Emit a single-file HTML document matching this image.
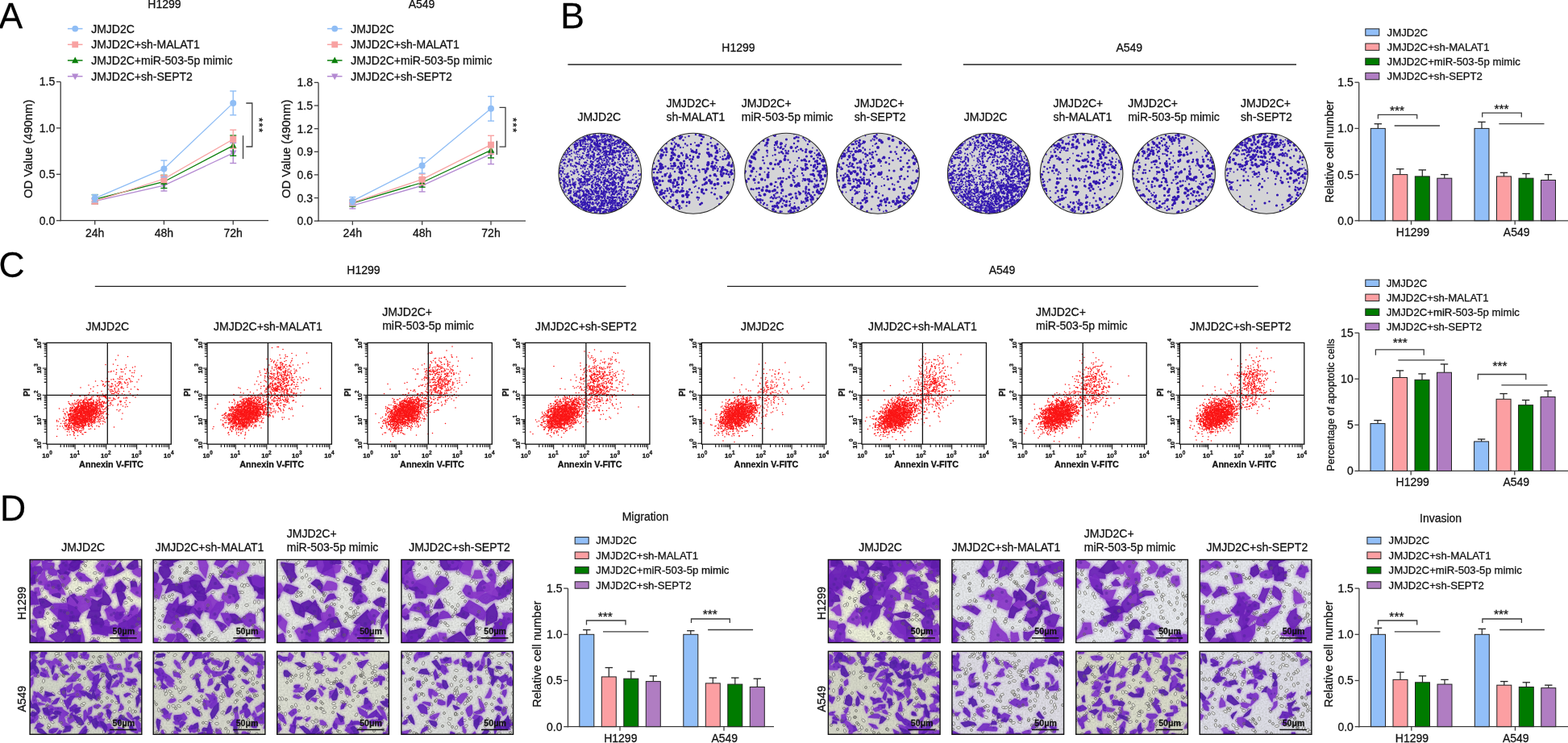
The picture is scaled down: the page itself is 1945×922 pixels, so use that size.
<!DOCTYPE html>
<html><head><meta charset="utf-8"><title>Figure</title>
<style>html,body{margin:0;padding:0;background:#fff;overflow:hidden}svg{display:block}text{stroke:#111;stroke-width:0.28px}</style></head>
<body><svg width="1945" height="922" viewBox="0 0 1945 922" font-family="'Liberation Sans', Arial, sans-serif" font-size="13.6" fill="#111">
<rect width="1945" height="922" fill="#fff"/>
<text x="-1.5" y="34.9" font-size="44.5" fill="#000">A</text>
<text x="695.3" y="34.9" font-size="44.5" fill="#000">B</text>
<text x="-1.5" y="344" font-size="44.5" fill="#000">C</text>
<text x="0" y="646" font-size="44.5" fill="#000">D</text>
<text x="204" y="10.3" text-anchor="middle" font-size="14">H1299</text>
<line x1="83.9" y1="35.6" x2="102.5" y2="35.6" stroke="#8fbdf5" stroke-width="1.5"/>
<circle cx="93.2" cy="35.6" r="3.9" fill="#8fbdf5"/>
<text x="113.2" y="40.5" font-size="14">JMJD2C</text>
<line x1="83.9" y1="55.3" x2="102.5" y2="55.3" stroke="#f8a2a2" stroke-width="1.5"/>
<rect x="89.3" y="51.4" width="7.8" height="7.8" fill="#f8a2a2"/>
<text x="113.2" y="60.2" font-size="14">JMJD2C+sh-MALAT1</text>
<line x1="83.9" y1="75" x2="102.5" y2="75" stroke="#0b7f0b" stroke-width="1.5"/>
<polygon points="93.2,70.5 97.4,78.3 89,78.3" fill="#0b7f0b"/>
<text x="113.2" y="79.9" font-size="14">JMJD2C+miR-503-5p mimic</text>
<line x1="83.9" y1="94.7" x2="102.5" y2="94.7" stroke="#b48ad2" stroke-width="1.5"/>
<polygon points="93.2,99.2 97.4,91.4 89,91.4" fill="#b48ad2"/>
<text x="113.2" y="99.6" font-size="14">JMJD2C+sh-SEPT2</text>
<line x1="75.2" y1="101.5" x2="75.2" y2="274.3" stroke="#3c3c3c" stroke-width="1.3"/>
<line x1="74.5" y1="273.7" x2="333" y2="273.7" stroke="#3c3c3c" stroke-width="1.3"/>
<line x1="69.9" y1="273.7" x2="75.2" y2="273.7" stroke="#3c3c3c" stroke-width="1.3"/>
<text x="68.2" y="278.6" text-anchor="end" font-size="14">0.0</text>
<line x1="69.9" y1="216.3" x2="75.2" y2="216.3" stroke="#3c3c3c" stroke-width="1.3"/>
<text x="68.2" y="221.2" text-anchor="end" font-size="14">0.5</text>
<line x1="69.9" y1="158.9" x2="75.2" y2="158.9" stroke="#3c3c3c" stroke-width="1.3"/>
<text x="68.2" y="163.8" text-anchor="end" font-size="14">1.0</text>
<line x1="69.9" y1="101.5" x2="75.2" y2="101.5" stroke="#3c3c3c" stroke-width="1.3"/>
<text x="68.2" y="106.4" text-anchor="end" font-size="14">1.5</text>
<line x1="117.7" y1="273.7" x2="117.7" y2="278.7" stroke="#3c3c3c" stroke-width="1.3"/>
<text x="117.7" y="293.8" text-anchor="middle" font-size="14">24h</text>
<line x1="203.4" y1="273.7" x2="203.4" y2="278.7" stroke="#3c3c3c" stroke-width="1.3"/>
<text x="203.4" y="293.8" text-anchor="middle" font-size="14">48h</text>
<line x1="289.2" y1="273.7" x2="289.2" y2="278.7" stroke="#3c3c3c" stroke-width="1.3"/>
<text x="289.2" y="293.8" text-anchor="middle" font-size="14">72h</text>
<text x="40" y="184.8" text-anchor="middle" font-size="14.8" transform="rotate(-90 40 184.8)">OD Value (490nm)</text>
<polyline points="117.7,249.6 203.4,230.1 289.2,189.9" stroke="#b48ad2" stroke-width="1.3" fill="none"/>
<polyline points="117.7,247.3 203.4,225.5 289.2,180.7" stroke="#0b7f0b" stroke-width="1.3" fill="none"/>
<polyline points="117.7,249.6 203.4,222 289.2,172.7" stroke="#f8a2a2" stroke-width="1.3" fill="none"/>
<polyline points="117.7,246.1 203.4,209.4 289.2,127.9" stroke="#8fbdf5" stroke-width="1.3" fill="none"/>
<line x1="117.7" y1="246.1" x2="117.7" y2="253" stroke="#b48ad2" stroke-width="1.4"/>
<line x1="113.7" y1="246.1" x2="121.7" y2="246.1" stroke="#b48ad2" stroke-width="1.4"/>
<line x1="113.7" y1="253" x2="121.7" y2="253" stroke="#b48ad2" stroke-width="1.4"/>
<polygon points="117.7,254.2 122,246.2 113.4,246.2" fill="#b48ad2"/>
<line x1="203.4" y1="223.2" x2="203.4" y2="237" stroke="#b48ad2" stroke-width="1.4"/>
<line x1="199.4" y1="223.2" x2="207.4" y2="223.2" stroke="#b48ad2" stroke-width="1.4"/>
<line x1="199.4" y1="237" x2="207.4" y2="237" stroke="#b48ad2" stroke-width="1.4"/>
<polygon points="203.4,234.7 207.7,226.7 199.1,226.7" fill="#b48ad2"/>
<line x1="289.2" y1="177.3" x2="289.2" y2="202.5" stroke="#b48ad2" stroke-width="1.4"/>
<line x1="285.2" y1="177.3" x2="293.2" y2="177.3" stroke="#b48ad2" stroke-width="1.4"/>
<line x1="285.2" y1="202.5" x2="293.2" y2="202.5" stroke="#b48ad2" stroke-width="1.4"/>
<polygon points="289.2,194.5 293.5,186.5 284.9,186.5" fill="#b48ad2"/>
<line x1="117.7" y1="241.6" x2="117.7" y2="253" stroke="#0b7f0b" stroke-width="1.4"/>
<line x1="113.7" y1="241.6" x2="121.7" y2="241.6" stroke="#0b7f0b" stroke-width="1.4"/>
<line x1="113.7" y1="253" x2="121.7" y2="253" stroke="#0b7f0b" stroke-width="1.4"/>
<polygon points="117.7,242.7 122,250.7 113.4,250.7" fill="#0b7f0b"/>
<line x1="203.4" y1="217.4" x2="203.4" y2="233.5" stroke="#0b7f0b" stroke-width="1.4"/>
<line x1="199.4" y1="217.4" x2="207.4" y2="217.4" stroke="#0b7f0b" stroke-width="1.4"/>
<line x1="199.4" y1="233.5" x2="207.4" y2="233.5" stroke="#0b7f0b" stroke-width="1.4"/>
<polygon points="203.4,220.9 207.7,228.9 199.1,228.9" fill="#0b7f0b"/>
<line x1="289.2" y1="168.1" x2="289.2" y2="193.3" stroke="#0b7f0b" stroke-width="1.4"/>
<line x1="285.2" y1="168.1" x2="293.2" y2="168.1" stroke="#0b7f0b" stroke-width="1.4"/>
<line x1="285.2" y1="193.3" x2="293.2" y2="193.3" stroke="#0b7f0b" stroke-width="1.4"/>
<polygon points="289.2,176.1 293.5,184.1 284.9,184.1" fill="#0b7f0b"/>
<line x1="117.7" y1="246.1" x2="117.7" y2="253" stroke="#f8a2a2" stroke-width="1.4"/>
<line x1="113.7" y1="246.1" x2="121.7" y2="246.1" stroke="#f8a2a2" stroke-width="1.4"/>
<line x1="113.7" y1="253" x2="121.7" y2="253" stroke="#f8a2a2" stroke-width="1.4"/>
<rect x="113.7" y="245.6" width="8" height="8" fill="#f8a2a2"/>
<line x1="203.4" y1="217.4" x2="203.4" y2="226.6" stroke="#f8a2a2" stroke-width="1.4"/>
<line x1="199.4" y1="217.4" x2="207.4" y2="217.4" stroke="#f8a2a2" stroke-width="1.4"/>
<line x1="199.4" y1="226.6" x2="207.4" y2="226.6" stroke="#f8a2a2" stroke-width="1.4"/>
<rect x="199.4" y="218" width="8" height="8" fill="#f8a2a2"/>
<line x1="289.2" y1="161.2" x2="289.2" y2="184.2" stroke="#f8a2a2" stroke-width="1.4"/>
<line x1="285.2" y1="161.2" x2="293.2" y2="161.2" stroke="#f8a2a2" stroke-width="1.4"/>
<line x1="285.2" y1="184.2" x2="293.2" y2="184.2" stroke="#f8a2a2" stroke-width="1.4"/>
<rect x="285.2" y="168.7" width="8" height="8" fill="#f8a2a2"/>
<line x1="117.7" y1="241.6" x2="117.7" y2="250.7" stroke="#8fbdf5" stroke-width="1.4"/>
<line x1="113.7" y1="241.6" x2="121.7" y2="241.6" stroke="#8fbdf5" stroke-width="1.4"/>
<line x1="113.7" y1="250.7" x2="121.7" y2="250.7" stroke="#8fbdf5" stroke-width="1.4"/>
<circle cx="117.7" cy="246.1" r="4.0" fill="#8fbdf5"/>
<line x1="203.4" y1="199.1" x2="203.4" y2="219.7" stroke="#8fbdf5" stroke-width="1.4"/>
<line x1="199.4" y1="199.1" x2="207.4" y2="199.1" stroke="#8fbdf5" stroke-width="1.4"/>
<line x1="199.4" y1="219.7" x2="207.4" y2="219.7" stroke="#8fbdf5" stroke-width="1.4"/>
<circle cx="203.4" cy="209.4" r="4.0" fill="#8fbdf5"/>
<line x1="289.2" y1="113" x2="289.2" y2="142.8" stroke="#8fbdf5" stroke-width="1.4"/>
<line x1="285.2" y1="113" x2="293.2" y2="113" stroke="#8fbdf5" stroke-width="1.4"/>
<line x1="285.2" y1="142.8" x2="293.2" y2="142.8" stroke="#8fbdf5" stroke-width="1.4"/>
<circle cx="289.2" cy="127.9" r="4.0" fill="#8fbdf5"/>
<polyline points="305.3,128 312.8,128 312.8,182 305.3,182" stroke="#3c3c3c" stroke-width="1.3" fill="none"/>
<line x1="301.5" y1="168.2" x2="301.5" y2="197.2" stroke="#3c3c3c" stroke-width="1.3"/>
<text x="317" y="155.8" text-anchor="middle" font-size="13.5" transform="rotate(90 317 155.8)" letter-spacing="1.3">***</text>
<text x="523" y="10.3" text-anchor="middle" font-size="14">A549</text>
<line x1="405.9" y1="35.6" x2="424.5" y2="35.6" stroke="#8fbdf5" stroke-width="1.5"/>
<circle cx="415.2" cy="35.6" r="3.9" fill="#8fbdf5"/>
<text x="435.2" y="40.5" font-size="14">JMJD2C</text>
<line x1="405.9" y1="55.3" x2="424.5" y2="55.3" stroke="#f8a2a2" stroke-width="1.5"/>
<rect x="411.3" y="51.4" width="7.8" height="7.8" fill="#f8a2a2"/>
<text x="435.2" y="60.2" font-size="14">JMJD2C+sh-MALAT1</text>
<line x1="405.9" y1="75" x2="424.5" y2="75" stroke="#0b7f0b" stroke-width="1.5"/>
<polygon points="415.2,70.5 419.4,78.3 411,78.3" fill="#0b7f0b"/>
<text x="435.2" y="79.9" font-size="14">JMJD2C+miR-503-5p mimic</text>
<line x1="405.9" y1="94.7" x2="424.5" y2="94.7" stroke="#b48ad2" stroke-width="1.5"/>
<polygon points="415.2,99.2 419.4,91.4 411,91.4" fill="#b48ad2"/>
<text x="435.2" y="99.6" font-size="14">JMJD2C+sh-SEPT2</text>
<line x1="395" y1="102.4" x2="395" y2="274.8" stroke="#3c3c3c" stroke-width="1.3"/>
<line x1="394.4" y1="274.2" x2="652" y2="274.2" stroke="#3c3c3c" stroke-width="1.3"/>
<line x1="389.7" y1="274.2" x2="395" y2="274.2" stroke="#3c3c3c" stroke-width="1.3"/>
<text x="388" y="279.1" text-anchor="end" font-size="14">0.0</text>
<line x1="389.7" y1="245.6" x2="395" y2="245.6" stroke="#3c3c3c" stroke-width="1.3"/>
<text x="388" y="250.5" text-anchor="end" font-size="14">0.3</text>
<line x1="389.7" y1="216.9" x2="395" y2="216.9" stroke="#3c3c3c" stroke-width="1.3"/>
<text x="388" y="221.8" text-anchor="end" font-size="14">0.6</text>
<line x1="389.7" y1="188.3" x2="395" y2="188.3" stroke="#3c3c3c" stroke-width="1.3"/>
<text x="388" y="193.2" text-anchor="end" font-size="14">0.9</text>
<line x1="389.7" y1="159.7" x2="395" y2="159.7" stroke="#3c3c3c" stroke-width="1.3"/>
<text x="388" y="164.6" text-anchor="end" font-size="14">1.2</text>
<line x1="389.7" y1="131" x2="395" y2="131" stroke="#3c3c3c" stroke-width="1.3"/>
<text x="388" y="135.9" text-anchor="end" font-size="14">1.5</text>
<line x1="389.7" y1="102.4" x2="395" y2="102.4" stroke="#3c3c3c" stroke-width="1.3"/>
<text x="388" y="107.3" text-anchor="end" font-size="14">1.8</text>
<line x1="437.3" y1="274.2" x2="437.3" y2="279.2" stroke="#3c3c3c" stroke-width="1.3"/>
<text x="437.3" y="294.3" text-anchor="middle" font-size="14">24h</text>
<line x1="523.6" y1="274.2" x2="523.6" y2="279.2" stroke="#3c3c3c" stroke-width="1.3"/>
<text x="523.6" y="294.3" text-anchor="middle" font-size="14">48h</text>
<line x1="609" y1="274.2" x2="609" y2="279.2" stroke="#3c3c3c" stroke-width="1.3"/>
<text x="609" y="294.3" text-anchor="middle" font-size="14">72h</text>
<text x="359.8" y="184.8" text-anchor="middle" font-size="14.8" transform="rotate(-90 359.8 184.8)">OD Value (490nm)</text>
<polyline points="437.3,255.1 523.6,230.3 609,191.2" stroke="#b48ad2" stroke-width="1.3" fill="none"/>
<polyline points="437.3,252.2 523.6,226.5 609,186.4" stroke="#0b7f0b" stroke-width="1.3" fill="none"/>
<polyline points="437.3,251.3 523.6,222.7 609,179.7" stroke="#f8a2a2" stroke-width="1.3" fill="none"/>
<polyline points="437.3,249.4 523.6,205.5 609,134.8" stroke="#8fbdf5" stroke-width="1.3" fill="none"/>
<line x1="437.3" y1="251.3" x2="437.3" y2="258.9" stroke="#b48ad2" stroke-width="1.4"/>
<line x1="433.3" y1="251.3" x2="441.3" y2="251.3" stroke="#b48ad2" stroke-width="1.4"/>
<line x1="433.3" y1="258.9" x2="441.3" y2="258.9" stroke="#b48ad2" stroke-width="1.4"/>
<polygon points="437.3,259.7 441.6,251.7 433,251.7" fill="#b48ad2"/>
<line x1="523.6" y1="222.7" x2="523.6" y2="237.9" stroke="#b48ad2" stroke-width="1.4"/>
<line x1="519.6" y1="222.7" x2="527.6" y2="222.7" stroke="#b48ad2" stroke-width="1.4"/>
<line x1="519.6" y1="237.9" x2="527.6" y2="237.9" stroke="#b48ad2" stroke-width="1.4"/>
<polygon points="523.6,234.9 527.9,226.9 519.3,226.9" fill="#b48ad2"/>
<line x1="609" y1="178.8" x2="609" y2="203.6" stroke="#b48ad2" stroke-width="1.4"/>
<line x1="605" y1="178.8" x2="613" y2="178.8" stroke="#b48ad2" stroke-width="1.4"/>
<line x1="605" y1="203.6" x2="613" y2="203.6" stroke="#b48ad2" stroke-width="1.4"/>
<polygon points="609,195.8 613.3,187.8 604.7,187.8" fill="#b48ad2"/>
<line x1="437.3" y1="248.4" x2="437.3" y2="256.1" stroke="#0b7f0b" stroke-width="1.4"/>
<line x1="433.3" y1="248.4" x2="441.3" y2="248.4" stroke="#0b7f0b" stroke-width="1.4"/>
<line x1="433.3" y1="256.1" x2="441.3" y2="256.1" stroke="#0b7f0b" stroke-width="1.4"/>
<polygon points="437.3,247.6 441.6,255.6 433,255.6" fill="#0b7f0b"/>
<line x1="523.6" y1="220.7" x2="523.6" y2="232.2" stroke="#0b7f0b" stroke-width="1.4"/>
<line x1="519.6" y1="220.7" x2="527.6" y2="220.7" stroke="#0b7f0b" stroke-width="1.4"/>
<line x1="519.6" y1="232.2" x2="527.6" y2="232.2" stroke="#0b7f0b" stroke-width="1.4"/>
<polygon points="523.6,221.9 527.9,229.9 519.3,229.9" fill="#0b7f0b"/>
<line x1="609" y1="176.8" x2="609" y2="195.9" stroke="#0b7f0b" stroke-width="1.4"/>
<line x1="605" y1="176.8" x2="613" y2="176.8" stroke="#0b7f0b" stroke-width="1.4"/>
<line x1="605" y1="195.9" x2="613" y2="195.9" stroke="#0b7f0b" stroke-width="1.4"/>
<polygon points="609,181.8 613.3,189.8 604.7,189.8" fill="#0b7f0b"/>
<line x1="437.3" y1="247.5" x2="437.3" y2="255.1" stroke="#f8a2a2" stroke-width="1.4"/>
<line x1="433.3" y1="247.5" x2="441.3" y2="247.5" stroke="#f8a2a2" stroke-width="1.4"/>
<line x1="433.3" y1="255.1" x2="441.3" y2="255.1" stroke="#f8a2a2" stroke-width="1.4"/>
<rect x="433.3" y="247.3" width="8" height="8" fill="#f8a2a2"/>
<line x1="523.6" y1="216" x2="523.6" y2="229.3" stroke="#f8a2a2" stroke-width="1.4"/>
<line x1="519.6" y1="216" x2="527.6" y2="216" stroke="#f8a2a2" stroke-width="1.4"/>
<line x1="519.6" y1="229.3" x2="527.6" y2="229.3" stroke="#f8a2a2" stroke-width="1.4"/>
<rect x="519.6" y="218.7" width="8" height="8" fill="#f8a2a2"/>
<line x1="609" y1="168.3" x2="609" y2="191.2" stroke="#f8a2a2" stroke-width="1.4"/>
<line x1="605" y1="168.3" x2="613" y2="168.3" stroke="#f8a2a2" stroke-width="1.4"/>
<line x1="605" y1="191.2" x2="613" y2="191.2" stroke="#f8a2a2" stroke-width="1.4"/>
<rect x="605" y="175.7" width="8" height="8" fill="#f8a2a2"/>
<line x1="437.3" y1="244.6" x2="437.3" y2="254.2" stroke="#8fbdf5" stroke-width="1.4"/>
<line x1="433.3" y1="244.6" x2="441.3" y2="244.6" stroke="#8fbdf5" stroke-width="1.4"/>
<line x1="433.3" y1="254.2" x2="441.3" y2="254.2" stroke="#8fbdf5" stroke-width="1.4"/>
<circle cx="437.3" cy="249.4" r="4.0" fill="#8fbdf5"/>
<line x1="523.6" y1="195.9" x2="523.6" y2="215" stroke="#8fbdf5" stroke-width="1.4"/>
<line x1="519.6" y1="195.9" x2="527.6" y2="195.9" stroke="#8fbdf5" stroke-width="1.4"/>
<line x1="519.6" y1="215" x2="527.6" y2="215" stroke="#8fbdf5" stroke-width="1.4"/>
<circle cx="523.6" cy="205.5" r="4.0" fill="#8fbdf5"/>
<line x1="609" y1="119.6" x2="609" y2="150.1" stroke="#8fbdf5" stroke-width="1.4"/>
<line x1="605" y1="119.6" x2="613" y2="119.6" stroke="#8fbdf5" stroke-width="1.4"/>
<line x1="605" y1="150.1" x2="613" y2="150.1" stroke="#8fbdf5" stroke-width="1.4"/>
<circle cx="609" cy="134.8" r="4.0" fill="#8fbdf5"/>
<polyline points="619.5,133.4 627,133.4 627,182.2 619.5,182.2" stroke="#3c3c3c" stroke-width="1.3" fill="none"/>
<line x1="616.3" y1="174.7" x2="616.3" y2="192" stroke="#3c3c3c" stroke-width="1.3"/>
<text x="631.8" y="155.8" text-anchor="middle" font-size="13.5" transform="rotate(90 631.8 155.8)" letter-spacing="1.3">***</text>
<text x="916" y="63.5" text-anchor="middle" font-size="14">H1299</text>
<line x1="704.4" y1="80.1" x2="1118.6" y2="80.1" stroke="#444" stroke-width="1.7"/>
<text x="716.4" y="150" font-size="14">JMJD2C</text>
<text x="826.4" y="133" font-size="14">JMJD2C+</text>
<text x="826.4" y="150" font-size="14">sh-MALAT1</text>
<text x="919.8" y="133" font-size="14">JMJD2C+</text>
<text x="919.8" y="150" font-size="14">miR-503-5p mimic</text>
<text x="1059.8" y="133" font-size="14">JMJD2C+</text>
<text x="1059.8" y="150" font-size="14">sh-SEPT2</text>
<clipPath id="pc100"><ellipse cx="744.3" cy="215.2" rx="51.3" ry="50.0"/></clipPath>
<ellipse cx="744.3" cy="215.2" rx="51.3" ry="50.0" fill="#d4d4d6"/>
<g clip-path="url(#pc100)">
<path d="M746.5 166h0m-8.5 0h0m0.5 1h0m15.5 0.5h0m-0.5 0.5h0m-3 0.5h0m-19 0h0m28 0.5h0m-10.5 0h0m-6 0.5h0m15 0h0m-0.5 0h0m-22.5 0h0m28.5 0.5h0m-11 0h0m-15.5 0.5h0m28 0h0m-11.5 0.5h0m-11 0h0m7.5 0.5h0m9.5 0h0m-2 0.5h0m1.5 0h0m-36 0h0m24 0h0m10.5 0.5h0m-3.5 0h0m0.5 0h0m-24.5 0.5h0m27 0h0m-36 0h0m13 0.5h0m17 0h0m15 0h0m-22.5 0h0m-7.5 0h0m-10 0h0m34.5 0.5h0m0 0.5h0m-32 0.5h0m-7.5 0h0m16.5 0h0m3 0h0m33 0h0m-19 0h0m-9.5 1h0m1.5 0h0m5.5 0h0m22.5 0.5h0m-52 0h0m-2.5 0h0m-2.5 0.5h0m32.5 0h0m0.5 0h0m-32.5 0h0m39 0h0m-6 0.5h0m10 0h0m11 0h0m-14 0h0m20 0h0m-48.5 0.5h0m-10 0h0m45 0.5h0m6.5 0.5h0m-29.5 0h0m24 0.5h0m-54.5 0h0m26.5 0h0m24.5 0.5h0m-18 0.5h0m-24 0h0m0.5 1h0m24 0h0m-24.5 0h0m3.5 0h0m17 0h0m4.5 0h0m-6 0.5h0m-8 0h0m-18.5 0.5h0m24.5 0h0m45 0h0m-1 0.5h0m-68 0h0m14.5 0.5h0m-22.5 0h0m32.5 0h0m40 0h0m-3 0h0m-69.5 0h0m18.5 0.5h0m-18 0h0m51 0h0m0 0h0m-25 0h0m25.5 0h0m4.5 0h0m11.5 0.5h0m-47.5 0h0m-3.5 0.5h0m25.5 0h0m-21.5 0h0m22.5 0.5h0m8.5 0h0m15 0h0m-63 0.5h0m48.5 0h0m-31.5 0h0m-22.5 0.5h0m-0.5 0h0m45 0h0m20.5 0.5h0m-37 0h0m30.5 0h0m22 0.5h0m-79.5 0h0m64 0h0m6 0h0m-33.5 0.5h0m-29 0h0m69.5 0h0m-22 0h0m7 0.5h0m-16 0h0m6 0h0m-26 0h0m21 0.5h0m-7.5 0h0m18 0h0m2 0.5h0m23.5 0h0m-59.5 0h0m24.5 0h0m16.5 0.5h0m-23 0h0m17 0h0m24.5 0h0m-35 0.5h0m-3 0h0m19.5 0h0m-38.5 0h0m11.5 0.5h0m14.5 0h0m-7.5 0h0m34.5 0h0m-69 0h0m-10.5 0.5h0m37 0h0m3 0h0m13.5 0h0m-9 0.5h0m18.5 0h0m-48 0h0m49.5 0h0m-25.5 0h0m-10 0.5h0m-5 0.5h0m46.5 0h0m-24 0h0m32.5 0h0m-15.5 0.5h0m16 0h0m-75 0.5h0m28.5 0h0m-9 0.5h0m2.5 0h0m22.5 0h0m-54 0.5h0m38.5 0h0m0.5 0h0m16.5 0.5h0m-32 0h0m-5 0h0m33.5 0.5h0m-24.5 0h0m13.5 0.5h0m-3 0.5h0m5.5 0h0m4 0h0m-40 0h0m79 0.5h0m-28 0h0m-52.5 0h0m68.5 0.5h0m-75.5 0h0m3.5 0.5h0m-2 0.5h0m79 0h0m-18 0h0m-13.5 0.5h0m-5.5 0h0m-4 0h0m-27.5 0.5h0m79.5 0h0m-16.5 0h0m0 0h0m-75.5 0.5h0m36.5 0h0m35 0h0m-2.5 0.5h0m-20 0h0m33.5 0h0m-17.5 0h0m18 0h0m-85 0.5h0m37 0h0m22 0h0m12 0.5h0m-41 0.5h0m-23.5 0.5h0m31.5 0h0m36.5 0.5h0m-41 0h0m45.5 0h0m-56 0.5h0m40.5 0h0m-19.5 0h0m8.5 0h0m-17 0h0m13 0h0m12.5 0.5h0m-16.5 0h0m33 0h0m-22.5 0.5h0m-15 0h0m0.5 0h0m40 0h0m-25.5 0h0m10 1h0m22 0h0m-68 0h0m-14 0h0m41.5 0h0m-19.5 0.5h0m12 0h0m-23 0.5h0m-13.5 0h0m5 0h0m28 0h0m36 1h0m-72 0h0m73 0.5h0m-27 0h0m-18 0h0m32 0.5h0m-60.5 0.5h0m55.5 0.5h0m-50 0h0m54 0h0m27.5 0h0m-33 0.5h0m-8.5 0h0m9.5 0h0m-1 0.5h0m-13.5 0h0m-23 0h0m30 0h0m-8.5 0h0m23.5 0.5h0m-24 0h0m-2.5 0h0m50 0h0m-32.5 0.5h0m22 0h0m-42.5 0.5h0m30 0h0m-8 0.5h0m-22.5 0h0m21 0h0m-2 0.5h0m-51.5 0h0m27.5 0h0m34.5 0h0m-25.5 0h0m26.5 1h0m-12 0h0m-47 0.5h0m33 0.5h0m17 0h0m-5.5 0.5h0m49.5 0h0m-54 0h0m26 0h0m-26.5 0.5h0m21 0h0m-32 0h0m50 0.5h0m-4.5 0h0m-35 0h0m55.5 0.5h0m2 0h0m-62 0h0m22 0h0m38.5 0h0m-20.5 0h0m-22.5 0.5h0m-25.5 0h0m39 0h0m12 0h0m-18 0h0m27 0h0m-21 0h0m6.5 0h0m-41 0.5h0m29 0h0m11 0h0m-29.5 0.5h0m2 0.5h0m13 0.5h0m9 0.5h0m-13 0h0m-1 0h0m-33 0h0m25.5 0.5h0m14.5 0.5h0m16.5 0h0m-22 0h0m-30.5 0h0m6 0h0m28 0h0m-45 0h0m5.5 0.5h0m28.5 0h0m-2.5 0h0m-1.5 0h0m-21.5 0.5h0m-22 0h0m40.5 0h0m-9 0.5h0m40 0h0m-41.5 0h0m37.5 0h0m-16.5 0h0m38.5 0h0m5.5 0h0m-47.5 0.5h0m-16.5 0h0m17.5 0.5h0m-17 0.5h0m46 0h0m-32 0h0m19 0.5h0m11.5 0h0m-69 0h0m21 0.5h0m55 0h0m-65.5 0h0m-3.5 0.5h0m63.5 0.5h0m-49.5 0h0m2 0h0m-12.5 0h0m-14 0.5h0m45 0h0m-16.5 0.5h0m-14.5 0.5h0m11 0h0m24 0h0m-37 0h0m38 0h0m-28 0h0m4 0.5h0m-14 0h0m-7 0h0m26.5 0.5h0m6 0h0m1 0.5h0m2 0h0m-42 0h0m60.5 0h0m-45.5 0.5h0m48.5 0.5h0m-35.5 0h0m37.5 0h0m-63.5 0.5h0m7.5 0h0m82 0h0m-41 0.5h0m-15 0h0m15.5 0h0m-36 0.5h0m-16.5 0h0m45 0h0m9 0h0m-50.5 0h0m22 0h0m42 0.5h0m0.5 0.5h0m22 0h0m-29.5 0h0m34 0h0m-46.5 0.5h0m10 0h0m-7 0h0m-35 0h0m-6 0.5h0m30.5 0h0m-30.5 0.5h0m44.5 0h0m-20 0h0m-10 0.5h0m63.5 0h0m-73.5 0.5h0m15 0h0m48 0h0m-6 0h0m6 0h0m-21.5 0.5h0m-13 0h0m18.5 0h0m27 0h0m-36 0h0m-23 0.5h0m-3.5 0h0m56 0h0m-65 0.5h0m9.5 0h0m15.5 0h0m-14 0h0m63.5 0h0m-19 0h0m-57.5 0.5h0m17 0h0m-5.5 0h0m12 0h0m16 0.5h0m-40 0h0m-9.5 0h0m26.5 0h0m-13 0h0m62.5 0h0m-14 0h0m-44.5 0h0m67 0.5h0m-43.5 0h0m28.5 0h0m-2 0h0m7 0h0m-37.5 0.5h0m-9.5 0h0m-29.5 0h0m11.5 0h0m18.5 0.5h0m41 0h0m-39.5 0h0m-16.5 0h0m41.5 0h0m-7.5 0.5h0m-3 0h0m-4 0h0m-27.5 0h0m25.5 0h0m8.5 0h0m-43.5 0.5h0m19 0h0m45.5 0h0m-56.5 0h0m32 0.5h0m11 0h0m-11 0h0m-25.5 0h0m15.5 0.5h0m10 0h0m3.5 0h0m-22 0h0m-3 0h0m-11 0.5h0m62.5 0h0m-17 0.5h0m-54.5 0h0m74 0h0m-33.5 0.5h0m-24 0h0m-12 0h0m3.5 0h0m54 0h0m5.5 0h0m4 0h0m-37 0h0m-15.5 0.5h0m61.5 0h0m-53 0h0m-0.5 0h0m23 0h0m29.5 0h0m-60 0h0m-9 0h0m6 1h0m43 0h0m-9.5 0h0m19.5 0.5h0m-64.5 0h0m19.5 0h0m-8.5 0h0m38 0h0m-30.5 1h0m-22.5 0h0m36 0.5h0m-36 0h0m74 0h0m-50.5 0h0m38 0.5h0m-60.5 0h0m73 0h0m-35.5 0.5h0m-1 0h0m33 0h0m-25 0.5h0m-36 0h0m9 0h0m33 0h0m-28.5 0.5h0m11 0h0m-29.5 0h0m22.5 0h0m-24 0.5h0m57.5 0h0m-54.5 0h0m-2 0h0m46.5 0h0m-34.5 0.5h0m20.5 0h0m5 0.5h0m-20 0h0m25.5 0h0m-2.5 0h0m-33 0h0m54 0h0m-1 0.5h0m-45.5 0h0m0.5 0h0m15.5 0h0m-13.5 0h0m-13 0.5h0m61 0h0m2.5 0h0m-11 0.5h0m-36 0h0m13.5 0h0m-23 0h0m1 0.5h0m28.5 0h0m-9.5 0h0m-3 0h0m21.5 0.5h0m16.5 0h0m-25.5 0h0m-22 0h0m38 0h0m-5.5 0h0m-28.5 0.5h0m4.5 0h0m6 0h0m19 0h0m-46 0.5h0m53 0h0m-39 0h0m7.5 0h0m-23.5 0h0m52.5 0h0m-44.5 0.5h0m50.5 0h0m-36 0h0m-17.5 0.5h0m1.5 0h0m33 0.5h0m-11 0h0m-28 0h0m27.5 0h0m9 0.5h0m-27 0h0m-5.5 0h0m8.5 0h0m5 0h0m6 0.5h0m12 0h0m-31.5 0h0m45.5 0h0m-8.5 1h0m0 0h0m-23 0.5h0m23 0h0m12.5 0h0m-14 0h0m9.5 0.5h0m-26 0h0m31.5 0.5h0m-23 0h0m3 0h0m-13.5 0h0m35 0h0m-5 0h0m-22.5 0h0m-13.5 0.5h0m18.5 0h0m5 0.5h0m7 0h0m-22.5 0h0m14 0.5h0m-24.5 0h0m-4 0.5h0m10 0h0m29.5 0h0m-20.5 0h0m16.5 0h0m-7.5 0.5h0m-7 0.5h0m19.5 0h0m-5 0.5h0m-1.5 0h0m-1.5 0.5h0m0.5 0h0m1 0.5h0m-4.5 0h0m-14 0.5h0m15 0.5h0" stroke="#3318b0" stroke-width="1.5" stroke-linecap="round" fill="none"/>
<path d="M742.5 165.5h0m3 1h0m-14 0.5h0m16.5 1h0m1.5 0.5h0m-4 0h0m-9 0h0m12.5 0h0m13.5 0.5h0m-15 0h0m-12 0h0m4.5 0h0m10 0h0m-17 1h0m-10 0h0m33 0h0m-7.5 0h0m-24 0h0m22 0.5h0m-13.5 0h0m25.5 0h0m-18 0h0m-10.5 0.5h0m7.5 0h0m1 0h0m28.5 0h0m-16 1h0m-11.5 0h0m-6.5 0.5h0m-15.5 0h0m52 0h0m1.5 0h0m-44.5 0.5h0m14 0h0m8.5 0h0m-24.5 0h0m45 0h0m-0.5 0.5h0m-39.5 0h0m-1 0h0m39 0.5h0m-35 0h0m12 0h0m21.5 0h0m-41.5 0h0m-8.5 0.5h0m6 0h0m21.5 0h0m4 0h0m0 0h0m-29 0h0m52 0h0m-28.5 0.5h0m22.5 0h0m-41 0h0m39.5 0.5h0m-7.5 0.5h0m-4 0h0m-25.5 0h0m-12.5 0h0m36 0h0m-26 0.5h0m25 0h0m25 0h0m-59.5 0h0m27 0h0m6 0h0m26.5 0h0m-35 0.5h0m-1.5 0h0m28.5 0.5h0m1 0h0m-7 0h0m8.5 0.5h0m7 0h0m-2.5 0h0m-12.5 0h0m17 0.5h0m-4 0h0m-41 0h0m-6.5 0h0m46.5 0h0m-44.5 0h0m12.5 0h0m4 0h0m-21 0h0m28.5 0h0m11.5 0.5h0m-4 0h0m-14 0h0m-25.5 0.5h0m52.5 0h0m-32 0h0m-1 0h0m-23 0h0m-2 0h0m38.5 0h0m-23 0h0m33 0h0m-6 0.5h0m0.5 0h0m5 0h0m-19.5 0h0m17 0.5h0m17 0h0m-3 0h0m-34.5 0.5h0m-22.5 0h0m4.5 0h0m44.5 0.5h0m-11.5 0h0m14.5 0h0m-24.5 0.5h0m7.5 0h0m-36.5 0h0m34.5 0h0m-20.5 0h0m-6 0h0m18.5 0.5h0m0 0h0m31 0h0m-25.5 0h0m11 0.5h0m-6.5 0h0m-10.5 0h0m9.5 0h0m-37.5 0h0m36 0h0m-10 0.5h0m30.5 0h0m-12 0h0m-6.5 0.5h0m-45 0h0m41.5 0h0m-42 0h0m49 0h0m-22 0.5h0m10 0h0m-18.5 0.5h0m7.5 0h0m6 0h0m-24 0h0m30 0h0m36 0h0m-38.5 0h0m40.5 0.5h0m-8 0h0m-44.5 0h0m12.5 0h0m-5 0h0m35 0.5h0m-39 0.5h0m51 0h0m-22 0h0m-17 0h0m7 0h0m-6 0h0m21.5 0.5h0m12 0h0m-8.5 0.5h0m-66.5 0h0m40.5 0h0m8 0h0m-27.5 0h0m31 0.5h0m-21 0h0m-28.5 0h0m51 0h0m4.5 0h0m-17 0h0m-29.5 0h0m38.5 0h0m3 0h0m-1.5 0.5h0m13.5 0h0m16.5 0h0m-38 0.5h0m15.5 0h0m24 0h0m-5 0h0m-67 0.5h0m46.5 0h0m-9 0h0m-40 0h0m47.5 0.5h0m-17.5 0h0m13.5 0h0m-54.5 0h0m49 0h0m8.5 0h0m-36 0h0m33 0h0m-47 0.5h0m15 0h0m49.5 0h0m-22 1h0m-9 0h0m-26 0h0m72.5 0.5h0m-60.5 0h0m12.5 0h0m12 0h0m2 0h0m-56 0h0m1.5 0h0m2 0h0m27 0h0m26 0h0m-25 0h0m30 0.5h0m15 0h0m-26 0h0m-14 0h0m28 0.5h0m16 0h0m-28 0h0m-29 0.5h0m65.5 0h0m-40.5 0.5h0m6 0h0m-21 0.5h0m-13.5 0h0m-3 0h0m19 0h0m-21.5 0.5h0m55.5 0h0m-14 0.5h0m9.5 0h0m-13.5 0.5h0m38.5 0h0m-60 0h0m54.5 0h0m-32.5 0.5h0m-10 0h0m-20 0h0m-8 0.5h0m35.5 0h0m-8.5 0h0m-16.5 0h0m32.5 0.5h0m-11.5 0h0m10.5 0h0m-19.5 0h0m-35.5 0h0m46 0.5h0m6.5 0.5h0m8 0h0m-22 0h0m4 0h0m-14.5 0.5h0m21.5 0h0m-1 0.5h0m6 0.5h0m-12.5 0h0m-9.5 0h0m44.5 0h0m0 1h0m-59 0h0m-22 0.5h0m28.5 0h0m37.5 0.5h0m11 0h0m-10 0h0m-16 0h0m-4 0h0m-16 0h0m29 0.5h0m-12 0.5h0m6 0h0m-8.5 0.5h0m-34.5 0h0m1 0h0m52.5 0.5h0m10.5 0h0m-17 0.5h0m-13.5 0.5h0m-14 0h0m46 0h0m-11 0h0m-12.5 0h0m2 0h0m-56 0.5h0m17 0h0m79.5 0h0m-49 0h0m-30 0h0m-5 0h0m2 0.5h0m60 0h0m-18.5 0h0m4.5 0h0m-23 0.5h0m32 0.5h0m-22.5 0.5h0m36 0h0m-27 0h0m-26 0h0m25.5 0h0m-5.5 0.5h0m20.5 0h0m-15 0h0m-3 0.5h0m20.5 0.5h0m-34 0h0m26.5 0h0m-40.5 0h0m8.5 0.5h0m15.5 0.5h0m10 0h0m-29 0h0m54 0h0m-5.5 0h0m-16 0.5h0m-11.5 0h0m35.5 0.5h0m-31.5 0h0m-12.5 0.5h0m28 0h0m-22.5 0.5h0m48.5 0h0m-52.5 0h0m-41 0h0m-2.5 0h0m78 0h0m-66 0.5h0m5 0h0m43 0h0m-33 0h0m36 0.5h0m-31 0h0m48 0h0m-59.5 0h0m61.5 0.5h0m-67.5 0h0m32 0h0m4.5 0.5h0m-53 0h0m72.5 0h0m-40 0.5h0m-32.5 0.5h0m55 0h0m19.5 0h0m-64 0h0m19 0h0m35 0.5h0m13 0h0m0.5 0h0m-24 0h0m46.5 0.5h0m-69 0h0m-25 0h0m72 0h0m16 0h0m-23.5 0h0m6 0h0m-43 0.5h0m-10 0h0m45 0h0m23 0h0m-27 0h0m-50 0.5h0m27 0h0m22.5 0h0m-29 0h0m21 0.5h0m-9 0.5h0m-20.5 0h0m42.5 0.5h0m-37 0h0m-30 0.5h0m26 0h0m9 0h0m36 0.5h0m-11.5 0h0m33 0.5h0m-50 0h0m28 0h0m-22 0h0m-21 0h0m35.5 0.5h0m-55 0h0m-0.5 0h0m59 0h0m-37.5 0.5h0m36.5 0h0m-14 0h0m-13.5 0.5h0m5.5 0h0m-21.5 0.5h0m75 0h0m-64 0h0m-8.5 0h0m37.5 0.5h0m-1.5 0.5h0m-6 0h0m-50 0h0m39 0h0m44.5 0h0m-24 0h0m-40.5 0h0m-3 0.5h0m-17.5 0h0m11 0h0m62 0h0m-77.5 0h0m3 0.5h0m38.5 0h0m-18.5 0h0m0 0.5h0m10.5 0h0m54 0h0m-54.5 0h0m23.5 0h0m18 0h0m0 0.5h0m-44 0h0m-25 0.5h0m34.5 0h0m5 0h0m-5 0h0m-28 0h0m35 0h0m-13.5 0h0m34 0.5h0m-12.5 0h0m29.5 0h0m-58.5 0.5h0m-8.5 0h0m48 0h0m18 0h0m-76.5 0h0m31.5 0h0m21.5 0h0m0.5 0h0m17.5 0.5h0m-9 0h0m8.5 0h0m-34 0h0m55 0.5h0m-6.5 0h0m-87.5 0h0m59 0h0m-56.5 0h0m90.5 0.5h0m-57 0h0m23 0h0m-56 0h0m23 0.5h0m4.5 0h0m12 0h0m-11 0.5h0m-27 0h0m59 0h0m4 0h0m-42 0h0m-5.5 0.5h0m33.5 0h0m-12.5 0h0m1.5 0h0m-20 0h0m-9 0h0m21 0h0m25.5 0.5h0m-17 0h0m-35 0h0m36.5 0h0m-2 0.5h0m13 0h0m-21 0h0m26 0h0m-18 0h0m1.5 0h0m47.5 0h0m-52.5 0.5h0m26 0h0m7.5 0h0m-71 0h0m2.5 0.5h0m65 0h0m1.5 0h0m-49.5 0h0m-8 0.5h0m55 0h0m-47.5 0h0m54.5 0h0m-28.5 0h0m7 0h0m-52.5 0h0m12.5 0h0m22.5 0.5h0m-1.5 0h0m-34 0h0m19.5 0.5h0m62 0h0m-19 0h0m-53.5 0h0m46 0.5h0m-37 0h0m25.5 0h0m8.5 0h0m30.5 0h0m-5 0h0m-52 0.5h0m28 0h0m34.5 0h0m-16.5 0h0m-64 0h0m46.5 0h0m5.5 0.5h0m27.5 0h0m-26.5 0h0m-11.5 0.5h0m13 0h0m-0.5 0h0m-43 0.5h0m0.5 0h0m50.5 0h0m-49 0.5h0m34.5 0h0m-18.5 0h0m34.5 0h0m-69 0h0m17.5 0h0m8.5 0.5h0m6 0h0m-6.5 0h0m1.5 0h0m-10.5 0h0m46 0h0m-3 0.5h0m-31.5 0h0m3.5 0h0m36.5 0h0m-2.5 0h0m-33.5 0h0m9 0h0m9 0.5h0m6 0h0m-18 0h0m-39.5 0.5h0m27 0h0m-4 0h0m28 0h0m-10 0.5h0m-23 0h0m-12.5 0h0m45 0h0m-27 0h0m17 0.5h0m27 0.5h0m-8 0h0m3.5 0h0m-0.5 0h0m-38.5 0.5h0m10.5 0h0m25 0h0m7 0h0m-24.5 0.5h0m-15.5 0h0m21 0h0m-2 0h0m-5.5 0h0m7 0.5h0m12.5 0h0m-27.5 0h0m43.5 0h0m-29 0h0m-23 0h0m44.5 0h0m17.5 0.5h0m-71.5 0h0m52 0h0m-8 0h0m-43 0h0m46.5 0h0m3.5 0h0m5.5 0h0m-22.5 0.5h0m0.5 0.5h0m-30.5 0h0m5.5 0.5h0m62 0h0m-73 0h0m3 0h0m42.5 0h0m-43.5 0.5h0m3.5 0.5h0m30 0h0m36 0h0m-3.5 0h0m-65.5 0h0m17 0h0m3 0.5h0m7.5 0h0m12 0h0m-0.5 0h0m-33.5 0h0m-13.5 0h0m65 0.5h0m-29.5 0h0m-4 0h0m-14 0.5h0m-7.5 0h0m33 0h0m-9 0h0m-11.5 0h0m20 0.5h0m4.5 0.5h0m-4.5 0h0m19 0h0m-49 0h0m-10 0h0m17.5 0.5h0m-4.5 0h0m50.5 0h0m-40.5 0h0m-23 0.5h0m69 0h0m-4 0h0m-50.5 0h0m11 0h0m41 0h0m-46 0.5h0m33 0h0m-24 0h0m-31 0h0m23 0h0m37.5 0.5h0m-43.5 0h0m33.5 0h0m-7 0.5h0m6.5 0h0m12 0.5h0m-20 0h0m-25 0.5h0m45 0h0m0.5 0h0m-58.5 0.5h0m2.5 0h0m17 0h0m-2 0.5h0m22.5 0h0m2.5 0h0m-43.5 0h0m17.5 0h0m-3 0h0m9.5 0h0m-12 0h0m-10 0h0m41.5 0h0m-30 0.5h0m36 0h0m7.5 0.5h0m-8.5 0h0m-9.5 0h0m-11.5 0h0m-22 0.5h0m40.5 0h0m-29.5 0h0m20 0.5h0m-25.5 0h0m-4.5 0h0m39 0.5h0m-36 0h0m44.5 0h0m-12 0h0m-13 0h0m9.5 0h0m-35 0.5h0m45 0h0m-46 0.5h0m49 0h0m-38.5 0h0m7 0h0m-8 0h0m37 0h0m-12.5 0h0m5 0h0m6 0.5h0m4.5 0h0m-41 0h0m6 0h0m1.5 0h0m24 0h0m13.5 0h0m-21.5 0.5h0m12.5 0h0m16 0h0m-57.5 0h0m52 0h0m2.5 0h0m-44 0.5h0m-5.5 0h0m23 0h0m-25.5 0h0m38.5 0h0m-14.5 0.5h0m-26 0.5h0m39.5 0h0m-11.5 0h0m-6.5 0h0m-1 0h0m-12 0h0m32.5 0h0m-32 0h0m36 0.5h0m-45 0h0m46.5 0h0m-30.5 0h0m3 0h0m-1 0.5h0m28 0h0m-41.5 0h0m24 0.5h0m-22.5 0h0m20 0h0m26 0h0m-31.5 0.5h0m10.5 0h0m-1 0h0m17 0.5h0m-25.5 0h0m-15 0h0m3.5 0h0m17.5 0h0m-7.5 0h0m23.5 0h0m6.5 0h0m-16 0.5h0m9 0h0m-24.5 0.5h0m-2 0h0m6.5 0.5h0m14.5 0h0m-20 0h0m24 0h0m4.5 0.5h0m-5 0h0m-28.5 0h0m14 0.5h0m6 0h0m-16.5 0h0m18 0.5h0m-7 0h0m-4 0.5h0m17 0h0m-7.5 0.5h0m-10 0.5h0m4 0h0m4.5 0h0m-1 0.5h0m1.5 0h0m-3.5 0h0m6.5 0h0m-3.5 0h0" stroke="#3318b0" stroke-width="2.0" stroke-linecap="round" fill="none"/>
<path d="M749.5 165.5h0m-13.5 0.5h0m10 0.5h0m4.5 1.5h0m-12 0.5h0m-0.5 0h0m-0.5 0h0m-10.5 0h0m15 0.5h0m15.5 0h0m-28.5 0h0m33 0h0m-31.5 1h0m25.5 3h0m-26.5 0h0m1.5 0h0m15.5 0.5h0m-13.5 0h0m28 0h0m-6.5 0.5h0m-1.5 0h0m-28.5 0h0m-1.5 0h0m17.5 0h0m-15.5 0.5h0m33.5 0h0m-18.5 0.5h0m-5 0h0m21 0.5h0m-21.5 0.5h0m32.5 0h0m-33.5 0.5h0m16 0h0m24 0h0m-11 0.5h0m-42.5 0h0m55.5 0.5h0m-31.5 0.5h0m-24 0h0m58.5 0h0m-41.5 0h0m40 0h0m-14.5 0.5h0m-49.5 0.5h0m13.5 0h0m-10 0.5h0m62 0h0m-65.5 0h0m20.5 0.5h0m7.5 0h0m38.5 0h0m-24 1h0m-42.5 0h0m21.5 1h0m-20.5 0h0m52.5 0h0m-41 0h0m32 0.5h0m-23 0h0m34.5 0.5h0m6.5 0h0m-43.5 0.5h0m42.5 0h0m-10.5 0.5h0m-2 0h0m-36.5 0.5h0m-11 0h0m-8.5 0.5h0m51.5 0h0m-14.5 0h0m-22.5 0h0m53 0h0m-37 0.5h0m6.5 0h0m0.5 0.5h0m41.5 0h0m-25 0.5h0m-21 0h0m38.5 0h0m-69 0.5h0m21 0.5h0m-12 0.5h0m12 0.5h0m30.5 0h0m-55.5 1h0m68.5 1h0m-36 0h0m19 1h0m-4 0h0m-45.5 0.5h0m62.5 0.5h0m-41.5 0h0m42 1.5h0m-36.5 0h0m36 0.5h0m-66.5 0h0m58 0.5h0m-9 0h0m17 0h0m-32.5 0.5h0m41.5 1h0m-20.5 0h0m-25 0h0m40 0h0m-12.5 1h0m-40.5 0.5h0m34 0.5h0m-46 0h0m2.5 0h0m74.5 0h0m-85.5 0h0m85 1h0m-24 0.5h0m-26.5 0h0m8 0.5h0m-5.5 0.5h0m17 0h0m-26 0.5h0m-12 0.5h0m0.5 0.5h0m1.5 0.5h0m36.5 0.5h0m9.5 0h0m-44 0h0m42 0h0m-1 0h0m-10.5 1h0m-25 0.5h0m0 0.5h0m61 0h0m-45 0h0m-36 0h0m17 0h0m4.5 0.5h0m-2.5 0.5h0m61.5 0.5h0m-39 0h0m-31 0h0m20 0.5h0m-37 1h0m37 0h0m50 0.5h0m-86.5 0h0m40.5 1h0m-23 0.5h0m60.5 0h0m-14.5 0h0m21 0.5h0m-18 0.5h0m4 0h0m-13 0.5h0m-60.5 0h0m59 1h0m-12.5 0h0m-25 0.5h0m-18.5 0h0m32.5 0h0m28 0h0m-3 1h0m-31.5 0h0m37.5 0h0m15.5 1h0m-46.5 0.5h0m-27 0.5h0m42.5 0h0m-50 0h0m9 2.5h0m65.5 1h0m-4 0.5h0m7 0h0m-24.5 0h0m20 0.5h0m-9.5 0h0m-65 0.5h0m37.5 0h0m-32.5 0h0m64.5 0h0m8.5 0.5h0m-30 0h0m-32 0.5h0m8.5 0h0m9.5 0h0m25 0.5h0m-47 0.5h0m24 0.5h0m59 0.5h0m-69 0h0m41 0.5h0m-9 0h0m2 0h0m-26 0.5h0m6.5 0h0m45 0h0m-60 0h0m-13.5 0.5h0m16.5 0.5h0m60 0h0m-2 0h0m-14 0.5h0m-10 0h0m-61.5 0h0m77 0h0m-54 0.5h0m-7.5 0.5h0m1 0h0m29 0.5h0m-2 0.5h0m-25.5 0h0m-3 0h0m-3 0h0m-7.5 0.5h0m48.5 0h0m-25 0h0m33 0h0m-28 0h0m-16.5 0.5h0m-7.5 0.5h0m30 0h0m18.5 0h0m-10 0h0m48 0h0m-0.5 0.5h0m-90.5 1h0m20.5 0h0m43 0h0m15 0h0m13.5 0h0m-40.5 0.5h0m-16.5 0h0m44.5 0.5h0m-28 0h0m-11.5 0h0m4.5 0h0m26.5 0h0m13.5 0.5h0m-26.5 0h0m-18 0h0m-40.5 0h0m17.5 0h0m22 0.5h0m5.5 0.5h0m-0.5 0h0m9.5 0.5h0m8 0h0m-5.5 0h0m17.5 0h0m-14 0h0m14 0.5h0m-40.5 0h0m-5 0h0m46.5 0.5h0m-76 0.5h0m63 0h0m-23 0h0m-16 0.5h0m23.5 0h0m-38 0h0m70 0.5h0m-28 0h0m-42 0h0m33.5 0.5h0m23.5 0h0m-36.5 0h0m24 0.5h0m3 0h0m-4 0h0m-5.5 1h0m-31 0h0m-7.5 0h0m71 0.5h0m-73 0h0m18.5 0.5h0m63.5 0h0m-57 0h0m31 0.5h0m-11 0h0m-14 0h0m-10.5 0.5h0m49.5 0h0m-51 0h0m9 0h0m49 0h0m-70.5 0.5h0m11 1h0m2 0h0m18 0h0m7.5 0.5h0m-20 0h0m9.5 0h0m10 0h0m-23.5 0.5h0m19 0h0m-13 0h0m-14.5 0.5h0m42 0h0m4.5 0.5h0m-45.5 0h0m-11.5 0h0m49 0h0m5.5 0h0m-2 0.5h0m-13 0h0m36 0h0m-25.5 0h0m0.5 0h0m-24.5 0.5h0m20 0h0m19.5 0h0m-40.5 0h0m-24.5 0.5h0m52 0.5h0m-36.5 0.5h0m48.5 0h0m-15.5 0.5h0m-26 0h0m15 0.5h0m-7.5 0h0m35.5 0.5h0m-56.5 0h0m46 0h0m-1.5 0h0m-47.5 0h0m34 0h0m4 0.5h0m7 0.5h0m-7.5 0h0m12 0.5h0m-39.5 0h0m22.5 0.5h0m11.5 0h0m-45.5 0.5h0m22.5 0h0m27.5 0h0m-15 0h0m-15.5 0h0m11 0h0m-20.5 0.5h0m32.5 0h0m17 0h0m-4 0h0m-2 0h0m-12.5 0.5h0m9 0h0m-28 0.5h0m7 0h0m-15 0.5h0m22 0h0m-19.5 0.5h0m17 1h0m17.5 0h0m-19.5 0.5h0m4.5 0h0m22 1.5h0m-40.5 0h0m-9 0h0m39 0.5h0m-30 0.5h0m6.5 0h0m-12 0.5h0m2 0h0m22 0.5h0m-13 0h0m4 0h0m-1.5 0.5h0m-10.5 0h0m28.5 0h0m-23 0h0m24.5 0h0m7.5 0.5h0m0.5 0h0m-4 0h0m2 0h0m-7 0.5h0m-32.5 0.5h0m13 0h0m3.5 0.5h0m19.5 0h0m-27 0h0m12 0h0m14 0h0m-21 2h0m0.5 1.5h0" stroke="#3318b0" stroke-width="2.6" stroke-linecap="round" fill="none"/>
<path d="M746 165.5h0m11.5 1.5h0m-4 1h0m10 1h0m-34 1h0m5.5 0h0m3 0.5h0m-7 1h0m-5.5 0h0m-5.5 3h0m31 0.5h0m18.5 1h0m-28.5 2h0m-25.5 0h0m62 0.5h0m-39.5 0.5h0m12.5 0h0m5.5 0.5h0m-35.5 0.5h0m36.5 1h0m-24 0h0m9.5 0.5h0m39.5 0.5h0m-12 0h0m-21 2h0m-25 1h0m-5 0.5h0m38.5 0.5h0m4 1.5h0m3.5 0h0m-15.5 0.5h0m18.5 0h0m-33 0.5h0m17 0h0m4.5 0.5h0m22.5 0.5h0m-3 0.5h0m-17 1.5h0m-22.5 1h0m-7.5 0.5h0m45.5 0.5h0m-29.5 1h0m-23.5 1h0m40.5 0h0m-18 0.5h0m23.5 1.5h0m5.5 0.5h0m18 2h0m-1 0h0m-84.5 0.5h0m-5.5 2h0m34.5 1h0m43.5 0.5h0m-2 0h0m-7 0h0m-36 1h0m13.5 0h0m34.5 1h0m-42 0h0m-7 1h0m10.5 0.5h0m28.5 5.5h0m-33 1h0m-26 1h0m40.5 0h0m26.5 2.5h0m-4 0.5h0m-12.5 0.5h0m-6 0h0m-22.5 0.5h0m-29 0h0m-2.5 0.5h0m22 0h0m37.5 0.5h0m-24 0h0m31.5 1.5h0m-44 0.5h0m47.5 0h0m-41.5 0.5h0m12 0.5h0m27.5 0.5h0m-21 0.5h0m-50.5 1h0m25.5 0.5h0m24.5 0.5h0m-29 0h0m25.5 0h0m14 0h0m29 0.5h0m-39 1.5h0m10 0.5h0m2 0h0m9.5 0.5h0m-8.5 5h0m-57.5 2h0m11 1.5h0m32.5 0h0m-19 0h0m59 0h0m-25 0.5h0m-25.5 0h0m21.5 0h0m-25 0.5h0m13.5 0.5h0m-35 1h0m47 0.5h0m-32.5 1.5h0m14 1h0m34 1h0m-29 1h0m21 0h0m-25 0.5h0m-23.5 0.5h0m-10.5 0h0m63 0.5h0m-38.5 0.5h0m6.5 0.5h0m11 1h0m8.5 1h0m-38.5 0.5h0m35.5 0.5h0m-46 0h0m66 0h0m-47.5 0.5h0m-3.5 0.5h0m40.5 1h0m-20 0.5h0m-21 0.5h0m45.5 0.5h0m-4 1h0m-49.5 0h0m14 1h0m27.5 1.5h0m-23 0.5h0m33.5 1h0m-43.5 0h0m18 0.5h0m-16 0.5h0m14.5 0.5h0m10.5 0h0m-22 0h0m33.5 0.5h0m-37.5 1h0m6 0h0m26 0.5h0m-10 0.5h0" stroke="#3318b0" stroke-width="3.2" stroke-linecap="round" fill="none"/>
</g>
<ellipse cx="744.3" cy="215.2" rx="51.3" ry="50.0" fill="none" stroke="#2a2a2a" stroke-width="1.1"/>
<clipPath id="pc101"><ellipse cx="860" cy="215.2" rx="51.3" ry="50.0"/></clipPath>
<ellipse cx="860" cy="215.2" rx="51.3" ry="50.0" fill="#d4d4d6"/>
<g clip-path="url(#pc101)">
<path d="M850 170.5h0m-13.5 6h0m25.5 0.5h0m-28.5 2h0m33 1.5h0m-19 2.5h0m45 2h0m-35.5 0h0m42.5 0.5h0m-61.5 0.5h0m55 1.5h0m5 0.5h0m-10.5 1.5h0m-71 1h0m61 0h0m2.5 0.5h0m16.5 3h0m-3 1h0m-33.5 0.5h0m39.5 2h0m-66 1h0m55.5 0.5h0m-57 4h0m50.5 0h0m-47 3h0m57.5 1h0m-4 0h0m6.5 1h0m-48.5 0h0m39 0.5h0m-46 0h0m-8 0.5h0m15.5 0.5h0m6 1h0m14.5 3h0m-40.5 1.5h0m4 0h0m66 1h0m-41 2.5h0m1.5 2.5h0m-10 1h0m-2 0.5h0m30.5 3.5h0m18.5 5h0m-32 0h0m-1.5 1h0m-26.5 0.5h0m-4.5 0.5h0m15 3h0m-30.5 1h0m17 0.5h0m22 0.5h0m11.5 0.5h0m-0.5 0h0m-29.5 0h0m35.5 0.5h0m-31 0h0m-10 1h0m63 3.5h0m-69.5 2.5h0m42.5 2h0m-20.5 10h0" stroke="#3318b0" stroke-width="1.8" stroke-linecap="round" fill="none"/>
<path d="M863 167h0m-8.5 2h0m-8.5 0.5h0m-9 2h0m45 0h0m-34.5 2.5h0m34 3h0m-48.5 1h0m-6.5 0h0m23.5 0.5h0m7 0.5h0m7 1.5h0m-11.5 0h0m-15.5 1h0m-0.5 1.5h0m7.5 0h0m20 3h0m-37.5 0h0m-3 3h0m53.5 0.5h0m26 0.5h0m-25 0.5h0m-58 1h0m31.5 0h0m47.5 1h0m-73 0h0m11.5 0h0m9.5 0h0m-25 0.5h0m34 0h0m-37 0.5h0m64 0h0m-62.5 0.5h0m39.5 0.5h0m6.5 0h0m-31.5 1.5h0m69 0.5h0m-53 0h0m45.5 1h0m-40.5 0h0m-0.5 0.5h0m33 0h0m2 1h0m-58.5 0h0m9.5 0h0m63 2.5h0m-16 0.5h0m-77.5 0.5h0m72.5 0.5h0m-34.5 0h0m59 1.5h0m-5.5 0.5h0m-50 0.5h0m13 0h0m21.5 0h0m-38.5 0h0m56 0h0m-59.5 0.5h0m-30.5 0.5h0m11 0h0m20.5 2h0m13 0.5h0m25.5 0h0m-66 0h0m43.5 0.5h0m28.5 0h0m-56 0h0m39 0.5h0m-2 0h0m36 1h0m-90.5 0h0m67.5 0h0m26.5 0.5h0m-21 0.5h0m12.5 1h0m-65.5 0h0m-18.5 0.5h0m1.5 0h0m-9 0.5h0m64 0.5h0m-29 0.5h0m48.5 0.5h0m-0.5 1h0m13 0h0m-81 0h0m61 0h0m1.5 2h0m-67 0.5h0m83.5 0.5h0m-28.5 0.5h0m0 0.5h0m-28.5 0.5h0m15 0.5h0m27.5 1h0m-49 0h0m-4.5 0.5h0m14 0.5h0m-4 1h0m-15 0h0m51 1h0m-51 0.5h0m-19 0.5h0m27 1.5h0m-25.5 0.5h0m31.5 0.5h0m-4 0h0m29.5 0.5h0m-36.5 1h0m6.5 2.5h0m25.5 0.5h0m-20.5 0h0m37 0h0m-56 0.5h0m60 0h0m-56.5 0.5h0m1.5 1h0m43.5 0h0m-28 1.5h0m-23 0h0m27 0.5h0m-19 0h0m25 1.5h0m24.5 0h0m-30 0.5h0m-30.5 0h0m29.5 1h0m-32.5 1h0m-1 0.5h0m29.5 1h0m-21 0.5h0m5.5 1h0m35 1h0m-43 0.5h0m65.5 0.5h0m-37.5 4.5h0m3 1h0m-16.5 2h0m13 1.5h0m-8.5 3.5h0" stroke="#3318b0" stroke-width="2.5" stroke-linecap="round" fill="none"/>
<path d="M868.5 166.5h0m-0.5 1.5h0m2 0.5h0m2.5 1.5h0m-28 1h0m-1 1h0m27 1h0m-36 0.5h0m35 4h0m-31 1h0m51.5 0.5h0m-12 0h0m5 2h0m4 0h0m-54.5 3.5h0m45.5 0.5h0m11.5 2h0m-29 1.5h0m-33.5 0h0m52 1h0m-33.5 0.5h0m22 1h0m12 1h0m2.5 0h0m-60 0h0m81.5 0.5h0m-70.5 1h0m18.5 0h0m36.5 0.5h0m-8 0h0m-14 0.5h0m-13 1h0m-33 0.5h0m67 0.5h0m14 0.5h0m-4 0.5h0m-65 0h0m27 0h0m-26.5 0.5h0m7.5 0h0m0 0.5h0m-23 1h0m31.5 0.5h0m9 0.5h0m26.5 0.5h0m25.5 1h0m-65.5 0h0m0 0.5h0m60 1h0m-83 1h0m16.5 1h0m-2 0.5h0m22 0h0m-24.5 0h0m52.5 1h0m-44 0h0m7 0.5h0m-19.5 1.5h0m58 0h0m-74.5 0.5h0m83 0.5h0m-85.5 0h0m89.5 0.5h0m-32.5 0.5h0m34.5 0.5h0m-51 1.5h0m-5.5 0h0m-2 0.5h0m-27.5 0.5h0m82 1h0m3.5 0.5h0m7.5 0h0m-4.5 1h0m-79 0h0m29.5 0.5h0m-29.5 1h0m56 0h0m-18 0.5h0m-21 2h0m48 2h0m20.5 0.5h0m-99 0.5h0m20.5 0h0m32 0.5h0m-42 0.5h0m18 1.5h0m63.5 0.5h0m-56.5 0.5h0m-31 0.5h0m-0.5 1h0m58.5 0h0m-61.5 0.5h0m27.5 0.5h0m-21 0h0m18.5 2h0m-23 1h0m0.5 1h0m40.5 1.5h0m20.5 0.5h0m-55 0.5h0m7 0.5h0m10.5 1.5h0m32 0h0m-27 0h0m-19.5 1.5h0m49 0.5h0m13.5 1h0m-32.5 1h0m-1.5 2.5h0m-29.5 0h0m42 0.5h0m-10 5.5h0m-27 1h0m12.5 0.5h0m30 0h0m-2 1.5h0m24 0h0" stroke="#3318b0" stroke-width="3.2" stroke-linecap="round" fill="none"/>
<path d="M843 168.5h0m23.5 12h0m-25 0h0m46.5 3h0m-62 1h0m8.5 1h0m-13.5 1h0m37.5 1h0m5 1.5h0m26 0h0m-55.5 0.5h0m2 2h0m6 2.5h0m63 0h0m-2 1h0m-37 0h0m-33 2h0m45.5 5h0m-42 1h0m8.5 0h0m-26 0.5h0m59.5 0h0m-0.5 1h0m29.5 1.5h0m0 0h0m-24.5 0.5h0m-63.5 0h0m2.5 1.5h0m74.5 0h0m-76.5 1h0m57.5 0.5h0m-34 0.5h0m52.5 0.5h0m-20.5 2h0m19 0.5h0m12 0.5h0m-61.5 1h0m41.5 2.5h0m-55 1h0m64 0h0m-65 1.5h0m15.5 1h0m-31 0.5h0m-4 0h0m63 1.5h0m-37 1h0m43 0.5h0m-50 0.5h0m-12 0h0m42.5 1.5h0m-47.5 0.5h0m22 0.5h0m64 0h0m-17 0h0m-6 0h0m14.5 1h0m-4 1h0m-15.5 6.5h0m-31 1.5h0m6 0h0m-26.5 1.5h0m83 0.5h0m-82 1.5h0m31 1h0m-17 0.5h0m12.5 1h0m47.5 2h0m-55 4h0m-8.5 0.5h0m16 1h0m-4.5 5.5h0m-7.5 1.5h0" stroke="#3318b0" stroke-width="4.0" stroke-linecap="round" fill="none"/>
</g>
<ellipse cx="860" cy="215.2" rx="51.3" ry="50.0" fill="none" stroke="#2a2a2a" stroke-width="1.1"/>
<clipPath id="pc102"><ellipse cx="975.1" cy="215.2" rx="51.3" ry="50.0"/></clipPath>
<ellipse cx="975.1" cy="215.2" rx="51.3" ry="50.0" fill="#d4d4d6"/>
<g clip-path="url(#pc102)">
<path d="M985 166.5h0m13 6.5h0m1.5 1.5h0m-24.5 5h0m-11.5 0.5h0m-12 1.5h0m9 2h0m47.5 0h0m-35.5 1h0m18 1.5h0m9.5 0.5h0m16 3h0m-64 0h0m18.5 0.5h0m40 0h0m5.5 3h0m-57.5 0h0m15 3h0m15.5 3.5h0m-3 5.5h0m34.5 0h0m-53 2h0m26 1h0m-41.5 0.5h0m27 0.5h0m6.5 0.5h0m-47 3.5h0m10 0.5h0m70 0h0m6 0.5h0m-43 1.5h0m7.5 3h0m-51.5 0.5h0m46 1.5h0m0 2.5h0m12 1.5h0m-32.5 1.5h0m-26.5 1h0m74 1.5h0m1 2.5h0m-23 1h0m24.5 0.5h0m-12.5 2h0m-1 1.5h0m-9 1.5h0m9 2.5h0m-37.5 0.5h0m18 0h0m19 0h0m2.5 0h0m-30 3h0m-33.5 1h0m23 0.5h0m3 0h0m-8.5 0.5h0m31.5 0h0m7 4h0m-36 0.5h0m9 1.5h0m31.5 0.5h0m-13 0h0m22 0.5h0m-36.5 0h0m9.5 0.5h0m-7.5 1.5h0m-21 4h0m39.5 0.5h0m-29 3.5h0m7.5 0h0" stroke="#3318b0" stroke-width="1.8" stroke-linecap="round" fill="none"/>
<path d="M990.5 170.5h0m6 0.5h0m-32.5 4.5h0m-2 1h0m6.5 1h0m16.5 0.5h0m-43.5 0h0m60.5 1h0m-51.5 0.5h0m10.5 0.5h0m-12 0.5h0m25 1h0m15 0.5h0m-24 0.5h0m4 0h0m18 1h0m-16 1.5h0m42.5 1.5h0m-18 0.5h0m-21 0h0m9.5 0.5h0m-6 0h0m10 0.5h0m19 0h0m-31.5 1.5h0m-9 0h0m39 0h0m-28 1h0m-6 0h0m-10 1.5h0m51.5 0.5h0m4.5 0.5h0m-66 0.5h0m-19 0.5h0m41.5 0h0m47.5 1h0m-75 0h0m68 0.5h0m-23.5 0.5h0m-54 1.5h0m84 0.5h0m-43.5 0.5h0m-15 0h0m-16 0.5h0m53.5 1h0m4 0h0m7.5 0h0m-8 0.5h0m7.5 0h0m2.5 1h0m-33.5 0h0m-32 1h0m51 1h0m12 1h0m-5 0.5h0m18.5 0h0m-25.5 0.5h0m-10 1h0m25 0.5h0m-4.5 0.5h0m15 1h0m-71.5 0.5h0m49 0h0m-15.5 0.5h0m31.5 2.5h0m-4 0.5h0m-42 0h0m44 0h0m-62.5 1.5h0m-29.5 0.5h0m71 0.5h0m31.5 1h0m-21 0.5h0m-9 1h0m-13 0.5h0m26.5 0.5h0m-24.5 1h0m-7 0h0m-7 1.5h0m-6 0.5h0m10 0.5h0m21 0h0m14 0h0m-6.5 0.5h0m14.5 0.5h0m-20 0.5h0m-49.5 0h0m35.5 0.5h0m20 0h0m13 0.5h0m-55.5 1.5h0m23.5 0.5h0m-17.5 1h0m35 1h0m-12.5 0h0m24.5 0.5h0m-54 2h0m8.5 0.5h0m-5 1h0m-18 0h0m64 0h0m-11 1.5h0m18.5 0.5h0m-83.5 0.5h0m79.5 0.5h0m-17.5 2h0m18.5 0h0m-6.5 1h0m-17.5 0h0m23 0h0m1.5 0.5h0m-74 0h0m50.5 0h0m-23 0.5h0m24 0.5h0m25 0h0m1 0h0m-15 1h0m6.5 1h0m-50.5 0h0m46 0.5h0m-5.5 0h0m-40 0.5h0m-17 0h0m62 0.5h0m-18 0h0m-30.5 1h0m9.5 0h0m35.5 0.5h0m-19 0h0m-20.5 1h0m51.5 0.5h0m-33 0h0m24.5 1h0m0.5 0.5h0m-60 0.5h0m56 0.5h0m-26 0.5h0m24 0h0m-44 0.5h0m23.5 0h0m17.5 0.5h0m9.5 0h0m-63 1h0m4.5 0.5h0m15.5 0.5h0m-16.5 1h0m4.5 1h0m12.5 0.5h0m36 1h0m-14 0.5h0m-0.5 0h0m-20.5 1.5h0m33 1.5h0m-12.5 2.5h0m-23.5 0.5h0m16 0h0m5.5 1h0" stroke="#3318b0" stroke-width="2.5" stroke-linecap="round" fill="none"/>
<path d="M988 170h0m-2.5 1.5h0m-10 1.5h0m-28.5 1.5h0m43 0.5h0m14 0.5h0m-34.5 2.5h0m-1 1h0m-0.5 4.5h0m25.5 1.5h0m6.5 0.5h0m-59 0.5h0m20.5 0h0m-10 1h0m18 1.5h0m30 0h0m-24 1.5h0m-1.5 3.5h0m32.5 0.5h0m-6 0h0m17 3h0m-8 0h0m-15 2h0m-64.5 0.5h0m83.5 0h0m3 3.5h0m-2 0.5h0m-14 0.5h0m-39 0h0m51 5h0m11 0h0m-64.5 0.5h0m26 0.5h0m-13.5 0h0m27.5 0.5h0m10 1h0m-24.5 0.5h0m-60 0.5h0m56.5 2h0m27.5 1.5h0m-66 0.5h0m65 0h0m2 1h0m9 0.5h0m-87.5 0h0m48 2h0m-11 1h0m-39.5 1h0m92 0.5h0m-18.5 0h0m0.5 0.5h0m1 0h0m9.5 1h0m-9 1h0m3 0h0m-66 1.5h0m79.5 1.5h0m-52 1h0m44 1h0m-25 0h0m4 0.5h0m23.5 0.5h0m-28.5 0h0m23.5 0.5h0m-10 0.5h0m-58.5 1.5h0m79 0.5h0m-82 0h0m-6.5 0.5h0m71.5 1h0m15 0h0m-60 1.5h0m55 0h0m0 1h0m2.5 0h0m-16.5 0.5h0m-35.5 0.5h0m39 0.5h0m-16 0.5h0m29 0h0m-24 1h0m-11 0h0m-2 0.5h0m-37 0.5h0m33 1.5h0m-16 2.5h0m29.5 0h0m13 2h0m-29 1h0m-4.5 0.5h0m7.5 1h0m19.5 0.5h0m-30.5 0.5h0m30 0h0m-29 0.5h0m14 3h0m-21 1h0m3.5 0h0m8 0.5h0m-5 0.5h0m25.5 0.5h0m-8.5 0.5h0m-32.5 0.5h0m37.5 0h0m2.5 2.5h0m-21.5 1.5h0m-7 0.5h0" stroke="#3318b0" stroke-width="3.2" stroke-linecap="round" fill="none"/>
<path d="M960.5 167.5h0m0.5 0.5h0m-8.5 5.5h0m10.5 4h0m-11.5 0h0m30 5.5h0m23.5 5.5h0m-67.5 0.5h0m78 2.5h0m-80 0h0m-2.5 3.5h0m2.5 1h0m38 2h0m24.5 0.5h0m24 1h0m-2 0h0m-52 1h0m-36.5 0.5h0m24.5 2h0m9.5 0.5h0m57 2.5h0m-12.5 0h0m-79.5 0h0m70 2.5h0m-57 0.5h0m-9 0h0m86.5 1h0m-25.5 0h0m29.5 1.5h0m-92.5 1h0m84.5 1h0m-64.5 3.5h0m63.5 0h0m7.5 1h0m-71 1.5h0m65.5 0.5h0m-73 2.5h0m53.5 0.5h0m-63 0h0m-10.5 1.5h0m45 1h0m-44.5 0h0m65 2.5h0m-34 0.5h0m33 1h0m-8 0.5h0m-30 1.5h0m9.5 4.5h0m-15.5 0h0m25 0h0m-19.5 0.5h0m3.5 1h0m-6 4h0m59 3.5h0m-7.5 1.5h0m8 0.5h0m-38.5 0h0m-30 1h0m3.5 0h0m32 7h0m0 0h0m-14 1h0m23.5 2.5h0m-25.5 1.5h0m21.5 1.5h0m0.5 2.5h0" stroke="#3318b0" stroke-width="4.0" stroke-linecap="round" fill="none"/>
</g>
<ellipse cx="975.1" cy="215.2" rx="51.3" ry="50.0" fill="none" stroke="#2a2a2a" stroke-width="1.1"/>
<clipPath id="pc103"><ellipse cx="1089" cy="215.2" rx="51.3" ry="50.0"/></clipPath>
<ellipse cx="1089" cy="215.2" rx="51.3" ry="50.0" fill="#d4d4d6"/>
<g clip-path="url(#pc103)">
<path d="M1073.5 168.5h0m9 4h0m11 1.5h0m-31.5 1h0m1.5 0h0m6 3h0m-2.5 0.5h0m18.5 0.5h0m-3 2h0m43 4h0m-46.5 0.5h0m48.5 1h0m-79.5 0.5h0m6.5 1h0m-4 1.5h0m4.5 1h0m-6.5 0h0m-2.5 2.5h0m37.5 3.5h0m11 0h0m-23.5 1h0m-3.5 1h0m24 3.5h0m-26.5 0h0m12 0.5h0m-2.5 0h0m-34 1h0m52.5 2.5h0m-39 0.5h0m-10.5 1h0m85 0h0m-62 0h0m13.5 3.5h0m52.5 0.5h0m-95 4.5h0m55.5 0.5h0m-42 0.5h0m-13 0h0m48 2h0m-1 0.5h0m9 0.5h0m-55.5 0h0m58 2h0m-18.5 0.5h0m-15 4.5h0m15 2.5h0m31.5 0h0m-30.5 0h0m14.5 1.5h0m-14.5 0h0m50.5 0h0m-72.5 4h0m9 3h0m-16.5 0.5h0m29 0.5h0m12 1h0m-30 1h0m12.5 1.5h0m52 5.5h0m-32 5h0m-4.5 2h0m5 0h0m-33 0.5h0m45 0.5h0m-16 2.5h0m10.5 3.5h0m-4 0.5h0" stroke="#3318b0" stroke-width="1.8" stroke-linecap="round" fill="none"/>
<path d="M1087.5 167h0m0 4.5h0m-3 2h0m-4 1h0m-9.5 1h0m45 0.5h0m-55 0h0m61.5 2h0m-35.5 0h0m-25 0.5h0m5.5 0.5h0m-8.5 0h0m7.5 1.5h0m37 1h0m9 1h0m9 1h0m-51 0h0m-7.5 0h0m-4 1h0m14 1h0m51 0.5h0m-51 0h0m-7.5 0.5h0m0 0.5h0m62 0h0m-60 0.5h0m18.5 0.5h0m-29.5 0h0m54 0.5h0m-40 1h0m8.5 1h0m33 0.5h0m-53 0.5h0m28.5 0.5h0m-6 0h0m-33.5 2h0m-2.5 0h0m28.5 0.5h0m43.5 0.5h0m-64 0.5h0m4.5 0h0m45 0.5h0m-43.5 0h0m-15.5 0.5h0m70 0.5h0m-34.5 0.5h0m-28 0.5h0m85 0h0m-9 1h0m-20 0h0m-31.5 0.5h0m-9.5 0.5h0m23 0h0m48.5 0.5h0m-1 0h0m-82.5 1.5h0m8.5 0.5h0m18 0h0m-27 1h0m49 0h0m-30.5 0.5h0m-22 1h0m-10 1h0m80 1h0m-68 0h0m-11 0.5h0m0 0h0m85 0h0m13 1.5h0m-66.5 1h0m-29.5 0h0m-5 0.5h0m36.5 0.5h0m28 0.5h0m-36 0h0m70 0h0m-78.5 1h0m67.5 0h0m-58 1h0m25.5 0h0m-3 0.5h0m-19 0.5h0m-23 1h0m24 1h0m7.5 0.5h0m-28.5 0h0m-5 0.5h0m16.5 0h0m-20 0.5h0m75 0.5h0m-67.5 0h0m75.5 0.5h0m-25.5 0h0m-62.5 0.5h0m78 0h0m-67.5 0.5h0m19 0h0m4 0.5h0m45 1.5h0m-58 0.5h0m17 0.5h0m-16.5 2h0m13 1h0m-5 0.5h0m67.5 0.5h0m-52.5 0.5h0m-29.5 0h0m54.5 1h0m-10 1.5h0m-51 0h0m0.5 1h0m11 1h0m59 0h0m-68 0h0m10.5 0h0m3 0.5h0m1 0.5h0m58 2h0m-66 1h0m5.5 0.5h0m12.5 0h0m46.5 3h0m2.5 0h0m-60.5 0.5h0m14 0.5h0m55.5 0h0m-36 2h0m32.5 0h0m-2 1.5h0m-11 0h0m11 1h0m-36 0.5h0m-32 0h0m57.5 0h0m-42.5 0h0m55 1h0m-15 0h0m10.5 0.5h0m-25.5 0h0m-1 1h0m21 1h0m2 1.5h0m-62.5 0.5h0m17 0h0m-0.5 0.5h0m25.5 3.5h0m17.5 0h0m-47 2h0m11.5 2.5h0m10 1h0m8 1h0m-23.5 0.5h0" stroke="#3318b0" stroke-width="2.5" stroke-linecap="round" fill="none"/>
<path d="M1107.5 169h0m-41 5h0m6 2h0m-1 1h0m-6 0h0m-8.5 2h0m8.5 1.5h0m0.5 1h0m-13 1.5h0m-1 2.5h0m78 0h0m-10.5 0.5h0m-52 1h0m-15 0.5h0m12 0.5h0m40.5 0.5h0m-22.5 0.5h0m40 1h0m-43.5 0h0m-32.5 0.5h0m27 0.5h0m-25.5 1.5h0m28 0h0m-18 0h0m-15 0.5h0m90.5 0.5h0m-89 0.5h0m2 0h0m36 1h0m49.5 0.5h0m0.5 0.5h0m-71 1.5h0m55.5 2h0m-24.5 0.5h0m6.5 1.5h0m35 0.5h0m-8.5 0.5h0m-79.5 0h0m11.5 1h0m-17 0.5h0m33 1.5h0m-17 0.5h0m23.5 0.5h0m-41.5 0h0m89.5 0.5h0m-69 0.5h0m5 0.5h0m9 0.5h0m-5.5 1h0m-23 0h0m64.5 2.5h0m-56 0h0m-15 0.5h0m15.5 0.5h0m29.5 2h0m10 0h0m-37.5 0.5h0m16 0.5h0m-20 2.5h0m1 0.5h0m86.5 2h0m-33.5 0h0m-52 0.5h0m68.5 0.5h0m-20.5 0.5h0m-40 0h0m10 1h0m-25.5 0.5h0m6.5 0h0m11 0h0m-23 0h0m13.5 0h0m24.5 0.5h0m0 0.5h0m58 0h0m-22.5 0.5h0m-36.5 1.5h0m-10 0.5h0m4.5 0h0m-17.5 0.5h0m21.5 0h0m-0.5 0.5h0m-27.5 0.5h0m11.5 2.5h0m-19 0h0m46.5 0h0m-40 0.5h0m10.5 0.5h0m-12 0h0m82 0.5h0m-41 0.5h0m16.5 1h0m29.5 2h0m1 2.5h0m-60.5 0h0m9 5h0m39 0.5h0m-46 1h0m46 0h0m-20.5 0.5h0m-28 1h0m28 0.5h0m-43.5 0.5h0m13 0.5h0m46.5 2h0m-3 0.5h0m-10.5 0.5h0m-39 0.5h0m3.5 0h0m24 2h0m-1.5 1.5h0m-22 3h0" stroke="#3318b0" stroke-width="3.2" stroke-linecap="round" fill="none"/>
<path d="M1085 169.5h0m17.5 2.5h0m-11.5 2h0m16.5 0h0m-13.5 2.5h0m23 1h0m-28 5.5h0m-22.5 4h0m-5 1h0m-8 6h0m43 1.5h0m39.5 2h0m-45.5 1h0m-31 0h0m8 2.5h0m66.5 2h0m-50 3h0m-3 1h0m37 3h0m19.5 2.5h0m-77 0.5h0m-4.5 1.5h0m7.5 1.5h0m28 0h0m-1.5 0h0m-44 5.5h0m23.5 1.5h0m-4 1h0m71 0.5h0m-5 2.5h0m-67 3.5h0m1 0.5h0m64 2.5h0m-20.5 1.5h0m-22.5 3h0m47.5 0h0m-90 0.5h0m19 0.5h0m59 4.5h0m-47 6h0m38 0h0m-20 0h0m15 0.5h0m-9.5 0.5h0m16 0.5h0m7.5 1.5h0m-11 0.5h0m-42 3.5h0m46.5 0.5h0" stroke="#3318b0" stroke-width="4.0" stroke-linecap="round" fill="none"/>
</g>
<ellipse cx="1089" cy="215.2" rx="51.3" ry="50.0" fill="none" stroke="#2a2a2a" stroke-width="1.1"/>
<text x="1400.8" y="63.5" text-anchor="middle" font-size="14">A549</text>
<line x1="1194.8" y1="80.1" x2="1608" y2="80.1" stroke="#444" stroke-width="1.7"/>
<text x="1195.8" y="150" font-size="14">JMJD2C</text>
<text x="1306.4" y="133" font-size="14">JMJD2C+</text>
<text x="1306.4" y="150" font-size="14">sh-MALAT1</text>
<text x="1399.2" y="133" font-size="14">JMJD2C+</text>
<text x="1399.2" y="150" font-size="14">miR-503-5p mimic</text>
<text x="1539.1" y="133" font-size="14">JMJD2C+</text>
<text x="1539.1" y="150" font-size="14">sh-SEPT2</text>
<clipPath id="pc200"><ellipse cx="1226.7" cy="215.2" rx="51.3" ry="50.0"/></clipPath>
<ellipse cx="1226.7" cy="215.2" rx="51.3" ry="50.0" fill="#d4d4d6"/>
<g clip-path="url(#pc200)">
<path d="M1233.5 166h0m2.5 0h0m-13.5 0h0m-6 0h0m7.5 0.5h0m10 0.5h0m-3.5 0.5h0m-7 0h0m-3 0h0m1.5 0h0m-7 0.5h0m26 0.5h0m-25.5 0.5h0m23.5 0h0m-16.5 0h0m5.5 0h0m17.5 1h0m-27 0h0m19.5 0.5h0m2.5 0.5h0m-3.5 0h0m-11.5 0h0m24.5 0h0m-38.5 0h0m35 0.5h0m-44 0h0m42 0h0m-23 0.5h0m-18.5 0h0m31.5 1h0m-15.5 0h0m35.5 0.5h0m-31 0.5h0m-10 0.5h0m38.5 0h0m-4.5 0h0m-35.5 0.5h0m0 0h0m28 0h0m-32 0.5h0m-5.5 0h0m30.5 0.5h0m-5.5 0h0m20.5 0.5h0m-1.5 0.5h0m13 0h0m-13 0.5h0m-40 0h0m11.5 0h0m27.5 0h0m-48.5 0.5h0m29 0h0m-22 0.5h0m5 0.5h0m43.5 0.5h0m-12.5 0h0m-25 0.5h0m12.5 0h0m29.5 0.5h0m-45.5 0.5h0m38 0h0m-28.5 0h0m8 0h0m-2 0.5h0m23.5 0h0m-18.5 0h0m19.5 0.5h0m-38.5 0h0m3 0h0m-26.5 0.5h0m12.5 0h0m38.5 0h0m14 0h0m-14 0.5h0m4.5 0h0m-15 0h0m18 0h0m-52 1h0m60.5 0.5h0m-47.5 0h0m22 0.5h0m21.5 0h0m-52 0.5h0m22.5 0h0m8 0h0m-8.5 0.5h0m-6.5 0h0m27 0.5h0m-1.5 0.5h0m-9 0h0m32 0h0m-34.5 0h0m4.5 0.5h0m-14 1h0m-15 0h0m39.5 0h0m-20 0.5h0m-32 0h0m-4.5 0h0m65.5 0h0m-68 0.5h0m39.5 0.5h0m-36 0.5h0m68 0h0m5 0.5h0m-47.5 0h0m39 0h0m-49 1h0m56 0.5h0m-60.5 0h0m55.5 0h0m-36.5 0h0m-14 0.5h0m44.5 0h0m12 0.5h0m-25 0h0m-47 0h0m45.5 0h0m-17 0.5h0m-36 0h0m40 0h0m50.5 0h0m-67 0h0m64 0.5h0m-50.5 0.5h0m-5 0h0m40 0h0m-48.5 0h0m12 0h0m42 0.5h0m10.5 1h0m-85.5 0.5h0m65 0h0m-8.5 0.5h0m20 0.5h0m-49 0.5h0m-11.5 0h0m7 0.5h0m39.5 0h0m15.5 0h0m-83.5 0.5h0m95.5 0.5h0m-27 0.5h0m-6.5 0h0m-4 0.5h0m8.5 0h0m-8 0h0m-37 0h0m40.5 0.5h0m4.5 0.5h0m-64.5 0.5h0m-1.5 0h0m38.5 0h0m48 0.5h0m-1.5 0h0m-75 0h0m76 0h0m-26.5 0.5h0m-27.5 0.5h0m17 0h0m-7.5 0.5h0m-36.5 0h0m28.5 0.5h0m-12.5 0h0m5 0.5h0m65 0h0m-70 0h0m-18 0.5h0m15.5 0h0m51 0.5h0m-39.5 0.5h0m60.5 0h0m-28 0h0m-59.5 0.5h0m94 0h0m-54 0h0m43 0.5h0m-75.5 0h0m29 0h0m3 0h0m-15.5 0.5h0m15 0h0m17 0h0m-57 1h0m20.5 0h0m56 0h0m-60.5 0.5h0m59.5 0.5h0m-9 0h0m8.5 0h0m16.5 0.5h0m3.5 0h0m0 0.5h0m-57 0h0m39 1h0m3 0h0m-34 1.5h0m22.5 0h0m-49.5 0.5h0m69 0h0m-6 0h0m-37.5 0h0m31 0h0m-10 0.5h0m-71 0h0m25 0.5h0m65 0h0m-46 0h0m-31.5 0.5h0m-9 0h0m54.5 0h0m-38.5 0h0m32 0h0m16 1h0m-22.5 0h0m26 0h0m-12.5 0h0m-34 0h0m9.5 0h0m-21 0.5h0m78 0h0m-11.5 0h0m-72 0.5h0m40 0h0m-16 0h0m62.5 0h0m-57.5 0.5h0m23 0.5h0m-58.5 0h0m3.5 0h0m50 0.5h0m39 0h0m-19.5 0h0m-17 0h0m37.5 0h0m-78 0.5h0m40.5 0h0m29 0h0m-38.5 0h0m-24.5 0.5h0m28.5 0h0m6 0h0m-23.5 0h0m14.5 0h0m39 0h0m-78 0.5h0m67.5 0.5h0m-6.5 0h0m13 0h0m-9.5 0h0m-62.5 0h0m49 0h0m15 0.5h0m-28 0h0m49.5 0h0m-68 0.5h0m69 0h0m-48.5 0h0m23.5 0h0m-16.5 0.5h0m9 0h0m-23 0h0m-21 0h0m-14.5 0h0m61.5 0h0m8 0h0m23 0.5h0m-19 0h0m8.5 0h0m-22 0h0m-24.5 0.5h0m54 0h0m-6.5 0.5h0m-2.5 0h0m2 0h0m-27 0.5h0m30 0.5h0m-61 0h0m53.5 0h0m3 0h0m-25 0.5h0m-22 0h0m-27.5 0.5h0m85 0.5h0m-39.5 0h0m9 0h0m19.5 0h0m-7.5 0h0m18 0.5h0m-13 0h0m-58.5 0h0m53.5 0h0m-63 0h0m79 0.5h0m-23.5 0h0m14 0h0m-59 0h0m-3 0.5h0m-21 0h0m12.5 0h0m55.5 0.5h0m-44 0h0m11.5 0h0m38 0h0m-58 0h0m63 0.5h0m-33 0h0m20.5 0h0m13 0h0m-21.5 0h0m-43 0h0m15.5 0h0m47 0h0m15 0.5h0m-37 0h0m-2.5 0h0m-49 0h0m-3.5 0.5h0m74.5 0h0m-10 0h0m-53.5 0.5h0m0.5 0h0m59.5 0h0m-57.5 0h0m67.5 0.5h0m14 0h0m-77 0h0m28.5 0h0m5 0h0m41 0h0m-49.5 0h0m-40 0h0m80.5 0h0m-19.5 0h0m12 0.5h0m-66 0h0m65 0h0m-17 0h0m14.5 0h0m-33 0.5h0m53.5 0h0m-77.5 0h0m70 0h0m-53 0.5h0m59 0h0m-39 0h0m15 0h0m11 0.5h0m-13 0h0m-5 0h0m-7 0h0m37 0h0m-85 0h0m46 0h0m-32 0.5h0m44 0h0m-20 0h0m36 0h0m-78.5 0.5h0m17 0h0m-10 0.5h0m72 0h0m-69.5 0h0m7 0h0m8.5 0h0m35 0h0m-53 0h0m6 0h0m41.5 0h0m20.5 0h0m-2 0.5h0m5.5 0h0m-40.5 0h0m36.5 0h0m-53.5 0h0m-6.5 0h0m30 0h0m-40.5 0h0m86.5 0.5h0m-11.5 0.5h0m-39.5 0h0m30 0h0m1.5 0h0m4 0h0m-27 0h0m-0.5 0h0m-15 0.5h0m-22.5 0h0m63.5 0h0m-13 0h0m-39.5 0h0m-15.5 0h0m2.5 0h0m72.5 0h0m-68 0.5h0m59 0h0m-13 0.5h0m22.5 0h0m-46 0h0m1.5 0h0m-4 0.5h0m-20.5 0h0m-1 0h0m11.5 0h0m48.5 0.5h0m2.5 0.5h0m-38.5 0h0m-6 0h0m38 0h0m7 0h0m-31.5 0h0m-9.5 0.5h0m-7 0h0m59.5 0h0m-62 0h0m64 0h0m-61.5 0h0m14.5 0h0m11 0.5h0m31 0h0m-30 0.5h0m-5 0h0m-33 0h0m53 0.5h0m-28 0h0m-12 0h0m56.5 0.5h0m-59.5 0h0m33 0h0m-48 0h0m70.5 0.5h0m-10 0h0m-28 0h0m-27 0h0m-6.5 0.5h0m65.5 0h0m9 0h0m-7 0.5h0m-16.5 0h0m-36 0h0m60 0h0m-60 0h0m-8 0h0m-9.5 0h0m38 0h0m-32.5 0.5h0m52 0h0m-45.5 0h0m58.5 0h0m-13.5 0h0m-42.5 0h0m-4.5 0h0m28 0h0m33.5 0h0m-53.5 0h0m1.5 0h0m56 0.5h0m-74 0h0m30.5 0h0m12 0h0m0.5 0h0m-14.5 0h0m29.5 0h0m-23.5 0.5h0m16 0h0m25.5 0h0m-52.5 0.5h0m15 0h0m23.5 0h0m-11 0.5h0m-13.5 0h0m34 0h0m-42 0.5h0m33 0h0m-40 0.5h0m52.5 0h0m-71.5 0h0m0 0h0m62 0h0m-55.5 0h0m16 0h0m0 0h0m50 0.5h0m-28.5 0h0m-16 0h0m19.5 0h0m-3 0.5h0m11.5 0h0m-2.5 0.5h0m-15 0.5h0m-13 0h0m22 0.5h0m-4.5 0h0m-11.5 0h0m9.5 0.5h0m4.5 0h0m8.5 0h0m-20.5 0h0m-12 0h0m9.5 0.5h0m-11 0h0m38 0h0m-43.5 0.5h0m33.5 0h0m20.5 0h0m-47.5 0h0m9 0h0m-8 0.5h0m5 0h0m-19 0h0m39 0h0m-39.5 0h0m51.5 0.5h0m-44 0h0m43 0h0m-24.5 0h0m-31 0h0m44.5 0h0m-44 0.5h0m35.5 0h0m-9 0h0m-4 0h0m-12 0h0m24 0.5h0m10 0h0m-11 0h0m11 0h0m15.5 0h0m-0.5 0h0m-27.5 0h0m5.5 0h0m25 0h0m-5 0.5h0m-41 0h0m32.5 0h0m-24 0h0m8.5 0.5h0m-10.5 0h0m4 0h0m-23.5 0h0m46 0h0m-20.5 0.5h0m-13.5 0h0m41 0.5h0m5 0h0m-52.5 0h0m8 0.5h0m10.5 0h0m27.5 0h0m-52.5 0h0m22 0h0m31.5 0h0m-54 0.5h0m54.5 0h0m-22 0h0m-13.5 0h0m39 0h0m-24.5 0h0m3.5 0h0m22 0h0m-53 0.5h0m6.5 0h0m-2 0.5h0m21 0h0m-18.5 0h0m14 0h0m-8 0h0m15.5 0.5h0m-25 0h0m25.5 0h0m-4.5 0h0m8.5 0h0m-32 0.5h0m-2 0h0m50.5 0h0m-7 0.5h0m-28 0h0m-7 0h0m16.5 0.5h0m-5 0h0m15 0.5h0m8.5 0h0m-42 0h0m1.5 0.5h0m2 0.5h0m21.5 0h0m-21.5 0.5h0m33 0h0m-21 0.5h0m27 0h0m-32.5 0h0m6.5 0h0m16.5 0.5h0m-2.5 0h0m-24 0h0m19 1h0m-16.5 0h0m20.5 0.5h0m-1.5 0h0m-16.5 0h0m7.5 1h0m-4 0h0m9.5 0.5h0" stroke="#3318b0" stroke-width="1.5" stroke-linecap="round" fill="none"/>
<path d="M1234 166h0m-13.5 1h0m7.5 0h0m5 0h0m-17 0h0m16 0.5h0m-0.5 0.5h0m6.5 0h0m-14.5 0.5h0m20.5 0.5h0m0.5 0h0m-35 0h0m23.5 0h0m-8 1h0m5.5 0h0m-12.5 0.5h0m16.5 0h0m-2.5 0h0m11.5 0.5h0m-10.5 0.5h0m6.5 0h0m4.5 0.5h0m-17.5 0.5h0m-19.5 0h0m35 0h0m-6 0h0m-17.5 0.5h0m20 0h0m-19 0.5h0m34.5 0h0m-34.5 0.5h0m-6.5 0h0m-0.5 0h0m23 0.5h0m5 0h0m-1.5 0h0m-4.5 0h0m-2.5 0.5h0m-20.5 0h0m25 0h0m-25 0.5h0m30 0h0m13 0h0m-21 0h0m2.5 0.5h0m-39 0h0m50 0h0m7.5 0h0m-20 0.5h0m18 0h0m0 0h0m-0.5 0.5h0m-9.5 0h0m-33 0h0m34.5 0h0m4.5 1h0m-9 0h0m-30.5 0h0m-15.5 0.5h0m37.5 0h0m-36 0h0m51 0.5h0m-19.5 0h0m16.5 0.5h0m-23 0h0m28 0.5h0m-47.5 0h0m10 0h0m3 0.5h0m-19.5 0h0m28.5 0h0m28.5 0.5h0m11.5 0h0m-35 0h0m-2 0h0m7.5 0.5h0m-11 0h0m20.5 0.5h0m-11.5 0h0m29 0.5h0m-27.5 0h0m14.5 0.5h0m6.5 0h0m-10 0h0m-30 0h0m24.5 0h0m-29 0h0m0.5 0h0m13.5 0h0m39 0.5h0m-13.5 0h0m-4.5 0h0m15.5 0.5h0m-1 0h0m-24 0h0m-17.5 0.5h0m40 0h0m-10 0.5h0m14.5 0h0m-75.5 0h0m63.5 0h0m-19 0h0m-9.5 0.5h0m34.5 0h0m-44 0h0m39 0h0m-59.5 1.5h0m55 0.5h0m21 0h0m-2 0h0m-76 0.5h0m78.5 0h0m-2 0h0m-50.5 0h0m-23 0h0m49.5 1h0m-35 0h0m58 0h0m-8.5 0.5h0m-36 0h0m5 0h0m30.5 0.5h0m-6.5 0h0m-52 0.5h0m24.5 0h0m13 0h0m31.5 0h0m-62.5 0h0m46.5 0.5h0m-50 0.5h0m21 0h0m-6 0.5h0m-29 0h0m-1 0h0m2.5 0h0m-5.5 1.5h0m26.5 0h0m63.5 0h0m-50.5 0.5h0m45.5 0h0m-50.5 0.5h0m48 0h0m-3 0h0m-78.5 0h0m4.5 0.5h0m-3 0h0m14 0h0m35 0h0m4 0h0m-45 0h0m69 0.5h0m5.5 0h0m-27.5 0h0m-13 0.5h0m-26 0h0m53.5 0.5h0m-4 0h0m21 0h0m-9.5 0h0m-80.5 0.5h0m67.5 0h0m12.5 0h0m-6 0.5h0m0.5 0h0m-63.5 0h0m33.5 0h0m7.5 0.5h0m41.5 0h0m-60.5 0h0m23 0.5h0m14.5 0h0m-71.5 0h0m82 0h0m-30.5 0.5h0m-16.5 0.5h0m41 0.5h0m8.5 0h0m-52 0h0m30.5 0.5h0m-27 0h0m-24.5 0h0m43 0h0m35.5 0h0m-33.5 0h0m-17 0.5h0m-6 0.5h0m44.5 0h0m-38.5 0h0m35.5 0.5h0m-57 0h0m66.5 0.5h0m-17 0h0m25.5 0h0m-21 1h0m17 0.5h0m5.5 0h0m-9 0.5h0m-74.5 0h0m-1 0h0m65 0.5h0m-37 0h0m-40 0h0m89.5 0h0m-9 0.5h0m-69.5 0h0m22 0h0m65 0h0m-79.5 0h0m-15.5 0.5h0m93.5 0h0m-12.5 0h0m-13 0h0m5 0.5h0m12 0h0m-15.5 0h0m-67 0h0m60 0h0m11.5 0.5h0m-76 0h0m44 0h0m-43 0.5h0m59.5 0h0m1.5 0.5h0m6.5 0h0m-50 0.5h0m-21.5 0h0m84.5 0h0m-53 0.5h0m31 0h0m30 0.5h0m2 0h0m-62 0.5h0m-31 0h0m59 0.5h0m38.5 0.5h0m-14.5 0h0m-32 0.5h0m39.5 0h0m9 0h0m-1.5 0h0m-69 0h0m36.5 0h0m-28.5 0.5h0m-38 0h0m25 0h0m-8.5 0h0m37 0h0m40 0h0m-36.5 1h0m-43.5 0h0m78.5 0h0m-1.5 0h0m-69.5 0.5h0m-16.5 0h0m96 0h0m-6.5 0.5h0m-29.5 0h0m-59 0h0m-0.5 0h0m15.5 0.5h0m33.5 0h0m32.5 0h0m6 0.5h0m-54.5 0h0m-36.5 0h0m93 0h0m-43.5 0h0m39.5 0h0m-3.5 0h0m-84 0.5h0m4 0h0m83.5 0h0m-39.5 0h0m-28.5 0h0m28.5 0.5h0m21 0h0m10 0h0m0 0h0m-18 0h0m-5.5 0h0m34 0h0m-22 0h0m21.5 0h0m-25 0h0m34 0.5h0m-90 0h0m67 0.5h0m10 0h0m-45 0h0m-23.5 0h0m81 0h0m-83 0h0m-8 0h0m87.5 0.5h0m-56.5 0h0m13 0h0m-36 0h0m29.5 0.5h0m-48 0h0m15 0h0m73 0.5h0m-60 0h0m56 0.5h0m-61 0h0m60.5 0h0m5 0h0m-77.5 0.5h0m-10.5 0h0m86 0h0m-63 0h0m54 0.5h0m-71 0h0m68.5 0h0m-43 0.5h0m3.5 0h0m-20.5 0h0m67.5 0h0m-40.5 0.5h0m60 0h0m-99 0h0m17.5 0h0m-6 0.5h0m6.5 0h0m68.5 0h0m-30 0h0m-58.5 0h0m90 0.5h0m-51.5 0h0m48.5 0h0m-68.5 0h0m50 0h0m6.5 0.5h0m-1.5 0h0m-57.5 0h0m24 0.5h0m-24 0h0m59 0h0m-23 0.5h0m-45 0h0m1 0h0m19.5 0.5h0m-2.5 0h0m5.5 0h0m-3 0h0m-16 0h0m87.5 0h0m-53 0.5h0m5 0h0m30.5 0h0m-53.5 0h0m-5.5 0h0m5.5 0.5h0m-10.5 0h0m30 0h0m2.5 0.5h0m-8 0h0m2 0h0m8.5 0h0m-4.5 0.5h0m-3 0h0m-27.5 0h0m3.5 0h0m18.5 0h0m-10 0h0m-19.5 0.5h0m70 0h0m-54.5 0h0m66.5 0h0m-56.5 0h0m-34.5 0.5h0m38.5 0h0m29 0.5h0m-14.5 0h0m37.5 0h0m-49 0h0m18 0.5h0m-18 0h0m21 0h0m31.5 0h0m-18 0.5h0m-63 0h0m60.5 0h0m-53 0h0m13 0h0m44 0h0m-9.5 0h0m19.5 0h0m-49.5 0h0m-27.5 0.5h0m24.5 0h0m-3 0h0m48 0h0m-27.5 0h0m-40 0.5h0m-12.5 0h0m66 0h0m30.5 0h0m-62 0h0m-6.5 0.5h0m24.5 0h0m25 0h0m-23.5 0h0m28.5 0h0m-17 0h0m-40.5 0h0m58 0.5h0m-22 0h0m18.5 0h0m-16.5 0h0m-42.5 0.5h0m-5 0h0m37 0h0m-5 0h0m27 0h0m-70.5 0h0m57 0h0m-27.5 0h0m58.5 0.5h0m-4.5 0h0m-22.5 0h0m11 0h0m6.5 0.5h0m-73.5 0h0m32.5 0h0m47 0h0m-78 0h0m2.5 0.5h0m76.5 0h0m-9.5 0h0m-54.5 0h0m9.5 0h0m36.5 0h0m-39.5 0h0m52.5 0h0m-49 0.5h0m24 0h0m-55 0h0m57.5 0h0m-58.5 0.5h0m48 0h0m-4 0h0m1 0.5h0m5.5 0h0m12 0.5h0m-53 0h0m51 0h0m-56 0h0m-0.5 0.5h0m64.5 0h0m-42 0h0m42.5 0h0m-68 0h0m28.5 0h0m45.5 0h0m-4.5 0.5h0m-59.5 0h0m-4.5 0h0m65.5 0h0m-2 0h0m-10 0h0m-60 0h0m4.5 0h0m19.5 0h0m-24.5 0h0m60.5 0.5h0m13 0h0m10 0h0m-29 0h0m23.5 0h0m0 0h0m-2 0.5h0m10.5 0h0m-8 0h0m-50.5 0h0m53 0.5h0m-73 0h0m8.5 0h0m73.5 0.5h0m-37.5 0h0m-23.5 0h0m42 0h0m-35 0h0m-7.5 0h0m25.5 0h0m20 0h0m-0.5 0.5h0m12 0h0m2.5 0h0m-53 0h0m-33.5 0h0m34.5 0.5h0m51 0h0m-24.5 0h0m-25 0h0m-20 0h0m31 0.5h0m-42.5 0h0m19 0h0m-18 0h0m83 0h0m-87.5 0h0m37.5 0.5h0m-35.5 0h0m-0.5 0.5h0m23 0h0m-17 0h0m36 0h0m-2.5 0.5h0m-3 0h0m-2.5 0h0m0.5 0h0m48.5 0h0m-2.5 0h0m-26 0h0m31.5 0.5h0m-47.5 0h0m-26.5 0h0m23 0h0m41 0h0m-37.5 0.5h0m-0.5 0h0m45.5 0h0m-64.5 0h0m11 0h0m45.5 0.5h0m-36.5 0h0m32 0h0m-1 0h0m-23.5 0h0m-10 0h0m-15.5 0.5h0m7 0h0m-12 0h0m28.5 0.5h0m1 0h0m-10.5 0h0m-2 0h0m4 0h0m18 0.5h0m-22 0h0m8 0h0m-7 0h0m25.5 0h0m15 0h0m-2.5 0h0m-21 0h0m-19 0h0m-24 0.5h0m8.5 0h0m40 0h0m-4 0h0m-33 0h0m10 0h0m3.5 0h0m-10 0h0m8.5 0h0m20.5 0.5h0m-41 0h0m61 0h0m-15.5 0h0m-46.5 0h0m73 0h0m-67 0.5h0m14.5 0h0m13.5 0h0m7.5 0h0m21 0h0m-68 0h0m65.5 0.5h0m-13 0h0m1 0.5h0m-20.5 0h0m-7.5 0h0m17 0h0m25 0h0m-26 0h0m17.5 0h0m-44 0h0m-9.5 0.5h0m52.5 0h0m-47.5 0h0m20 0h0m7.5 0h0m11 0h0m12 0.5h0m-63 0h0m48 0h0m3.5 0h0m-24.5 0h0m-13.5 0.5h0m55.5 0h0m-29.5 0h0m-6 0h0m-20 0h0m28.5 0.5h0m27 0h0m-14 0h0m22 0.5h0m-46.5 0h0m-11 0h0m57.5 0h0m-62 0.5h0m6 0h0m22 0h0m-24 0h0m56.5 0h0m-50.5 0h0m22 0.5h0m15.5 0h0m-8.5 0h0m-16.5 0h0m-12 0h0m5.5 0.5h0m41 0h0m-35 0h0m2.5 0h0m-22.5 0.5h0m37 0h0m0 0h0m-26.5 0h0m-10 0h0m42 0h0m-28.5 0h0m36 0h0m-17 0h0m-42 0h0m13.5 0h0m45 0h0m-59.5 0h0m27 0h0m14.5 0h0m-24.5 0.5h0m17.5 0h0m-17 0h0m-19.5 0h0m55 0.5h0m15 0h0m-43.5 0h0m10 0h0m20 0.5h0m-46.5 0h0m52.5 0h0m-41.5 0.5h0m21.5 0h0m10.5 0h0m6.5 0.5h0m-13 0h0m-7 0h0m15 0h0m-21.5 0h0m-10 0h0m39 0h0m-17 0h0m14.5 0h0m-46.5 0.5h0m-2.5 0h0m18.5 0h0m37.5 0h0m-38 0h0m32.5 0h0m-22 0h0m-27.5 0.5h0m-3 0h0m36 0h0m-39.5 0h0m47.5 0.5h0m-42 0h0m37.5 0h0m-19 0.5h0m3 0h0m-6 0.5h0m21 0h0m6 0h0m-31.5 0h0m30.5 0h0m2.5 0h0m-23 0h0m18 0.5h0m-2 0h0m9 0h0m4 0h0m3.5 0h0m-0.5 0.5h0m-40.5 0h0m20.5 1h0m-4.5 0h0m14.5 0h0m-8 0h0m-18 0.5h0m-0.5 0h0m9.5 0h0m5 0h0m7.5 0h0m-8.5 0.5h0m-8 0h0m-8.5 0h0m13.5 0.5h0m2 0h0m-4.5 0h0m1 0h0m12 0h0m7.5 1h0m-30 0h0m-1 0h0m16.5 0.5h0m-9 0h0m3.5 0h0m12.5 0h0m-10 0h0m-15 0.5h0m8.5 0h0m9 0h0m-15.5 0.5h0m10.5 0h0m7 0h0m2 0h0m9.5 0h0m-35 0h0m16.5 0h0m4 0h0m-10.5 0.5h0m-11.5 0h0m12.5 0h0m17.5 0h0m-12 0.5h0m5.5 0h0m-20.5 0h0m24 0h0m-22.5 0.5h0m19.5 0.5h0m-1 0h0m-2 0h0m-3 0.5h0m4.5 0h0m-15 0h0m20.5 0h0" stroke="#3318b0" stroke-width="2.0" stroke-linecap="round" fill="none"/>
<path d="M1228.5 165.5h0m-1 0h0m9 2h0m-13.5 0.5h0m17 0h0m-25 0.5h0m23.5 0.5h0m-31 0h0m6 1.5h0m6.5 0h0m-9 0.5h0m36 0h0m-13 0h0m-15.5 0h0m2.5 0.5h0m24.5 0h0m-17.5 0.5h0m-27.5 0.5h0m6 0.5h0m13.5 0h0m24 0.5h0m4.5 0h0m-50 0h0m45 1h0m-6.5 0.5h0m-16 0h0m3 0h0m13.5 0h0m-4.5 1.5h0m19 0h0m-5.5 0.5h0m-13.5 0h0m-29.5 0.5h0m32.5 1.5h0m-33 1h0m51 0h0m-35 0h0m32 0.5h0m-33 0h0m-25.5 0h0m17 0h0m8.5 0h0m-27 0h0m38.5 0.5h0m25.5 1h0m-6.5 0h0m-2.5 0.5h0m17 0h0m-26 0.5h0m17 0.5h0m-44 0h0m-18.5 0h0m52 0h0m-54 0.5h0m74 0h0m-54.5 0.5h0m19.5 0h0m-28.5 0h0m20.5 1h0m-22.5 0h0m-10 0h0m74.5 0h0m-29.5 0.5h0m14.5 0.5h0m3.5 0h0m-43 0h0m56.5 0.5h0m-0.5 0h0m-7.5 0h0m9 0.5h0m-38 0h0m14 1h0m-53.5 0.5h0m50 0h0m5.5 0h0m-54.5 1h0m2.5 0h0m27 0h0m40 1.5h0m-24.5 0.5h0m-3.5 0h0m35 0.5h0m-20 0.5h0m-4.5 1h0m15 0.5h0m-28 0.5h0m3.5 0h0m-46 1h0m5 0h0m-2 0h0m24 0.5h0m36 0h0m-30 0.5h0m27 0h0m-48 0.5h0m70 0h0m-66.5 0h0m42.5 0h0m0.5 1h0m29.5 0h0m-12 0h0m-14.5 0.5h0m-46 0.5h0m67 0h0m-72 0.5h0m41.5 0h0m-13 0h0m-43.5 0h0m38 0h0m46.5 0h0m-2 0.5h0m-83.5 0h0m90.5 1h0m3.5 1h0m-18.5 0h0m-57.5 1h0m18 0h0m21 0h0m22.5 0.5h0m-3.5 1h0m8 0h0m10 0h0m-41.5 0.5h0m-32.5 0h0m63.5 0.5h0m-1 0.5h0m-7 0.5h0m-33.5 0h0m23.5 0h0m25 0.5h0m-50.5 0.5h0m17 0h0m-22.5 0h0m51.5 0.5h0m10 0h0m-37 0.5h0m21.5 0.5h0m-66.5 0h0m64.5 0.5h0m-62 0h0m51 0h0m-54 0.5h0m52 0h0m6 0h0m11 0h0m-79.5 1h0m69 0h0m13.5 0h0m-82.5 0.5h0m2 0h0m72.5 0.5h0m-65.5 0h0m64.5 0h0m-54 0.5h0m45.5 0h0m-34 0h0m-10.5 0.5h0m29 0.5h0m-15 0h0m16 0.5h0m11.5 0h0m22.5 0h0m-12 0h0m-63 1h0m77.5 0h0m-6.5 0h0m-7 0h0m6.5 1h0m-60.5 0.5h0m-11 0h0m-16 0h0m29.5 0h0m-11.5 0.5h0m42.5 0h0m-56 0h0m95.5 0h0m-97.5 0h0m11.5 0.5h0m71.5 0.5h0m-55 0h0m9.5 0.5h0m-14.5 0h0m50.5 0.5h0m16 0.5h0m-85.5 0h0m86.5 0.5h0m-13.5 0h0m12.5 0h0m-87.5 0.5h0m22 0h0m-19.5 0h0m-1.5 0.5h0m8 0.5h0m-7.5 0.5h0m26.5 0h0m60 0h0m7 1h0m-26.5 0h0m-17 0.5h0m42 0h0m-31 0h0m14 0.5h0m-54.5 0h0m51.5 0h0m-73 0h0m93 0h0m-19.5 0.5h0m-62 0h0m8.5 0h0m63 0h0m2 0.5h0m-85.5 0h0m-1 0h0m71 0h0m-73 0.5h0m93.5 0h0m-33.5 0h0m-28.5 0.5h0m28.5 0h0m-10 0h0m15 0h0m-10 0h0m-10 0h0m-40 0.5h0m86.5 0h0m-18 0h0m-66.5 0h0m-5 0.5h0m59 0h0m33.5 0h0m-0.5 0h0m-38 0.5h0m42.5 0.5h0m-55.5 0.5h0m38.5 0h0m-5.5 0.5h0m3 0.5h0m-11 0h0m-25.5 0h0m-1 0h0m23 0h0m19 0.5h0m-21 0h0m-7 0.5h0m22.5 0h0m-24.5 0h0m19.5 0.5h0m-8 0h0m-49.5 0h0m7 0h0m33.5 0h0m37.5 0h0m-30 0h0m-11.5 0.5h0m32.5 0h0m-19.5 0h0m8.5 0h0m3 0h0m-6 0h0m-62 0.5h0m39.5 0h0m29 0h0m-33 0.5h0m41.5 0h0m-5 0h0m-37 0.5h0m27.5 0h0m14 0.5h0m-50.5 0h0m34.5 0h0m-43.5 0h0m57.5 0h0m-18 0h0m7.5 0h0m19 0.5h0m-47 0.5h0m40 0h0m-73 0h0m20 0h0m4.5 0.5h0m-14 0h0m74.5 0h0m-40 0h0m14.5 0.5h0m22.5 0h0m-59 0h0m55.5 1h0m-63 0h0m37.5 0.5h0m-24 0h0m0.5 0h0m39.5 0h0m-56 0h0m43.5 0h0m-59 0h0m85.5 0h0m-8.5 0.5h0m-42 0h0m-23.5 0h0m52.5 0h0m-29 0h0m31 0h0m10 0h0m-12 0.5h0m-48.5 0h0m-8 0h0m26.5 0.5h0m-3 0h0m18.5 0h0m-52.5 0h0m71 0.5h0m-1.5 0h0m-50 0h0m53 0h0m-10 0h0m-2 0h0m-57 0h0m50 1h0m-35.5 0h0m35 0h0m-27 0h0m-8.5 0h0m66.5 0h0m-68 0h0m68.5 1h0m-72 0h0m40 0h0m-2 0.5h0m-37 0h0m-4.5 0.5h0m75 0.5h0m-57.5 0.5h0m48.5 0.5h0m-9.5 0h0m-13.5 0.5h0m10 0h0m-51 0h0m37 0h0m-28.5 0.5h0m9 0.5h0m31 0.5h0m4 0h0m-7.5 0h0m10 0h0m-12.5 0h0m-34 0.5h0m32.5 0h0m-3 0.5h0m-24.5 0h0m-3 0.5h0m32 0h0m17 0.5h0m-40.5 0h0m23 0h0m-41 0h0m50.5 0h0m-56 0.5h0m65.5 0h0m-13.5 0.5h0m-44.5 0h0m48.5 0h0m18.5 0h0m-0.5 0.5h0m-41.5 0h0m-19 0.5h0m23 0h0m-7.5 0h0m-9 0h0m1 0.5h0m8.5 0h0m43.5 0h0m-15 0.5h0m-13 0h0m-4 0.5h0m17 0h0m-47 1h0m45.5 0.5h0m-10.5 0h0m-9.5 0h0m4.5 0.5h0m5.5 0h0m-38.5 0h0m9 1h0m-5.5 0h0m0.5 0h0m31.5 0.5h0m9 0h0m-15 0.5h0m-2.5 0h0m17.5 1h0m-25 0h0m9.5 0.5h0m-17 0h0m2 0h0m28 0.5h0m-25.5 0h0m13 0h0m22 0h0m-1 0.5h0m-25.5 0h0m25 0h0m-44.5 0h0m19.5 0.5h0m7.5 0.5h0m-20 0h0m19.5 0h0m-19.5 0.5h0m12 1h0m-0.5 0h0m17 0h0m-12.5 0.5h0m-16.5 0h0m27.5 0.5h0m-25 0h0m22 0.5h0m6.5 0h0m-9.5 0h0m-2 0.5h0m-6 0.5h0m11.5 0.5h0m-1.5 0h0m-3.5 0h0m4 0.5h0m-7 1h0" stroke="#3318b0" stroke-width="2.6" stroke-linecap="round" fill="none"/>
<path d="M1223.5 167.5h0m-12.5 3h0m-7 0h0m36.5 1h0m4.5 0.5h0m-25 0.5h0m0.5 2.5h0m29.5 1h0m-36.5 0.5h0m15.5 0h0m24 0h0m-10.5 0h0m8 1h0m-14 0h0m-19.5 0h0m15.5 0h0m-40.5 1.5h0m12 0.5h0m34 1h0m-11.5 0h0m14 1h0m-15.5 2h0m36 1h0m-14 0.5h0m14.5 0h0m-76 0.5h0m62.5 0h0m-22.5 4h0m9 0h0m28 0h0m-33.5 1.5h0m-10 1.5h0m14.5 0h0m24.5 2h0m-11 0h0m-49 0.5h0m-14 1h0m74 2h0m-5 1.5h0m-59 1.5h0m48 0h0m-11 0.5h0m29.5 1h0m13.5 0.5h0m-21 0.5h0m19 1.5h0m-88.5 0.5h0m37 0h0m38 1.5h0m-60.5 2h0m56 0h0m-65 0.5h0m53 0.5h0m35.5 1h0m-68 1h0m-0.5 0h0m53.5 0.5h0m10.5 0h0m-52 0h0m23.5 0h0m-63.5 3h0m-1.5 0.5h0m89.5 0.5h0m-14.5 0h0m13 0h0m-4 0h0m-35.5 1h0m22 0.5h0m21.5 0.5h0m-23 0h0m-46 0.5h0m31.5 0.5h0m43.5 0.5h0m-22 0.5h0m-4.5 0.5h0m-23.5 0.5h0m49.5 0.5h0m-3 7h0m-15 0h0m-56.5 0.5h0m40.5 0.5h0m5 0h0m26 0.5h0m-29.5 0.5h0m19 1.5h0m-34.5 0.5h0m27.5 0h0m-66 0.5h0m67 0.5h0m-15.5 1h0m17 2h0m-46.5 0.5h0m-10.5 0.5h0m9.5 0.5h0m39.5 0h0m-12 0.5h0m4 0h0m-14.5 0.5h0m17 0.5h0m-20 1h0m-3.5 0h0m27.5 0h0m5 1h0m-16.5 0h0m25 0.5h0m-66 0.5h0m53 0.5h0m-16.5 0.5h0m6.5 0h0m-47 0h0m62.5 1h0m-57 0.5h0m21 0h0m30.5 0h0m-0.5 0.5h0m12.5 2h0m-22 0.5h0m18 0h0m-22.5 0.5h0m26 0h0m-8 0h0m-3 1h0m6 1.5h0m2 0h0m-10 0.5h0m-23.5 0h0m2.5 2h0m28 0h0m-38.5 0.5h0m25 0h0m6.5 1.5h0m-32 0.5h0m13 0h0m-2 1.5h0m-15 2.5h0m11.5 2.5h0m-8.5 0.5h0" stroke="#3318b0" stroke-width="3.2" stroke-linecap="round" fill="none"/>
</g>
<ellipse cx="1226.7" cy="215.2" rx="51.3" ry="50.0" fill="none" stroke="#2a2a2a" stroke-width="1.1"/>
<clipPath id="pc201"><ellipse cx="1341.6" cy="215.2" rx="51.3" ry="50.0"/></clipPath>
<ellipse cx="1341.6" cy="215.2" rx="51.3" ry="50.0" fill="#d4d4d6"/>
<g clip-path="url(#pc201)">
<path d="M1333 167.5h0m21 1.5h0m-20 2h0m-17 2.5h0m32.5 0.5h0m-36.5 0h0m47.5 0.5h0m-33.5 1h0m42.5 1h0m-43.5 3h0m43.5 2h0m1 1.5h0m-2 0h0m-39.5 0.5h0m-9 2.5h0m-12.5 0h0m9 0.5h0m8 0.5h0m41.5 1h0m-62.5 0.5h0m27.5 2h0m9.5 3.5h0m10 1h0m-37.5 0h0m66.5 0.5h0m-52.5 0.5h0m-13.5 0.5h0m71.5 1h0m-61.5 1h0m-22 0.5h0m76 2h0m6.5 0h0m-60 0.5h0m39 1.5h0m9.5 1h0m-10.5 2h0m0 0h0m-18 1h0m31.5 1.5h0m-4.5 2h0m-47.5 2h0m-8 2.5h0m-8 0h0m-16 1h0m36 1.5h0m19.5 0.5h0m22 1h0m7 0h0m-2.5 1h0m-50 1h0m17.5 1h0m-1.5 2h0m46.5 1h0m-90.5 0h0m4 0.5h0m-8 0.5h0m71 6h0m7.5 1.5h0m-67.5 3.5h0m83.5 3h0m-38.5 2h0m0 1.5h0m-25.5 1.5h0m-2.5 1.5h0m16 4h0m16.5 1.5h0m-9 0.5h0m-18.5 1.5h0m14.5 0.5h0m12.5 0h0m8 0h0m-41 2h0m41.5 2.5h0m-27.5 0.5h0m-4.5 1h0m13 1.5h0m10 2h0" stroke="#3318b0" stroke-width="1.8" stroke-linecap="round" fill="none"/>
<path d="M1340.5 165.5h0m-6.5 3.5h0m0.5 1h0m23.5 0h0m-26.5 0h0m-6 0.5h0m18 2h0m10 0.5h0m-16.5 0h0m-21 0.5h0m41 0.5h0m1 0h0m-39.5 1h0m31.5 0h0m17 0.5h0m-31.5 0.5h0m22 0h0m6 1.5h0m-25 0h0m6.5 1h0m23 0.5h0m-61 0h0m56 2h0m13.5 0h0m-7 0.5h0m-39 1h0m37 0h0m-35.5 0h0m38 0h0m-2.5 0.5h0m-6 1h0m-52 0h0m15 0.5h0m45 0.5h0m7.5 0.5h0m-65 0h0m58 1h0m-47.5 0.5h0m57 1h0m-64.5 1h0m27 1.5h0m-44.5 1h0m71.5 1h0m-33 0.5h0m13.5 0h0m21.5 2.5h0m1.5 0h0m-69.5 0.5h0m62 0h0m-53.5 1h0m68.5 0h0m-15.5 0h0m-16 0.5h0m-33 0h0m9.5 0.5h0m-23 0.5h0m74.5 0.5h0m11.5 0.5h0m-50.5 0.5h0m1.5 0h0m-46 0.5h0m97.5 1h0m-24 0h0m22 0h0m-19.5 2.5h0m15 1h0m-31.5 0h0m-21 0.5h0m-36 1.5h0m62.5 0.5h0m-16.5 0h0m-39 0.5h0m59 0.5h0m-62.5 1h0m91.5 0.5h0m-67 0h0m15.5 2h0m-44.5 1h0m54 0h0m8.5 0h0m-3.5 0h0m-40 0.5h0m66.5 0h0m-79.5 0.5h0m69 0h0m-11 1h0m29.5 1h0m-75.5 0.5h0m39.5 4h0m-2 0h0m-11.5 1h0m12 0h0m22.5 0.5h0m-27.5 0.5h0m-18.5 0h0m2 1h0m35 0h0m-4 1.5h0m-15 0.5h0m-51 0.5h0m83.5 4h0m-47 0.5h0m16 1h0m-48.5 5.5h0m37 1h0m2.5 0h0m-4.5 0h0m-1 0h0m-15 0.5h0m-7.5 1h0m48.5 0.5h0m-60 0.5h0m36.5 1.5h0m-17 1h0m62.5 1h0m-31 0.5h0m21.5 0h0m-57.5 0h0m66 0.5h0m-76 0h0m44 0.5h0m9.5 0h0m7.5 0.5h0m-25.5 2h0m0 1.5h0m21 0h0m8 1.5h0m-19.5 0h0m-20 0h0m20.5 0h0m-17 1.5h0m-16.5 1h0m27 0.5h0m-2 0.5h0m15.5 2.5h0m-25.5 2h0m8 1h0m-4.5 2h0m11 0h0m-0.5 2h0" stroke="#3318b0" stroke-width="2.5" stroke-linecap="round" fill="none"/>
<path d="M1336 166h0m24.5 3h0m-46 4h0m16.5 0.5h0m-16.5 0h0m58.5 3h0m-55 0.5h0m7.5 1h0m-3 0.5h0m32 0.5h0m15.5 0.5h0m-24.5 0.5h0m-37.5 0.5h0m2.5 0h0m4.5 0.5h0m-3.5 0.5h0m-7.5 0h0m67.5 1h0m-57.5 0.5h0m3.5 0.5h0m17.5 0.5h0m46 0h0m-19.5 0h0m15.5 2h0m-12 0h0m17 0.5h0m-73.5 2h0m60.5 0h0m-1 0.5h0m-18 0h0m25 0.5h0m-37.5 3.5h0m27 0.5h0m-54.5 0h0m55.5 1h0m0.5 2h0m-30.5 2.5h0m7.5 0h0m1 0.5h0m18 0h0m-12.5 1h0m29.5 0.5h0m-78.5 0.5h0m17.5 0h0m35.5 0.5h0m17 0.5h0m4 1.5h0m3.5 0h0m-15 0.5h0m5 0.5h0m-60.5 0.5h0m61 0.5h0m-14 0h0m37 1.5h0m-84.5 0.5h0m63.5 1.5h0m-33 0h0m1 1.5h0m-33 1h0m76.5 2h0m-21 0h0m-3.5 1h0m-65 1.5h0m-1.5 3h0m60.5 0.5h0m-18 1h0m-22 0.5h0m3.5 0h0m-21.5 1h0m8.5 0.5h0m68.5 2h0m-59 1h0m57 0.5h0m-55.5 0h0m49 0h0m1.5 1h0m-11 0.5h0m1.5 2.5h0m-8.5 0h0m-23.5 0.5h0m32 1h0m-44 0.5h0m41 1h0m-53.5 1h0m-1.5 0h0m60 0h0m9 0.5h0m-41.5 0.5h0m29 1h0m-30.5 0h0m-10 0.5h0m7.5 9h0m57 0.5h0m-64.5 2.5h0m-3 1.5h0m22.5 1h0m16 0h0m-7 0.5h0m-3 0.5h0m24 2h0m-6.5 0.5h0m-36 2h0m14 0h0m5 0.5h0m10 1.5h0m7 4h0m-22 1.5h0" stroke="#3318b0" stroke-width="3.2" stroke-linecap="round" fill="none"/>
<path d="M1344 166h0m-7.5 9h0m17 0.5h0m-3.5 1h0m-37 2.5h0m17.5 0.5h0m5 3h0m-15.5 1h0m35.5 5h0m29.5 0.5h0m-17 1h0m-3.5 2h0m-59.5 2h0m51 3h0m-41.5 0.5h0m31.5 1h0m16 5h0m29.5 0.5h0m-44.5 2.5h0m33 0.5h0m-37 0h0m39.5 1h0m-72 3h0m57 0.5h0m15 9h0m-55 1h0m6.5 1h0m23 3h0m-45.5 2h0m48 0h0m20 0.5h0m-27.5 1.5h0m-57 0.5h0m40 2h0m-17.5 3.5h0m4.5 3.5h0m14 0.5h0m-18.5 7.5h0m47.5 0.5h0m-50.5 0.5h0m59 6h0m-47.5 2.5h0m21.5 0h0m15.5 1h0m-32.5 3.5h0m19 3.5h0" stroke="#3318b0" stroke-width="4.0" stroke-linecap="round" fill="none"/>
</g>
<ellipse cx="1341.6" cy="215.2" rx="51.3" ry="50.0" fill="none" stroke="#2a2a2a" stroke-width="1.1"/>
<clipPath id="pc202"><ellipse cx="1456.1" cy="215.2" rx="51.3" ry="50.0"/></clipPath>
<ellipse cx="1456.1" cy="215.2" rx="51.3" ry="50.0" fill="#d4d4d6"/>
<g clip-path="url(#pc202)">
<path d="M1435 172.5h0m-11.5 5h0m56 1h0m-16.5 2.5h0m-12.5 0.5h0m-19 1.5h0m-13.5 0.5h0m48.5 0.5h0m-27.5 1h0m-4.5 0.5h0m-6 0h0m56 3h0m-61.5 0h0m13 1h0m-17.5 1.5h0m26.5 0h0m20 1h0m-30 1h0m20.5 0.5h0m-43 0h0m79 1h0m-16.5 4.5h0m-20 0.5h0m46 0.5h0m-87.5 2h0m70 3.5h0m-22 1.5h0m-24 1h0m-16.5 3h0m66.5 0h0m-22 1h0m-39.5 0h0m9 1h0m27.5 1h0m-51.5 1h0m24 1h0m46.5 3.5h0m-0.5 1.5h0m-46.5 0h0m-11 0.5h0m18.5 0h0m61 1h0m-44.5 0h0m12 2.5h0m13 0h0m6 0.5h0m16 0.5h0m-17.5 2h0m-66 3h0m79 0h0m-19 6h0m-50.5 2h0m-3.5 1h0m56 3h0m-35 0h0m34 0.5h0m-22 1.5h0m-28.5 2.5h0m1 1.5h0m-7 2h0m64.5 0.5h0m-15 0.5h0m-34.5 1h0m35 0h0m12.5 0h0m-5.5 2.5h0m-38.5 3h0m26.5 2.5h0" stroke="#3318b0" stroke-width="1.8" stroke-linecap="round" fill="none"/>
<path d="M1446 168h0m12.5 0h0m-18 3h0m14.5 0h0m-19 0.5h0m17 1.5h0m-24.5 0h0m16 0h0m-3.5 2h0m-3 2h0m9 0h0m15.5 0.5h0m-8 1h0m-30.5 1h0m21.5 0h0m-0.5 0.5h0m-3 0.5h0m-6 2h0m37 0h0m-35 0.5h0m-9 0h0m20 1h0m-32.5 0.5h0m56.5 0h0m-57 0.5h0m79 2h0m-77 0.5h0m-1 0.5h0m31.5 0h0m-12.5 0.5h0m36 0.5h0m6 0.5h0m-58 0.5h0m22.5 1h0m22.5 1h0m4 0.5h0m-51.5 1h0m79 0.5h0m-73 0.5h0m14 0h0m64.5 1h0m-77.5 1.5h0m26 0h0m-12.5 0h0m26 1h0m34.5 0h0m-18.5 0h0m-68 0.5h0m-1 1h0m53 0h0m-32 0.5h0m15 0h0m33 0.5h0m-1 0.5h0m6.5 0h0m-57 0.5h0m28.5 0.5h0m-9.5 0.5h0m-8.5 0h0m12 1h0m-18.5 0.5h0m-11.5 0.5h0m54.5 2h0m-20.5 1h0m-2.5 0h0m-24 0.5h0m73.5 0.5h0m-25.5 1h0m-34.5 0.5h0m-29.5 0.5h0m6.5 0.5h0m-13.5 0.5h0m20.5 0.5h0m64 1.5h0m-69 1h0m41.5 1h0m40.5 0h0m-11 1h0m-48.5 0.5h0m57.5 2h0m-8 1.5h0m-20.5 2h0m-17 1h0m48.5 0.5h0m-36.5 0.5h0m37 0.5h0m-59 0.5h0m-4.5 0.5h0m12.5 1h0m7.5 0h0m-42.5 0.5h0m41 0.5h0m15.5 0.5h0m28.5 0h0m-13 0h0m-62 1h0m38.5 0.5h0m-19 0h0m18 0.5h0m-33.5 0.5h0m71.5 0h0m-17 0.5h0m15.5 1h0m-31 1.5h0m18 0.5h0m-13 0.5h0m21.5 0.5h0m-84.5 0.5h0m11.5 0.5h0m-14 0h0m15 1h0m36 0.5h0m15.5 2h0m13.5 0.5h0m1 0h0m-18.5 1.5h0m-43.5 0h0m57.5 0.5h0m-58.5 0h0m5 0h0m16.5 0h0m-30.5 1h0m52 0h0m-15 0.5h0m38.5 0.5h0m-37 1h0m15 1h0m-15.5 0h0m-30.5 0.5h0m67.5 0.5h0m-11 0.5h0m-27 0h0m35.5 1h0m-6 0h0m-41 0.5h0m-7 0.5h0m38.5 0.5h0m-32.5 1.5h0m-2 0.5h0m13 0.5h0m21 0h0m8.5 3h0m-37 0.5h0m-7.5 0.5h0m13.5 1.5h0m19.5 1h0m-26 1.5h0" stroke="#3318b0" stroke-width="2.5" stroke-linecap="round" fill="none"/>
<path d="M1462 168.5h0m-7.5 2h0m4 0.5h0m7 0h0m-14 1h0m0 0.5h0m10.5 0h0m-18.5 0h0m12.5 0.5h0m-4.5 0.5h0m27 0.5h0m-15.5 1h0m-9.5 0.5h0m-23.5 0.5h0m8.5 2h0m-14 2h0m22.5 2h0m-19.5 5.5h0m10 0h0m27 1.5h0m-12 0.5h0m24.5 0.5h0m-50.5 0.5h0m-14 0h0m18 1h0m42.5 0h0m-61 0.5h0m35.5 0.5h0m49 0.5h0m-75 3.5h0m71 1.5h0m9.5 0.5h0m-9 2h0m-62 0h0m-21 0.5h0m-3 0.5h0m38.5 1h0m40 0.5h0m1.5 2h0m17.5 1h0m-16 0h0m-53.5 1.5h0m69 0.5h0m-4 0.5h0m6 1.5h0m-54 0h0m17.5 0h0m-22 1.5h0m-41.5 0.5h0m69.5 0.5h0m-37.5 1h0m-2 0h0m7.5 0h0m15.5 0.5h0m-41 0.5h0m40 1h0m-53 0.5h0m95 1.5h0m-2.5 1h0m-39 1h0m40 0h0m-26 1h0m-29 0h0m38 0h0m-6 1h0m-69.5 0h0m40 0.5h0m-29.5 0h0m-6.5 0.5h0m91 0.5h0m4.5 0.5h0m-59 0.5h0m17.5 1h0m-34.5 0.5h0m-5 0h0m22.5 0.5h0m49 0.5h0m-4 1.5h0m-1 1h0m-50.5 1h0m24 1h0m-35.5 1h0m57 0h0m13 0.5h0m-38 0.5h0m-51 0h0m68.5 1h0m-56 0.5h0m28 0h0m11 0.5h0m-11.5 0.5h0m30.5 2h0m-19.5 1h0m20 0h0m-1.5 3.5h0m-5.5 0h0m-29.5 0.5h0m-29.5 0h0m40.5 2.5h0m34.5 2.5h0m-65.5 0h0m30 0.5h0m39 1h0m-36.5 0h0m24 1h0m-49.5 0h0m36.5 1h0m-33.5 1h0m20 2.5h0m-16 1h0m-0.5 2h0m-2.5 0.5h0m14.5 1.5h0m16.5 1.5h0m-4.5 1.5h0" stroke="#3318b0" stroke-width="3.2" stroke-linecap="round" fill="none"/>
<path d="M1461.5 167h0m-11.5 3h0m19 0.5h0m-12.5 3.5h0m-25 4h0m3.5 2.5h0m36.5 4h0m-47 1h0m22 0.5h0m-16.5 1.5h0m33 1h0m-44 0h0m79.5 1.5h0m-68 0.5h0m38 2h0m-43.5 0h0m38 0h0m22 6h0m-51 1.5h0m28 0h0m11.5 0.5h0m30.5 1h0m-57.5 2.5h0m1 2h0m43.5 0h0m7 0h0m-84.5 1h0m76 0h0m15.5 2.5h0m-63 1.5h0m23 2.5h0m11 2.5h0m24.5 2h0m-27.5 1.5h0m-13 0h0m23.5 0.5h0m-51.5 1.5h0m45.5 1h0m3 0.5h0m-45 0.5h0m-23.5 1.5h0m26.5 6h0m49 2h0m0.5 0.5h0m-17 0.5h0m-26.5 0h0m29 2.5h0m-24.5 1.5h0m36.5 0.5h0m-15.5 1h0m-52 2.5h0m43.5 2h0m-28.5 0h0m26.5 3h0m-11.5 1h0m39.5 1h0m-20 2h0m-45.5 0.5h0m35 0.5h0m4 12h0" stroke="#3318b0" stroke-width="4.0" stroke-linecap="round" fill="none"/>
</g>
<ellipse cx="1456.1" cy="215.2" rx="51.3" ry="50.0" fill="none" stroke="#2a2a2a" stroke-width="1.1"/>
<clipPath id="pc203"><ellipse cx="1571" cy="215.2" rx="51.3" ry="50.0"/></clipPath>
<ellipse cx="1571" cy="215.2" rx="51.3" ry="50.0" fill="#d4d4d6"/>
<g clip-path="url(#pc203)">
<path d="M1562 166.5h0m7.5 2.5h0m-13 4.5h0m38 0h0m-33 0.5h0m-21.5 1.5h0m15.5 0.5h0m46 1h0m-20 0h0m9.5 2.5h0m-17.5 0h0m4 1h0m-33 1h0m23.5 1h0m16 0.5h0m-34.5 0.5h0m-10 0h0m71.5 1h0m-79 0.5h0m70 0.5h0m-11 0.5h0m21.5 2h0m-62.5 1h0m17.5 2h0m-31.5 0.5h0m11.5 1.5h0m7 0h0m58 0.5h0m-59 1.5h0m48 1.5h0m10.5 0.5h0m-37 0.5h0m10.5 0.5h0m-59.5 0.5h0m15 0h0m16 0.5h0m21 0.5h0m1 0h0m-30.5 0.5h0m27.5 1.5h0m39.5 2.5h0m-54 1.5h0m10.5 1h0m31 0.5h0m14.5 1.5h0m-75 1.5h0m69 0.5h0m-85.5 2h0m56.5 1h0m-29 0h0m-23 0h0m90.5 2.5h0m-58.5 0.5h0m-14 2h0m13 0.5h0m52 0.5h0m-59.5 0h0m19 1.5h0m-24 3.5h0m67.5 0h0m-4 1h0m-83 0.5h0m75 1h0m-79 2h0m26 1h0m-27.5 3.5h0m93 2h0m-87.5 0h0m5 0.5h0m37.5 3.5h0m-36.5 10.5h0m68.5 0.5h0m-51 3.5h0m-10 2.5h0" stroke="#3318b0" stroke-width="1.8" stroke-linecap="round" fill="none"/>
<path d="M1564.5 165.5h0m19 2h0m-11.5 1.5h0m10.5 1h0m-12.5 0.5h0m6 1h0m-0.5 0.5h0m-26.5 0h0m1.5 0.5h0m33 0.5h0m-4.5 0h0m-3 2h0m-27.5 0h0m21.5 0.5h0m21.5 0h0m-25.5 0.5h0m35.5 0.5h0m-57 0h0m30 0.5h0m-34 0h0m38.5 0h0m-23.5 0h0m-16.5 0h0m21.5 0h0m28.5 0.5h0m9 0.5h0m-4.5 1h0m-6 1h0m12.5 0.5h0m-6.5 0.5h0m-21 0.5h0m-27 0h0m28 0h0m-13.5 0.5h0m32 0.5h0m-46 0h0m28.5 0h0m-14.5 0.5h0m-23.5 0h0m40 0.5h0m-29.5 0.5h0m5.5 0.5h0m-3.5 1h0m58.5 0h0m-18.5 0.5h0m-55 0h0m-0.5 0h0m56.5 0h0m-46 0h0m1.5 0.5h0m7 0.5h0m7.5 0h0m-23 0.5h0m36.5 1h0m-23 0h0m-4 0.5h0m44.5 1h0m-26 0h0m29.5 0h0m-62 0.5h0m-2 0h0m12.5 0.5h0m53.5 0.5h0m-56 0h0m52 0h0m-49 0h0m35.5 1h0m-22 1h0m11 0h0m-21 0h0m58 0h0m-11.5 0h0m3 0h0m-27.5 1h0m-43 0.5h0m55.5 0h0m-0.5 0.5h0m1 1h0m-52 1.5h0m33.5 1h0m52 0h0m-28.5 0.5h0m-7.5 0h0m-13.5 0h0m-19.5 0.5h0m25 0h0m-4 0.5h0m7 0.5h0m36.5 0.5h0m-26 0h0m-18.5 0h0m17.5 0h0m2.5 1h0m-14.5 1h0m14 1h0m-19.5 0h0m-14 0h0m34 1.5h0m-42 3h0m-19 0.5h0m89.5 0h0m-88 0h0m-4.5 0h0m17.5 0.5h0m-5 0.5h0m84.5 0.5h0m-10 0h0m-88 0h0m88 0.5h0m-32.5 0h0m28 1h0m2 0h0m-35.5 0.5h0m8.5 0h0m-24.5 0h0m25 0h0m4 0.5h0m-39 0h0m-22 1.5h0m57.5 0h0m-24 1h0m59 1h0m-93.5 1h0m93.5 0.5h0m-73.5 0h0m41 0h0m32.5 1h0m-56.5 0h0m59 0h0m-29.5 1h0m22 0.5h0m-28.5 1h0m-16.5 0h0m30.5 0h0m12 2h0m-20 0h0m-53.5 0h0m33.5 0.5h0m29.5 1.5h0m18.5 1h0m-5 0.5h0m-29.5 1h0m-21 1.5h0m-22.5 0h0m61 1.5h0m7.5 0.5h0m2.5 1h0m2.5 1.5h0m-5.5 0.5h0m-44.5 0.5h0m47.5 3.5h0m3.5 1.5h0m-3 2h0m-58.5 1h0m-13.5 0.5h0m64.5 0.5h0m5.5 1.5h0m-0.5 0.5h0m-9 1h0m-42.5 2h0m18.5 0.5h0m27.5 1h0m-1 2h0m1 0h0m-11.5 1h0m1 3.5h0m-33.5 1.5h0m30 2.5h0" stroke="#3318b0" stroke-width="2.5" stroke-linecap="round" fill="none"/>
<path d="M1569.5 165.5h0m-1 0.5h0m1 0h0m8.5 0h0m3 0.5h0m1.5 2h0m-27.5 0.5h0m5.5 1h0m7.5 0.5h0m-12 2h0m22.5 0.5h0m-22.5 0.5h0m-6.5 0h0m28.5 0.5h0m10.5 0h0m12 2.5h0m-12 0.5h0m-47.5 0h0m30 0h0m7 0.5h0m-31 0h0m10.5 1.5h0m-19 0h0m44.5 0h0m-17.5 0h0m17.5 0h0m-8.5 0.5h0m-33.5 0.5h0m-5 1.5h0m50 0h0m-16 0h0m-19.5 2h0m8 0.5h0m49 1.5h0m-32 0.5h0m-40.5 0h0m6.5 0.5h0m26.5 0h0m40 0h0m-9.5 0.5h0m-29.5 1h0m-5.5 0.5h0m-4 0h0m16 2.5h0m13.5 0.5h0m-40 0.5h0m38 0h0m-29 0h0m-3.5 0h0m-20.5 0.5h0m57 0.5h0m-35 1.5h0m8.5 0h0m-3.5 0h0m-8.5 0h0m13.5 0.5h0m-15 0h0m65.5 0h0m-3.5 0.5h0m-43.5 0h0m31 0h0m-55.5 1h0m-20 0h0m32.5 1.5h0m-6 0.5h0m27.5 1h0m31 1h0m-57 1h0m39 0.5h0m-23 0h0m-22.5 1.5h0m-10 0.5h0m2 0h0m26 0h0m20.5 0h0m-40.5 1h0m9.5 0h0m42.5 0h0m-35 1h0m-23.5 1h0m21.5 0h0m41.5 1.5h0m-29.5 0.5h0m-20.5 0h0m61.5 0.5h0m-1 1h0m-41 0h0m-27.5 0.5h0m50.5 1h0m0.5 0.5h0m28 0.5h0m-60.5 1h0m50 1h0m-10 0h0m-43 0.5h0m56.5 3h0m3.5 3h0m-10.5 1.5h0m-60.5 0.5h0m-25.5 0h0m21 0.5h0m-18 1.5h0m2.5 1h0m35 1.5h0m3 4h0m48 1.5h0m-86.5 1h0m84 0.5h0m-4 1h0m2 5.5h0m-24.5 0.5h0m26 0.5h0m-10 4h0m-31.5 5.5h0m14.5 3h0m-30.5 4.5h0" stroke="#3318b0" stroke-width="3.2" stroke-linecap="round" fill="none"/>
<path d="M1564.5 166.5h0m-1.5 2h0m15 1.5h0m-23 0h0m-8 1.5h0m-3 1.5h0m36.5 0.5h0m-13 0.5h0m-16.5 0h0m47 1h0m-37.5 1h0m24 2h0m-6.5 0.5h0m-9.5 0h0m-0.5 0.5h0m-15 0.5h0m-8.5 0.5h0m61 0h0m-21.5 0h0m-2.5 2h0m-48 0.5h0m29.5 1h0m-7 3.5h0m-7 1h0m15 0.5h0m5.5 2h0m10 1h0m-1.5 4h0m-24 1h0m-24 1.5h0m-5 3h0m21 0.5h0m-13.5 1.5h0m34.5 1h0m-9.5 0h0m0.5 0.5h0m-17 1.5h0m61 5h0m5 3h0m-22 1.5h0m34 0h0m-62.5 0.5h0m41 0h0m13 0.5h0m-10 4.5h0m5 3.5h0m-15 2h0m-63.5 6h0m72.5 10h0m-1 6h0m-1 0.5h0m9.5 1h0" stroke="#3318b0" stroke-width="4.0" stroke-linecap="round" fill="none"/>
</g>
<ellipse cx="1571" cy="215.2" rx="51.3" ry="50.0" fill="none" stroke="#2a2a2a" stroke-width="1.1"/>
<rect x="1693.8" y="35.8" width="17" height="8.4" fill="#92bff8" stroke="#222" stroke-width="1"/>
<text x="1720.6" y="44.6" font-size="13.2">JMJD2C</text>
<rect x="1693.8" y="54" width="17" height="8.4" fill="#fc9fa2" stroke="#222" stroke-width="1"/>
<text x="1720.6" y="62.8" font-size="13.2">JMJD2C+sh-MALAT1</text>
<rect x="1693.8" y="72.2" width="17" height="8.4" fill="#007b00" stroke="#222" stroke-width="1"/>
<text x="1720.6" y="81" font-size="13.2">JMJD2C+miR-503-5p mimic</text>
<rect x="1693.8" y="90.4" width="17" height="8.4" fill="#b07dc2" stroke="#222" stroke-width="1"/>
<text x="1720.6" y="99.2" font-size="13.2">JMJD2C+sh-SEPT2</text>
<line x1="1685.7" y1="102.2" x2="1685.7" y2="274.4" stroke="#3c3c3c" stroke-width="1.3"/>
<line x1="1685" y1="273.8" x2="1945" y2="273.8" stroke="#3c3c3c" stroke-width="1.3"/>
<line x1="1680.4" y1="273.8" x2="1685.7" y2="273.8" stroke="#3c3c3c" stroke-width="1.3"/>
<text x="1678.7" y="278.7" text-anchor="end" font-size="14">0.0</text>
<line x1="1680.4" y1="216.6" x2="1685.7" y2="216.6" stroke="#3c3c3c" stroke-width="1.3"/>
<text x="1678.7" y="221.5" text-anchor="end" font-size="14">0.5</text>
<line x1="1680.4" y1="159.4" x2="1685.7" y2="159.4" stroke="#3c3c3c" stroke-width="1.3"/>
<text x="1678.7" y="164.3" text-anchor="end" font-size="14">1.0</text>
<line x1="1680.4" y1="102.2" x2="1685.7" y2="102.2" stroke="#3c3c3c" stroke-width="1.3"/>
<text x="1678.7" y="107.1" text-anchor="end" font-size="14">1.5</text>
<line x1="1709.3" y1="153.7" x2="1709.3" y2="159.4" stroke="#222" stroke-width="1.2"/>
<line x1="1704.6" y1="153.7" x2="1714" y2="153.7" stroke="#222" stroke-width="1.3"/>
<rect x="1700.3" y="159.4" width="18" height="114.4" fill="#92bff8" stroke="#222" stroke-width="1"/>
<line x1="1736.8" y1="209.7" x2="1736.8" y2="216.6" stroke="#222" stroke-width="1.2"/>
<line x1="1732.1" y1="209.7" x2="1741.5" y2="209.7" stroke="#222" stroke-width="1.3"/>
<rect x="1727.8" y="216.6" width="18" height="57.2" fill="#fc9fa2" stroke="#222" stroke-width="1"/>
<line x1="1764.3" y1="210.9" x2="1764.3" y2="218.9" stroke="#222" stroke-width="1.2"/>
<line x1="1759.6" y1="210.9" x2="1769" y2="210.9" stroke="#222" stroke-width="1.3"/>
<rect x="1755.3" y="218.9" width="18" height="54.9" fill="#007b00" stroke="#222" stroke-width="1"/>
<line x1="1791.8" y1="216.6" x2="1791.8" y2="221.2" stroke="#222" stroke-width="1.2"/>
<line x1="1787.1" y1="216.6" x2="1796.5" y2="216.6" stroke="#222" stroke-width="1.3"/>
<rect x="1782.8" y="221.2" width="18" height="52.6" fill="#b07dc2" stroke="#222" stroke-width="1"/>
<line x1="1750.5" y1="273.8" x2="1750.5" y2="278.8" stroke="#3c3c3c" stroke-width="1.3"/>
<text x="1752.5" y="292.8" text-anchor="middle" font-size="14">H1299</text>
<line x1="1838" y1="151.4" x2="1838" y2="159.4" stroke="#222" stroke-width="1.2"/>
<line x1="1833.3" y1="151.4" x2="1842.7" y2="151.4" stroke="#222" stroke-width="1.3"/>
<rect x="1829" y="159.4" width="18" height="114.4" fill="#92bff8" stroke="#222" stroke-width="1"/>
<line x1="1865.5" y1="214.3" x2="1865.5" y2="218.9" stroke="#222" stroke-width="1.2"/>
<line x1="1860.8" y1="214.3" x2="1870.2" y2="214.3" stroke="#222" stroke-width="1.3"/>
<rect x="1856.5" y="218.9" width="18" height="54.9" fill="#fc9fa2" stroke="#222" stroke-width="1"/>
<line x1="1893" y1="215.5" x2="1893" y2="221.2" stroke="#222" stroke-width="1.2"/>
<line x1="1888.3" y1="215.5" x2="1897.7" y2="215.5" stroke="#222" stroke-width="1.3"/>
<rect x="1884" y="221.2" width="18" height="52.6" fill="#007b00" stroke="#222" stroke-width="1"/>
<line x1="1920.5" y1="216.6" x2="1920.5" y2="223.5" stroke="#222" stroke-width="1.2"/>
<line x1="1915.8" y1="216.6" x2="1925.2" y2="216.6" stroke="#222" stroke-width="1.3"/>
<rect x="1911.5" y="223.5" width="18" height="50.3" fill="#b07dc2" stroke="#222" stroke-width="1"/>
<line x1="1879.2" y1="273.8" x2="1879.2" y2="278.8" stroke="#3c3c3c" stroke-width="1.3"/>
<text x="1881.2" y="292.8" text-anchor="middle" font-size="14">A549</text>
<text x="1653.5" y="188" text-anchor="middle" font-size="14" transform="rotate(-90 1653.5 188)">Relative cell number</text>
<polyline points="1709.4,147.5 1709.4,142.3 1757.7,142.3 1757.7,147.5" stroke="#3c3c3c" stroke-width="1.3" fill="none"/>
<text x="1733" y="141.5" text-anchor="middle" font-size="15.5">***</text>
<line x1="1729.7" y1="156" x2="1786" y2="156" stroke="#3c3c3c" stroke-width="1.3"/>
<polyline points="1838.7,145.4 1838.7,140.2 1887.3,140.2 1887.3,145.4" stroke="#3c3c3c" stroke-width="1.3" fill="none"/>
<text x="1862.5" y="139.5" text-anchor="middle" font-size="15.5">***</text>
<line x1="1859.4" y1="153.6" x2="1915.5" y2="153.6" stroke="#3c3c3c" stroke-width="1.3"/>
<rect x="1693.8" y="347.1" width="17" height="8.4" fill="#92bff8" stroke="#222" stroke-width="1"/>
<text x="1719.7" y="355.9" font-size="13.2">JMJD2C</text>
<rect x="1693.8" y="365.1" width="17" height="8.4" fill="#fc9fa2" stroke="#222" stroke-width="1"/>
<text x="1719.7" y="373.9" font-size="13.2">JMJD2C+sh-MALAT1</text>
<rect x="1693.8" y="383.1" width="17" height="8.4" fill="#007b00" stroke="#222" stroke-width="1"/>
<text x="1719.7" y="391.9" font-size="13.2">JMJD2C+miR-503-5p mimic</text>
<rect x="1693.8" y="401.1" width="17" height="8.4" fill="#b07dc2" stroke="#222" stroke-width="1"/>
<text x="1719.7" y="409.9" font-size="13.2">JMJD2C+sh-SEPT2</text>
<line x1="1685.7" y1="413.1" x2="1685.7" y2="585" stroke="#3c3c3c" stroke-width="1.3"/>
<line x1="1685" y1="584.4" x2="1945" y2="584.4" stroke="#3c3c3c" stroke-width="1.3"/>
<line x1="1680.4" y1="584.4" x2="1685.7" y2="584.4" stroke="#3c3c3c" stroke-width="1.3"/>
<text x="1678.7" y="589.3" text-anchor="end" font-size="14">0</text>
<line x1="1680.4" y1="527.3" x2="1685.7" y2="527.3" stroke="#3c3c3c" stroke-width="1.3"/>
<text x="1678.7" y="532.2" text-anchor="end" font-size="14">5</text>
<line x1="1680.4" y1="470.2" x2="1685.7" y2="470.2" stroke="#3c3c3c" stroke-width="1.3"/>
<text x="1678.7" y="475.1" text-anchor="end" font-size="14">10</text>
<line x1="1680.4" y1="413.1" x2="1685.7" y2="413.1" stroke="#3c3c3c" stroke-width="1.3"/>
<text x="1678.7" y="418" text-anchor="end" font-size="14">15</text>
<line x1="1709" y1="521.6" x2="1709" y2="525.6" stroke="#222" stroke-width="1.2"/>
<line x1="1704.3" y1="521.6" x2="1713.7" y2="521.6" stroke="#222" stroke-width="1.3"/>
<rect x="1700" y="525.6" width="18" height="58.8" fill="#92bff8" stroke="#222" stroke-width="1"/>
<line x1="1736.5" y1="459.9" x2="1736.5" y2="468.5" stroke="#222" stroke-width="1.2"/>
<line x1="1731.8" y1="459.9" x2="1741.2" y2="459.9" stroke="#222" stroke-width="1.3"/>
<rect x="1727.5" y="468.5" width="18" height="115.9" fill="#fc9fa2" stroke="#222" stroke-width="1"/>
<line x1="1764" y1="463.9" x2="1764" y2="471.3" stroke="#222" stroke-width="1.2"/>
<line x1="1759.3" y1="463.9" x2="1768.7" y2="463.9" stroke="#222" stroke-width="1.3"/>
<rect x="1755" y="471.3" width="18" height="113.1" fill="#007b00" stroke="#222" stroke-width="1"/>
<line x1="1791.5" y1="451.9" x2="1791.5" y2="462.2" stroke="#222" stroke-width="1.2"/>
<line x1="1786.8" y1="451.9" x2="1796.2" y2="451.9" stroke="#222" stroke-width="1.3"/>
<rect x="1782.5" y="462.2" width="18" height="122.2" fill="#b07dc2" stroke="#222" stroke-width="1"/>
<line x1="1750.2" y1="584.4" x2="1750.2" y2="589.4" stroke="#3c3c3c" stroke-width="1.3"/>
<text x="1752.2" y="603.4" text-anchor="middle" font-size="14">H1299</text>
<line x1="1837.6" y1="545" x2="1837.6" y2="547.9" stroke="#222" stroke-width="1.2"/>
<line x1="1832.9" y1="545" x2="1842.3" y2="545" stroke="#222" stroke-width="1.3"/>
<rect x="1828.6" y="547.9" width="18" height="36.5" fill="#92bff8" stroke="#222" stroke-width="1"/>
<line x1="1865.1" y1="488.5" x2="1865.1" y2="495.3" stroke="#222" stroke-width="1.2"/>
<line x1="1860.4" y1="488.5" x2="1869.8" y2="488.5" stroke="#222" stroke-width="1.3"/>
<rect x="1856.1" y="495.3" width="18" height="89.1" fill="#fc9fa2" stroke="#222" stroke-width="1"/>
<line x1="1892.6" y1="496.5" x2="1892.6" y2="502.7" stroke="#222" stroke-width="1.2"/>
<line x1="1887.9" y1="496.5" x2="1897.3" y2="496.5" stroke="#222" stroke-width="1.3"/>
<rect x="1883.6" y="502.7" width="18" height="81.7" fill="#007b00" stroke="#222" stroke-width="1"/>
<line x1="1920.1" y1="485" x2="1920.1" y2="492.5" stroke="#222" stroke-width="1.2"/>
<line x1="1915.4" y1="485" x2="1924.8" y2="485" stroke="#222" stroke-width="1.3"/>
<rect x="1911.1" y="492.5" width="18" height="91.9" fill="#b07dc2" stroke="#222" stroke-width="1"/>
<line x1="1878.8" y1="584.4" x2="1878.8" y2="589.4" stroke="#3c3c3c" stroke-width="1.3"/>
<text x="1880.8" y="603.4" text-anchor="middle" font-size="14">A549</text>
<text x="1655" y="502.5" text-anchor="middle" font-size="12.8" transform="rotate(-90 1655 502.5)">Percentage of apoptotic cells</text>
<polyline points="1706.4,440.8 1706.4,433.8 1766.2,433.8 1766.2,440.8" stroke="#3c3c3c" stroke-width="1.3" fill="none"/>
<text x="1736.7" y="430" text-anchor="middle" font-size="15.5">***</text>
<line x1="1734.3" y1="446.9" x2="1792" y2="446.9" stroke="#3c3c3c" stroke-width="1.3"/>
<polyline points="1833.3,471.2 1833.3,464.5 1892.8,464.5 1892.8,471.2" stroke="#3c3c3c" stroke-width="1.3" fill="none"/>
<text x="1860.6" y="459" text-anchor="middle" font-size="15.5">***</text>
<line x1="1862.4" y1="477.8" x2="1919.5" y2="477.8" stroke="#3c3c3c" stroke-width="1.3"/>
<rect x="713.2" y="666.6" width="17" height="8.4" fill="#92bff8" stroke="#222" stroke-width="1"/>
<text x="739.2" y="675.4" font-size="13.2">JMJD2C</text>
<rect x="713.2" y="685" width="17" height="8.4" fill="#fc9fa2" stroke="#222" stroke-width="1"/>
<text x="739.2" y="693.8" font-size="13.2">JMJD2C+sh-MALAT1</text>
<rect x="713.2" y="703.4" width="17" height="8.4" fill="#007b00" stroke="#222" stroke-width="1"/>
<text x="739.2" y="712.2" font-size="13.2">JMJD2C+miR-503-5p mimic</text>
<rect x="713.2" y="721.8" width="17" height="8.4" fill="#b07dc2" stroke="#222" stroke-width="1"/>
<text x="739.2" y="730.6" font-size="13.2">JMJD2C+sh-SEPT2</text>
<line x1="704.5" y1="730.1" x2="704.5" y2="902.4" stroke="#3c3c3c" stroke-width="1.3"/>
<line x1="703.9" y1="901.7" x2="960" y2="901.7" stroke="#3c3c3c" stroke-width="1.3"/>
<line x1="699.2" y1="901.7" x2="704.5" y2="901.7" stroke="#3c3c3c" stroke-width="1.3"/>
<text x="697.5" y="906.6" text-anchor="end" font-size="14">0.0</text>
<line x1="699.2" y1="844.5" x2="704.5" y2="844.5" stroke="#3c3c3c" stroke-width="1.3"/>
<text x="697.5" y="849.4" text-anchor="end" font-size="14">0.5</text>
<line x1="699.2" y1="787.3" x2="704.5" y2="787.3" stroke="#3c3c3c" stroke-width="1.3"/>
<text x="697.5" y="792.2" text-anchor="end" font-size="14">1.0</text>
<line x1="699.2" y1="730.1" x2="704.5" y2="730.1" stroke="#3c3c3c" stroke-width="1.3"/>
<text x="697.5" y="735" text-anchor="end" font-size="14">1.5</text>
<line x1="727.8" y1="781.6" x2="727.8" y2="787.3" stroke="#222" stroke-width="1.2"/>
<line x1="723.1" y1="781.6" x2="732.5" y2="781.6" stroke="#222" stroke-width="1.3"/>
<rect x="718.8" y="787.3" width="18" height="114.4" fill="#92bff8" stroke="#222" stroke-width="1"/>
<line x1="755.3" y1="828.5" x2="755.3" y2="839.9" stroke="#222" stroke-width="1.2"/>
<line x1="750.6" y1="828.5" x2="760" y2="828.5" stroke="#222" stroke-width="1.3"/>
<rect x="746.3" y="839.9" width="18" height="61.8" fill="#fc9fa2" stroke="#222" stroke-width="1"/>
<line x1="782.8" y1="833.1" x2="782.8" y2="842.2" stroke="#222" stroke-width="1.2"/>
<line x1="778.1" y1="833.1" x2="787.5" y2="833.1" stroke="#222" stroke-width="1.3"/>
<rect x="773.8" y="842.2" width="18" height="59.5" fill="#007b00" stroke="#222" stroke-width="1"/>
<line x1="810.3" y1="838.8" x2="810.3" y2="845.6" stroke="#222" stroke-width="1.2"/>
<line x1="805.6" y1="838.8" x2="815" y2="838.8" stroke="#222" stroke-width="1.3"/>
<rect x="801.3" y="845.6" width="18" height="56.1" fill="#b07dc2" stroke="#222" stroke-width="1"/>
<line x1="769" y1="901.7" x2="769" y2="906.7" stroke="#3c3c3c" stroke-width="1.3"/>
<text x="769.8" y="921.2" text-anchor="middle" font-size="14">H1299</text>
<line x1="856.8" y1="782.7" x2="856.8" y2="787.3" stroke="#222" stroke-width="1.2"/>
<line x1="852.1" y1="782.7" x2="861.5" y2="782.7" stroke="#222" stroke-width="1.3"/>
<rect x="847.8" y="787.3" width="18" height="114.4" fill="#92bff8" stroke="#222" stroke-width="1"/>
<line x1="884.3" y1="841.1" x2="884.3" y2="847.9" stroke="#222" stroke-width="1.2"/>
<line x1="879.6" y1="841.1" x2="889" y2="841.1" stroke="#222" stroke-width="1.3"/>
<rect x="875.3" y="847.9" width="18" height="53.8" fill="#fc9fa2" stroke="#222" stroke-width="1"/>
<line x1="911.8" y1="841.1" x2="911.8" y2="849.1" stroke="#222" stroke-width="1.2"/>
<line x1="907.1" y1="841.1" x2="916.5" y2="841.1" stroke="#222" stroke-width="1.3"/>
<rect x="902.8" y="849.1" width="18" height="52.6" fill="#007b00" stroke="#222" stroke-width="1"/>
<line x1="939.3" y1="842.2" x2="939.3" y2="852.5" stroke="#222" stroke-width="1.2"/>
<line x1="934.6" y1="842.2" x2="944" y2="842.2" stroke="#222" stroke-width="1.3"/>
<rect x="930.3" y="852.5" width="18" height="49.2" fill="#b07dc2" stroke="#222" stroke-width="1"/>
<line x1="898" y1="901.7" x2="898" y2="906.7" stroke="#3c3c3c" stroke-width="1.3"/>
<text x="898.8" y="921.2" text-anchor="middle" font-size="14">A549</text>
<text x="671.2" y="811.7" text-anchor="middle" font-size="14.6" transform="rotate(-90 671.2 811.7)">Relative cell number</text>
<polyline points="727.5,775.6 727.5,770 776,770 776,775.6" stroke="#3c3c3c" stroke-width="1.3" fill="none"/>
<text x="750.7" y="769.5" text-anchor="middle" font-size="15.5">***</text>
<line x1="748" y1="783.8" x2="804.4" y2="783.8" stroke="#3c3c3c" stroke-width="1.3"/>
<polyline points="857.5,773 857.5,768 905.3,768 905.3,773" stroke="#3c3c3c" stroke-width="1.3" fill="none"/>
<text x="880.7" y="766.5" text-anchor="middle" font-size="15.5">***</text>
<line x1="878.1" y1="781.5" x2="934.1" y2="781.5" stroke="#3c3c3c" stroke-width="1.3"/>
<text x="800.5" y="646" text-anchor="middle" font-size="14">Migration</text>
<rect x="1695.9" y="666.6" width="17" height="8.4" fill="#92bff8" stroke="#222" stroke-width="1"/>
<text x="1722.6" y="675.4" font-size="13.2">JMJD2C</text>
<rect x="1695.9" y="685" width="17" height="8.4" fill="#fc9fa2" stroke="#222" stroke-width="1"/>
<text x="1722.6" y="693.8" font-size="13.2">JMJD2C+sh-MALAT1</text>
<rect x="1695.9" y="703.4" width="17" height="8.4" fill="#007b00" stroke="#222" stroke-width="1"/>
<text x="1722.6" y="712.2" font-size="13.2">JMJD2C+miR-503-5p mimic</text>
<rect x="1695.9" y="721.8" width="17" height="8.4" fill="#b07dc2" stroke="#222" stroke-width="1"/>
<text x="1722.6" y="730.6" font-size="13.2">JMJD2C+sh-SEPT2</text>
<line x1="1685.9" y1="730.1" x2="1685.9" y2="902.4" stroke="#3c3c3c" stroke-width="1.3"/>
<line x1="1685.2" y1="901.7" x2="1945" y2="901.7" stroke="#3c3c3c" stroke-width="1.3"/>
<line x1="1680.6" y1="901.7" x2="1685.9" y2="901.7" stroke="#3c3c3c" stroke-width="1.3"/>
<text x="1678.9" y="906.6" text-anchor="end" font-size="14">0.0</text>
<line x1="1680.6" y1="844.5" x2="1685.9" y2="844.5" stroke="#3c3c3c" stroke-width="1.3"/>
<text x="1678.9" y="849.4" text-anchor="end" font-size="14">0.5</text>
<line x1="1680.6" y1="787.3" x2="1685.9" y2="787.3" stroke="#3c3c3c" stroke-width="1.3"/>
<text x="1678.9" y="792.2" text-anchor="end" font-size="14">1.0</text>
<line x1="1680.6" y1="730.1" x2="1685.9" y2="730.1" stroke="#3c3c3c" stroke-width="1.3"/>
<text x="1678.9" y="735" text-anchor="end" font-size="14">1.5</text>
<line x1="1709.5" y1="779.3" x2="1709.5" y2="787.3" stroke="#222" stroke-width="1.2"/>
<line x1="1704.8" y1="779.3" x2="1714.2" y2="779.3" stroke="#222" stroke-width="1.3"/>
<rect x="1700.5" y="787.3" width="18" height="114.4" fill="#92bff8" stroke="#222" stroke-width="1"/>
<line x1="1737" y1="834.2" x2="1737" y2="843.4" stroke="#222" stroke-width="1.2"/>
<line x1="1732.3" y1="834.2" x2="1741.7" y2="834.2" stroke="#222" stroke-width="1.3"/>
<rect x="1728" y="843.4" width="18" height="58.3" fill="#fc9fa2" stroke="#222" stroke-width="1"/>
<line x1="1764.5" y1="838.8" x2="1764.5" y2="846.8" stroke="#222" stroke-width="1.2"/>
<line x1="1759.8" y1="838.8" x2="1769.2" y2="838.8" stroke="#222" stroke-width="1.3"/>
<rect x="1755.5" y="846.8" width="18" height="54.9" fill="#007b00" stroke="#222" stroke-width="1"/>
<line x1="1792" y1="843.4" x2="1792" y2="849.1" stroke="#222" stroke-width="1.2"/>
<line x1="1787.3" y1="843.4" x2="1796.7" y2="843.4" stroke="#222" stroke-width="1.3"/>
<rect x="1783" y="849.1" width="18" height="52.6" fill="#b07dc2" stroke="#222" stroke-width="1"/>
<line x1="1750.8" y1="901.7" x2="1750.8" y2="906.7" stroke="#3c3c3c" stroke-width="1.3"/>
<text x="1751.5" y="921.2" text-anchor="middle" font-size="14">H1299</text>
<line x1="1838.3" y1="780.4" x2="1838.3" y2="787.3" stroke="#222" stroke-width="1.2"/>
<line x1="1833.6" y1="780.4" x2="1843" y2="780.4" stroke="#222" stroke-width="1.3"/>
<rect x="1829.3" y="787.3" width="18" height="114.4" fill="#92bff8" stroke="#222" stroke-width="1"/>
<line x1="1865.8" y1="845.6" x2="1865.8" y2="850.2" stroke="#222" stroke-width="1.2"/>
<line x1="1861.1" y1="845.6" x2="1870.5" y2="845.6" stroke="#222" stroke-width="1.3"/>
<rect x="1856.8" y="850.2" width="18" height="51.5" fill="#fc9fa2" stroke="#222" stroke-width="1"/>
<line x1="1893.3" y1="846.8" x2="1893.3" y2="852.5" stroke="#222" stroke-width="1.2"/>
<line x1="1888.6" y1="846.8" x2="1898" y2="846.8" stroke="#222" stroke-width="1.3"/>
<rect x="1884.3" y="852.5" width="18" height="49.2" fill="#007b00" stroke="#222" stroke-width="1"/>
<line x1="1920.8" y1="850.2" x2="1920.8" y2="853.7" stroke="#222" stroke-width="1.2"/>
<line x1="1916.1" y1="850.2" x2="1925.5" y2="850.2" stroke="#222" stroke-width="1.3"/>
<rect x="1911.8" y="853.7" width="18" height="48" fill="#b07dc2" stroke="#222" stroke-width="1"/>
<line x1="1879.5" y1="901.7" x2="1879.5" y2="906.7" stroke="#3c3c3c" stroke-width="1.3"/>
<text x="1880.3" y="921.2" text-anchor="middle" font-size="14">A549</text>
<text x="1652.6" y="811.7" text-anchor="middle" font-size="14.6" transform="rotate(-90 1652.6 811.7)">Relative cell number</text>
<polyline points="1709.5,775.5 1709.5,770 1757.7,770 1757.7,775.5" stroke="#3c3c3c" stroke-width="1.3" fill="none"/>
<text x="1732.4" y="769.5" text-anchor="middle" font-size="15.5">***</text>
<line x1="1729.8" y1="783.8" x2="1786.5" y2="783.8" stroke="#3c3c3c" stroke-width="1.3"/>
<polyline points="1838.9,773 1838.9,768 1887.4,768 1887.4,773" stroke="#3c3c3c" stroke-width="1.3" fill="none"/>
<text x="1862.1" y="766.5" text-anchor="middle" font-size="15.5">***</text>
<line x1="1860.2" y1="781.5" x2="1915.9" y2="781.5" stroke="#3c3c3c" stroke-width="1.3"/>
<text x="1787.1" y="648" text-anchor="middle" font-size="14">Invasion</text>
<text x="451" y="339.5" text-anchor="middle" font-size="14">H1299</text>
<line x1="117.8" y1="355.4" x2="776.5" y2="355.4" stroke="#222" stroke-width="1.2"/>
<text x="1243" y="339.5" text-anchor="middle" font-size="14">A549</text>
<line x1="902" y1="355.4" x2="1560.7" y2="355.4" stroke="#222" stroke-width="1.2"/>
<path d="M146.5 441h0m-3 5.5h0m15-4h0m-27.5 10h0m9.5-0.5h0m15.5 1h0m-11.5 5.5h0m1.5-5h0m4 4.5h0m1 0.5h0m3.5-0.5h0m2-2h0m8 0h0m3-1h0m-32.5 6.5h0m2.5 0h0m0.5-1h0m3 0h0m3 4h0m0.5-2h0m6-1h0m2 0h0m3 2.5h0m5.5-4h0m0.5 0h0m2.5 2.5h0m2.5 0h0m0.5-2.5h0m-34 9.5h0m5 1.5h0m2.5-0.5h0m5.5-0.5h0m2 0.5h0m0.5-2h0m0.5-1.5h0m1 3h0m1.5-2.5h0m0-0.5h0m0.5 3.5h0m5.5 0.5h0m2.5-1.5h0m1 1h0m2.5-4h0m2 1h0m6.5 3.5h0m3.5-4.5h0m-57 6.5h0m7.5-0.5h0m1.5 1h0m0.5 3h0m3-2.5h0m1.5-0.5h0m2 0h0m1 0h0m3 2.5h0m1 0.5h0m1.5-5.5h0m2 2.5h0m2.5 2h0m2-0.5h0m0-1.5h0m1 2.5h0m0.5-2.5h0m0.5 1.5h0m0.5-0.5h0m1 2h0m3.5-2.5h0m0.5 1h0m1 0.5h0m0.5-4h0m2 3h0m0.5 2h0m3-2.5h0m0-1.5h0m0 1.5h0m2-0.5h0m6 0.5h0m-70 7h0m10-3h0m2.5 4.5h0m3.5-2.5h0m5-1.5h0m6.5-0.5h0m1-1h0m1 2.5h0m1-1h0m4.5-0.5h0m1 2h0m1.5 0h0m0.5-1h0m0.5 1h0m1.5-1h0m2 3.5h0m0.5-1h0m0.5-4h0m0.5 1.5h0m1.5 1h0m1.5-1.5h0m0.5 4h0m0.5-5h0m2.5 3.5h0m0.5 0.5h0m0.5-2h0m0.5 1.5h0m1.5 1h0m5-1.5h0m0-2.5h0m4.5 5h0m4.5-3h0m3.5 3h0m-81 5.5h0m21.5-1h0m4.5-2h0m5.5 2h0m5-2h0m1.5 3.5h0m7.5-6h0m1.5 2h0m1-1.5h0m0 3h0m1 2h0m0.5-3h0m0-1.5h0m1 4.5h0m0.5-3h0m1 3h0m1-4.5h0m0 3h0m1-1h0m1 1.5h0m0.5-0.5h0m1-1.5h0m0.5 3h0m0.5-4.5h0m0 4.5h0m1-2.5h0m3.5 2.5h0m2-3h0m6.5 0.5h0m1.5 2.5h0m10-5h0m-83.5 8h0m11 0h0m0.5-0.5h0m0 0.5h0m5.5 0h0m0.5 2.5h0m1.5-3h0m0.5 3h0m0-0.5h0m2.5-4h0m2.5 5h0m1-2h0m0.5 0.5h0m1.5-1h0m5-0.5h0m0.5 0.5h0m1-1h0m0 0h0m1 2.5h0m0.5-1.5h0m2 0h0m2 0h0m1-0.5h0m1 0.5h0m0-1h0m0.5 1h0m0.5 1h0m0.5-2h0m0.5-1.5h0m0 4h0m0-1.5h0m0.5 2.5h0m1.5-0.5h0m2 0h0m1.5-3.5h0m0 3.5h0m3.5 0h0m1 0.5h0m3-3h0m1-1h0m1 3.5h0m1-3.5h0m0 2.5h0m6 1h0m1-4h0m1 4h0m1.5-1h0m0.5 1h0m7.5-2.5h0m3 1.5h0m2.5-3h0m-85.5 8.5h0m0.5 2h0m4 0h0m1.5 0.5h0m1.5-4h0m0.5 3h0m2-1.5h0m0 2h0m1-3.5h0m1 4h0m0-1.5h0m0 1h0m0-4.5h0m0.5 4h0m0.5-1.5h0m1 0.5h0m0-2h0m0.5 3.5h0m0 0.5h0m0.5-1.5h0m0.5-3h0m0.5 0h0m0.5 3.5h0m1-1.5h0m0.5 1h0m0 0.5h0m0-2.5h0m0.5-1h0m0 1.5h0m0.5 2h0m0-0.5h0m0-1h0m0-1h0m0 3h0m0.5-4h0m0 3h0m0.5 1.5h0m0.5-5.5h0m0 3.5h0m1 1.5h0m0-1h0m0.5-3h0m0.5-0.5h0m0 3.5h0m0.5 0.5h0m0-0.5h0m0 1.5h0m0.5-2.5h0m0 1.5h0m0-3h0m0.5 3h0m0.5-1h0m0.5 2h0m0-5.5h0m0 1.5h0m1-1h0m0 3.5h0m0-3h0m0 4h0m0.5-5h0m1 4.5h0m0-4h0m0.5 3h0m0-0.5h0m0 1.5h0m0-1h0m0.5 1.5h0m0-5.5h0m0.5 0h0m0.5 4.5h0m1 1h0m0-1h0m0 0.5h0m0.5-2.5h0m0-1h0m0 1.5h0m0.5 1h0m2 0h0m0.5 0h0m0.5 1h0m0.5-4h0m0 3h0m0.5 1.5h0m0 0h0m0-3h0m0 3.5h0m1-0.5h0m0.5-3.5h0m1 1.5h0m0 1h0m0-4.5h0m0 1.5h0m0.5 1.5h0m0 0.5h0m0 1.5h0m0.5-0.5h0m0.5-4h0m1 5.5h0m0-1.5h0m1-1h0m1-0.5h0m0.5 1h0m0.5 1h0m1-1.5h0m0 1.5h0m1.5 0h0m0.5 0.5h0m1-1.5h0m2.5-2h0m0 0.5h0m1.5 3h0m1-1h0m0.5-2.5h0m1.5 0h0m1.5-1h0m2-0.5h0m6 2h0m0 1h0m0.5 0.5h0m1-1h0m4.5 1.5h0m1.5-2.5h0m4.5 2.5h0m-87.5 7.5h0m13-5.5h0m0.5 5h0m0.5-1h0m0.5-3h0m1 4h0m0.5-1.5h0m0.5 1.5h0m0-4h0m0.5 3.5h0m1-3h0m0.5 1.5h0m0.5 0.5h0m0.5-3.5h0m0.5 5h0m0.5 0h0m0-1h0m0.5-4h0m0.5 3.5h0m0 2h0m0.5-1.5h0m0.5 0.5h0m0-1.5h0m0.5 1h0m0-3h0m0 0.5h0m0.5 1.5h0m0 1.5h0m0.5-1h0m0-3.5h0m0 1.5h0m0.5 0.5h0m0 1h0m1.5 1.5h0m0 0.5h0m0-2.5h0m0.5 1h0m0-3.5h0m0 5h0m0-3h0m0.5-0.5h0m0 3.5h0m0.5-1.5h0m0-1.5h0m0-1h0m0.5 2.5h0m0-2.5h0m0 3.5h0m0 0.5h0m0.5-3h0m0 0.5h0m0-0.5h0m0 1.5h0m0.5-2h0m0 4h0m0-1.5h0m0-1h0m0.5 1h0m0.5-1h0m0-3h0m0 1h0m0 2.5h0m0-1.5h0m0.5 3h0m0-0.5h0m0.5-1.5h0m0 0.5h0m0-3.5h0m0.5 2.5h0m0 2.5h0m0-0.5h0m0.5-3h0m0 0.5h0m0-1.5h0m0.5 2.5h0m0-2.5h0m0-1h0m0 4h0m0 1h0m0 0.5h0m0.5-2h0m0.5 0.5h0m0 1h0m0-2.5h0m0 2.5h0m0-3.5h0m0.5 3h0m0 1.5h0m0-2.5h0m0.5 2.5h0m0.5-5.5h0m0 3h0m0-0.5h0m0.5-1h0m0-1.5h0m0.5 4h0m0-0.5h0m0-2.5h0m0 1.5h0m0 0.5h0m0.5-1h0m0 2.5h0m0-4h0m0 0.5h0m0.5 4h0m0-1.5h0m0-3.5h0m0 5.5h0m0.5-1.5h0m0-2h0m0 0.5h0m0.5 1.5h0m0 0h0m0 1.5h0m0.5-4.5h0m0 1h0m0 2.5h0m0 1h0m0.5-4h0m0 1h0m0-3h0m0 2h0m0.5-1h0m0 3h0m0-1h0m0-1.5h0m0 2.5h0m0 0.5h0m0 1h0m0.5-3h0m0.5-1.5h0m0 2.5h0m0-1.5h0m0.5-2h0m0 6h0m0-3.5h0m0 1.5h0m0.5 1.5h0m0-2.5h0m0-2h0m0.5 3.5h0m0-4h0m1-0.5h0m0 3.5h0m0-2h0m0 2h0m0.5 1h0m0.5 1h0m0.5-2.5h0m0 2h0m0-3.5h0m0.5 2h0m0-3h0m0 1.5h0m0.5 3h0m0-4h0m0.5 2.5h0m0-1.5h0m0 3h0m0-1.5h0m0.5-2.5h0m0.5 3h0m0.5-2.5h0m0 1.5h0m0 2h0m1-2.5h0m1 3h0m0-4.5h0m0.5 3h0m0-2h0m0.5-1h0m0 3h0m0-2h0m1-1.5h0m0.5 2h0m0.5 2h0m0-1.5h0m0-1.5h0m0 2.5h0m0.5-3h0m0.5 3h0m0.5-1.5h0m0.5 0h0m0.5 1h0m0-3.5h0m2 6h0m1-1.5h0m1-0.5h0m2-1.5h0m2-0.5h0m1.5-1.5h0m2 1.5h0m6 0h0m0.5-1.5h0m3.5 0.5h0m2.5 2h0m3 1h0m1-3h0m1.5 2.5h0m-79.5 6h0m0.5-2.5h0m3-1h0m1 4h0m0.5 1h0m3-3h0m0 1.5h0m0.5-2.5h0m0.5 2h0m0-1h0m0 1.5h0m0.5 2.5h0m0.5-0.5h0m0.5-5h0m0 2h0m0-0.5h0m0.5 1.5h0m0.5-0.5h0m0.5 2.5h0m0-3h0m0.5-0.5h0m0.5 2h0m0 0.5h0m0-3.5h0m0.5 1.5h0m0.5 1h0m0 1.5h0m0-4.5h0m0 1.5h0m0-0.5h0m0.5 2h0m0 2.5h0m0-5.5h0m0.5 3.5h0m0-2h0m0 2.5h0m0.5-4h0m0 3.5h0m0-1h0m0-2h0m0.5 1h0m0 3.5h0m0-4.5h0m0 4h0m0-2h0m0.5 0.5h0m0-3h0m0 5h0m0-3.5h0m0.5-1h0m0 1h0m0.5 3.5h0m0-2h0m0-3.5h0m0 5h0m0.5-1.5h0m0 1.5h0m0-1h0m0.5-3h0m0 4h0m0-3h0m0.5 2.5h0m0 0.5h0m0.5-1.5h0m0-1h0m0-1h0m0 3h0m0-1h0m0.5-0.5h0m0 2.5h0m0-5.5h0m0 2h0m0-1.5h0m0.5 3.5h0m0 1h0m0-4h0m0.5 2.5h0m0-1h0m0 0.5h0m0 1.5h0m0.5-1h0m0 1.5h0m0-4h0m0.5-0.5h0m0 3h0m0 1.5h0m0-4h0m0.5-0.5h0m0 2h0m0-0.5h0m0 3.5h0m0.5 0h0m0 0.5h0m0-3.5h0m0 1h0m0 1h0m0.5-3.5h0m0-0.5h0m0.5 2.5h0m0-1h0m0 3.5h0m0-4.5h0m0.5 1.5h0m0 2.5h0m0-5h0m0.5 0h0m0 1h0m0 2.5h0m0-1h0m0 2h0m0 1.5h0m0.5-2.5h0m0 2.5h0m0-4.5h0m0 3h0m0.5 1h0m0-3.5h0m0 1.5h0m0-3h0m0 5.5h0m0-4.5h0m0 0.5h0m0.5 2.5h0m0-1h0m0-3.5h0m0 4h0m0.5-1h0m0 2.5h0m0-5h0m0.5 0.5h0m0 3.5h0m0-1h0m0.5 1.5h0m0-3.5h0m0-1.5h0m0 5h0m0.5-1h0m0-2h0m0 1h0m0 2.5h0m0-3.5h0m0.5-1h0m0-0.5h0m0 3h0m0 1h0m0.5-0.5h0m0-3.5h0m0.5 2.5h0m0 2h0m0-4h0m0 3.5h0m0-2h0m0 1.5h0m0.5-3.5h0m0 5.5h0m0-4.5h0m0.5-1.5h0m0 2h0m0 1h0m0 1.5h0m0-1h0m0 1h0m0-1.5h0m0-1h0m0.5-1.5h0m0 3.5h0m0 1.5h0m0.5-1h0m0-0.5h0m0-3h0m0 4.5h0m0-3h0m0.5-0.5h0m0.5 3.5h0m0-5.5h0m0 3h0m0-0.5h0m0.5 1.5h0m0 1h0m0-0.5h0m0.5-0.5h0m0-3.5h0m0 1.5h0m0 1h0m0 2.5h0m0-4.5h0m0.5-0.5h0m0 3h0m0.5-2h0m0 3h0m0 0.5h0m0-2.5h0m0.5 1h0m0 2h0m0-0.5h0m0.5-2h0m0-2.5h0m0 1.5h0m0-1h0m0.5 4.5h0m0-2h0m0-1h0m0-2h0m0.5 1h0m0 3h0m0-3.5h0m0 3.5h0m0-0.5h0m0-1h0m0-3h0m0.5 2.5h0m0.5 1.5h0m0-2.5h0m0-1.5h0m0 3.5h0m0 2h0m0.5-0.5h0m0-2.5h0m0-2h0m0.5 1.5h0m0 1h0m0-1.5h0m0 3.5h0m0-1.5h0m0.5-1h0m0.5 0h0m0 2.5h0m0 0.5h0m0-5h0m0.5 1h0m0 3.5h0m0-2h0m0-2.5h0m0.5 5.5h0m0-2.5h0m0 1.5h0m0.5-4.5h0m0 4h0m0-2.5h0m0.5 1.5h0m0 1h0m0.5-2h0m0 0.5h0m0 2.5h0m0-5.5h0m0.5 2h0m0 3.5h0m0.5 0h0m0-5h0m0.5 4h0m0-0.5h0m1-1h0m0-0.5h0m0.5-1h0m0 2h0m0-3h0m0 2h0m0.5 0h0m0-2h0m0.5 4h0m0 1h0m0.5-2h0m1 2.5h0m0.5-5.5h0m0 3.5h0m1 1h0m0.5-0.5h0m0-3h0m0.5 2.5h0m1-3.5h0m0.5 3h0m2-3h0m0.5 5h0m0-3h0m0.5-1h0m0.5-1.5h0m11 1.5h0m2.5 1.5h0m1.5-1.5h0m-70 9.5h0m1-5h0m1 0.5h0m0 1.5h0m1 2.5h0m2.5-3.5h0m0 1h0m0.5 1h0m0.5 1.5h0m0-2.5h0m0.5 3.5h0m0-5h0m0 1h0m0.5 0h0m0-0.5h0m0.5 4h0m0-4.5h0m0 1.5h0m0.5-1h0m0 2.5h0m0-3.5h0m0.5 5.5h0m0-4h0m0 1.5h0m0.5-2h0m0 3h0m0.5-0.5h0m0.5-0.5h0m0 2.5h0m0-0.5h0m0.5-2h0m0-1h0m0-1h0m0 3h0m0.5-3h0m0.5 2h0m0 2h0m0-0.5h0m0.5-3.5h0m0 2.5h0m0 1.5h0m0-2.5h0m0.5 3.5h0m0-3.5h0m0.5-1h0m0 3h0m0-3h0m0 4h0m0-1.5h0m1 1.5h0m0-1h0m0-0.5h0m0-3h0m0-0.5h0m0 1.5h0m0.5 1h0m0 2h0m0-3h0m0 2h0m0-3h0m0 4h0m0.5-1.5h0m0 2h0m0.5-1h0m0-3.5h0m0.5 1.5h0m0 0.5h0m0-2.5h0m0 2h0m0-0.5h0m0 2.5h0m0.5-1h0m0-3h0m0 4.5h0m0-3.5h0m0.5 0.5h0m0 2.5h0m0.5-1h0m0-0.5h0m0-2.5h0m0 5h0m0-2.5h0m0 2.5h0m0.5-5h0m0.5 3h0m0 0.5h0m0-1.5h0m0 0h0m0 3h0m0.5-1.5h0m0 0h0m0.5-0.5h0m0 2h0m0-3h0m0.5-2h0m0 1.5h0m0-1h0m0 3.5h0m0 0h0m0.5-4h0m0 3.5h0m0-3h0m0.5 1h0m0 1h0m0 2h0m0 0h0m0-1.5h0m0.5-0.5h0m0-1.5h0m0-1h0m0.5 4.5h0m0-2.5h0m0 2h0m0-3.5h0m0.5 1h0m0 2h0m0-2h0m0.5-0.5h0m0 4h0m0-1.5h0m0-1h0m0.5 0.5h0m0-2.5h0m0 2h0m0 1.5h0m0.5-2h0m0 1h0m0 1.5h0m0.5-2h0m0 1.5h0m0-0.5h0m0 2h0m0.5-2.5h0m0.5 1.5h0m0-4h0m0 1.5h0m0.5 0h0m0-2h0m0.5 5h0m0-1h0m0-1h0m0-2.5h0m0.5 2.5h0m0-2h0m0 3.5h0m0 0.5h0m0.5-3.5h0m0 0.5h0m0-2h0m0 5.5h0m0-4h0m0-0.5h0m0.5 4h0m0-5h0m0 2.5h0m0.5-3h0m0 5h0m0.5-1.5h0m0-2h0m0 3.5h0m0-3h0m0.5 0h0m0-0.5h0m0-1h0m0 2h0m0.5 3.5h0m0-2.5h0m0 0.5h0m0.5-2.5h0m0 2h0m0-2h0m0-1.5h0m0 6h0m0.5-0.5h0m0-3h0m0 2h0m0.5 1h0m0-4.5h0m0 0.5h0m0-1h0m0 3h0m0-1h0m0.5-2h0m0 1.5h0m0-1h0m0 4h0m0.5-2h0m0 1h0m0-3h0m0.5 3h0m0-2h0m0 0.5h0m0 1.5h0m0.5 2h0m0-4h0m0.5 2.5h0m0-1.5h0m0 2.5h0m0-4.5h0m0-0.5h0m0.5 3.5h0m0 1.5h0m0-1.5h0m0-3h0m0 1h0m0.5 0.5h0m0 0h0m0.5-1h0m0 1h0m0.5 2h0m0-4h0m0 1h0m0 3h0m0 0.5h0m0.5-1.5h0m0-3h0m0.5 0h0m0.5 0.5h0m0 3.5h0m0.5 1h0m0.5-5h0m0 3h0m0.5 1h0m0 1h0m0-5h0m0 2h0m0.5-1h0m0 0h0m0.5-1h0m0.5 4.5h0m0-2h0m0 1.5h0m0.5-3h0m0 2.5h0m1 0h0m0.5-3.5h0m0.5 5h0m0-0.5h0m0-2h0m0.5-1h0m0.5-1h0m0.5 2h0m0-2.5h0m0 0.5h0m0.5 4.5h0m1-4.5h0m0.5 2.5h0m1-0.5h0m1-2.5h0m0.5 5.5h0m0-1.5h0m3.5-3.5h0m0-0.5h0m0.5 4.5h0m0.5 0.5h0m1-4h0m18-1.5h0m-81.5 8.5h0m0 1.5h0m2 0h0m1.5-3h0m4 2.5h0m1.5-3h0m0.5 0h0m0.5 3.5h0m0.5 2h0m0.5-3.5h0m0.5 3.5h0m0.5-4.5h0m0 1.5h0m0.5-1.5h0m2 1h0m0-1h0m0.5 1.5h0m0 2h0m0-4h0m0.5 1h0m0 2h0m0.5-2h0m0.5 2.5h0m0-3.5h0m0-1h0m0 3h0m0-1.5h0m1 3.5h0m0-3h0m0.5 2h0m0-1.5h0m0-2.5h0m0.5 0.5h0m0 0h0m0.5 1.5h0m0 1h0m0.5-1.5h0m0 4h0m0.5-2h0m0-2h0m0-1h0m0.5 0.5h0m0 1.5h0m0.5 0h0m0-0.5h0m0.5 3.5h0m0-1h0m0 1h0m0-4.5h0m0 2h0m0.5-1.5h0m0-1h0m0 1.5h0m0 1.5h0m0 1.5h0m0.5-0.5h0m0-1h0m0-1h0m0 1.5h0m0.5-3.5h0m0 4.5h0m0 1h0m0-4h0m0.5-1.5h0m0-0.5h0m0 5h0m0-2h0m0.5 1h0m0-2h0m0.5 0.5h0m0-1h0m0 3.5h0m0-1.5h0m0.5-3.5h0m0 6h0m0-2.5h0m0.5 1h0m0-3.5h0m0 4.5h0m0.5-4h0m0 2.5h0m0 1h0m0.5-1.5h0m0-3.5h0m0 1.5h0m0 1.5h0m0 0h0m0.5-1.5h0m0 3h0m0.5-3h0m0-1.5h0m0 1.5h0m0.5-1h0m0 2.5h0m0-2h0m0.5-0.5h0m0 3.5h0m0-1.5h0m0 2.5h0m0-3.5h0m0.5-1h0m0 0h0m0 2.5h0m0.5 0h0m0-1.5h0m0 4h0m0.5-1.5h0m0-3h0m0 4.5h0m0-1h0m0.5-3h0m0 2h0m0-0.5h0m0.5-1.5h0m0 2.5h0m0-1h0m0.5-2h0m0-1h0m0 5.5h0m0-0.5h0m0.5-0.5h0m0-1.5h0m0-2h0m0 0.5h0m0.5-1h0m0 0.5h0m0 0.5h0m0-1h0m0 3h0m0.5 2h0m0-3h0m0.5-1h0m0 2h0m0-1h0m0 3h0m0-4h0m0.5 2.5h0m0 1h0m0-0.5h0m0.5-1.5h0m0-1h0m0-1.5h0m0 0.5h0m0.5-0.5h0m0 4h0m0.5-0.5h0m0-1h0m0 2h0m0-3h0m0-1h0m0.5 2.5h0m0 2h0m0-4h0m0-1.5h0m0.5 0.5h0m0 2.5h0m0 1h0m0.5-0.5h0m0-1h0m0-2h0m0 3.5h0m0.5-2h0m0 3h0m0.5-5h0m0 2h0m0-1h0m0 2h0m0 1.5h0m0-1h0m0.5 1h0m0-3h0m0.5 0.5h0m0.5 2h0m0.5-3.5h0m0 1h0m0 1.5h0m1 0h0m0 1.5h0m0-4h0m0.5 1h0m0-0.5h0m0 2.5h0m0 2h0m0-3.5h0m0 1h0m0.5-2h0m0 2.5h0m0.5-1.5h0m0.5 2.5h0m0-3.5h0m0 1.5h0m0.5 0.5h0m0 2.5h0m0-5.5h0m0 4.5h0m0-3.5h0m0.5 0.5h0m0.5 3h0m0.5 0.5h0m0.5-1h0m0-1.5h0m0 3.5h0m0-2.5h0m0.5 0h0m0-3h0m0 2.5h0m0-2h0m0.5-1h0m0 1.5h0m0.5 4.5h0m0-1.5h0m0.5 0.5h0m0-2h0m0-1h0m0.5-1.5h0m2 4h0m0 0h0m0.5-3.5h0m1 2h0m1-1.5h0m0 3.5h0m0-1h0m0.5-2.5h0m1 0h0m0.5 2h0m1-3.5h0m0.5 0h0m1 3.5h0m1.5 0.5h0m0.5-2.5h0m1 3.5h0m1.5-5h0m19 1h0m-80 8.5h0m3.5 0.5h0m1-3.5h0m2 3.5h0m1.5 2h0m0.5-5.5h0m1 1.5h0m0 1.5h0m1 0h0m0.5 1.5h0m0.5-1h0m0 0.5h0m0-2h0m0.5 0.5h0m0.5-1.5h0m0.5 4.5h0m0.5-3h0m0 2.5h0m0.5-5h0m0 4h0m0.5-4h0m0 3h0m0 1.5h0m0.5-4h0m0 1.5h0m0.5 3h0m0-4.5h0m0 2h0m1-2.5h0m0.5 3.5h0m0.5 1.5h0m0-0.5h0m0.5-2h0m0-3h0m1 1.5h0m0-0.5h0m0.5 4h0m0.5-4h0m0-1h0m0.5 2.5h0m0 3.5h0m0-5h0m0 1h0m0 1.5h0m0.5 2h0m0.5-1.5h0m0-3.5h0m0 2.5h0m0.5-1.5h0m0.5-0.5h0m0.5 3.5h0m0-2h0m0-1.5h0m0 3h0m0-4h0m1 4.5h0m0-3.5h0m0.5 4.5h0m0-3.5h0m0.5-1h0m0.5 2h0m0-0.5h0m0 2.5h0m0.5-4h0m0 4.5h0m0-5.5h0m0 4.5h0m0-4h0m0 2h0m0.5-0.5h0m0-1h0m0.5 1.5h0m0.5 3h0m0-1.5h0m0-3h0m0-1h0m0.5 2.5h0m0-2h0m0 3h0m0.5-3h0m0.5-0.5h0m0 5h0m0.5-4.5h0m0 3h0m0-2.5h0m0.5-0.5h0m0 3h0m0 1h0m0.5-3.5h0m0 1.5h0m0.5-0.5h0m0-0.5h0m0.5-1.5h0m0 5h0m0-1.5h0m0.5-1.5h0m0.5 0h0m0-2h0m0 5.5h0m0-1.5h0m0.5-1.5h0m0 2h0m0-1.5h0m0-3h0m0.5 3h0m0.5-3h0m0.5 0.5h0m0 2.5h0m0-1h0m1-2h0m0 1.5h0m0.5 1.5h0m0 0h0m2-1.5h0m0.5-1.5h0m0 1h0m0 2.5h0m0.5 0.5h0m0-2h0m0 1.5h0m0-2.5h0m1 0h0m0 0.5h0m0 2.5h0m2-1h0m0.5-2.5h0m0 2.5h0m0-3h0m0.5 2h0m0.5 2.5h0m5.5-1h0m2.5 0.5h0m0.5 0.5h0m1.5-3.5h0m3 0h0m14 4h0m-70 2.5h0m9.5 0.5h0m2-0.5h0m0.5 3h0m0.5-2.5h0m0-0.5h0m1.5 1h0m0-1.5h0m0.5 4h0m1-4.5h0m0-0.5h0m1.5 1h0m0.5 1.5h0m1 2h0m1.5 0h0m0.5-2.5h0m0 3.5h0m0-4.5h0m1 1.5h0m0.5 0.5h0m0-2.5h0m1 3h0m0.5-2h0m0 0.5h0m1 1.5h0m0.5 1.5h0m0.5-2.5h0m0.5-1.5h0m1 3h0m0.5-0.5h0m1 2h0m0.5-2h0m0 2h0m0.5-2h0m0-2.5h0m1.5-1h0m0.5 0.5h0m0 2h0m1-1.5h0m1 4.5h0m1.5 0h0m4-4h0m2-0.5h0m5 0.5h0m-47 9h0m13-1.5h0m3.5-0.5h0m4.5-0.5h0m0.5-1.5h0m0 3h0m4.5 0h0m5.5-2h0m1 0.5h0m-9.5 5h0" stroke="#fb1414" stroke-width="1.55" stroke-linecap="round" fill="none"/>
<rect x="57.9" y="425.4" width="154.4" height="125.8" fill="none" stroke="#111" stroke-width="1.3"/>
<line x1="133.3" y1="425.4" x2="133.3" y2="551.2" stroke="#111" stroke-width="1.3"/>
<line x1="57.9" y1="490.3" x2="212.3" y2="490.3" stroke="#111" stroke-width="1.3"/>
<path d="M75.2 551.2v3.8M57.9 536.2h-3.2M79.5 551.2v3.8M57.9 532.5h-3.2M82.8 551.2v3.8M57.9 529.7h-3.2M85.5 551.2v3.8M57.9 527.3h-3.2M87.8 551.2v3.8M57.9 525.4h-3.2M89.8 551.2v3.8M57.9 523.6h-3.2M91.5 551.2v3.8M57.9 522.1h-3.2M104.7 551.2v3.8M111.5 551.2v3.8M57.9 506.2h-3.2M116.3 551.2v3.8M57.9 502.4h-3.2M120.1 551.2v3.8M57.9 499.5h-3.2M123.1 551.2v3.8M57.9 497.1h-3.2M125.7 551.2v3.8M57.9 495h-3.2M128 551.2v3.8M57.9 493.3h-3.2M129.9 551.2v3.8M57.9 491.7h-3.2M143.1 551.2v3.8M149.8 551.2v3.8M57.9 474.4h-3.2M154.5 551.2v3.8M57.9 470.3h-3.2M158.2 551.2v3.8M57.9 467h-3.2M161.2 551.2v3.8M57.9 464.4h-3.2M163.7 551.2v3.8M57.9 462.2h-3.2M165.9 551.2v3.8M57.9 460.2h-3.2M167.9 551.2v3.8M57.9 458.5h-3.2M181.7 551.2v3.8M188.7 551.2v3.8M57.9 442.2h-3.2M193.7 551.2v3.8M57.9 438.3h-3.2M197.6 551.2v3.8M57.9 435.3h-3.2M200.8 551.2v3.8M57.9 432.9h-3.2M203.5 551.2v3.8M57.9 430.8h-3.2M205.8 551.2v3.8M57.9 429h-3.2M207.9 551.2v3.8M57.9 427.4h-3.2M58.9 551.2v6.2M57.9 550.2h-5.2M93.1 551.2v6.2M57.9 520.8h-5.2M131.7 551.2v6.2M57.9 490.3h-5.2M169.6 551.2v6.2M57.9 457h-5.2M209.7 551.2v6.2M57.9 426h-5.2" stroke="#111" stroke-width="1.1" fill="none"/>
<text x="52.3" y="567.8" font-size="8.0" font-weight="bold">10<tspan font-size="6.4" dy="-4.2">0</tspan></text>
<text x="51.5" y="556.8" font-size="8.0" font-weight="bold" transform="rotate(-90 51.5 556.8)">10<tspan font-size="6.4" dy="-4.2">0</tspan></text>
<text x="86.5" y="567.8" font-size="8.0" font-weight="bold">10<tspan font-size="6.4" dy="-4.2">1</tspan></text>
<text x="51.5" y="527.4" font-size="8.0" font-weight="bold" transform="rotate(-90 51.5 527.4)">10<tspan font-size="6.4" dy="-4.2">1</tspan></text>
<text x="125.1" y="567.8" font-size="8.0" font-weight="bold">10<tspan font-size="6.4" dy="-4.2">2</tspan></text>
<text x="51.5" y="496.9" font-size="8.0" font-weight="bold" transform="rotate(-90 51.5 496.9)">10<tspan font-size="6.4" dy="-4.2">2</tspan></text>
<text x="163" y="567.8" font-size="8.0" font-weight="bold">10<tspan font-size="6.4" dy="-4.2">3</tspan></text>
<text x="51.5" y="463.6" font-size="8.0" font-weight="bold" transform="rotate(-90 51.5 463.6)">10<tspan font-size="6.4" dy="-4.2">3</tspan></text>
<text x="203.1" y="567.8" font-size="8.0" font-weight="bold">10<tspan font-size="6.4" dy="-4.2">4</tspan></text>
<text x="51.5" y="432.6" font-size="8.0" font-weight="bold" transform="rotate(-90 51.5 432.6)">10<tspan font-size="6.4" dy="-4.2">4</tspan></text>
<text x="138" y="580" text-anchor="middle" font-weight="bold" font-size="10.8">Annexin V-FITC</text>
<text x="37" y="487" text-anchor="middle" font-weight="bold" font-size="10.8" transform="rotate(-90 37 487)">PI</text>
<text x="133.3" y="409.6" text-anchor="middle" font-size="14">JMJD2C</text>
<path d="M337.5 431.5h0m6.5-1h0m1.5 0h0m5.5 3h0m-4 7h0m7 0h0m8-2h0m18.5-0.5h0m-49.5 7.5h0m4.5 0h0m9 1.5h0m3.5-2.5h0m5 0h0m1.5-2h0m2 0h0m6 2.5h0m5-4h0m-31 7.5h0m1-1.5h0m2 3h0m0-1h0m1-1h0m1 4.5h0m0.5-0.5h0m1-2h0m1 3h0m3.5-3h0m0.5 3h0m0-2h0m1-1.5h0m1 1.5h0m0 1.5h0m0.5-1.5h0m0.5 0.5h0m2-3h0m2 4h0m0-5h0m4.5 5.5h0m1-3h0m1-2h0m0.5-0.5h0m7.5 5.5h0m6-1.5h0m7-1.5h0m-54.5 8h0m0.5 1h0m3-1.5h0m0 1h0m2.5-5.5h0m3.5 2.5h0m0 2h0m3.5-1.5h0m1-2.5h0m0.5 2h0m0.5 2.5h0m0.5-4h0m0.5 3h0m1.5-0.5h0m0-0.5h0m0-0.5h0m0.5 1.5h0m0 1h0m0.5-1h0m0.5-1.5h0m0 1.5h0m0.5 1h0m0.5-2h0m0.5 0h0m0-1h0m0 3h0m0.5 0.5h0m1.5-5h0m0.5 4h0m0-2h0m1.5 0.5h0m0-1.5h0m0.5 1h0m1-2.5h0m0.5 4.5h0m1.5-2.5h0m1 4h0m1.5-1h0m0-4h0m1.5 0.5h0m1 0.5h0m2.5-2h0m1.5 5h0m7-1.5h0m-50 4h0m0.5 2h0m6.5 1h0m1.5 0h0m0.5-2h0m0.5-2h0m1.5 3.5h0m0-0.5h0m2.5 1h0m0.5-3h0m1 3.5h0m0-1h0m0.5 1.5h0m2-1h0m0 1.5h0m0.5-5.5h0m0-0.5h0m1 5h0m3-0.5h0m0-1.5h0m0-2h0m0 4.5h0m0.5-2h0m0 1h0m0.5-2h0m1.5 1h0m0.5 0.5h0m1.5-3.5h0m0.5 3.5h0m1 2h0m1-4h0m0.5 0.5h0m0.5 1h0m0 2h0m1 0h0m0-3.5h0m0.5 0.5h0m0 2h0m0.5-1h0m0-3h0m0.5 1h0m0 1.5h0m0.5-2h0m1.5 4h0m0.5-3h0m0.5 1h0m2-0.5h0m0.5 0.5h0m0 1h0m1-3h0m0.5 4.5h0m0-1h0m3.5 0h0m1-3h0m0 2h0m1.5-3.5h0m0.5 1.5h0m-48 7h0m3.5-2h0m5 3.5h0m0-2.5h0m0.5 0.5h0m3 1h0m0-1h0m1 1.5h0m1 1.5h0m0.5-3.5h0m0.5 1h0m0.5 2h0m0.5-2h0m1 3h0m0-2h0m0.5 1.5h0m0.5-2.5h0m1.5 1h0m0 0.5h0m0.5-2.5h0m1 3h0m0 1.5h0m0.5-1h0m1-1.5h0m0 2h0m0 0h0m1-2.5h0m1 1.5h0m0-3.5h0m0.5 1h0m0 3.5h0m0.5-3h0m0 2h0m0.5 1h0m1-5h0m0.5 5h0m0.5-5.5h0m1 1h0m0 2h0m0.5-2.5h0m0 1h0m0.5 1h0m0 2h0m1 1h0m0.5-2.5h0m0.5 1.5h0m0 0.5h0m0.5 1h0m0-4.5h0m0-1.5h0m1 4h0m0.5-4h0m0.5 4h0m0-3h0m0.5 0.5h0m0 2h0m0 1h0m0.5 0h0m0.5-3h0m0 4.5h0m0-1h0m0.5-4.5h0m0 4.5h0m1-4.5h0m1.5 0h0m0 2h0m0 1.5h0m0.5 0h0m2.5-0.5h0m0 1.5h0m0-3.5h0m1.5 2h0m1.5 2.5h0m2.5-3.5h0m2 3.5h0m2.5-3h0m1 2h0m3.5-1.5h0m3 2.5h0m3.5-1h0m-67 7h0m2.5-4h0m5 1.5h0m4.5-2.5h0m1.5 1h0m1 1h0m4.5 2h0m0 1h0m1-2h0m0 1h0m1.5 0h0m0.5-2h0m0.5-1h0m0 3.5h0m0.5-4.5h0m1.5 5h0m0.5-1.5h0m1 0h0m1 1.5h0m1-5h0m0.5 3h0m0-0.5h0m1 0h0m0.5 1.5h0m0-3.5h0m0 2h0m0.5 0.5h0m1 2h0m0-3h0m1 2h0m0-4.5h0m0.5 1h0m0 3h0m1.5-2h0m0.5-2h0m0 3h0m1-1.5h0m0 1h0m0 2.5h0m0.5-4h0m0 3h0m0.5-3.5h0m0.5 3.5h0m1-4h0m1 3h0m0-3h0m1 4h0m1-0.5h0m0-1.5h0m0.5-1h0m0 0.5h0m3-1.5h0m1 5h0m0-4.5h0m0.5 4h0m0.5-4h0m1 2h0m0-0.5h0m1 1h0m3 2.5h0m1-2.5h0m5 0.5h0m2-2.5h0m4.5-0.5h0m-84.5 9h0m2 1h0m23-5h0m2.5 5h0m0.5-2.5h0m3-0.5h0m1 0h0m2 3h0m1 1h0m0.5-2h0m0.5-1.5h0m1.5 2h0m0-1.5h0m0-0.5h0m0-1.5h0m1.5 2.5h0m0-1.5h0m0.5 0.5h0m1 2h0m1-3h0m0.5 2h0m0-1.5h0m0-1.5h0m1 1h0m0 2.5h0m0 1.5h0m0.5-0.5h0m0.5 0h0m1-4.5h0m0 4.5h0m0.5-1.5h0m0 2h0m0.5-5.5h0m0.5 6h0m0-1.5h0m0.5-2h0m0 2.5h0m1-0.5h0m0-2.5h0m0 4h0m0-2h0m0.5 0.5h0m0.5-2h0m0-1h0m0 2h0m1-0.5h0m1.5-2h0m0 1h0m0 0.5h0m0.5 1h0m0-3h0m0 3h0m0.5-3.5h0m0.5 1.5h0m0 3.5h0m0.5-1.5h0m0.5-0.5h0m0 2h0m1 0.5h0m0-5.5h0m0.5 0h0m0 4.5h0m1-2h0m1.5-1h0m0 2h0m0.5-1h0m0.5 2.5h0m0-4h0m0 0h0m0.5 1.5h0m0-1h0m1-0.5h0m1 0h0m0.5 0h0m0.5 0h0m0.5 5h0m0.5-1.5h0m1.5-3.5h0m1-0.5h0m2 4.5h0m1-4.5h0m1 5h0m0.5-2.5h0m1-0.5h0m2 0h0m0 3h0m28-0.5h0m-99 5h0m3.5 1h0m5-4.5h0m3.5 3h0m4 1.5h0m4.5-4h0m3.5 5h0m1.5-1.5h0m0.5 1h0m4-3.5h0m0.5 2h0m1-3.5h0m0.5 2.5h0m0.5-3h0m1.5 3h0m0 0.5h0m0.5 2h0m2-3h0m0.5 1.5h0m1 0h0m0 1.5h0m0-5.5h0m1 1h0m1 1.5h0m0-2h0m1 1.5h0m0.5 4h0m0.5-2h0m0-3.5h0m0.5 1h0m0 0.5h0m0.5-1h0m0 4.5h0m1-3h0m0-1h0m0.5-1h0m0 1h0m1 1h0m0-0.5h0m0-1h0m0-0.5h0m0.5 2h0m0.5-2.5h0m1 0h0m0.5 4h0m0-4h0m0.5 1h0m1.5 2.5h0m0.5 2.5h0m0-4.5h0m0.5-1.5h0m1 3h0m0-2.5h0m1.5 2.5h0m0 2h0m0.5-4.5h0m0 1.5h0m0.5 2.5h0m0-2.5h0m1-2h0m1 1h0m0.5 4h0m0.5 1h0m0-4.5h0m0 1.5h0m0 1h0m0.5-4h0m0 3.5h0m0 2h0m0.5-4.5h0m0 1.5h0m1 3.5h0m3-2h0m0-1h0m0.5-2.5h0m0.5 3h0m0-2h0m2 3.5h0m0-0.5h0m1.5 0.5h0m1.5 1h0m1-1h0m5-0.5h0m4.5-3.5h0m-87.5 5.5h0m8 3h0m2 0h0m3 2h0m2-0.5h0m2.5-3h0m0.5 3h0m0.5-4h0m0 3.5h0m0.5 1.5h0m1-0.5h0m0-0.5h0m1-3h0m0 3h0m1-2h0m0 0.5h0m1 2h0m0.5-1h0m0-2.5h0m0.5-0.5h0m1 2.5h0m0.5-2.5h0m0.5 4.5h0m0-3.5h0m1 2h0m0 1h0m0.5-2h0m0 0.5h0m0 1h0m2-2h0m0.5 1.5h0m0.5-3.5h0m0.5 2h0m0.5 2h0m1 0.5h0m0.5-2h0m0.5 1.5h0m2-4h0m0.5 2h0m0.5 2.5h0m1.5-2.5h0m2-1.5h0m0.5 2.5h0m0.5-3.5h0m0 2.5h0m0.5-1.5h0m0.5-1h0m1 3h0m0.5-3.5h0m0.5 1h0m0.5 0.5h0m1 3.5h0m0.5-1.5h0m1-0.5h0m0-2h0m1 1h0m1.5 4h0m0.5-1h0m0.5-1.5h0m1-3.5h0m0 4.5h0m1-2.5h0m0.5 3.5h0m0.5-4h0m0 1h0m1 0.5h0m0.5-1.5h0m0 4.5h0m0-5h0m0.5 3.5h0m0.5 1h0m1.5-0.5h0m0.5-1.5h0m0-1h0m1-2h0m0.5 1.5h0m0.5-1h0m0 1.5h0m0.5 1h0m2.5-3h0m0 3.5h0m0-2h0m0 1.5h0m1.5 2.5h0m0.5-1h0m1-2h0m0.5 0h0m0.5 2h0m0.5-4h0m1.5 1.5h0m0-0.5h0m0.5-1h0m0.5 2.5h0m1.5-0.5h0m1 0h0m1.5-3h0m0 4h0m3.5-1.5h0m5.5-0.5h0m-88.5 8h0m3.5 0.5h0m2-4h0m0.5 1.5h0m0.5 0.5h0m0.5 2.5h0m3 1h0m0.5-2.5h0m0 1h0m2.5-1.5h0m0.5 0h0m1-0.5h0m0.5 1.5h0m0.5 1h0m0.5-4.5h0m0.5 4h0m0.5-4h0m0 3h0m0-1h0m0.5-2h0m0 5h0m0.5-1h0m0-4h0m0.5 4.5h0m0 1h0m0-4h0m0 0.5h0m1 3h0m0-2h0m0.5 1h0m0 1.5h0m0-1h0m0.5-4.5h0m0 3.5h0m0.5-0.5h0m0-1.5h0m0 0h0m0.5 2.5h0m0-1.5h0m0-3h0m0.5 3h0m0-0.5h0m0 2h0m0 1.5h0m0.5-5h0m0 1.5h0m0.5 2.5h0m0-0.5h0m0-4.5h0m0 2h0m0.5 1h0m0-0.5h0m0.5 0.5h0m0-1.5h0m0 4.5h0m0.5-2.5h0m0 2h0m0-4h0m0 2.5h0m0.5 2h0m0-3.5h0m0.5 2.5h0m0-1h0m0.5 0h0m0-2h0m0-2h0m0.5 3.5h0m0 2h0m0.5-5h0m0 5.5h0m0.5-1.5h0m0-4.5h0m0 3h0m0-1h0m0 2h0m0 2h0m0.5-1h0m0-2h0m0 1.5h0m0.5-1h0m0 0.5h0m1 1.5h0m0-3.5h0m0 2.5h0m0.5-3h0m0 3.5h0m0-0.5h0m0.5-2.5h0m0 1h0m0-2h0m0.5 3.5h0m0.5 0.5h0m0-2.5h0m0.5 3h0m0-0.5h0m1.5-1.5h0m0 2h0m0-1h0m0.5-4h0m0 0.5h0m0.5 1h0m0.5 3.5h0m0.5-4h0m0 1h0m0.5 1.5h0m0-3.5h0m0.5 4h0m0.5-0.5h0m0.5-0.5h0m0-1.5h0m0 2.5h0m0.5-1.5h0m0.5 1h0m0 0.5h0m0.5-3.5h0m1.5 4.5h0m1.5-0.5h0m0.5-2.5h0m0 2h0m0-3.5h0m0.5 3h0m0.5 0h0m1 2h0m0.5-3h0m0.5 0h0m0-1h0m1.5-1.5h0m0.5 3.5h0m1 1.5h0m0-2h0m1 1h0m1 1h0m2 0h0m0.5-4.5h0m0 1h0m0.5 4h0m0 0h0m1.5-3h0m0-1h0m0.5 1.5h0m0-1.5h0m1.5 0.5h0m1.5 3h0m0.5-3.5h0m0.5 2.5h0m0.5-2.5h0m0.5 4h0m0.5 0h0m1-3.5h0m1 2.5h0m0-5h0m0.5 1.5h0m0.5 0.5h0m0.5 3h0m1.5-4.5h0m1 1h0m0.5 1h0m1.5-1.5h0m0 2.5h0m1-1.5h0m1-0.5h0m0 2.5h0m1-1h0m0-1.5h0m0 2.5h0m1-1h0m0-2.5h0m1 4.5h0m4.5-2.5h0m1-1h0m0.5 0.5h0m2.5 2h0m-100 8h0m3-5.5h0m14 4h0m0.5 1.5h0m2.5-2h0m0 1h0m1 0.5h0m0-0.5h0m0.5-1.5h0m1 2h0m0-1h0m1.5-3.5h0m0.5 3h0m0 1h0m1-0.5h0m0.5-1h0m0.5-2h0m0.5 0h0m0 1.5h0m0 2.5h0m0.5-1h0m0.5-2.5h0m0.5 2h0m0.5-3h0m0 2h0m0 3h0m0-4h0m0 2.5h0m0.5-4h0m0 1h0m0 4h0m0.5-3.5h0m0 1.5h0m0-3h0m0 2h0m0.5 1h0m0 1h0m0.5-1h0m0.5 1h0m0-4h0m0.5 4h0m0-1h0m0-1h0m0.5 1h0m0 2h0m0.5-1.5h0m0-4h0m0 4.5h0m0-4h0m0.5 1.5h0m0 2.5h0m0-1.5h0m0.5-1h0m0 0h0m0.5-1.5h0m0.5 2.5h0m0 2.5h0m0-3.5h0m0.5 3.5h0m0-1h0m0-3.5h0m0 2.5h0m0.5-0.5h0m0.5 2h0m0-4.5h0m0 3.5h0m0.5-0.5h0m0-2h0m0.5 3h0m0-2h0m0-2h0m0 3.5h0m0.5 0h0m0-1.5h0m0.5 0.5h0m0 1h0m0.5 1.5h0m0-2h0m0 1h0m0-2.5h0m0.5 0.5h0m0.5 3h0m0-5h0m0 1.5h0m0-0.5h0m0.5 1.5h0m0 0.5h0m0 1.5h0m0 0.5h0m0-5h0m0.5 4h0m0 0h0m0-4h0m0.5 1h0m0 4h0m0-3h0m0 0.5h0m0.5 0h0m0-2h0m0 1.5h0m0 2h0m0 1.5h0m0.5-4h0m0 2.5h0m0-3h0m0.5 3.5h0m0 1h0m0-5h0m0-1h0m0.5 3.5h0m0-0.5h0m0.5 2h0m0-2.5h0m0 1.5h0m0-2h0m0 3.5h0m0-5h0m0.5 4.5h0m0-2.5h0m0.5-1h0m0-0.5h0m0 4.5h0m0 0.5h0m0.5-5.5h0m0 2.5h0m0.5-0.5h0m0 1.5h0m0 0h0m0.5 1.5h0m0-0.5h0m0.5-2.5h0m0 1.5h0m0-3h0m0 0h0m0 5h0m0-3h0m0.5 1.5h0m0-4.5h0m0 2h0m0.5 1.5h0m0-1.5h0m0 3.5h0m0-2.5h0m0.5-3h0m0 5h0m0 0h0m0-1.5h0m0.5-3.5h0m0 0.5h0m0 2h0m0.5 1h0m0 2h0m0.5-5h0m0 4.5h0m0-2.5h0m0.5 1h0m0 1.5h0m0.5-5h0m0 1.5h0m0.5 4.5h0m0-4h0m0-1.5h0m0 3h0m0 0h0m0 1.5h0m0.5-4h0m0 2.5h0m0 1h0m0.5 1h0m0-1.5h0m0.5 0.5h0m0-2.5h0m0 1.5h0m0.5-1.5h0m0 4h0m0.5-5.5h0m0 1h0m0 2h0m0.5-2.5h0m0 2.5h0m0.5 1.5h0m0 0.5h0m0.5-3.5h0m0 2h0m0.5-3h0m0 0.5h0m0 2h0m0.5 2.5h0m0-1.5h0m0.5-0.5h0m0-3.5h0m0.5 0.5h0m0.5 5h0m0-4h0m0 1h0m0.5 2h0m0-1.5h0m0-1h0m0.5 3h0m0-4h0m0.5 0.5h0m0 2h0m0.5-1h0m1-1.5h0m0.5 4.5h0m0-3h0m0.5-2h0m0 2.5h0m0.5 0.5h0m0.5-2.5h0m0 3.5h0m0.5-5h0m1 5h0m0.5-3.5h0m1 0.5h0m0.5-1h0m0.5 4h0m1 0h0m0.5-4.5h0m0.5 1h0m3 1.5h0m3.5-2h0m1 0h0m0.5 1.5h0m0.5-1.5h0m0.5 1h0m0.5 2.5h0m0 0.5h0m2 1h0m0.5-3.5h0m3.5-1h0m0.5 2h0m0.5-2.5h0m0.5 0.5h0m0 2.5h0m1.5-2.5h0m4 4.5h0m0.5-0.5h0m3-0.5h0m13.5-2h0m-95.5 8h0m0.5 0.5h0m4-3h0m0.5-1h0m0.5 0.5h0m0-0.5h0m1-0.5h0m0 2.5h0m0.5-2h0m0 1.5h0m1-1.5h0m0.5 3.5h0m0.5 0.5h0m0-4.5h0m0 2.5h0m0.5-3.5h0m0.5 4.5h0m0.5-3h0m0 1h0m0.5 2h0m0-2.5h0m0-1h0m0.5 1h0m0-0.5h0m0 4h0m1-1h0m0-1h0m0-1h0m0-1.5h0m0.5 4.5h0m0-5h0m0 3h0m0.5-2.5h0m0 5h0m0.5-2.5h0m0-2h0m0 3.5h0m0-2.5h0m0.5 1h0m0.5-3h0m0 3h0m0-1.5h0m0 3.5h0m0.5-4h0m0 3.5h0m0 0.5h0m0-0.5h0m0-3h0m0.5 2h0m0-1.5h0m0-1h0m0.5 3h0m0-1h0m0.5-2h0m0 2h0m0 1.5h0m0-0.5h0m0-1h0m0.5-1.5h0m0.5 3.5h0m0-1.5h0m0 0.5h0m0-4h0m0 1h0m0.5 4h0m0-3.5h0m0 1h0m0.5 0.5h0m0-1.5h0m0 2.5h0m0-1h0m0.5-2.5h0m0 1.5h0m0 3h0m0-2.5h0m0.5 0.5h0m0.5 1h0m0-4h0m0 2h0m0 2.5h0m0-1.5h0m0.5-1.5h0m0 4h0m0-5.5h0m0 0.5h0m0.5 1.5h0m0 0h0m0-2h0m0 5.5h0m0.5-1h0m0-1.5h0m0-2h0m0 0.5h0m0-1h0m0.5 2.5h0m0-2.5h0m0 5h0m0-1.5h0m0.5-3h0m0.5 1h0m0 2h0m0-2.5h0m0 3.5h0m0-1.5h0m0-3.5h0m0.5 3.5h0m0 1.5h0m0-5.5h0m0 2h0m0-1h0m0.5 2h0m0 2h0m0.5-0.5h0m0-1.5h0m0-1.5h0m0 0.5h0m0.5 1.5h0m0 1.5h0m0-1.5h0m0-1h0m0 2.5h0m0.5-4.5h0m0 1.5h0m0.5 0h0m0 2.5h0m0 1h0m0-1.5h0m0-4h0m0.5 1.5h0m0 1.5h0m0.5-2h0m0 1.5h0m0 2.5h0m0 0.5h0m0-1.5h0m0-3.5h0m0.5 5.5h0m0-3.5h0m0 0.5h0m0 2h0m0.5-2.5h0m0 1h0m0.5-3h0m0 2.5h0m0 2.5h0m0-1.5h0m0.5-1.5h0m0 2h0m0-3h0m0 4.5h0m0.5-4.5h0m0 4h0m0-2h0m0-0.5h0m0 1.5h0m0.5-2h0m0-2h0m0 2.5h0m0 1h0m0 1.5h0m0.5-3h0m0-1.5h0m0 0.5h0m0 3.5h0m0.5-4.5h0m0 4h0m0-3.5h0m0 4.5h0m0.5-3.5h0m0 1.5h0m0 0h0m0.5 1h0m0-0.5h0m0 1.5h0m0-2.5h0m0.5 2.5h0m0.5-3.5h0m0 1.5h0m0 1.5h0m0-2h0m0-2.5h0m0.5 1.5h0m0 1h0m0 1h0m0-3h0m0-0.5h0m0.5 4h0m0 1h0m0-3.5h0m0 2h0m0-3h0m0.5 3.5h0m0-1.5h0m0 3h0m0.5-4.5h0m0.5 0.5h0m0 1.5h0m0 0h0m0 1h0m0-3.5h0m0 0.5h0m0.5-0.5h0m0 1h0m0-1.5h0m0.5 4h0m0 1h0m0.5-3h0m0 1.5h0m0 0.5h0m0-4h0m0.5-0.5h0m0 3.5h0m0 1.5h0m0-4h0m0-0.5h0m0.5 3h0m0 1.5h0m0-3h0m0.5 1.5h0m0-1.5h0m0-2h0m0 1h0m0.5 1.5h0m0 2h0m0 1h0m0-0.5h0m0.5-1.5h0m0-3h0m0.5 0.5h0m0 3h0m0-2h0m0.5-1.5h0m0 4h0m0-1.5h0m0-2h0m0.5 0.5h0m0 0.5h0m0.5-1h0m0.5-0.5h0m0 4h0m0 1h0m0-1.5h0m0-0.5h0m1 2h0m0-4h0m0-0.5h0m0.5 3.5h0m0-4.5h0m0 1.5h0m0.5-1h0m1 1h0m0.5-0.5h0m0 1.5h0m0.5 2h0m0.5-1h0m0-2.5h0m0 3.5h0m0.5-0.5h0m0 1.5h0m0.5-3h0m0.5 1.5h0m0.5-3h0m0 4h0m0.5-4.5h0m0.5 1.5h0m1 2h0m0.5 1h0m0-4h0m2.5 3.5h0m1.5-4.5h0m0.5 4.5h0m0-2.5h0m0.5 3.5h0m0.5-5.5h0m1.5 4h0m1.5-1h0m0-2.5h0m1.5 4.5h0m0.5-2h0m3 1h0m1.5-4h0m1.5 1.5h0m0.5 1.5h0m2.5 2h0m0.5-4h0m0.5 1.5h0m8.5-1.5h0m2 0h0m-87 7.5h0m1.5-0.5h0m0 3.5h0m1.5-5h0m0 0.5h0m0 3.5h0m1-4h0m0 2h0m0.5 3.5h0m0.5-3h0m1 1.5h0m0.5-2.5h0m0.5 1.5h0m1-3h0m0 1.5h0m0 3.5h0m0.5-2.5h0m0.5-2.5h0m0 3.5h0m0-3h0m0.5 1.5h0m0.5 3.5h0m0.5-4h0m0-1.5h0m0.5-0.5h0m0 4h0m0.5 2h0m0-3.5h0m0.5-1h0m0.5 1h0m0 1.5h0m0-3.5h0m0.5 3h0m0 1h0m0.5-3.5h0m0 5h0m0-0.5h0m0-1h0m0-0.5h0m0.5-2h0m0.5-1.5h0m0 3h0m0-2.5h0m0 3.5h0m0.5-2.5h0m0 3.5h0m0-2h0m0 1.5h0m0-2h0m0-1h0m0.5-0.5h0m0.5 4h0m0-2.5h0m0 1h0m0-3h0m0.5 4h0m0-3h0m0.5 0h0m0 1h0m0 2.5h0m0-4.5h0m0 2.5h0m0 1h0m0.5-2.5h0m0 1h0m0.5 1h0m0-4h0m0 3.5h0m0.5-1.5h0m0 4h0m0-2h0m0 0.5h0m0 1h0m0.5-4.5h0m0.5 4h0m0-2h0m0 0.5h0m0 0.5h0m0-4h0m0.5 1h0m0 1h0m0-2h0m0 1.5h0m0 2.5h0m0.5-2.5h0m0 3h0m0 1.5h0m0-1h0m0.5-3.5h0m0 0h0m0.5-1.5h0m0 3.5h0m0-0.5h0m0-2.5h0m0.5 3.5h0m0 1h0m0-3h0m0 1.5h0m0.5-0.5h0m0-1.5h0m0.5-1h0m0 1h0m0 3h0m0.5-4h0m0 3h0m0-0.5h0m0 1.5h0m0.5-3h0m0 0h0m0.5 0h0m0-1h0m0 2.5h0m0-0.5h0m0 3h0m0.5-1.5h0m0 1h0m0-4.5h0m0 5.5h0m0-2h0m0-2h0m0 3h0m0-0.5h0m0-2h0m0.5-1.5h0m0.5 3h0m0 0h0m0-1.5h0m0.5 2.5h0m0-2.5h0m0-1.5h0m0.5 2h0m0 2h0m0-3h0m0-1.5h0m0.5 3.5h0m0-3h0m0 2.5h0m0-2.5h0m0 3h0m0-3.5h0m0.5 1.5h0m0 1h0m0 1h0m0.5 1.5h0m0-3h0m0 0.5h0m0-1.5h0m0.5-1h0m0 3h0m0 2.5h0m0-1h0m0.5-2h0m0-2h0m0 4.5h0m0-5h0m0.5 2h0m0 2.5h0m0-1.5h0m0-1.5h0m0-2h0m0 4.5h0m0.5-3h0m0.5 1h0m0 3.5h0m0-3.5h0m0-1.5h0m0-1h0m0.5 3.5h0m0 1h0m0 1h0m0-0.5h0m0-2h0m0.5-1.5h0m0 0h0m0 4h0m0-1.5h0m0.5 1h0m0.5 0.5h0m0-2.5h0m0-0.5h0m0 1.5h0m0-3.5h0m0 0.5h0m0.5-1h0m0 3.5h0m0.5-1.5h0m0-1h0m0 5h0m0-3h0m0 1.5h0m0.5 0.5h0m0-0.5h0m0-1h0m0-2h0m0.5 0h0m0 1.5h0m0-2h0m0 2h0m0-3h0m0.5 3.5h0m0 2h0m0.5-1h0m0 1h0m0-4.5h0m0.5 2h0m0-2.5h0m0 1.5h0m0 3h0m0-1.5h0m0.5-1h0m0-2h0m0 4h0m0.5-2.5h0m0-0.5h0m0 0.5h0m0.5-1h0m0 4h0m0 0.5h0m0-5.5h0m0 3h0m0.5 0.5h0m0 2.5h0m0-4.5h0m0.5-1h0m0 4h0m0 1h0m0-2.5h0m0-1.5h0m0-0.5h0m0.5-1h0m0 5.5h0m0-3.5h0m0.5 1h0m0 2.5h0m0.5-1.5h0m0-4h0m0 1.5h0m0 0h0m0 3h0m0.5-4h0m0 0.5h0m0 1.5h0m0.5 3.5h0m0-3h0m0.5 0.5h0m0 2h0m0-5h0m0 1.5h0m0.5 2h0m0-3.5h0m0.5 5h0m0-4h0m0 1h0m0-0.5h0m0.5-2h0m0 2h0m0 1.5h0m0-2.5h0m0.5 4h0m0-2h0m0 1h0m0.5 0.5h0m0.5-4h0m0-0.5h0m0 2h0m0.5 1h0m0.5-0.5h0m0-2h0m0.5 0.5h0m0 3h0m0-1.5h0m0 1h0m0.5-1h0m0.5 3.5h0m0-4.5h0m0.5 0.5h0m0-1h0m0.5 3h0m0.5 0.5h0m0.5-4h0m0.5 1h0m1-1.5h0m0.5 2h0m0 4h0m0.5-5.5h0m0.5 0.5h0m1.5 1h0m1-2h0m0 1.5h0m0.5 0.5h0m1 1.5h0m0.5-1.5h0m0.5 0h0m0.5 2h0m0.5-2h0m0.5-1h0m0 1h0m1 1h0m3 0h0m0.5 1.5h0m11 0.5h0m2.5 0h0m11-2h0m-89.5 5h0m2.5 1h0m2-2.5h0m0.5 5h0m0.5 0h0m1-2.5h0m0.5 2.5h0m1-5.5h0m1 1.5h0m0.5 1h0m0 3h0m0.5-5h0m0.5 1.5h0m0 1h0m0 2.5h0m0-3.5h0m0.5-1h0m0.5 0h0m0 3.5h0m0.5-2.5h0m0 3h0m0.5-2h0m0 1h0m0.5 1h0m0.5-1.5h0m0-1h0m0.5 2h0m0-2.5h0m0 0.5h0m0-2h0m0.5 2.5h0m0-1h0m0.5 4h0m0-5h0m0 4.5h0m0.5-2h0m0 2h0m0.5-5h0m0 1h0m0 2h0m0.5 1h0m0-3.5h0m0 2h0m0.5-1h0m0 3.5h0m0.5-2.5h0m0-1h0m0-2h0m0 4.5h0m0.5-1h0m0 1.5h0m0.5 0.5h0m0-4h0m0 2h0m0 1h0m0-3.5h0m0.5-0.5h0m0 4h0m0-2h0m0.5-0.5h0m0-0.5h0m0 4h0m0-5h0m0.5 1h0m0.5 0.5h0m0.5-2h0m0 1.5h0m0 1h0m0.5 2.5h0m0-1h0m0 0h0m0-1h0m0.5 1.5h0m0-3h0m0 3.5h0m0-1h0m0-3h0m0.5 3.5h0m0 0.5h0m0-2h0m0-1h0m0.5-1.5h0m0 3.5h0m0-2.5h0m0 3h0m0-1.5h0m0 2h0m0-4.5h0m0.5 3h0m0.5-1.5h0m0 1.5h0m0-1h0m0.5-1h0m0 3.5h0m0-1h0m0.5 2h0m0-5.5h0m0 1h0m0.5 2.5h0m0-1.5h0m0-1.5h0m0 0h0m0 3h0m0.5-0.5h0m0-1.5h0m0-2h0m0.5 3.5h0m0-1.5h0m0 3h0m0-3.5h0m0.5 4h0m0-1h0m0-2h0m0.5-1h0m0 4.5h0m0.5-1.5h0m0-4h0m0 4.5h0m0-3.5h0m0 1.5h0m0-2.5h0m0 0.5h0m0.5 4h0m0-3h0m0.5 2.5h0m0-2.5h0m0 0.5h0m0-2h0m0.5 0.5h0m0 3h0m0 1h0m0.5-1h0m0-1.5h0m0-1.5h0m0-1h0m0 5h0m0.5-3.5h0m0.5 3.5h0m0.5-1h0m0-2.5h0m0-0.5h0m0 3h0m0-4h0m0 5h0m0 1h0m0.5-5.5h0m0 3h0m0-1h0m0-0.5h0m0.5 3.5h0m0-4.5h0m0 4h0m0.5-3h0m0 2h0m0.5 2h0m0-5h0m0-0.5h0m0 1h0m0.5 2.5h0m0 1.5h0m0-1.5h0m0-1.5h0m0.5-2h0m0 1h0m0 0h0m0 3.5h0m0.5-1.5h0m0-1h0m0-1h0m0.5 0.5h0m0.5-1h0m0-0.5h0m0 1h0m0 3h0m0.5-2h0m0 2h0m0.5 0.5h0m0-1.5h0m0-0.5h0m0.5 2h0m0-4.5h0m0 4h0m0.5 1.5h0m0-4.5h0m0 0h0m0 0h0m0 1.5h0m0 1h0m0.5-3.5h0m0.5 5h0m0-3.5h0m0.5 2h0m0-3h0m0-0.5h0m0 3h0m0.5-2h0m0 3.5h0m0-0.5h0m1-4h0m0.5 0.5h0m0-0.5h0m0.5 1h0m0 2.5h0m0.5-1h0m0-0.5h0m0 2.5h0m0.5-3h0m0-1.5h0m0.5 3h0m0.5-1.5h0m0 2.5h0m0-3h0m1-0.5h0m0 3h0m0.5-3.5h0m0 1.5h0m0-1h0m1 2h0m0.5-2.5h0m1.5 4h0m2-1h0m0 1.5h0m0-0.5h0m0.5-2h0m0.5-2h0m1 5h0m24-4h0m8-0.5h0m-93.5 9.5h0m11-2h0m0.5-1.5h0m1 3h0m0-2h0m4.5 3.5h0m0.5 0h0m1-4h0m0.5-0.5h0m2 4.5h0m0-4.5h0m0.5 2.5h0m0 1h0m1 0h0m0.5-3h0m0 3.5h0m0.5 1h0m0-2h0m0-3h0m1 2h0m0 2.5h0m0-2.5h0m0.5-2h0m0 3.5h0m0-1h0m0-3.5h0m1 0h0m0.5 1h0m0-1h0m0 3h0m0.5 0h0m0 0h0m0.5 2h0m0-2.5h0m0-2.5h0m0.5 2h0m0.5 0.5h0m0-2h0m0 3h0m0 0.5h0m0-3h0m1 1h0m0-1h0m0.5 0.5h0m0.5-1.5h0m0 1h0m0 4.5h0m0.5-2h0m0 1h0m0.5-3h0m0-0.5h0m0 2.5h0m0 0.5h0m1-3.5h0m0 1h0m0 2h0m0 1.5h0m0-5h0m0 4.5h0m0.5-3.5h0m0 4h0m0.5-1.5h0m0-2h0m0.5 0h0m0.5-0.5h0m0.5-1h0m0 2h0m0-1h0m0 2h0m0 1h0m0.5-0.5h0m0 2h0m0-3.5h0m0.5 1h0m0.5 1.5h0m0-2h0m0-1.5h0m0 2h0m0.5 1.5h0m0.5-2.5h0m0 3h0m0-4.5h0m0 3h0m0-1.5h0m0.5-0.5h0m0.5-1h0m0 2h0m0 1h0m0 1h0m0.5-1.5h0m0.5 2h0m0-2.5h0m0-0.5h0m0 1.5h0m0.5-1.5h0m0 3.5h0m0-5.5h0m0.5 5h0m0-2h0m0.5-0.5h0m0-1.5h0m0.5 3h0m0.5 1h0m0-4.5h0m1 1.5h0m0.5 2h0m0.5-0.5h0m0-1h0m0-2h0m0.5 1h0m0.5 1h0m0-1.5h0m0-1h0m1.5 4.5h0m0.5-1.5h0m0 1h0m1.5-2.5h0m1 4.5h0m0.5-6h0m0.5 4h0m0.5-1.5h0m1.5 2h0m0-2h0m0 1h0m4.5-0.5h0m2 3h0m-60 1h0m15.5-1h0m4 5.5h0m2-3h0m0-1.5h0m2 2.5h0m0 1h0m0.5-3.5h0m1.5 0.5h0m3-0.5h0m0 2h0m1 2.5h0m0-4.5h0m1.5-0.5h0m0.5 2h0m0-1.5h0m0.5 4.5h0m1-4h0m1-1.5h0m0 3h0m0.5-1h0m0.5 0h0m1-0.5h0m0.5 0h0m0.5 2.5h0m0.5-2.5h0m1-1.5h0m2 5.5h0m0.5-4.5h0m1.5-0.5h0m2 2.5h0m-25.5 3.5h0m1 2h0m9.5-1h0m2.5 2h0m3-2.5h0m0-1h0m5 3h0m0.5-1.5h0m-1 5.5h0" stroke="#fb1414" stroke-width="1.55" stroke-linecap="round" fill="none"/>
<rect x="257" y="425.4" width="154.4" height="125.8" fill="none" stroke="#111" stroke-width="1.3"/>
<line x1="332.4" y1="425.4" x2="332.4" y2="551.2" stroke="#111" stroke-width="1.3"/>
<line x1="257" y1="490.3" x2="411.4" y2="490.3" stroke="#111" stroke-width="1.3"/>
<path d="M274.3 551.2v3.8M257 536.2h-3.2M278.6 551.2v3.8M257 532.5h-3.2M281.9 551.2v3.8M257 529.7h-3.2M284.6 551.2v3.8M257 527.3h-3.2M286.9 551.2v3.8M257 525.4h-3.2M288.9 551.2v3.8M257 523.6h-3.2M290.6 551.2v3.8M257 522.1h-3.2M303.8 551.2v3.8M310.6 551.2v3.8M257 506.2h-3.2M315.4 551.2v3.8M257 502.4h-3.2M319.2 551.2v3.8M257 499.5h-3.2M322.2 551.2v3.8M257 497.1h-3.2M324.8 551.2v3.8M257 495h-3.2M327.1 551.2v3.8M257 493.3h-3.2M329 551.2v3.8M257 491.7h-3.2M342.2 551.2v3.8M348.9 551.2v3.8M257 474.4h-3.2M353.6 551.2v3.8M257 470.3h-3.2M357.3 551.2v3.8M257 467h-3.2M360.3 551.2v3.8M257 464.4h-3.2M362.8 551.2v3.8M257 462.2h-3.2M365 551.2v3.8M257 460.2h-3.2M367 551.2v3.8M257 458.5h-3.2M380.8 551.2v3.8M387.8 551.2v3.8M257 442.2h-3.2M392.8 551.2v3.8M257 438.3h-3.2M396.7 551.2v3.8M257 435.3h-3.2M399.9 551.2v3.8M257 432.9h-3.2M402.6 551.2v3.8M257 430.8h-3.2M404.9 551.2v3.8M257 429h-3.2M407 551.2v3.8M257 427.4h-3.2M258 551.2v6.2M257 550.2h-5.2M292.2 551.2v6.2M257 520.8h-5.2M330.8 551.2v6.2M257 490.3h-5.2M368.7 551.2v6.2M257 457h-5.2M408.8 551.2v6.2M257 426h-5.2" stroke="#111" stroke-width="1.1" fill="none"/>
<text x="251.4" y="567.8" font-size="8.0" font-weight="bold">10<tspan font-size="6.4" dy="-4.2">0</tspan></text>
<text x="250.6" y="556.8" font-size="8.0" font-weight="bold" transform="rotate(-90 250.6 556.8)">10<tspan font-size="6.4" dy="-4.2">0</tspan></text>
<text x="285.6" y="567.8" font-size="8.0" font-weight="bold">10<tspan font-size="6.4" dy="-4.2">1</tspan></text>
<text x="250.6" y="527.4" font-size="8.0" font-weight="bold" transform="rotate(-90 250.6 527.4)">10<tspan font-size="6.4" dy="-4.2">1</tspan></text>
<text x="324.2" y="567.8" font-size="8.0" font-weight="bold">10<tspan font-size="6.4" dy="-4.2">2</tspan></text>
<text x="250.6" y="496.9" font-size="8.0" font-weight="bold" transform="rotate(-90 250.6 496.9)">10<tspan font-size="6.4" dy="-4.2">2</tspan></text>
<text x="362.1" y="567.8" font-size="8.0" font-weight="bold">10<tspan font-size="6.4" dy="-4.2">3</tspan></text>
<text x="250.6" y="463.6" font-size="8.0" font-weight="bold" transform="rotate(-90 250.6 463.6)">10<tspan font-size="6.4" dy="-4.2">3</tspan></text>
<text x="402.2" y="567.8" font-size="8.0" font-weight="bold">10<tspan font-size="6.4" dy="-4.2">4</tspan></text>
<text x="250.6" y="432.6" font-size="8.0" font-weight="bold" transform="rotate(-90 250.6 432.6)">10<tspan font-size="6.4" dy="-4.2">4</tspan></text>
<text x="337.1" y="580" text-anchor="middle" font-weight="bold" font-size="10.8">Annexin V-FITC</text>
<text x="236.1" y="487" text-anchor="middle" font-weight="bold" font-size="10.8" transform="rotate(-90 236.1 487)">PI</text>
<text x="332.4" y="409.6" text-anchor="middle" font-size="14">JMJD2C+sh-MALAT1</text>
<path d="M561 430h0m-30 9h0m2-1h0m1.5 0.5h0m1-2h0m0.5 1.5h0m18-3h0m6 5.5h0m-21 4.5h0m1.5-0.5h0m4.5 0h0m2.5 0h0m3.5-1h0m0.5-0.5h0m0.5 0.5h0m1.5 2.5h0m7-3.5h0m0.5 1h0m5.5-0.5h0m19 1.5h0m-59 7h0m7 1h0m1-4h0m1 1.5h0m2-2.5h0m2.5 1.5h0m0.5 1.5h0m1.5 2.5h0m1-0.5h0m0 0h0m1.5-5.5h0m1.5 1.5h0m1 1.5h0m0.5-0.5h0m0.5 3h0m3-0.5h0m0.5 0h0m3.5 0h0m0-4h0m0.5 3h0m0-2h0m1.5 3.5h0m1-3h0m10.5-1.5h0m-56 9.5h0m6 0.5h0m5-5h0m3 5h0m2.5-0.5h0m3-0.5h0m1-1h0m0-0.5h0m0.5-1.5h0m3 2.5h0m0.5 2h0m1.5-3h0m1.5 2.5h0m0.5-2.5h0m2-1h0m0 4.5h0m1-5h0m0 4h0m0.5-3.5h0m0.5 1h0m1 3h0m0-4.5h0m1 2h0m0.5 1.5h0m0-2.5h0m1 2h0m0.5-1.5h0m1.5 1.5h0m1.5 1h0m2.5 0h0m1.5-4.5h0m0 1h0m0.5 4h0m2-3h0m1 2h0m0.5 1.5h0m1.5-0.5h0m0-3.5h0m1-1.5h0m5.5 1h0m-52.5 4.5h0m2 5h0m1.5 0h0m9-2.5h0m0.5-0.5h0m1 2h0m0-3.5h0m1 1h0m1 2h0m1.5-3h0m0 1.5h0m0.5 3h0m0.5 1h0m0-4.5h0m0.5 4h0m0.5-5.5h0m0 2h0m0.5 0.5h0m1 3h0m0.5-4h0m0 4h0m0.5-5h0m0.5 0.5h0m0 2h0m0.5-0.5h0m0.5 1.5h0m0-2.5h0m1 0h0m0.5 3.5h0m0.5 0h0m0-3.5h0m1 2.5h0m0 0.5h0m0.5-3.5h0m0-1h0m0.5 3h0m0.5 2.5h0m0-2.5h0m0.5 0.5h0m1.5-1h0m0.5 1h0m2 2h0m0-4h0m0.5 1.5h0m0.5-1.5h0m2 1h0m0.5-1.5h0m0.5-0.5h0m0 5h0m0.5-1h0m0.5-3.5h0m0.5 4.5h0m1-1.5h0m1 0.5h0m0.5 0.5h0m0.5-1h0m2-2.5h0m0 1.5h0m2 1.5h0m0-1h0m1.5-2h0m0.5-1h0m1 4h0m0-1h0m0 0.5h0m0.5 1.5h0m2.5-1.5h0m3 1h0m2-3h0m-55.5 9.5h0m8 0.5h0m2.5-1.5h0m1-1h0m0-1h0m1-2.5h0m0.5 4.5h0m0.5-1.5h0m0.5 1h0m0.5-3.5h0m1 3.5h0m0-2h0m0.5 2.5h0m0.5-1h0m0 1.5h0m4.5 0h0m1-2h0m0 3h0m0.5 0h0m0-2h0m0.5-0.5h0m1-2.5h0m0.5-0.5h0m2 4h0m1-1.5h0m0-0.5h0m0 0h0m1 3h0m0-5.5h0m1 3h0m0-3h0m0 5h0m0.5 1h0m0.5-2h0m0.5 1h0m0-2h0m0.5-0.5h0m0-1h0m0.5 4.5h0m1-1h0m2.5 0h0m0-1.5h0m0.5 1.5h0m0.5 0.5h0m0.5-3h0m0.5-0.5h0m0.5 2.5h0m0.5-3.5h0m0.5 0.5h0m0-1h0m0.5 0h0m0.5 2h0m1.5-1h0m2.5 4h0m0.5-3.5h0m2.5-2h0m2.5 5h0m5-1h0m12.5-3.5h0m-101.5 11h0m21-1h0m3-1h0m21.5-3h0m1.5 5.5h0m2-0.5h0m0.5-1.5h0m0-4h0m0 5.5h0m1 0h0m0.5-3.5h0m1 2h0m0.5-3.5h0m0.5 2.5h0m1.5-3h0m0.5 0.5h0m1 3h0m0.5 0h0m0.5 0h0m1-1h0m0.5 3.5h0m0-6h0m0.5 0.5h0m0 3.5h0m0.5-0.5h0m0.5 0h0m2-2h0m0 1h0m0 2.5h0m0-2.5h0m0.5-1h0m0.5 2h0m0.5 1.5h0m0-3h0m0 2h0m0-3.5h0m1.5 4.5h0m0.5-2h0m0 1h0m0.5-3h0m0.5 5h0m0.5-0.5h0m0.5-3.5h0m0.5 2h0m0-2.5h0m0.5-1h0m0.5 0h0m0 2h0m1.5-1.5h0m0 4h0m0-1.5h0m0.5 2h0m1-3.5h0m0 3h0m0.5-5h0m0 0.5h0m0.5 5h0m1-4.5h0m0 4.5h0m0-4.5h0m0.5 2h0m0 1h0m0-3h0m0 5h0m1-4h0m0 1h0m0.5 2h0m0.5-3.5h0m1 1h0m0.5-2h0m2.5 4h0m0-1.5h0m1.5 1h0m4-2.5h0m0.5 3h0m2.5-3.5h0m0 2.5h0m8.5 0h0m-59 5h0m0.5-0.5h0m2-1h0m1.5 0.5h0m1-1h0m2.5 2h0m2.5 3.5h0m0.5-2h0m0.5-2h0m1.5-0.5h0m2 1.5h0m0-1.5h0m0.5 0.5h0m1 0h0m0 2h0m1.5-2.5h0m0.5-0.5h0m1 4h0m0.5-4h0m0 5h0m0-2h0m0.5-3h0m0.5 3h0m0.5 1h0m0-1h0m0-3h0m0.5 4h0m0.5-4.5h0m0 0.5h0m0 3h0m0-1.5h0m1.5-2h0m0.5 2.5h0m0.5-2.5h0m1 1h0m0 1.5h0m0.5 1.5h0m0-3h0m1 2.5h0m0.5-2h0m0 3h0m0.5-1.5h0m0-2h0m0 4.5h0m0.5-1h0m0-2h0m0.5 2h0m0.5-4.5h0m0 5h0m0.5-3.5h0m0 1h0m0 0h0m1-2h0m1.5 0h0m0 1.5h0m0 1h0m0.5-0.5h0m0.5-3h0m0.5 5.5h0m1.5-4.5h0m0.5 2.5h0m0.5 2h0m2.5-2.5h0m0.5 0.5h0m0.5 2h0m1.5-4.5h0m0 4h0m1-5h0m0 0.5h0m2 3h0m4.5 1.5h0m4.5-4h0m-96.5 10.5h0m7.5-5.5h0m21 0h0m1.5 5h0m0.5-0.5h0m0 0.5h0m2.5-3.5h0m3 1h0m1-1.5h0m1 0h0m0.5 2h0m3.5 2.5h0m4-1h0m1 0h0m1 0.5h0m3.5-2.5h0m1.5 1h0m1 0.5h0m0 1h0m1-4.5h0m0 0.5h0m0.5 3h0m1.5-2h0m0.5-1.5h0m1 5h0m0-1.5h0m0.5 0.5h0m0-3.5h0m0.5 2h0m1.5-3h0m0.5 1.5h0m1 2h0m0.5-2h0m0.5-0.5h0m0.5 2.5h0m0-1h0m0.5 2h0m0-1.5h0m0-3h0m1.5 3.5h0m0.5 0h0m0 1.5h0m0.5-3.5h0m0 1h0m1-1h0m0.5 3.5h0m1-2h0m0 2h0m0.5-3h0m0.5 2h0m0.5 1h0m0.5-1h0m0 1h0m3.5-0.5h0m0.5-2.5h0m0 3.5h0m1.5-3.5h0m0 2.5h0m0.5-3.5h0m0.5 4h0m0.5-3h0m1-1h0m1 0.5h0m0-0.5h0m2 0h0m0.5 3h0m3.5-3h0m3 2h0m-79 8.5h0m9 0h0m4-5h0m2.5 5h0m0.5-5h0m1.5 3h0m0.5 2.5h0m0.5-4h0m0 3.5h0m1.5-1h0m1 1h0m1 0h0m0.5-1.5h0m0.5 0.5h0m1.5 0h0m0.5-1.5h0m2-1.5h0m0.5 2h0m1.5 2.5h0m1-1.5h0m0.5 0.5h0m0-1.5h0m0-3.5h0m1 1h0m0 4.5h0m0-2h0m0.5 2h0m0.5 0.5h0m0.5 0h0m1-3h0m0.5-2.5h0m0 1h0m2 3h0m0.5-3.5h0m0 2.5h0m2 2h0m0.5-4.5h0m0.5 4h0m0.5-0.5h0m1 0.5h0m0.5 0.5h0m0.5-4h0m0 1h0m1.5-2h0m0.5 0h0m0 5.5h0m0.5-5h0m1.5 2.5h0m0.5 1.5h0m1-4.5h0m2 0.5h0m0.5 0h0m0.5 2.5h0m2-2h0m0 4h0m3-1h0m0.5-2.5h0m1 2.5h0m0.5-1.5h0m0.5-2h0m0.5-1h0m0 4.5h0m0.5-1.5h0m1-2h0m0.5 2h0m2 1h0m0.5-3.5h0m2 1h0m0 0.5h0m0 1.5h0m2.5-1h0m1 3h0m2-2h0m3-1h0m2.5-2h0m2.5 4h0m0.5-3h0m2.5 0.5h0m-81 8h0m0.5-2h0m0.5-1.5h0m0.5 3h0m0 2h0m0.5-2h0m0.5 2h0m2-4.5h0m1.5 0h0m2 3h0m0-0.5h0m0 1.5h0m0 1h0m1-1h0m1-2h0m0 0.5h0m0.5 2.5h0m0-1h0m0.5 0.5h0m0-3h0m0.5-0.5h0m0.5 3.5h0m0-1.5h0m0.5 0.5h0m0.5-3h0m0 1h0m0 3.5h0m0.5-2.5h0m0.5-1h0m0-1.5h0m0.5 2.5h0m0.5-1.5h0m0 1h0m0-0.5h0m0.5 1.5h0m0.5-0.5h0m0-1.5h0m0 2.5h0m0-2h0m0.5 1.5h0m0-1h0m0.5 1.5h0m0-3.5h0m1 2.5h0m0-0.5h0m0.5 1.5h0m0 0.5h0m0.5-3h0m0 1.5h0m0 1h0m0.5-3h0m0.5 2.5h0m0-0.5h0m0-1h0m0.5-2.5h0m0 5h0m0.5-4h0m0 3h0m0.5-2h0m0 1.5h0m0.5-2.5h0m0 3h0m0 1h0m0.5-2h0m0.5 1h0m0-3h0m0 4h0m0 1h0m0.5-5.5h0m0 4h0m0-4h0m0.5 2.5h0m0.5-2.5h0m0 5h0m0.5-4.5h0m0 2.5h0m0 1h0m0.5 1h0m0-3h0m0.5 1.5h0m0-3h0m0 2h0m0.5 1.5h0m0 0.5h0m0.5-4h0m0.5 0.5h0m0 4h0m0.5-4.5h0m0 2h0m0.5-1h0m0 0h0m0 4h0m0.5-2.5h0m0-2.5h0m0 4.5h0m0.5-0.5h0m0.5-0.5h0m0.5 1.5h0m0-5.5h0m0 3h0m0.5 0.5h0m0-3h0m0.5 0.5h0m0 1h0m0 1.5h0m0.5 1h0m0-2.5h0m0.5 0.5h0m0.5-1.5h0m1 0h0m0-0.5h0m0 1h0m1 1h0m0-0.5h0m0.5 3h0m1.5-3.5h0m0.5 2.5h0m1.5-2.5h0m0.5 3h0m0-3h0m1.5-2h0m0 6h0m1-2.5h0m0 2h0m0.5-2.5h0m1.5 0h0m0.5-0.5h0m1.5 2.5h0m1-5h0m0.5 3.5h0m0 1h0m0-0.5h0m2-3.5h0m1 0.5h0m0.5 4.5h0m1.5-0.5h0m2.5-3.5h0m0-1h0m1 5h0m3.5-1.5h0m5-2.5h0m0 1h0m0.5 1.5h0m1.5-2.5h0m5.5-1.5h0m3 2h0m-84.5 7.5h0m0 2h0m2-1h0m1 1h0m1-4h0m2.5 0h0m2.5 3.5h0m0.5-2.5h0m1 1h0m0 0.5h0m0 1h0m0.5 0.5h0m0.5-3h0m0.5 1.5h0m0.5-1.5h0m0 3h0m0-0.5h0m0-1.5h0m0.5 1h0m0-2.5h0m0 0h0m0 3.5h0m0.5-2h0m0 2.5h0m0.5-6h0m0.5 4h0m0.5-2.5h0m0 4.5h0m1-4h0m0 2.5h0m0-2.5h0m0.5 2h0m0 1.5h0m0.5-4.5h0m0.5 0.5h0m0 4h0m0-3h0m0.5 1h0m0 2h0m0-5h0m0 1h0m0.5-1.5h0m0.5 2h0m0 1h0m0 2h0m0-1h0m0.5-2h0m0 1h0m0-2.5h0m0 2h0m0.5 3h0m0-1.5h0m0.5 0h0m0 1.5h0m0.5-5h0m0 2.5h0m0 2h0m0-3h0m0 3h0m0.5-4.5h0m0 5.5h0m0-4h0m0 0.5h0m0 2h0m0.5 1.5h0m0-1h0m0-2h0m0-2h0m0.5 1h0m0 0.5h0m0 1h0m0.5 1.5h0m0-1h0m0.5-4h0m0 2.5h0m0 3h0m0.5-2h0m0-1.5h0m0-1h0m0-1h0m0 4.5h0m0.5-3.5h0m0 1h0m0.5 1.5h0m0 0.5h0m0-2.5h0m0 3h0m0.5-3.5h0m0 4.5h0m0.5-1.5h0m0-1h0m0-1.5h0m0 0.5h0m0 2.5h0m0 1h0m0.5-3h0m0 0.5h0m0-3h0m0 2h0m0 2h0m0.5-3.5h0m0 3h0m0-2.5h0m0 1.5h0m0.5 3.5h0m0-1h0m0-4h0m0 2.5h0m0-3.5h0m0.5 5.5h0m0-3h0m0-1.5h0m0 0.5h0m0 1.5h0m0.5 1h0m0.5-2.5h0m0 3h0m0-4.5h0m0 4.5h0m0.5-4h0m0 2h0m0 3h0m0-4h0m0.5 2.5h0m0-1.5h0m0 2h0m0-1.5h0m0.5-2.5h0m0 1h0m0-1.5h0m0.5 5.5h0m0-3h0m0 1.5h0m0.5 1.5h0m0-0.5h0m0.5-5h0m0 3.5h0m0 1.5h0m0.5-4h0m0 2.5h0m0-1h0m0.5-1h0m0 3h0m0 1h0m0-5.5h0m0 4.5h0m0-1.5h0m0.5-0.5h0m0-2.5h0m0 0.5h0m0.5 5h0m0-1h0m0-1h0m0-1h0m0.5 2.5h0m0 0.5h0m0-3.5h0m0.5 2.5h0m0-3.5h0m0 4h0m0-3.5h0m0.5 2h0m0-1h0m0 3h0m0-4h0m0.5 1h0m0 2.5h0m0.5 1h0m0-2.5h0m0.5 2.5h0m0-1h0m0-4h0m0 1h0m0.5 2h0m0-3h0m0.5 1.5h0m0.5 2h0m0-0.5h0m0.5-0.5h0m0 2h0m0-5h0m0 3.5h0m0.5-3h0m0.5 4.5h0m0-2.5h0m0-2.5h0m0 4h0m0.5-2.5h0m0 0h0m0.5 1h0m0 2.5h0m0-5h0m0-0.5h0m0 4.5h0m0.5-4h0m0.5 1.5h0m0.5 0.5h0m0.5 3.5h0m0-2h0m0.5-3.5h0m0 3h0m0 1h0m0-3.5h0m0.5-0.5h0m0 2h0m0 3.5h0m0-1h0m0-2h0m0.5-1h0m0.5 1.5h0m0-2.5h0m1 1.5h0m0.5-2h0m0 3h0m0.5-1.5h0m0-2h0m0 4h0m1-1.5h0m0 2h0m0.5-4.5h0m0.5 0.5h0m0 2h0m0.5 3h0m0.5-0.5h0m1-4.5h0m0.5 0h0m0.5 4h0m0.5 0h0m0-2.5h0m1.5 1.5h0m0-2h0m1.5 1h0m1-1h0m13 1h0m0.5-1.5h0m3.5-0.5h0m13 4.5h0m-85.5 4.5h0m0.5-1.5h0m0.5 3.5h0m0-5h0m1 4h0m0.5 0.5h0m0.5-5h0m0 3h0m1-2.5h0m0.5 4h0m0-1h0m0.5 2h0m0.5-4h0m0 2.5h0m0.5-1.5h0m0 0.5h0m0.5 2h0m0-0.5h0m0.5-0.5h0m0 1.5h0m0-3h0m0.5 0.5h0m0-1.5h0m0.5 4.5h0m0.5-1h0m0.5-4h0m0.5 3h0m0-3.5h0m0.5 0.5h0m0 4.5h0m0 0h0m0-1h0m0.5-1.5h0m0-1h0m0.5-0.5h0m0-0.5h0m0.5 3h0m0 1h0m0-2h0m0-1h0m0.5 3h0m0-2h0m0.5 2.5h0m0-1.5h0m0-1.5h0m0 0.5h0m0 1h0m0.5-3.5h0m0.5 0.5h0m0 1h0m0 3.5h0m0-0.5h0m0-3h0m0.5 1h0m0 1h0m0 1.5h0m0-5h0m0.5 0h0m0 2h0m0-1.5h0m0.5 2.5h0m0 1h0m0-0.5h0m0 1h0m0.5-4h0m0 3.5h0m0-2.5h0m0 1.5h0m0.5-0.5h0m0 2.5h0m0-3.5h0m0 3.5h0m0.5-0.5h0m0-1.5h0m0 0.5h0m0-3h0m0.5 2h0m0 0.5h0m0 2h0m0-4.5h0m0.5-0.5h0m0 4.5h0m0-0.5h0m0-2h0m0-1.5h0m0.5 5h0m0-2h0m0.5-2h0m0-1.5h0m0 3h0m0 1.5h0m0-1.5h0m0-3h0m0 1.5h0m0.5 3h0m0-3.5h0m0.5 1h0m0.5 0.5h0m0-2.5h0m0 3h0m0-2h0m0-0.5h0m0 4h0m0.5-2h0m0 3h0m0-3.5h0m0 1.5h0m0-3.5h0m0 5h0m0.5-5h0m0 2.5h0m0 2.5h0m0-4h0m0.5 4.5h0m0-2.5h0m0 1.5h0m0-2.5h0m0.5 1h0m0 1.5h0m0-3.5h0m0.5 3h0m0-1h0m0-1.5h0m0-1h0m0 5h0m0-1.5h0m0.5-0.5h0m0 2h0m0-3.5h0m0.5-1.5h0m0 2.5h0m0-2h0m0 4h0m0-2h0m0-1.5h0m0.5 1.5h0m0-3.5h0m0 0.5h0m0 4h0m0.5-0.5h0m0-2h0m0-1h0m0 0h0m0.5 3.5h0m0 1.5h0m0-2.5h0m0.5-1.5h0m0 4h0m0-1.5h0m0.5-4h0m0 2.5h0m0 1.5h0m0-4.5h0m0.5 4h0m0-2h0m0 4h0m0-3h0m0 2.5h0m0-4h0m0.5 2.5h0m0-0.5h0m0-2.5h0m0.5 1h0m0 3.5h0m0-5h0m0 0.5h0m0.5 4h0m0-0.5h0m0-4.5h0m0 0.5h0m0.5 3.5h0m0-1.5h0m0 1h0m0-2.5h0m0 4h0m0.5-2h0m0-2.5h0m0 1.5h0m0 3.5h0m0.5-3h0m0 2h0m0.5-0.5h0m0-2.5h0m0 2h0m0 1.5h0m0-4.5h0m0 2.5h0m0.5-2.5h0m0 0.5h0m0 1h0m0.5 4h0m0-4.5h0m0.5 3.5h0m0-1.5h0m0-1h0m0 3h0m0-5h0m0 3.5h0m0.5-1h0m0-2h0m0.5 1h0m0 2h0m0-3h0m0 4.5h0m0-1h0m0.5-2.5h0m0 2h0m0-3h0m0 3.5h0m0-2h0m0.5 3h0m0-0.5h0m0.5-4h0m0 2h0m0-1.5h0m0 3h0m0-2h0m0.5-2h0m0 1h0m0 3h0m0.5-1.5h0m0 2h0m0-3h0m0-1h0m0.5 1.5h0m0 1.5h0m0-4h0m0.5 2.5h0m0 2.5h0m0.5-0.5h0m0-2.5h0m0 1.5h0m0-3h0m0.5 2.5h0m0-2h0m0.5 3h0m0-0.5h0m0.5-1.5h0m0 1.5h0m0-3h0m0.5 0.5h0m0 3.5h0m0.5-3h0m0 3.5h0m0-1.5h0m0.5-1.5h0m0.5 2.5h0m0-3h0m0 1.5h0m0 0.5h0m0 2h0m0-2.5h0m1 1h0m0.5 0.5h0m0-3.5h0m0 2.5h0m0.5 0h0m0 1.5h0m1-3h0m0 2.5h0m0.5-3h0m1.5-1.5h0m0.5 0.5h0m1.5 2.5h0m0 2.5h0m0.5-0.5h0m3-0.5h0m0 1h0m0-3h0m1-1.5h0m1 0h0m1.5 3.5h0m5 0h0m0.5-2h0m2 0h0m1.5-1h0m0.5 0h0m1 0.5h0m-78 4.5h0m6.5 5.5h0m2-1.5h0m4-2h0m0-2h0m0.5 1h0m2.5 2h0m0.5 1h0m0.5-2.5h0m0 3h0m0.5-1h0m0-2h0m0.5 2.5h0m0.5 0.5h0m0-4.5h0m0.5 3.5h0m0-0.5h0m0.5-1h0m0.5 2.5h0m0-3h0m0-1.5h0m0 4h0m0.5-3h0m0 3.5h0m0.5-1h0m0-1h0m0.5-3h0m0 5h0m0-1.5h0m0.5 2h0m0-4.5h0m0 3.5h0m0-1h0m0.5-1.5h0m0-1.5h0m0.5 3.5h0m0-2h0m0.5-0.5h0m0 3.5h0m0-2h0m0.5 0.5h0m0 1h0m0-4h0m0.5 3.5h0m0 1.5h0m0-3.5h0m0-1h0m0 2h0m0.5 2h0m0 0h0m0-4h0m0.5 5h0m0-3h0m0-0.5h0m0 1.5h0m0.5-1h0m0-2.5h0m0 1.5h0m0 1.5h0m0-2h0m0.5 4h0m0-4.5h0m0.5 1.5h0m0 1.5h0m0 0h0m0.5-3.5h0m0 1h0m0 2.5h0m0-3.5h0m0.5 4.5h0m0-0.5h0m0-3.5h0m0 0.5h0m0 1h0m0.5 3.5h0m0-3.5h0m0-1.5h0m0-0.5h0m0.5 2h0m0 3h0m0-1.5h0m0.5 0.5h0m0 1h0m0.5-5h0m0 1h0m0 0.5h0m0 1.5h0m0-0.5h0m0 3h0m0.5-2.5h0m0-1.5h0m0 1h0m0 1h0m0-3.5h0m0 0.5h0m0.5 3.5h0m0-4h0m0 1.5h0m0 1.5h0m0-2.5h0m0.5 1.5h0m0 3h0m0-3h0m0.5-2.5h0m0 3h0m0 2h0m0-4h0m0 4h0m0.5-4.5h0m0 3h0m0.5-1h0m0 2.5h0m0 0h0m0-4h0m0.5-0.5h0m0 4h0m0 1h0m0-1.5h0m0-2.5h0m0.5 1h0m0 0h0m0 0h0m0.5 2.5h0m0 0.5h0m0-1.5h0m0.5-2h0m0 1h0m0.5-0.5h0m0 1h0m0-2h0m0 4h0m0.5-3h0m0 0h0m0.5 3h0m0-5.5h0m0 1h0m0 3h0m0-0.5h0m0 1h0m0 1h0m0.5-3.5h0m0 2h0m0-1.5h0m0.5-1h0m0 1.5h0m0.5-1.5h0m0 2h0m0-3.5h0m0 4.5h0m0-2.5h0m0 3h0m0.5-2.5h0m0 2.5h0m0-1.5h0m0 1h0m0-2.5h0m0.5-0.5h0m0-1h0m0 2.5h0m0-2h0m0 3h0m0.5-2h0m0-2h0m0 5h0m0.5-0.5h0m0-0.5h0m0.5 1.5h0m0-2.5h0m0 1h0m0-2h0m0-0.5h0m0.5 3h0m0-2h0m0-2h0m0 4.5h0m0-1.5h0m0.5 2.5h0m0-4h0m0-1h0m0 4.5h0m0-1.5h0m0.5-1h0m0-1h0m0 1.5h0m0-2.5h0m0.5-1h0m0 1.5h0m0 3.5h0m0-1.5h0m0 1.5h0m0.5-5h0m0.5 2.5h0m0-1.5h0m0 2.5h0m0.5 1h0m0-3.5h0m0.5 1h0m0 3h0m0-4.5h0m0 3h0m0.5 1h0m0 1.5h0m0-1h0m0.5-3.5h0m0 1h0m0-2.5h0m0 4h0m0 0.5h0m0-1.5h0m0.5-2h0m0-1h0m0 2h0m0 1.5h0m0 2h0m0.5 0.5h0m0-1.5h0m0-2h0m0 1h0m0.5-3.5h0m0.5 5h0m0-2.5h0m0-0.5h0m0 2.5h0m0.5-1.5h0m0-2.5h0m0 1h0m0 0h0m0.5 1.5h0m0 2.5h0m0.5-5.5h0m0 5h0m0.5-4h0m0 1.5h0m0.5 0.5h0m0-2h0m0 4h0m0.5-2.5h0m1 2h0m0-4h0m0 1h0m0-1h0m0 3.5h0m0.5 1h0m0-2.5h0m1 2h0m0-2.5h0m0-1.5h0m0 1h0m0 1.5h0m0.5-2h0m0-0.5h0m0.5 4h0m1-1.5h0m0-2h0m0.5-0.5h0m0 4.5h0m0.5 0.5h0m1.5-5h0m1 1.5h0m0 4h0m2-2.5h0m2.5-2h0m1 1.5h0m-59.5 8.5h0m4.5-1.5h0m1.5-2h0m0 1h0m0.5 0h0m1.5-0.5h0m0-2h0m0 3.5h0m0.5 1h0m0.5 1h0m1-1.5h0m0-2.5h0m0.5-2h0m0 4.5h0m0.5-3h0m0 3.5h0m0.5 0.5h0m0-1h0m0.5-0.5h0m1-3.5h0m0 3h0m0.5-0.5h0m0.5 1.5h0m0-2.5h0m0 1h0m0.5 2.5h0m0-0.5h0m0-2.5h0m0.5-1h0m0 3h0m0.5-4.5h0m0 4h0m0.5-1h0m0-1h0m0 1.5h0m0.5-2.5h0m0 3h0m0 1h0m0.5-2h0m0.5-1.5h0m0-1h0m0 2.5h0m0-1h0m0 2h0m1 0.5h0m0-3.5h0m0-1h0m0 2.5h0m0 1.5h0m0 1h0m0.5 0h0m0.5-0.5h0m0-2.5h0m0 0.5h0m0 0.5h0m0 2h0m0-4.5h0m0.5 1.5h0m0 1.5h0m0.5 1h0m0-4h0m0.5 1h0m0 2.5h0m0-0.5h0m0.5 2h0m0-4h0m0-1h0m0.5 5h0m0-2h0m0-2h0m0-0.5h0m0 3h0m0-1h0m0.5 0.5h0m0-1.5h0m0 4h0m0.5-2h0m0-2.5h0m0 3.5h0m0.5 0.5h0m0-4.5h0m0 1.5h0m0 1h0m0.5 0.5h0m0 2h0m0-5h0m0 1h0m0.5 0.5h0m0.5-1.5h0m0-0.5h0m0 4h0m0 0.5h0m0-3h0m0.5 0.5h0m0.5 2h0m0-1.5h0m0 2h0m0-3h0m0.5 2.5h0m0-3.5h0m0 1h0m0-2h0m0 4h0m0.5 2h0m0-1h0m0-2.5h0m0.5-0.5h0m0 2.5h0m0-2h0m0.5 2.5h0m0.5-3.5h0m0 1h0m0-2h0m0 0.5h0m0 3h0m0-1h0m0 2.5h0m0.5-5h0m0 1h0m0 4.5h0m0-3h0m0 0.5h0m0.5 2h0m0-4.5h0m0 3.5h0m0-2h0m0.5-2h0m0 3.5h0m0.5 2h0m0-4.5h0m0-0.5h0m0.5 3h0m0 1h0m0-4.5h0m0.5 0h0m0 4.5h0m0-4h0m0.5 0.5h0m0 2h0m0 1h0m0-1.5h0m0 1h0m0.5 0.5h0m0.5-3h0m0 0h0m0 3h0m0 1h0m0.5-4h0m0 1.5h0m0.5 0.5h0m0 2h0m0-3.5h0m0 1h0m0.5 2.5h0m0.5-3.5h0m0.5-2h0m0 0.5h0m0 0.5h0m0 4.5h0m0.5-2.5h0m0-1h0m0-1.5h0m0 3.5h0m0.5-3h0m0 5h0m0.5-3h0m0 0.5h0m0.5-3h0m0 1h0m0.5 0.5h0m0 1h0m0 2h0m0-1.5h0m0-3h0m0 2h0m0.5-0.5h0m0 3.5h0m0.5-2.5h0m0.5-2h0m0.5 2h0m0 0h0m0 2.5h0m0.5-4.5h0m0 0h0m0 1h0m0.5 2.5h0m0-1h0m0-3.5h0m0 5h0m0-2.5h0m0.5 0.5h0m0 0.5h0m0-3h0m0.5 1h0m0.5 1.5h0m0.5 1.5h0m0-4h0m0.5 4.5h0m0-3.5h0m0.5 1.5h0m0 0.5h0m0-2.5h0m0.5-0.5h0m0 2h0m0.5 1.5h0m0-3.5h0m1 2h0m0-2h0m0.5 4.5h0m0-3.5h0m0 1.5h0m0.5-3h0m0 1h0m0-0.5h0m0.5 3h0m0 1h0m0.5-4h0m1 3h0m0 1.5h0m0.5-3.5h0m0 0h0m0.5-0.5h0m0.5 0h0m2 2h0m3-2h0m0.5 2.5h0m0.5-3.5h0m0 1h0m1.5 0h0m-55.5 10.5h0m2-1.5h0m0-0.5h0m1-3h0m0.5-0.5h0m2 0.5h0m1 1.5h0m0.5 1.5h0m0.5 1h0m0 1.5h0m1.5-5h0m0.5 1h0m0 0.5h0m0.5-1.5h0m0 0.5h0m0.5 0h0m0.5 0.5h0m1 1h0m0-2.5h0m0 4h0m0.5-2.5h0m0.5 3h0m0.5-3.5h0m1 1h0m0 2h0m0-2.5h0m0.5-1.5h0m0.5 1.5h0m0 1.5h0m1-0.5h0m0-2.5h0m0 1h0m0 4h0m0-3h0m0-2h0m0.5 4.5h0m0.5 1h0m0-1h0m0.5-0.5h0m0-1.5h0m0-2.5h0m0.5 2h0m0-0.5h0m0.5 1.5h0m0.5-2h0m0 4h0m0-3h0m0.5-1h0m0 4h0m0.5-5h0m0 3.5h0m0.5-2.5h0m0.5 2.5h0m0 1h0m0.5-4h0m0 1.5h0m0.5 1h0m0-1h0m1-2.5h0m0.5 6h0m0-5h0m0.5 2.5h0m0-2h0m0-1h0m1 4.5h0m0.5-3.5h0m0 4.5h0m0.5-3.5h0m0.5-0.5h0m0.5-1h0m0.5 0h0m0 3h0m0.5-2.5h0m1-1h0m0 2.5h0m0.5 1h0m0-3h0m0.5-0.5h0m0 1.5h0m1.5 0.5h0m0 0.5h0m1 1h0m0-3.5h0m0-0.5h0m0 4h0m0-3.5h0m0.5 1.5h0m0.5-0.5h0m0.5 2.5h0m0-2.5h0m0.5 3h0m1-0.5h0m1 1.5h0m0.5-5.5h0m0.5 3h0m0 0.5h0m1-2.5h0m0 3.5h0m3-3.5h0m1.5 3h0m1.5-3h0m1 4h0m0-2.5h0m1 1.5h0m2-1.5h0m31-2h0m-79 6h0m3.5 5.5h0m1.5 0h0m3.5-4h0m1.5-1h0m0 1h0m1 1.5h0m1-2h0m1-1.5h0m1.5 0.5h0m0 5h0m0.5-4h0m0 2.5h0m0.5-0.5h0m0.5-0.5h0m0-2.5h0m0.5 0h0m0 2h0m0.5 1.5h0m0-3h0m0.5-0.5h0m0 4h0m0-2.5h0m0.5-1h0m1-1h0m0.5 2h0m0.5 2h0m0 1h0m0.5-5h0m0 4h0m0.5-3h0m0.5-1h0m0 2h0m0 2h0m2 2h0m0-2.5h0m0.5 2h0m0.5-3.5h0m0.5 1.5h0m0-3h0m7 0h0m4 2h0m0.5-2h0m-35.5 7.5h0m12-1.5h0m0 2h0m1 2h0m6-3.5h0m6-0.5h0m1 1h0m1.5 0.5h0m14.5 1h0m14.5-1.5h0m5.5-1h0m-52 10.5h0" stroke="#fb1414" stroke-width="1.55" stroke-linecap="round" fill="none"/>
<rect x="455.9" y="425.4" width="154.4" height="125.8" fill="none" stroke="#111" stroke-width="1.3"/>
<line x1="531.3" y1="425.4" x2="531.3" y2="551.2" stroke="#111" stroke-width="1.3"/>
<line x1="455.9" y1="490.3" x2="610.3" y2="490.3" stroke="#111" stroke-width="1.3"/>
<path d="M473.2 551.2v3.8M455.9 536.2h-3.2M477.5 551.2v3.8M455.9 532.5h-3.2M480.8 551.2v3.8M455.9 529.7h-3.2M483.5 551.2v3.8M455.9 527.3h-3.2M485.8 551.2v3.8M455.9 525.4h-3.2M487.8 551.2v3.8M455.9 523.6h-3.2M489.5 551.2v3.8M455.9 522.1h-3.2M502.7 551.2v3.8M509.5 551.2v3.8M455.9 506.2h-3.2M514.3 551.2v3.8M455.9 502.4h-3.2M518.1 551.2v3.8M455.9 499.5h-3.2M521.1 551.2v3.8M455.9 497.1h-3.2M523.7 551.2v3.8M455.9 495h-3.2M526 551.2v3.8M455.9 493.3h-3.2M527.9 551.2v3.8M455.9 491.7h-3.2M541.1 551.2v3.8M547.8 551.2v3.8M455.9 474.4h-3.2M552.5 551.2v3.8M455.9 470.3h-3.2M556.2 551.2v3.8M455.9 467h-3.2M559.2 551.2v3.8M455.9 464.4h-3.2M561.7 551.2v3.8M455.9 462.2h-3.2M563.9 551.2v3.8M455.9 460.2h-3.2M565.9 551.2v3.8M455.9 458.5h-3.2M579.7 551.2v3.8M586.7 551.2v3.8M455.9 442.2h-3.2M591.7 551.2v3.8M455.9 438.3h-3.2M595.6 551.2v3.8M455.9 435.3h-3.2M598.8 551.2v3.8M455.9 432.9h-3.2M601.5 551.2v3.8M455.9 430.8h-3.2M603.8 551.2v3.8M455.9 429h-3.2M605.9 551.2v3.8M455.9 427.4h-3.2M456.9 551.2v6.2M455.9 550.2h-5.2M491.1 551.2v6.2M455.9 520.8h-5.2M529.7 551.2v6.2M455.9 490.3h-5.2M567.6 551.2v6.2M455.9 457h-5.2M607.7 551.2v6.2M455.9 426h-5.2" stroke="#111" stroke-width="1.1" fill="none"/>
<text x="450.3" y="567.8" font-size="8.0" font-weight="bold">10<tspan font-size="6.4" dy="-4.2">0</tspan></text>
<text x="449.5" y="556.8" font-size="8.0" font-weight="bold" transform="rotate(-90 449.5 556.8)">10<tspan font-size="6.4" dy="-4.2">0</tspan></text>
<text x="484.5" y="567.8" font-size="8.0" font-weight="bold">10<tspan font-size="6.4" dy="-4.2">1</tspan></text>
<text x="449.5" y="527.4" font-size="8.0" font-weight="bold" transform="rotate(-90 449.5 527.4)">10<tspan font-size="6.4" dy="-4.2">1</tspan></text>
<text x="523.1" y="567.8" font-size="8.0" font-weight="bold">10<tspan font-size="6.4" dy="-4.2">2</tspan></text>
<text x="449.5" y="496.9" font-size="8.0" font-weight="bold" transform="rotate(-90 449.5 496.9)">10<tspan font-size="6.4" dy="-4.2">2</tspan></text>
<text x="561" y="567.8" font-size="8.0" font-weight="bold">10<tspan font-size="6.4" dy="-4.2">3</tspan></text>
<text x="449.5" y="463.6" font-size="8.0" font-weight="bold" transform="rotate(-90 449.5 463.6)">10<tspan font-size="6.4" dy="-4.2">3</tspan></text>
<text x="601.1" y="567.8" font-size="8.0" font-weight="bold">10<tspan font-size="6.4" dy="-4.2">4</tspan></text>
<text x="449.5" y="432.6" font-size="8.0" font-weight="bold" transform="rotate(-90 449.5 432.6)">10<tspan font-size="6.4" dy="-4.2">4</tspan></text>
<text x="536" y="580" text-anchor="middle" font-weight="bold" font-size="10.8">Annexin V-FITC</text>
<text x="435" y="487" text-anchor="middle" font-weight="bold" font-size="10.8" transform="rotate(-90 435 487)">PI</text>
<text x="474.2" y="392.2" font-size="14">JMJD2C+</text>
<text x="474.2" y="409.3" font-size="14">miR-503-5p mimic</text>
<path d="M737.5 434h0m-12.5 2h0m6 1.5h0m14.5-1.5h0m16 1.5h0m2 1h0m3-0.5h0m-37 3h0m0.5 2h0m2 2h0m1.5-1.5h0m0.5-2h0m1.5 2.5h0m1.5 2.5h0m1.5-1h0m7 1.5h0m4-1.5h0m5.5-0.5h0m2.5 0h0m0 2h0m1.5-1h0m0.5-3h0m4.5 3h0m-44 4.5h0m7.5 2h0m8.5-5.5h0m1 2.5h0m0 1.5h0m1.5-2.5h0m0.5-1h0m5.5 3.5h0m3-1.5h0m2 0h0m0.5 1.5h0m1-2h0m4 3.5h0m0-1.5h0m1.5 0h0m1.5 1h0m1.5-1h0m3.5-4h0m1.5 1.5h0m3.5 1.5h0m-81 4.5h0m33-0.5h0m0.5 4.5h0m4-1h0m1.5-1h0m1.5-3.5h0m3 2.5h0m0.5 3h0m0-4.5h0m2 3.5h0m1.5-0.5h0m1-2h0m1 2.5h0m0.5-1.5h0m0.5 0h0m0-2h0m0.5 2.5h0m1.5-2h0m0 3.5h0m0.5 1h0m0-3h0m1.5-2.5h0m2 3h0m0.5-1h0m0.5 2h0m0 0h0m1.5-1.5h0m0.5 2h0m0-1.5h0m1 1.5h0m1.5 0h0m0-2h0m2 1.5h0m2.5-2.5h0m0 1.5h0m2-1.5h0m0.5 1.5h0m1.5-1.5h0m2 3.5h0m-46.5 6.5h0m11-6h0m0.5 3.5h0m1-1.5h0m1 4h0m0.5-5.5h0m0.5 2.5h0m1-2h0m2.5 1h0m0.5-1h0m1 1h0m0.5-1h0m1 2h0m2 1.5h0m0.5-3h0m0.5 2.5h0m0.5 1h0m0-1h0m1 1.5h0m1 0h0m0.5-3h0m1-1h0m0 4.5h0m0.5-0.5h0m0.5-3h0m1.5 1h0m0-1.5h0m0-1h0m0 4.5h0m0.5-0.5h0m0.5 0h0m0.5-2.5h0m2 0h0m0.5 2.5h0m0-0.5h0m0.5 1.5h0m0.5-1.5h0m0.5-0.5h0m0.5-2h0m1 0h0m0 1.5h0m1.5 2.5h0m3.5-3h0m1-2.5h0m0 5h0m0-1.5h0m1-1h0m2.5-0.5h0m2 2h0m1.5 1.5h0m0.5-2.5h0m2-1.5h0m1.5 3.5h0m4-5h0m1.5 4.5h0m1-3h0m-77.5 8.5h0m18.5-1.5h0m5 2h0m0.5-1.5h0m0.5 2h0m2-5.5h0m0 5.5h0m0.5-1h0m1 0h0m2-1h0m1-2h0m0 1h0m0-2h0m4 1h0m1 1.5h0m0 1h0m0-2h0m1 4h0m0-1h0m0-5h0m0 3h0m0.5-1.5h0m0 2.5h0m0.5 2h0m0.5-6h0m0 0.5h0m0 4.5h0m1.5-5h0m0 6h0m0.5-2.5h0m0.5-3.5h0m0 2.5h0m0-2h0m1 4.5h0m0.5 0h0m0.5-3.5h0m0 4h0m0.5-3h0m0.5 2.5h0m0.5-4.5h0m0.5 3.5h0m0 1.5h0m0.5-5h0m0 3h0m0 0.5h0m1.5-1.5h0m1 1h0m0.5-1.5h0m0 2h0m0.5 0.5h0m0.5-3h0m0.5 4h0m0-1h0m0.5-1h0m1-1h0m0 2h0m0.5-2.5h0m0.5 0.5h0m0 3.5h0m0-6h0m0.5 1h0m1 3.5h0m0.5-3h0m2-1h0m0 4h0m0 1.5h0m0.5-5.5h0m0.5 0h0m0.5 4h0m1.5-4h0m1.5 2h0m1 0h0m0.5 3h0m0.5-2.5h0m0.5 1.5h0m0.5-4h0m1.5 1.5h0m1.5-0.5h0m1 2h0m9.5 0.5h0m-66 2.5h0m6.5 1h0m4.5 2h0m1.5-3h0m0.5 4.5h0m2.5 0.5h0m1-3.5h0m2-0.5h0m0 0.5h0m2 3.5h0m1-4.5h0m0.5 3.5h0m1 0.5h0m0.5-4.5h0m1 3.5h0m0-1h0m0.5 0h0m2-2h0m0 2.5h0m0-2.5h0m1 2.5h0m0-2h0m0 1h0m0.5-1h0m0 3h0m0.5 1h0m0-5h0m0 2h0m0.5-2h0m0 1h0m1 1h0m0.5-0.5h0m1-0.5h0m1 4h0m0.5-3h0m0 1h0m1-1.5h0m0-1.5h0m0 5.5h0m1-4.5h0m0 4.5h0m0.5-0.5h0m2-0.5h0m1-0.5h0m1-3h0m0.5 2.5h0m1 0.5h0m1-2h0m1.5 0h0m0 3h0m0-0.5h0m0.5-1h0m2-0.5h0m0.5-2h0m0 1h0m1 2h0m0.5-4h0m0.5 4h0m0.5 0h0m0-1.5h0m1-2.5h0m0.5 5h0m0.5-1h0m0-3.5h0m4.5 0.5h0m1.5-1h0m3 2.5h0m1 0h0m2 1h0m1-3.5h0m6.5 5.5h0m-84 5.5h0m16-3h0m1.5 2h0m2.5-0.5h0m2-1.5h0m2 2h0m1-2h0m0.5 1h0m0 0h0m1 2h0m3.5-2h0m2.5-0.5h0m1-1h0m0 2.5h0m1-3.5h0m1 0h0m0 2h0m0 3h0m0.5-1h0m0-2.5h0m0.5 2h0m0-1h0m1 0.5h0m0 1.5h0m0-3h0m0-0.5h0m0.5-0.5h0m1 4.5h0m0.5-4.5h0m0 0.5h0m0.5 1.5h0m0 1.5h0m1-2.5h0m0 0h0m0 2h0m0.5-3h0m1 3.5h0m0-2.5h0m0 0.5h0m0.5 0.5h0m1 0h0m1-1h0m0.5 1.5h0m0 0h0m0-3h0m1 0.5h0m0 1.5h0m0.5 0.5h0m0.5-1.5h0m0.5-1.5h0m0 3.5h0m1 0.5h0m0.5-3h0m0 1h0m1 3h0m1-4.5h0m0.5 1h0m0.5 1h0m0-2h0m0.5-0.5h0m0 0.5h0m0.5 2h0m0.5 2h0m0.5-1h0m0-1.5h0m1 1h0m1 2.5h0m0-1h0m1-2h0m0 2h0m0.5-0.5h0m0-2h0m0-0.5h0m0.5 2.5h0m1-1h0m2.5 2h0m1-3h0m0 0.5h0m1-3h0m0.5 3.5h0m0-0.5h0m5 1h0m1.5 0.5h0m2-4.5h0m4.5 2.5h0m-71.5 3.5h0m13.5 4.5h0m3.5 0h0m3-3.5h0m1 0h0m2 0.5h0m1.5 2.5h0m0.5-0.5h0m0-3h0m0.5 5h0m1 0h0m1.5-3.5h0m2 4h0m1-0.5h0m0-5h0m1 3.5h0m0-2.5h0m0.5 4.5h0m0-5.5h0m0.5 0h0m0 4.5h0m1-3.5h0m0 1h0m0-2h0m0 4.5h0m0 0h0m0.5-1.5h0m0.5-3h0m0.5 3.5h0m0-1h0m0.5-1.5h0m1-0.5h0m0.5 1.5h0m1 2.5h0m0.5-2h0m0-1h0m0-2h0m0.5 1h0m0 4h0m0-1.5h0m0.5 1h0m0-4h0m0.5 2h0m0.5 1h0m0.5-1h0m0.5-1h0m0 2h0m0.5-3.5h0m1 5h0m0-4h0m0 3.5h0m0-4.5h0m1 2h0m0-1h0m0 3.5h0m0-1h0m0-3.5h0m1 3h0m0.5-2.5h0m0 5h0m0.5-4h0m1 3h0m0.5-3.5h0m0.5 1.5h0m0.5 2.5h0m1 0h0m0-0.5h0m1-2h0m1 0.5h0m0.5-1.5h0m1 1.5h0m1 0h0m1-2h0m2.5-0.5h0m2 0.5h0m2 0h0m3.5 1.5h0m5-1.5h0m1 0h0m3 1h0m-86.5 7.5h0m1.5-2h0m2 2h0m6 1.5h0m1.5-2.5h0m0.5 2.5h0m0.5-1.5h0m0.5 0.5h0m2 1h0m0-1.5h0m1 2h0m1.5 0.5h0m0.5-3.5h0m0 1.5h0m2.5 2h0m1-4h0m0 3h0m3 0h0m0-0.5h0m2-2h0m0 3h0m0.5-0.5h0m2 0.5h0m0.5-1.5h0m0.5-2h0m1 2h0m2 1.5h0m0-3.5h0m3 3.5h0m1.5-0.5h0m0-2h0m0.5-2.5h0m1 2h0m0.5 2.5h0m2.5-4h0m1 0h0m0.5 4.5h0m1-1.5h0m0-0.5h0m1.5-1h0m0 2h0m0.5-3h0m1.5-1.5h0m1 1h0m0.5 2.5h0m0 2h0m0.5-3.5h0m0-2h0m1 2h0m1 1h0m0 2h0m0-1.5h0m0.5-1h0m0.5-0.5h0m0.5 4h0m0.5-6h0m0.5 0.5h0m1-0.5h0m0 3.5h0m2.5 1h0m0.5-3.5h0m0.5-0.5h0m1.5-0.5h0m0.5 1h0m2.5 0h0m0.5-0.5h0m0 2h0m0.5-2h0m0.5 1h0m0 4.5h0m1-5h0m0-0.5h0m2 3h0m1-2.5h0m1.5 0h0m0 1h0m0.5 1h0m0 1h0m0.5-2h0m2-1.5h0m2 2h0m21-2h0m-96.5 9h0m0-1h0m1 1h0m0.5-2h0m0.5 3.5h0m0.5 1h0m0-2h0m0.5-3h0m0 3.5h0m1.5-1.5h0m0.5 2h0m1-2.5h0m0 1h0m0 0h0m0.5-1.5h0m0-1.5h0m0 2h0m1 1h0m0 0.5h0m0 1h0m1 0.5h0m1.5-2h0m0-3h0m0.5 2.5h0m0-2h0m2 3h0m0-3.5h0m0 5h0m0-4h0m0 3.5h0m0.5-0.5h0m0.5-2h0m0 1.5h0m0.5 1.5h0m0-0.5h0m0-5h0m1 3.5h0m1 2.5h0m0-2h0m0.5 1.5h0m0-1.5h0m0-1h0m0.5 1h0m1 0h0m0.5 0h0m0-3h0m1 0h0m0 2.5h0m0-1.5h0m0.5 1h0m1 3h0m0-1.5h0m0.5 1h0m0-2.5h0m0.5 2h0m0-1h0m0.5-2.5h0m0 2.5h0m0 1h0m0-2h0m0.5 0h0m0 2h0m0-3h0m0 2.5h0m0 1.5h0m1-3h0m0-2h0m0.5 2.5h0m0.5-2h0m0-1h0m0.5 1h0m0 2.5h0m0.5-4h0m0 0h0m0.5 1h0m0.5 3.5h0m0-1.5h0m0.5 2.5h0m0-1h0m0-3h0m0.5 3h0m0 0.5h0m0.5 0.5h0m0.5-1.5h0m0-2h0m0.5 2.5h0m0-1h0m0-3.5h0m0.5 5.5h0m0-5h0m0 5.5h0m1.5-5.5h0m0 1h0m1.5 1h0m0 2h0m0.5 0h0m0.5-3.5h0m1.5 2h0m0 0h0m0.5 1.5h0m1-1.5h0m1 1.5h0m0.5-3.5h0m0.5 0h0m1 3h0m0.5-2.5h0m0.5 4h0m1-3.5h0m0-1h0m1.5 0h0m0.5 0h0m0.5 3.5h0m0-4h0m2.5 2.5h0m1.5-3h0m0 5h0m0.5-2h0m2-2.5h0m0.5 4h0m0.5-3.5h0m1.5 2.5h0m1-3.5h0m0.5 3.5h0m0-1.5h0m0.5 0.5h0m0-2h0m1 3h0m0.5-2h0m0 0h0m1.5-1.5h0m0.5 2h0m1 3.5h0m3.5-3h0m0 3h0m0.5-3.5h0m0.5-1h0m1 1h0m2.5-2h0m0.5 4h0m1-2.5h0m6.5-1h0m5 4.5h0m-89 5.5h0m0-2.5h0m2-2h0m0.5 3h0m0.5 0.5h0m0 2h0m0-5.5h0m1 2.5h0m0 3.5h0m0.5 0h0m0.5-1h0m0.5 1h0m0.5-0.5h0m0-2.5h0m0-3h0m0.5 4.5h0m1 1h0m0-3h0m0.5-2h0m0 3h0m0 1.5h0m0.5-3.5h0m0 2h0m0.5 2h0m0.5-5h0m0 3h0m1-0.5h0m0.5 0h0m0-2.5h0m0 5h0m0-3h0m0.5-0.5h0m0 2.5h0m0-3.5h0m0 2h0m0.5 0.5h0m0.5 0.5h0m0.5-3.5h0m0 5h0m0-2.5h0m0.5-1h0m0 3.5h0m0-1.5h0m0.5 1h0m0.5 0h0m0 0.5h0m0-2h0m0.5-3h0m0 4h0m0.5 1.5h0m0-3h0m0-0.5h0m0.5 0.5h0m0 2.5h0m0.5-3h0m0 2.5h0m0-2h0m0.5 1h0m0-2.5h0m0.5 3h0m0-2.5h0m0 4h0m0-2.5h0m0.5 2.5h0m0-3.5h0m0-1h0m0.5 0h0m0 0.5h0m0 4h0m0.5-1h0m0-2h0m0.5-0.5h0m0 2.5h0m0-4h0m0.5 0.5h0m0 2.5h0m0.5-2h0m0 3h0m0-1.5h0m0 2.5h0m0.5-2.5h0m0-1.5h0m0-2h0m0.5 4.5h0m0-4h0m0 3h0m0 2.5h0m0-3.5h0m0 2.5h0m0.5-1.5h0m0-2.5h0m0 3h0m0-2.5h0m0 0.5h0m0 3.5h0m0.5-2h0m0 2h0m0-3.5h0m0.5-2h0m0 0.5h0m0 4h0m0-3h0m0.5 0h0m0 0.5h0m0.5 2h0m0.5-3h0m0 3h0m0 1.5h0m0.5-3.5h0m0 3h0m0 0.5h0m0.5-1.5h0m0-2h0m0.5 0h0m0-1h0m0 4h0m0.5-1h0m0 1.5h0m0-2h0m0-1.5h0m0.5 2.5h0m0-1.5h0m0.5 3h0m0-1h0m0-0.5h0m0-0.5h0m0.5-4h0m0 5.5h0m0-2.5h0m0.5 1.5h0m0-4h0m0 5h0m0-4h0m1 3h0m0-1.5h0m0 2.5h0m0-5h0m0 1h0m0 1h0m0.5-2.5h0m0 1h0m0.5 4h0m0.5-3.5h0m0.5 0.5h0m0 3h0m0-1h0m0.5-2h0m0-1h0m0 2.5h0m0 2h0m0-3.5h0m0.5-2h0m0 6h0m0.5-5.5h0m0 4.5h0m0-4h0m0 3h0m0.5 1.5h0m0-3.5h0m0-0.5h0m0 3h0m0.5-3.5h0m0.5 2.5h0m0-0.5h0m0.5-0.5h0m0.5-1.5h0m0 4.5h0m0-4h0m0.5 1.5h0m1 0.5h0m0.5 2.5h0m0-2h0m0-4h0m0 4h0m0.5 1.5h0m0-4.5h0m0 3.5h0m0.5-3.5h0m0 2.5h0m0.5-2h0m1-1h0m0 3.5h0m2 1h0m0-5h0m1 0.5h0m0 2h0m0.5-0.5h0m0.5 3h0m0.5-3.5h0m0-1h0m1 5h0m0.5-2h0m2 0.5h0m0-1.5h0m1.5 3h0m0.5-5h0m0.5 3h0m1-2.5h0m1.5 3.5h0m0.5 0.5h0m3-2.5h0m1.5 2.5h0m1-2.5h0m1.5 1.5h0m0-2.5h0m2 3.5h0m2-2.5h0m10.5 3h0m4-4.5h0m0-1h0m1 2.5h0m2 3h0m2-5h0m6 4h0m21.5-0.5h0m-119.5 6.5h0m3 0.5h0m2.5-2h0m1 2h0m0.5-3h0m0 2h0m0.5-1h0m0 2.5h0m0 0.5h0m0.5-5h0m0 3.5h0m0 1h0m0-2.5h0m0.5 1h0m1-4h0m0 1.5h0m0.5 2h0m0.5-1.5h0m0.5-0.5h0m0 3h0m0-0.5h0m0.5 0h0m0-1h0m0.5-2.5h0m0 2h0m0.5 2h0m1-0.5h0m0.5-1.5h0m0.5 2h0m0-3.5h0m0 4h0m0-4.5h0m0.5 3.5h0m0-1h0m0-1h0m0 3.5h0m0.5 0h0m0.5-1h0m0-2.5h0m0-0.5h0m0-0.5h0m0 3h0m0.5 1.5h0m0-5.5h0m0 1.5h0m0 3.5h0m0.5-1h0m0 0.5h0m0-1h0m0-1.5h0m0.5-1h0m0 4h0m0-3.5h0m0.5 3.5h0m0.5-2.5h0m0-1.5h0m0 3h0m0 1h0m0-2h0m0.5-2.5h0m0 2.5h0m0 1h0m0-1.5h0m0.5-1.5h0m0 4h0m0-0.5h0m0-3h0m0.5-1h0m0 3h0m0 0h0m0-1.5h0m0 3.5h0m0.5-1h0m0-3h0m0 3h0m0-4h0m0 2h0m0.5 0h0m0 2.5h0m0.5-1h0m0 0.5h0m0-4h0m0.5 1h0m0 4.5h0m0-2.5h0m0.5 1.5h0m0.5-4.5h0m0 4h0m0-1.5h0m0 1h0m0-1h0m0.5 1.5h0m0-1h0m0-2.5h0m0.5 2h0m0-3h0m0 4.5h0m0-1h0m0-1.5h0m0-0.5h0m0.5 3h0m0-2.5h0m0.5 3.5h0m0-5h0m0 1h0m0.5 4.5h0m0-3h0m0 1h0m0-1h0m0-2.5h0m0 5h0m0-3.5h0m0 3h0m0.5-1h0m0-2.5h0m0.5 0h0m0 4h0m0-1.5h0m0.5 0.5h0m0-1.5h0m0-2.5h0m0 1.5h0m0 3h0m0.5-0.5h0m0-1.5h0m0-2h0m0 1.5h0m0.5 1.5h0m0-2.5h0m0 3h0m0-3h0m0.5-1h0m0 2.5h0m0-1h0m0 2h0m0.5 0.5h0m0.5-2h0m0-2h0m0 2h0m0 1h0m0 1.5h0m0-4h0m0 2.5h0m0.5-3h0m0 1h0m0 4.5h0m0-2.5h0m0.5-1h0m0.5 2h0m0-1h0m0 0.5h0m0 2h0m0-5h0m0.5 3h0m0-2h0m0 4h0m0-4.5h0m0 3.5h0m0-4.5h0m0.5 3h0m0-3.5h0m0 3h0m0 3h0m0.5-1h0m0-1h0m0.5-3.5h0m0 2h0m0-2h0m0 3h0m0-1h0m0.5-1h0m0 3.5h0m0-3h0m0 3h0m0.5-4.5h0m0 1.5h0m0 3h0m0-3.5h0m0.5 2h0m0 1.5h0m0.5-4h0m0 0.5h0m0 1h0m0 0.5h0m0 1h0m0 0.5h0m0 1.5h0m0.5-4.5h0m0 4.5h0m0-2h0m0.5 1.5h0m0-5.5h0m0 4.5h0m0-2h0m0 0.5h0m0.5-1.5h0m0-1h0m0 1.5h0m0 3.5h0m0.5-2h0m0.5 0.5h0m0 0.5h0m0 1h0m0-4h0m0.5-1h0m0.5 5h0m0-0.5h0m0-3h0m0-1h0m0 0h0m0 3h0m0.5-1.5h0m0 3.5h0m0-1.5h0m0-2h0m0.5-1.5h0m0 4.5h0m0-4.5h0m0 2.5h0m0-3.5h0m0 5h0m0.5-1h0m0-1h0m0.5-2h0m0.5 4.5h0m0-3.5h0m0 2.5h0m0-0.5h0m0-3h0m0.5 3h0m0-3h0m0 3.5h0m0.5-2.5h0m0.5 3.5h0m0-5h0m0.5 3.5h0m0-0.5h0m0-3h0m0.5 4h0m0 1h0m0-4.5h0m0 1.5h0m0.5 3h0m0-1h0m0-2h0m0.5 1.5h0m0 1.5h0m0-2h0m1-3.5h0m0 4.5h0m0-0.5h0m0.5-1h0m0-1h0m0.5 0h0m0.5-1h0m1-0.5h0m1 0h0m0 3h0m0.5 1.5h0m1-1h0m0-3h0m0.5 2.5h0m3 2h0m0.5-4h0m0-1h0m2 5.5h0m2-3h0m4 0h0m1.5-0.5h0m0.5-0.5h0m0-0.5h0m0 1.5h0m5.5-1h0m1-0.5h0m0 1.5h0m4-0.5h0m5 0h0m14-2h0m-94.5 10h0m1-4h0m0 3.5h0m1-0.5h0m0.5-1.5h0m0.5 0h0m0.5 3h0m0.5-2h0m0.5-2.5h0m1 4h0m0-2h0m0-1.5h0m0.5 3h0m0.5-1.5h0m1 2h0m0-1.5h0m0 2.5h0m0-4h0m1 3h0m0-0.5h0m0.5-1h0m0 2h0m0.5 0.5h0m0-1.5h0m0.5 2h0m0-3.5h0m0.5 1h0m0 2h0m0-4h0m0.5 2.5h0m0.5-2.5h0m0 4h0m0 0.5h0m0-4h0m0 3h0m0.5 0h0m0-4.5h0m0 1h0m0.5-0.5h0m0.5 3h0m0 1.5h0m0.5-3h0m0-2.5h0m0 4.5h0m0-2h0m0.5 1h0m0-1.5h0m0-1h0m0.5 4h0m0-0.5h0m0-4h0m0.5 2h0m0 1.5h0m0-3h0m0 1h0m0 3.5h0m0.5-5h0m0 4h0m0-2h0m0-1.5h0m0.5 2.5h0m0-0.5h0m0 1.5h0m0 0.5h0m0.5-5h0m0 2h0m0 1.5h0m0-2h0m0.5 4h0m0-2h0m0-2.5h0m0 5h0m0.5-5.5h0m0 4h0m0-1.5h0m0 1.5h0m0-1h0m0.5 1.5h0m0-3.5h0m0 1.5h0m0.5-2h0m0 2.5h0m0-1h0m0.5-1.5h0m0 3.5h0m0 0.5h0m0-2h0m0-2.5h0m0.5 1h0m0 4.5h0m0-2h0m0 1.5h0m0.5-1h0m0-2h0m0-2h0m0 1.5h0m0 2.5h0m0-3h0m0.5-1h0m0 1.5h0m0 0.5h0m0.5 3h0m0-2h0m0-1h0m0 2.5h0m0-3.5h0m0-1h0m0.5 3h0m0.5-0.5h0m0-3h0m0.5 5h0m0-3.5h0m0 1h0m0 2h0m0 0h0m0.5-3.5h0m0 4.5h0m0-2h0m0-1h0m0.5 0.5h0m0 2h0m0-3h0m0.5 2h0m0-1h0m0-2h0m0 3h0m0.5-2h0m0 1.5h0m0.5 2h0m0-5.5h0m0 6h0m0-4.5h0m0 1.5h0m0 1h0m0 1h0m0.5-2.5h0m0-1.5h0m0 1.5h0m0 1h0m0.5 1h0m0-1.5h0m0 3h0m0-1.5h0m0-2.5h0m0 2h0m0.5-4h0m0 1h0m0 4h0m0.5-1h0m0-1h0m0 2.5h0m0.5-3h0m0-2h0m0 0.5h0m0.5 1.5h0m0 1.5h0m0-1.5h0m0-1h0m0 3h0m0.5-4h0m0 5.5h0m0-1.5h0m0-2h0m0.5-2.5h0m0 1h0m0 0.5h0m0 2h0m0.5-2.5h0m0 2h0m0 2.5h0m0.5-2h0m0-1.5h0m0-1.5h0m0 4h0m0-4.5h0m0 2.5h0m0.5 3h0m0-2h0m0 1h0m0-3h0m0 0.5h0m0.5 3h0m0.5-1.5h0m0 1h0m0-4h0m0 0.5h0m0 1h0m0 1h0m0.5-0.5h0m0-1.5h0m0 3.5h0m0 1h0m0.5-2h0m0-3.5h0m0 5h0m0.5-2h0m0 0.5h0m0.5-2h0m0 2.5h0m0-2.5h0m0-1h0m0 4.5h0m0.5-3h0m0 2.5h0m0-2h0m0-1h0m0 2h0m0.5 1h0m0-2.5h0m0 1.5h0m0 1.5h0m0-4.5h0m0 1h0m0.5 3h0m0.5 1h0m0-3.5h0m0-2h0m0 3.5h0m0.5-1h0m0.5 1h0m0 1.5h0m0-1h0m0-2h0m0-0.5h0m0.5 0.5h0m0 2h0m0-3h0m0.5 4h0m0-5h0m0 4h0m0 1.5h0m0-3.5h0m0.5 0.5h0m0 1h0m0-3.5h0m0.5 1h0m0 5h0m0-0.5h0m0-4.5h0m0 0.5h0m0 3h0m0.5-4h0m0 2.5h0m0.5-2h0m0 4h0m0-2h0m0.5-0.5h0m0.5 0.5h0m0-2.5h0m0 1h0m0.5 1.5h0m0.5-2h0m0.5 2.5h0m0.5 1h0m0-1h0m0.5-1h0m0 3h0m0.5-4.5h0m0 4.5h0m0.5-5h0m0 2.5h0m0.5-2.5h0m0 4h0m0-3h0m0.5 1h0m0-2h0m1 1.5h0m0.5 2.5h0m0.5-1.5h0m0-2h0m0.5 2.5h0m0.5-0.5h0m1 0h0m0 0.5h0m0.5 2h0m0-4h0m1-1.5h0m3 2.5h0m20-1h0m3-0.5h0m7.5 3.5h0m1.5 1.5h0m9-6h0m-102 8h0m1.5 2.5h0m2.5-1h0m2.5-3.5h0m0.5 5.5h0m1 0h0m1-3.5h0m0.5 2.5h0m0-4.5h0m0 2h0m0.5 1.5h0m0 1h0m1.5-0.5h0m0.5-0.5h0m2-0.5h0m0 0h0m0-1.5h0m0.5 3h0m0-1h0m0 2.5h0m0.5-1h0m0.5-3h0m0 2h0m0.5-1h0m0 2.5h0m0-3.5h0m0 1h0m0.5 0.5h0m0 1h0m0.5 0h0m0 0.5h0m0.5-2h0m0-1.5h0m0 2h0m0.5-2h0m0 1h0m0 1.5h0m0-3h0m0.5 5h0m0.5-3h0m0 1.5h0m0-3.5h0m0.5 4h0m0-2h0m0 1h0m0-1h0m0.5-2h0m0 0.5h0m0.5 4h0m0-4.5h0m0 5h0m0-2h0m0-1.5h0m0.5 1h0m0 2.5h0m0.5-6h0m0 4h0m0-3.5h0m0 2h0m0.5 1.5h0m0-0.5h0m0-2h0m0-0.5h0m0-1h0m0.5 2.5h0m0.5-1.5h0m0 2h0m0-1h0m0 2.5h0m0.5-1h0m0 2h0m0.5-5h0m0 0h0m0 1h0m0 1.5h0m0 0.5h0m0.5 0.5h0m0 1.5h0m0-1h0m0.5-1.5h0m0-1h0m0-1h0m0.5 4h0m0-1.5h0m0 0.5h0m0-3h0m0 1h0m1-2h0m0 3h0m0 2h0m0-1h0m0-3.5h0m0.5 2.5h0m0 2h0m0-1h0m0 0.5h0m0.5-2.5h0m0-1.5h0m0 2h0m0-2h0m0 1.5h0m0 2.5h0m0 0.5h0m0.5-5h0m0.5 3.5h0m0 2h0m0-0.5h0m0-4.5h0m0.5 2.5h0m0-2h0m0 2h0m0-1h0m0 2.5h0m0.5-1h0m0 1h0m0-4h0m0 2h0m0 3.5h0m0.5-5h0m0 1h0m0 3h0m0.5-1.5h0m0 2.5h0m0-2h0m0-3h0m0-1h0m0 2.5h0m0.5-0.5h0m0 0h0m0 3h0m0-4h0m0 2h0m0.5 0.5h0m0-3.5h0m0.5 1.5h0m0 1.5h0m0 0h0m0-1.5h0m0 2.5h0m1-2.5h0m0-1h0m0 2h0m0-1.5h0m0.5 3h0m0-1h0m0 1h0m0-0.5h0m0.5-2h0m0 1h0m0.5-1.5h0m0 2h0m0.5 2h0m0-2.5h0m0-2h0m0 1.5h0m0 0.5h0m0-0.5h0m0.5 3h0m0-1.5h0m0-2h0m0.5-1h0m0.5 1h0m0-1.5h0m0 4h0m0-1.5h0m0 3h0m0-1h0m0.5 0.5h0m0-1.5h0m0-1.5h0m0-1.5h0m0 2h0m0-2.5h0m1 3h0m0-1.5h0m0 3.5h0m0-4.5h0m0 2h0m0.5-1.5h0m0-0.5h0m0 0h0m0 3h0m0.5 1h0m0-3h0m0 4h0m0-3h0m0.5 0.5h0m0.5-1.5h0m0 4h0m0 0h0m0-2.5h0m0 0.5h0m0-3h0m0.5 2h0m0-2h0m0.5 1.5h0m0 2.5h0m0-0.5h0m0-3h0m0.5 0.5h0m0-1.5h0m0.5 2.5h0m0 2h0m0-3.5h0m0-0.5h0m0.5 3h0m0 0.5h0m0.5-4h0m0.5 1.5h0m0 0h0m0 0.5h0m0.5 0.5h0m0.5-1h0m0 0h0m0 4h0m0-1h0m0.5-1h0m0-0.5h0m1-1h0m0 0.5h0m0.5 1.5h0m0-2h0m0.5 0h0m0-1.5h0m0 4.5h0m0.5-5h0m0.5 5.5h0m0-3.5h0m0-2h0m0.5 3h0m0.5 1.5h0m0-1.5h0m0 0h0m0-2.5h0m0.5 1.5h0m0.5 3.5h0m0.5-1h0m1-2h0m0.5 0h0m1 2h0m3.5 0.5h0m3-5h0m2.5 3h0m1-1.5h0m1.5 3h0m15.5-3.5h0m7 0.5h0m-84 8.5h0m3-2h0m1.5 1h0m0-1h0m0.5 1h0m1.5 2h0m1-0.5h0m1 1h0m0-5h0m0.5 5.5h0m1-1.5h0m0-1h0m0.5-2h0m1.5 2h0m0 1.5h0m0-2.5h0m0 0.5h0m0.5-2.5h0m0 5h0m0.5-4.5h0m0.5 1.5h0m0 2h0m0.5 1h0m0-1.5h0m0-4h0m0.5 5h0m0-3h0m0 2.5h0m0.5-3.5h0m0.5 2.5h0m0 2h0m0 0h0m0.5-1.5h0m0-1.5h0m0-1.5h0m0.5 3.5h0m0 1h0m0-3h0m0-2.5h0m0.5 5h0m0-1.5h0m0-2h0m0-1h0m0.5 2.5h0m0.5 1.5h0m0-0.5h0m0-0.5h0m0-1.5h0m0.5 2.5h0m0-3.5h0m0.5 2h0m0-2h0m0-1h0m0 4h0m1 0.5h0m0-3h0m0 4h0m0.5-3h0m0.5 1.5h0m0 1h0m0-4h0m0 1h0m0.5-1h0m0.5-0.5h0m0 2h0m0.5 2.5h0m0.5 0.5h0m0-4.5h0m0 0.5h0m0-1h0m0.5 3h0m0-0.5h0m0-1h0m0.5-1h0m0-0.5h0m0 2h0m0 0.5h0m0 2.5h0m0.5-3.5h0m0 2h0m0.5-3h0m0 4.5h0m0-4h0m0-1h0m0.5 0h0m0 3.5h0m0-0.5h0m0.5-1.5h0m0 3h0m0.5-4h0m0.5 2h0m0-1h0m0-1h0m0 3.5h0m0.5 1h0m0-4h0m0.5 2h0m0 1.5h0m0.5-2.5h0m0-1.5h0m0.5 4.5h0m0-5.5h0m0 4.5h0m0-2.5h0m0.5 3h0m0-2h0m0-3h0m0.5 1.5h0m0 4.5h0m0-5h0m0.5-0.5h0m0 5h0m0.5-5h0m0.5 1h0m0 1h0m0.5-1.5h0m0 2.5h0m0-3.5h0m0.5 4h0m0-2h0m0.5 4h0m0-4.5h0m0 1h0m0.5-2.5h0m0 1.5h0m0-0.5h0m1-1h0m1 2h0m0-1.5h0m0.5 5.5h0m0.5-4.5h0m0-0.5h0m1 0.5h0m0-0.5h0m0.5 3.5h0m0-2h0m1-2h0m0.5 4h0m0-1.5h0m0.5-3h0m0 3.5h0m0.5 2.5h0m0-5h0m0-1h0m1 2h0m0 1.5h0m1 1.5h0m0-5h0m0.5 5h0m0-4h0m1 0h0m0.5 0.5h0m1-1.5h0m1.5 0h0m5 0.5h0m4 4h0m-65.5 6.5h0m17-2.5h0m0-1h0m0.5 0h0m5 2.5h0m0-1h0m0.5-2.5h0m0.5 1.5h0m0.5-1.5h0m1.5 0.5h0m0.5 2.5h0m0-1h0m0 3h0m1-4h0m1-1.5h0m1 0.5h0m0 5h0m1.5-2h0m0.5-3.5h0m0.5 1h0m1 3.5h0m0.5-4.5h0m0 3.5h0m1 1.5h0m1-3.5h0m0 0h0m0.5 0.5h0m0.5-2h0m2 0.5h0m1 3h0m2-3h0m0 1h0m0-1.5h0m1 1.5h0m1.5 0.5h0m0 2.5h0m0.5-4h0m0.5 2.5h0m1 0h0m3-2h0m7.5 1.5h0m-53 5h0m17.5 0h0m1.5-0.5h0m2.5 2.5h0m1.5 1.5h0m3-4h0m0.5 0h0m3-1h0m2 3h0m4 2.5h0m3-5h0" stroke="#fb1414" stroke-width="1.55" stroke-linecap="round" fill="none"/>
<rect x="651.5" y="425.4" width="154.4" height="125.8" fill="none" stroke="#111" stroke-width="1.3"/>
<line x1="726.9" y1="425.4" x2="726.9" y2="551.2" stroke="#111" stroke-width="1.3"/>
<line x1="651.5" y1="490.3" x2="805.9" y2="490.3" stroke="#111" stroke-width="1.3"/>
<path d="M668.8 551.2v3.8M651.5 536.2h-3.2M673.1 551.2v3.8M651.5 532.5h-3.2M676.4 551.2v3.8M651.5 529.7h-3.2M679.1 551.2v3.8M651.5 527.3h-3.2M681.4 551.2v3.8M651.5 525.4h-3.2M683.4 551.2v3.8M651.5 523.6h-3.2M685.1 551.2v3.8M651.5 522.1h-3.2M698.3 551.2v3.8M705.1 551.2v3.8M651.5 506.2h-3.2M709.9 551.2v3.8M651.5 502.4h-3.2M713.7 551.2v3.8M651.5 499.5h-3.2M716.7 551.2v3.8M651.5 497.1h-3.2M719.3 551.2v3.8M651.5 495h-3.2M721.6 551.2v3.8M651.5 493.3h-3.2M723.5 551.2v3.8M651.5 491.7h-3.2M736.7 551.2v3.8M743.4 551.2v3.8M651.5 474.4h-3.2M748.1 551.2v3.8M651.5 470.3h-3.2M751.8 551.2v3.8M651.5 467h-3.2M754.8 551.2v3.8M651.5 464.4h-3.2M757.3 551.2v3.8M651.5 462.2h-3.2M759.5 551.2v3.8M651.5 460.2h-3.2M761.5 551.2v3.8M651.5 458.5h-3.2M775.3 551.2v3.8M782.3 551.2v3.8M651.5 442.2h-3.2M787.3 551.2v3.8M651.5 438.3h-3.2M791.2 551.2v3.8M651.5 435.3h-3.2M794.4 551.2v3.8M651.5 432.9h-3.2M797.1 551.2v3.8M651.5 430.8h-3.2M799.4 551.2v3.8M651.5 429h-3.2M801.5 551.2v3.8M651.5 427.4h-3.2M652.5 551.2v6.2M651.5 550.2h-5.2M686.7 551.2v6.2M651.5 520.8h-5.2M725.3 551.2v6.2M651.5 490.3h-5.2M763.2 551.2v6.2M651.5 457h-5.2M803.3 551.2v6.2M651.5 426h-5.2" stroke="#111" stroke-width="1.1" fill="none"/>
<text x="645.9" y="567.8" font-size="8.0" font-weight="bold">10<tspan font-size="6.4" dy="-4.2">0</tspan></text>
<text x="645.1" y="556.8" font-size="8.0" font-weight="bold" transform="rotate(-90 645.1 556.8)">10<tspan font-size="6.4" dy="-4.2">0</tspan></text>
<text x="680.1" y="567.8" font-size="8.0" font-weight="bold">10<tspan font-size="6.4" dy="-4.2">1</tspan></text>
<text x="645.1" y="527.4" font-size="8.0" font-weight="bold" transform="rotate(-90 645.1 527.4)">10<tspan font-size="6.4" dy="-4.2">1</tspan></text>
<text x="718.7" y="567.8" font-size="8.0" font-weight="bold">10<tspan font-size="6.4" dy="-4.2">2</tspan></text>
<text x="645.1" y="496.9" font-size="8.0" font-weight="bold" transform="rotate(-90 645.1 496.9)">10<tspan font-size="6.4" dy="-4.2">2</tspan></text>
<text x="756.6" y="567.8" font-size="8.0" font-weight="bold">10<tspan font-size="6.4" dy="-4.2">3</tspan></text>
<text x="645.1" y="463.6" font-size="8.0" font-weight="bold" transform="rotate(-90 645.1 463.6)">10<tspan font-size="6.4" dy="-4.2">3</tspan></text>
<text x="796.7" y="567.8" font-size="8.0" font-weight="bold">10<tspan font-size="6.4" dy="-4.2">4</tspan></text>
<text x="645.1" y="432.6" font-size="8.0" font-weight="bold" transform="rotate(-90 645.1 432.6)">10<tspan font-size="6.4" dy="-4.2">4</tspan></text>
<text x="731.6" y="580" text-anchor="middle" font-weight="bold" font-size="10.8">Annexin V-FITC</text>
<text x="630.6" y="487" text-anchor="middle" font-weight="bold" font-size="10.8" transform="rotate(-90 630.6 487)">PI</text>
<text x="726.9" y="409.6" text-anchor="middle" font-size="14">JMJD2C+sh-SEPT2</text>
<path d="M941.5 452h0m8-1.5h0m24.5-0.5h0m-26.5 8h0m19 0.5h0m-27 2.5h0m8 2.5h0m3.5 0h0m4-4.5h0m3.5 0h0m2.5 5h0m0.5 0.5h0m0.5-4h0m3.5 3.5h0m0.5-1h0m0-0.5h0m4.5 1.5h0m8.5-2h0m-68 7h0m27-3.5h0m6 3.5h0m5.5 1.5h0m0.5-2h0m7.5-2h0m4 1.5h0m1.5 2.5h0m3 0.5h0m2-2.5h0m4 1.5h0m20.5-2h0m-58.5 3.5h0m8.5 4h0m0.5 0.5h0m6.5 0.5h0m0.5-2h0m0.5-0.5h0m0 2h0m1.5-3.5h0m0 2h0m4-0.5h0m1.5-2h0m0.5 2h0m1 0h0m4 1h0m9.5 0.5h0m6-4h0m24.5 3h0m-83 3h0m20.5 1.5h0m3 4h0m1 0h0m3-2h0m2.5-2.5h0m1 2h0m0-1.5h0m1-0.5h0m0.5 3h0m0.5-1h0m2.5 2h0m0.5-2h0m0.5 1.5h0m0-4.5h0m1 1.5h0m0.5 3h0m1-0.5h0m2-4h0m0 2.5h0m2.5 0h0m0-1h0m1-1h0m6.5 4.5h0m2-4.5h0m0.5-0.5h0m8.5 5h0m12.5-3h0m1.5-1.5h0m1 4.5h0m-87.5 4.5h0m8-3h0m0.5 2.5h0m7.5-3.5h0m3 2h0m2.5 0h0m9 2.5h0m1.5-0.5h0m0-1.5h0m2 1h0m3 0.5h0m0.5-2h0m0.5 2h0m0.5-3h0m0.5-1h0m0.5 2.5h0m1 3.5h0m1-2h0m0-1h0m0-1.5h0m1-1h0m1.5 0h0m2 4h0m0.5 1.5h0m0.5-0.5h0m1-2h0m1 0h0m1.5 0.5h0m1.5-2.5h0m1 2.5h0m2.5 1.5h0m1.5-3.5h0m2 2h0m8-2h0m0 1.5h0m1.5 1.5h0m-67 6h0m0.5-0.5h0m3-1h0m1-1.5h0m0 4h0m1-4h0m2 0h0m0.5 0h0m0.5 3.5h0m1.5-2h0m0.5 2h0m0.5-3h0m0.5 2h0m0.5 1.5h0m2.5-1.5h0m1 1h0m0.5-2h0m0 1.5h0m1-3.5h0m1.5 3.5h0m0-3h0m1.5 1h0m0 1.5h0m1 0h0m5 0h0m3.5-1.5h0m1.5 1h0m0.5-2h0m0 2h0m1 0.5h0m3 0h0m2.5 1h0m2.5-1h0m1-2h0m0.5-0.5h0m1 4h0m3.5-4.5h0m2 2.5h0m0-2.5h0m1 3.5h0m0-2.5h0m1.5 1h0m0.5-0.5h0m1-1.5h0m1.5 2.5h0m1.5-2.5h0m3.5 3h0m0.5-3.5h0m-74.5 9h0m4.5 1h0m0-4h0m2 4.5h0m0.5-2h0m1-1.5h0m1-1.5h0m0 1h0m2 3h0m0 1h0m1-1h0m0 1.5h0m1.5-1h0m1-1h0m0 0h0m0.5-1h0m0.5 0.5h0m0 2h0m0.5-3.5h0m1 3h0m0-4.5h0m0.5 5.5h0m0.5-3h0m1 0h0m0-1.5h0m0.5 4.5h0m0.5-1h0m0-1h0m0-2h0m0.5 2h0m0.5-3h0m0.5 4.5h0m0.5-1.5h0m0 1h0m1 1h0m0-3h0m0.5 2h0m0 1h0m0.5-1h0m0.5-3.5h0m0 4h0m0-4.5h0m0.5 2.5h0m0.5 2.5h0m0.5-1.5h0m0.5-1.5h0m0-2.5h0m0 5.5h0m2-5.5h0m0 3.5h0m0.5 0.5h0m0-2.5h0m0.5 1h0m0.5-1.5h0m0 3.5h0m0.5-4.5h0m0 2h0m0 1.5h0m0.5-4h0m0 1.5h0m0 3h0m0.5-1h0m0.5 0h0m0.5-1.5h0m1.5 0.5h0m0-1.5h0m0 4h0m0.5 0.5h0m0-3.5h0m0.5 3h0m0.5 0.5h0m0.5-0.5h0m0.5-3h0m0.5 3h0m0 0.5h0m2.5-4h0m0.5 3h0m0.5 0.5h0m0.5-4.5h0m0.5 3h0m0-1h0m0 2.5h0m0 0.5h0m0-4.5h0m0.5 3.5h0m0 0h0m3.5-4.5h0m4 1h0m0.5 0h0m2.5 1.5h0m0.5 3.5h0m1-3.5h0m0.5-1.5h0m0.5 1h0m2 3h0m0 0h0m0.5-5h0m0.5 0.5h0m2.5 2h0m0 2.5h0m3-1h0m0-3.5h0m1 4.5h0m0-3h0m5.5-1.5h0m5 2.5h0m0.5-2.5h0m0 0h0m-77 9.5h0m1.5-1h0m1 2.5h0m2-2.5h0m0.5 0.5h0m1-2.5h0m0 3.5h0m0.5 1.5h0m0-3h0m1 1.5h0m1 0h0m0-4.5h0m0 3h0m0.5 1.5h0m0.5-2.5h0m0-1h0m0.5 4h0m0.5-4.5h0m0 5h0m0.5-2h0m1 0h0m0 1.5h0m0-4.5h0m0.5 2h0m0.5 2.5h0m0.5 0.5h0m0-1.5h0m0.5-3.5h0m0.5 4.5h0m0 0.5h0m0.5-3h0m0 1h0m0 1.5h0m0.5-4.5h0m0.5 2h0m0 0.5h0m0.5-3h0m0 5h0m0.5-0.5h0m0 1h0m0-2h0m0.5 1.5h0m0.5 0.5h0m0-3.5h0m0.5 2h0m0-0.5h0m0-2.5h0m0.5 3h0m0-1.5h0m0-0.5h0m0.5 1h0m0-1h0m0.5 3h0m0-2.5h0m0 3h0m0-4.5h0m0 0.5h0m0.5-0.5h0m0 4.5h0m0-0.5h0m0-0.5h0m0.5-1h0m0-1.5h0m0 3h0m0.5 0.5h0m0-1.5h0m0-2.5h0m0.5 3h0m0-2h0m0 2h0m0-1.5h0m0-2.5h0m0.5 5h0m0-4h0m0.5 4.5h0m0-1h0m0-3.5h0m0.5 3h0m0.5-0.5h0m0-0.5h0m0 2h0m0-5h0m0 1h0m0.5 2h0m0-2.5h0m0 3.5h0m0.5-2h0m0 2.5h0m0-0.5h0m0.5-4h0m0 5h0m0-2.5h0m0 2h0m0.5-0.5h0m0-4h0m0 3.5h0m0.5-0.5h0m0-2h0m0 0.5h0m0 3.5h0m0.5-3h0m0 1.5h0m0 2h0m0.5-1h0m0-3.5h0m0 1.5h0m0 0h0m0.5-1h0m0-1h0m0 4h0m0.5-1h0m0-2.5h0m0.5-1.5h0m0 2h0m0 3h0m0.5-4h0m0 4.5h0m0.5-1.5h0m0-4h0m0.5 2.5h0m0 3h0m0-4h0m0.5 2h0m0 2.5h0m0-4.5h0m0-1h0m0.5 4h0m0-0.5h0m0.5-2.5h0m0 3h0m0.5-1h0m0 2h0m0.5-2h0m0-2.5h0m0 4h0m0.5-2.5h0m0 2.5h0m0-5h0m0.5 3h0m0 3h0m0.5-5h0m0.5 5h0m0-1h0m0-1.5h0m0.5-3.5h0m0 2.5h0m0.5 0.5h0m0 1.5h0m0-3h0m0.5 2.5h0m0-1h0m0.5-2.5h0m0 5.5h0m0.5-2.5h0m0-1h0m0-2h0m0.5 0.5h0m0 4h0m0.5-1h0m0-0.5h0m0.5 1h0m0-2.5h0m0.5 2.5h0m0.5 1.5h0m0-4.5h0m0 3.5h0m0.5-2h0m0-1h0m0.5-0.5h0m0 3h0m0.5-1h0m0.5 2.5h0m0-1.5h0m0.5-2.5h0m0 2h0m0.5-2h0m0 0h0m0-1h0m0 4h0m0.5-2.5h0m0.5-0.5h0m0-1.5h0m0.5 2h0m1 2h0m0 0h0m0-2.5h0m0 4h0m0.5-4.5h0m1.5-0.5h0m0.5 4h0m1-2h0m2-1h0m1 2h0m1.5 1.5h0m3.5-4h0m1 2.5h0m4.5-2.5h0m2.5 4h0m3.5-0.5h0m2.5-5h0m0 0.5h0m9 0h0m-99.5 7.5h0m19.5 3.5h0m0.5-2h0m0.5 1h0m1-0.5h0m1 1.5h0m0.5-2.5h0m0-2h0m0 0h0m0 3h0m1-1h0m0-0.5h0m0.5-1.5h0m0 4.5h0m0 0h0m0.5-1h0m0-1h0m0.5 1h0m0.5-1h0m0 0.5h0m0 1.5h0m0-4h0m0.5-0.5h0m0 4.5h0m0.5-2.5h0m0.5 2h0m0-3.5h0m0 2h0m0.5 2h0m0-0.5h0m0-1.5h0m0.5-2.5h0m0-0.5h0m0 2.5h0m0.5-2.5h0m0 0.5h0m0 3.5h0m0.5 1h0m0-1.5h0m0-2h0m0 1h0m0.5-3h0m0 4.5h0m0 1h0m0-2h0m0-2h0m0 0.5h0m0.5 1.5h0m0.5-0.5h0m0-0.5h0m0-2.5h0m0.5 2.5h0m0 2h0m0-1.5h0m0.5-1.5h0m0 4h0m0-1.5h0m0 1.5h0m0.5-5.5h0m0 2h0m0 2.5h0m0.5-0.5h0m0 1h0m0.5-3h0m0 4h0m0 0h0m0-5h0m0 2.5h0m0.5 0h0m0 1.5h0m0-2h0m0-0.5h0m0 3.5h0m0.5-5h0m0-0.5h0m0 0.5h0m0-0.5h0m0.5 5h0m0.5-2.5h0m0 1.5h0m0 1h0m0-3.5h0m0.5-0.5h0m0 3.5h0m0-1h0m0-1h0m0.5-3h0m0 1.5h0m0 4h0m0.5-2.5h0m0 1.5h0m0-1h0m0 0.5h0m0 1h0m0.5-3h0m0 1h0m0-2.5h0m0.5 5.5h0m0-4.5h0m0-1.5h0m0 4h0m0-1h0m0 2.5h0m0-0.5h0m0.5-3h0m0-0.5h0m0-1.5h0m0.5 5.5h0m0-3h0m0-2h0m0 2h0m0.5-1h0m0 3h0m0-1h0m0-1.5h0m0-1h0m0.5 2.5h0m0 1.5h0m0-3.5h0m0 1.5h0m0.5 2.5h0m0-2h0m0.5-3.5h0m0 2.5h0m0 3h0m0-3h0m0 2h0m0-3.5h0m0.5 3h0m0-1.5h0m0-2.5h0m0 3h0m0.5 2h0m0 0.5h0m0-4h0m0 0h0m0 1h0m0.5-2h0m0 2.5h0m0 1.5h0m0.5 0.5h0m0 0.5h0m0-5h0m0 5.5h0m0-2.5h0m0-1.5h0m0.5-1h0m0 4h0m0.5-4.5h0m0.5 0.5h0m0 3.5h0m0 1.5h0m0-3h0m0 1h0m0 0h0m0-1.5h0m0.5 2h0m0-3.5h0m0 2h0m0.5 3h0m0-5.5h0m0 0h0m0 1h0m0 0.5h0m0.5 0.5h0m0 1.5h0m0 0.5h0m0 0.5h0m0.5-0.5h0m0-0.5h0m0-1.5h0m0.5-1h0m0 4h0m0-5h0m0 5h0m0.5-4h0m0-1h0m0 4.5h0m0-1.5h0m0.5-1.5h0m0 3.5h0m0-1h0m0.5-2h0m0-2h0m0 2h0m0 1h0m0-2h0m0.5 3h0m0-3.5h0m0 2.5h0m0.5 0h0m0-0.5h0m0.5-1h0m0 1.5h0m0 1.5h0m0-4h0m0 4.5h0m0.5-5h0m0 5h0m0-5h0m0 1h0m0.5 3.5h0m0-3h0m0.5 1.5h0m0 2.5h0m0-6h0m0.5 2h0m0.5 1h0m0 1.5h0m0-1h0m0 1.5h0m0-2.5h0m0.5-1h0m0-1h0m0.5 2.5h0m0 2h0m0 0h0m0.5 1h0m0-1.5h0m0-1.5h0m0.5-0.5h0m0-2h0m0 4h0m0-1h0m0.5 2h0m0-1.5h0m0-2h0m0.5 2h0m0-1.5h0m0.5-1.5h0m0 4h0m0-2h0m0.5-1.5h0m0 3.5h0m0-2h0m0 1.5h0m0.5-0.5h0m0.5 1.5h0m0-3.5h0m0.5-2h0m0 3h0m0-2.5h0m0 3h0m0-3.5h0m0.5 4.5h0m0-3.5h0m0.5 3h0m0-2h0m0-1h0m0 3.5h0m0-4h0m0.5 4.5h0m0.5-4.5h0m0.5 2.5h0m0 0h0m0-2.5h0m0.5 2h0m0 2h0m0.5 1h0m0-3.5h0m0.5 0h0m0.5 3.5h0m0-5h0m0 0.5h0m0.5 0h0m0 1h0m0.5 0.5h0m0.5 0h0m0 2.5h0m0-3h0m0.5 1.5h0m2.5 1.5h0m0.5 0h0m2.5-3h0m1 2.5h0m5-3h0m0.5 1.5h0m5 2h0m2-1h0m5.5-2h0m6.5 3h0m-83 2h0m1.5 0h0m0 3h0m4-2h0m0.5 3h0m0-4h0m0 4.5h0m0.5 0.5h0m0.5-1.5h0m0-1h0m0.5-3h0m1 3.5h0m0 1.5h0m0.5-1h0m0.5 0.5h0m0.5-0.5h0m0.5-3h0m0 2h0m0.5-0.5h0m0.5-0.5h0m0-2h0m0.5 4h0m0 1h0m0 0.5h0m0-0.5h0m0.5-2.5h0m0-2.5h0m0.5 3.5h0m0 1.5h0m0-5h0m0.5 4h0m0-3.5h0m0 0.5h0m0.5 2h0m0-0.5h0m0 1h0m0.5-2.5h0m0 4h0m0-3.5h0m0-1h0m0.5 2.5h0m0.5 2h0m0-5h0m0 4h0m0-1h0m0 2h0m0-2.5h0m0.5-2h0m0 3.5h0m0-2h0m0-2h0m0.5 3.5h0m0 1.5h0m0-5h0m0 2h0m0 1h0m0.5-2.5h0m0 1.5h0m0.5 2.5h0m0-3.5h0m0 2h0m0.5-0.5h0m0 2h0m0-4.5h0m0 1h0m0 4h0m0-1.5h0m0.5 0.5h0m0-2h0m0 3.5h0m0-4h0m0.5 1h0m0 2h0m0-4.5h0m0.5 5h0m0-3.5h0m0 2.5h0m0.5-0.5h0m0 1.5h0m0-3.5h0m0 0.5h0m0.5-2h0m0 0.5h0m0 3.5h0m0.5-0.5h0m0-1h0m0 2h0m0-4h0m0 1h0m0.5 3.5h0m0-3h0m0-1h0m0 2h0m0.5 0.5h0m0-2h0m0-1.5h0m0 4h0m0.5-0.5h0m0-1h0m0 2.5h0m0 0.5h0m0-5.5h0m0 1.5h0m0-0.5h0m0.5 1.5h0m0-2.5h0m0 5h0m0.5-2h0m0-1.5h0m0-0.5h0m0.5 0.5h0m0 2.5h0m0-3h0m0.5 1.5h0m0-2.5h0m0 3h0m0-3h0m0.5 3.5h0m0-0.5h0m0-2.5h0m0 1h0m0.5 3.5h0m0-0.5h0m0-1h0m0-0.5h0m0-0.5h0m0-2.5h0m0 0.5h0m0.5 0.5h0m0.5 3h0m0-4.5h0m0 5h0m0.5-4h0m0 1.5h0m0 1h0m0-1h0m0.5-1.5h0m0 3.5h0m0 1h0m0-3h0m0-2h0m0 1.5h0m0.5 1.5h0m0-1.5h0m0.5 2h0m0-3h0m0 2h0m0-2.5h0m0 4.5h0m0.5-2.5h0m0 2.5h0m0-1.5h0m0-3h0m0 2h0m0 3.5h0m0-1.5h0m0.5-3h0m0 0.5h0m0-1h0m0.5 3h0m0-1h0m0.5-2.5h0m0 3h0m0.5-0.5h0m0 2h0m0-4h0m0 3.5h0m0-0.5h0m0-2h0m0.5-1.5h0m0 1.5h0m0 1h0m0 1.5h0m0.5-1h0m0 2h0m0-4.5h0m0 2h0m0.5 0.5h0m0-3h0m0 1h0m0 3.5h0m0.5-2h0m0 2.5h0m0-3.5h0m0.5 2h0m0 0h0m0-2.5h0m0-1h0m0.5 5.5h0m0-0.5h0m0-2h0m0.5-2.5h0m0-0.5h0m0 2.5h0m0-1h0m0 2.5h0m0-1.5h0m0.5-2h0m0 3h0m0 0.5h0m0.5-4.5h0m0 2h0m0 4h0m0-1.5h0m0 0.5h0m0.5-2h0m0-1.5h0m0 2.5h0m0-1.5h0m0.5 3.5h0m0-5.5h0m0 3h0m0 1h0m0-2.5h0m0.5 3.5h0m0-0.5h0m0.5-4h0m0 1h0m0-1.5h0m0 5.5h0m0-2.5h0m0.5-2h0m0-1.5h0m0 2h0m0.5 3h0m0-1h0m0 0.5h0m0-1.5h0m0.5 0.5h0m0-1h0m0-2h0m0.5 2h0m0 2.5h0m0.5 0.5h0m0-2.5h0m0-1h0m0.5-0.5h0m0.5 3h0m0-2.5h0m0 3h0m0-1h0m0.5 1.5h0m0-4.5h0m0 2h0m0-3h0m0 4.5h0m0.5-3h0m0.5 1.5h0m0.5-1.5h0m0 3.5h0m0-3.5h0m0 4.5h0m1-1.5h0m0-4h0m0.5 0.5h0m0.5 2.5h0m0 2.5h0m0.5-3.5h0m0-2h0m0 2h0m0.5-1h0m0.5 4.5h0m0.5-4h0m0.5 1.5h0m0.5 2h0m0-4.5h0m0.5 3.5h0m0-1.5h0m0.5 1h0m2 1.5h0m3-2.5h0m0.5-2.5h0m3 4.5h0m2-1.5h0m2.5-1.5h0m0.5 1.5h0m1-2.5h0m20 0.5h0m-98 10.5h0m8.5-5h0m7 1.5h0m0.5-2h0m2 2.5h0m0.5 0h0m1 1h0m0 1.5h0m1-4h0m0 1.5h0m0 2h0m0.5 0.5h0m0-2h0m0.5 1h0m1 0.5h0m0-0.5h0m0-3h0m0 1.5h0m0.5 0.5h0m0.5-1h0m0-1.5h0m0.5-0.5h0m0 5h0m0-3h0m0.5 1.5h0m0 0h0m0-3.5h0m0 1h0m0.5 3.5h0m0-4h0m0 0.5h0m1 0.5h0m0 3h0m0-1.5h0m0.5 1h0m0-4.5h0m0.5 4h0m0-1.5h0m0 3h0m0-2h0m0-2h0m0.5 0h0m0 2h0m1-3h0m0 1h0m0 3.5h0m0.5-1h0m0.5 1h0m0-1h0m0-0.5h0m0-0.5h0m0-1.5h0m0.5 3.5h0m0-5h0m0.5 4.5h0m0-3h0m0 4.5h0m0-3h0m0 0.5h0m0-1.5h0m0.5-0.5h0m0 2h0m0 2h0m0.5-5.5h0m0 4.5h0m0-1.5h0m0-2.5h0m0.5 1.5h0m0 2.5h0m0.5-1.5h0m0-3h0m0 2.5h0m0 2.5h0m0-4.5h0m0 5.5h0m0-3.5h0m0.5 2.5h0m0-3h0m0-0.5h0m0 3h0m0.5-4h0m0 1.5h0m0 0.5h0m0.5 3h0m0-2h0m0-0.5h0m0.5-2h0m0 4h0m0-4.5h0m0 3.5h0m0-2h0m0.5 2.5h0m0-3.5h0m0 1.5h0m0 1.5h0m0.5-2h0m0 3.5h0m0-1h0m0-4h0m0.5 1h0m0 0h0m0.5-1h0m0 2.5h0m0 1.5h0m0-1.5h0m0 1h0m0.5-2h0m0.5-1h0m0 2.5h0m0-3.5h0m0.5 5h0m0-1h0m0-2h0m0 0.5h0m0 0.5h0m0.5 2.5h0m0-1.5h0m0-0.5h0m0-3h0m0 1.5h0m0-1.5h0m0.5 5.5h0m0-5h0m0 4.5h0m0.5-3h0m0 1h0m0 1h0m0-3h0m0-1h0m0.5 2.5h0m0 2.5h0m0-5h0m0.5 4h0m0.5 0.5h0m0-4h0m0 0.5h0m0.5 1h0m0 1.5h0m0 0h0m0-3.5h0m0 4.5h0m0-4.5h0m0 1.5h0m0.5 0.5h0m0.5 1.5h0m0-0.5h0m0 0.5h0m0 2h0m0-4h0m0-1.5h0m0 3h0m0.5-2.5h0m0 4h0m0-2h0m0.5 1.5h0m0 1.5h0m0-2.5h0m0.5 1.5h0m0-3.5h0m0 1h0m0 2h0m0.5-1h0m0-3h0m0 1h0m0-0.5h0m0.5 4.5h0m0-3h0m0 3h0m0-3h0m0.5-1.5h0m0 2h0m0-1h0m0.5 2h0m0-1.5h0m0.5-0.5h0m0 3h0m0-5h0m0 0.5h0m0 2.5h0m0.5 0.5h0m0 0.5h0m0.5-4h0m0 4.5h0m0.5-1h0m0-2.5h0m0 0.5h0m0.5 4h0m0-1h0m0.5 0.5h0m0-4h0m0 0.5h0m0 1h0m0-1h0m0 1.5h0m0.5-3h0m0.5 1.5h0m0.5 0h0m0 4h0m0-2.5h0m0-1h0m0 4h0m0.5-1.5h0m0 0.5h0m0-3h0m0.5 0.5h0m0-0.5h0m1 0.5h0m0.5 1h0m0.5 1h0m0-2.5h0m0.5 1.5h0m0-3.5h0m0.5 1h0m0 4.5h0m0.5-1.5h0m0-2h0m0 1h0m0.5-3h0m0.5 5h0m0-1h0m0.5-2.5h0m0 1.5h0m0-3h0m0.5 2h0m1-1.5h0m0 4.5h0m1-1h0m0.5-1.5h0m0.5 1.5h0m0-3.5h0m0.5 3h0m0.5 1.5h0m0-4h0m0 1h0m0.5-1h0m3.5 0h0m1 3h0m0-2h0m-57.5 6h0m1.5 0.5h0m4 1.5h0m1-0.5h0m3-2h0m0.5 2h0m0.5 2.5h0m1.5-2h0m0-2h0m0.5 2.5h0m0.5-4h0m0.5 3h0m0.5-2.5h0m0.5-1h0m0 3h0m1 1h0m0-3h0m0.5-1h0m0.5 0.5h0m0.5 0.5h0m0 0.5h0m0.5-0.5h0m0 3h0m0-0.5h0m0.5-1.5h0m0 4h0m0.5-5h0m0.5 1.5h0m0 2h0m0-1.5h0m0 0.5h0m0 0.5h0m0-3.5h0m0.5 0h0m0 1h0m0.5-1.5h0m0 4.5h0m0.5-2.5h0m0-1.5h0m0 4.5h0m0 0.5h0m0.5-5h0m0 4.5h0m0 0.5h0m0-2h0m0.5-1.5h0m0.5 4h0m0-5.5h0m0.5 5h0m0-2h0m0-3.5h0m0.5 6h0m0.5 0h0m0-3h0m0-1h0m0-1h0m0 3h0m1-2.5h0m0 1.5h0m0.5 0h0m0 1h0m0 1h0m0.5 0.5h0m0-4.5h0m0.5 0.5h0m0 3.5h0m0-4.5h0m0 3h0m0.5-1.5h0m0 2.5h0m0 0h0m0.5-3.5h0m0.5 2h0m0 0.5h0m0 1.5h0m0.5-0.5h0m0.5 1h0m0-5.5h0m0 4h0m1-3.5h0m0.5 0h0m0 2.5h0m0-1.5h0m0.5 0.5h0m0.5 2h0m0-3h0m0.5-0.5h0m0 2h0m0.5-1.5h0m0 3.5h0m0-3h0m0.5-0.5h0m0 3h0m0-4h0m0.5 0h0m0.5 2h0m0-1h0m0 1h0m0 1.5h0m1 0h0m0-2h0m0 2.5h0m0-1.5h0m0-2h0m0.5 0.5h0m0 4h0m0-3.5h0m0.5 1.5h0m0.5 1h0m0-2h0m0.5 1h0m0-2.5h0m0.5 1.5h0m0 1.5h0m0.5-1h0m0 2.5h0m0.5-3h0m0-1.5h0m0.5 0h0m1 2.5h0m0-2.5h0m1.5 3h0m0-1h0m0 1.5h0m1-2h0m0.5 2.5h0m0.5 0.5h0m0-2.5h0m1 2.5h0m0-4.5h0m3 0.5h0m1 2h0m7-2.5h0m2 1.5h0m6-1.5h0m-58 8.5h0m3.5-3h0m0.5 0.5h0m0.5 4.5h0m0.5-4h0m2.5 0h0m0.5-1h0m0.5 4.5h0m0.5-4h0m1 4h0m0.5-2h0m0.5 1h0m1.5-2h0m0 1.5h0m1-2.5h0m1 2h0m0.5 2h0m0.5-2.5h0m1.5-0.5h0m2 0h0m0 3h0m0.5-4.5h0m0.5 1.5h0m0.5-1h0m1 0h0m0 1h0m0.5 0.5h0m0.5 2.5h0m0.5-2.5h0m0 0h0m0-1.5h0m0-0.5h0m0 4h0m1-3h0m2 0h0m1-1h0m0.5 4h0m0-2.5h0m0.5 1h0m1.5 1.5h0m0.5 0h0m1.5-3h0m2-1h0m0.5 4.5h0m0.5-4h0m3 3.5h0m1.5 0h0m1.5-0.5h0m16-3h0m5 0h0m10 1.5h0m-71 7.5h0m2-2.5h0m2 2h0m1-2.5h0m4 0h0m0.5 2.5h0m2.5 2h0m2-4.5h0m0.5 1.5h0m2 0h0m0-2h0m1 2.5h0m3.5 1.5h0m1-2.5h0m0.5 0h0m1 2h0m0.5-2.5h0m4.5-0.5h0m1.5 4h0m0-1h0m16.5 0h0m-36.5 6.5h0m14 1.5h0" stroke="#fb1414" stroke-width="1.55" stroke-linecap="round" fill="none"/>
<rect x="870.4" y="425.4" width="154.4" height="125.8" fill="none" stroke="#111" stroke-width="1.3"/>
<line x1="945.8" y1="425.4" x2="945.8" y2="551.2" stroke="#111" stroke-width="1.3"/>
<line x1="870.4" y1="490.3" x2="1024.8" y2="490.3" stroke="#111" stroke-width="1.3"/>
<path d="M887.7 551.2v3.8M870.4 536.2h-3.2M892 551.2v3.8M870.4 532.5h-3.2M895.3 551.2v3.8M870.4 529.7h-3.2M898 551.2v3.8M870.4 527.3h-3.2M900.3 551.2v3.8M870.4 525.4h-3.2M902.3 551.2v3.8M870.4 523.6h-3.2M904 551.2v3.8M870.4 522.1h-3.2M917.2 551.2v3.8M924 551.2v3.8M870.4 506.2h-3.2M928.8 551.2v3.8M870.4 502.4h-3.2M932.6 551.2v3.8M870.4 499.5h-3.2M935.6 551.2v3.8M870.4 497.1h-3.2M938.2 551.2v3.8M870.4 495h-3.2M940.5 551.2v3.8M870.4 493.3h-3.2M942.4 551.2v3.8M870.4 491.7h-3.2M955.6 551.2v3.8M962.3 551.2v3.8M870.4 474.4h-3.2M967 551.2v3.8M870.4 470.3h-3.2M970.7 551.2v3.8M870.4 467h-3.2M973.7 551.2v3.8M870.4 464.4h-3.2M976.2 551.2v3.8M870.4 462.2h-3.2M978.4 551.2v3.8M870.4 460.2h-3.2M980.4 551.2v3.8M870.4 458.5h-3.2M994.2 551.2v3.8M1001.2 551.2v3.8M870.4 442.2h-3.2M1006.2 551.2v3.8M870.4 438.3h-3.2M1010.1 551.2v3.8M870.4 435.3h-3.2M1013.3 551.2v3.8M870.4 432.9h-3.2M1016 551.2v3.8M870.4 430.8h-3.2M1018.3 551.2v3.8M870.4 429h-3.2M1020.4 551.2v3.8M870.4 427.4h-3.2M871.4 551.2v6.2M870.4 550.2h-5.2M905.6 551.2v6.2M870.4 520.8h-5.2M944.2 551.2v6.2M870.4 490.3h-5.2M982.1 551.2v6.2M870.4 457h-5.2M1022.2 551.2v6.2M870.4 426h-5.2" stroke="#111" stroke-width="1.1" fill="none"/>
<text x="864.8" y="567.8" font-size="8.0" font-weight="bold">10<tspan font-size="6.4" dy="-4.2">0</tspan></text>
<text x="864" y="556.8" font-size="8.0" font-weight="bold" transform="rotate(-90 864 556.8)">10<tspan font-size="6.4" dy="-4.2">0</tspan></text>
<text x="899" y="567.8" font-size="8.0" font-weight="bold">10<tspan font-size="6.4" dy="-4.2">1</tspan></text>
<text x="864" y="527.4" font-size="8.0" font-weight="bold" transform="rotate(-90 864 527.4)">10<tspan font-size="6.4" dy="-4.2">1</tspan></text>
<text x="937.6" y="567.8" font-size="8.0" font-weight="bold">10<tspan font-size="6.4" dy="-4.2">2</tspan></text>
<text x="864" y="496.9" font-size="8.0" font-weight="bold" transform="rotate(-90 864 496.9)">10<tspan font-size="6.4" dy="-4.2">2</tspan></text>
<text x="975.5" y="567.8" font-size="8.0" font-weight="bold">10<tspan font-size="6.4" dy="-4.2">3</tspan></text>
<text x="864" y="463.6" font-size="8.0" font-weight="bold" transform="rotate(-90 864 463.6)">10<tspan font-size="6.4" dy="-4.2">3</tspan></text>
<text x="1015.6" y="567.8" font-size="8.0" font-weight="bold">10<tspan font-size="6.4" dy="-4.2">4</tspan></text>
<text x="864" y="432.6" font-size="8.0" font-weight="bold" transform="rotate(-90 864 432.6)">10<tspan font-size="6.4" dy="-4.2">4</tspan></text>
<text x="950.5" y="580" text-anchor="middle" font-weight="bold" font-size="10.8">Annexin V-FITC</text>
<text x="849.5" y="487" text-anchor="middle" font-weight="bold" font-size="10.8" transform="rotate(-90 849.5 487)">PI</text>
<text x="945.8" y="409.6" text-anchor="middle" font-size="14">JMJD2C</text>
<path d="M1148 439h0m29.5 0.5h0m14.5 0.5h0m-51.5 7h0m2-1.5h0m2.5-3h0m2.5 4h0m0.5-3h0m0.5 2h0m4.5 1h0m5.5-0.5h0m0.5 0.5h0m1.5 0h0m2.5-0.5h0m0.5-4.5h0m2 2h0m2.5 1h0m1.5 2.5h0m0.5-5.5h0m-25 7.5h0m0 2h0m3 1h0m1-2h0m2 0.5h0m1.5-1h0m3 0h0m0 3.5h0m3-1.5h0m3.5 1h0m2-4.5h0m0.5 5h0m0.5-1h0m1-1.5h0m2.5 1h0m1.5-2.5h0m0 2h0m18-0.5h0m-48.5 3.5h0m1 1h0m1.5 1.5h0m1.5-3h0m5.5 5h0m0.5-3.5h0m0 2h0m5 0.5h0m0.5-2.5h0m1-1h0m0.5 1h0m3 0.5h0m0-0.5h0m0.5-0.5h0m0 3h0m0.5-1h0m4.5 0h0m4.5 0.5h0m1-0.5h0m1.5-1.5h0m3.5 0h0m4.5 1.5h0m-39.5 4h0m0.5 4h0m0-1h0m1-1.5h0m1 2.5h0m0.5-1h0m0.5-3h0m2 4.5h0m1.5-5h0m2 3h0m0-2h0m0.5 2h0m2.5 0h0m0.5-2.5h0m0 1h0m0.5-2h0m0.5-0.5h0m0.5 5.5h0m2.5 0h0m0-2.5h0m2-1.5h0m1.5 4.5h0m0.5-2.5h0m0.5 1.5h0m4-1h0m0-4h0m0.5 3h0m1-0.5h0m1.5-1.5h0m2.5 3h0m0.5 0.5h0m1-4h0m-45 7.5h0m2 3h0m9.5-1h0m3.5-1h0m3-2h0m0.5 2h0m1 2h0m1.5-4.5h0m0.5 3h0m0.5-1h0m1-1h0m0.5 2.5h0m1.5-0.5h0m0-3h0m0.5 2.5h0m0-1h0m0.5 1h0m0.5-2h0m0 4.5h0m2.5-3h0m0.5 3.5h0m0-1h0m1-1.5h0m0 1h0m0.5-3h0m0 4.5h0m1-1.5h0m0.5-3.5h0m0.5 3.5h0m0.5 0.5h0m2.5 0.5h0m0-2h0m0.5 1.5h0m1.5-2.5h0m2 2h0m0-1.5h0m0.5-1.5h0m2 0.5h0m0 3h0m2.5-2.5h0m1-0.5h0m0.5 1h0m2 2.5h0m0.5-5h0m1 5.5h0m2-5.5h0m-59 7h0m14.5 0h0m1.5 4h0m1-5h0m1.5 2h0m0.5 2h0m0-1h0m0.5-3h0m2 5.5h0m0.5-2h0m1.5 1h0m0.5-3.5h0m2 1h0m0.5 1.5h0m0.5 1.5h0m0-5h0m0.5 2h0m1.5 3h0m0.5-3.5h0m0.5 1.5h0m1-1.5h0m1.5-1.5h0m0 5.5h0m1-1h0m0-2h0m0.5-0.5h0m0.5 3.5h0m0.5-0.5h0m0-3.5h0m0.5 1h0m0.5 1h0m0-1h0m1 2h0m0.5-2.5h0m0 1.5h0m0.5 1.5h0m0-4h0m0.5 0h0m0 4h0m0-3.5h0m0.5 1.5h0m0-2.5h0m0 3.5h0m0.5-1h0m0 0.5h0m0.5-2h0m0-1.5h0m0.5 4h0m0-1.5h0m1 0.5h0m0 2.5h0m0.5-4.5h0m0 2h0m0.5-1.5h0m1.5 3.5h0m0-3.5h0m1 2.5h0m1.5-1h0m1.5-2h0m0 1.5h0m0-2h0m1.5 3.5h0m1.5 0.5h0m2-5h0m7.5 1.5h0m0.5 2.5h0m2.5-1h0m0.5 3h0m-80 1.5h0m24.5 1.5h0m6 0.5h0m3.5 2.5h0m0.5-2.5h0m0.5-3.5h0m1 1h0m2.5 1.5h0m0.5 3h0m1-3.5h0m0 3h0m1-2.5h0m1-2h0m0.5 2h0m0 1h0m0.5 2.5h0m0-2.5h0m0 2h0m0.5-5h0m1 3.5h0m0 0.5h0m0.5-4h0m0.5 5.5h0m0-4h0m0.5 3h0m0.5-5h0m1.5 4.5h0m0-0.5h0m0-2.5h0m0.5-1h0m0.5 3.5h0m0-1h0m1-2h0m0 0h0m0.5 1h0m1-2h0m2 3.5h0m0 2.5h0m0-2h0m0.5 1h0m0.5-2h0m0.5 3h0m0.5-2.5h0m0-3.5h0m1 2h0m1 2h0m0 1h0m0-4.5h0m0 4h0m0.5-1.5h0m0-1h0m1.5-0.5h0m0.5 3.5h0m0.5-4h0m0.5-0.5h0m1 0h0m0 1h0m2 1h0m0.5 1h0m1-1.5h0m0.5 0h0m0.5-1.5h0m0.5 0.5h0m1 4.5h0m1-5h0m0 5h0m-77 2.5h0m19.5 4h0m5-4h0m3.5 2.5h0m3.5-1h0m2-1h0m0.5-2h0m2.5 4.5h0m0.5 0h0m1-4.5h0m0.5 4.5h0m2-3h0m1.5 3.5h0m1-5h0m2 1.5h0m0-1h0m1.5 1h0m0.5 3.5h0m1-3.5h0m0 2h0m2 2h0m0-6h0m1 5.5h0m2 0.5h0m0.5-4.5h0m0 3.5h0m0.5-3h0m0.5 1.5h0m0-0.5h0m0.5-0.5h0m0.5 2h0m0-3.5h0m0.5 3.5h0m0-0.5h0m1-1.5h0m0.5 3h0m1 0h0m0.5-3.5h0m0 0.5h0m1 0h0m0.5-2h0m0 1h0m0 0.5h0m0.5 0.5h0m0.5-1h0m0.5-1.5h0m0.5 0.5h0m0 2.5h0m1 0.5h0m0.5-2.5h0m0.5 0h0m0 4h0m0-2.5h0m1-2h0m1.5 2.5h0m0.5-1h0m1.5 0h0m0 3.5h0m0 0.5h0m0-3h0m2.5 1.5h0m0.5-1.5h0m1 1h0m0.5-0.5h0m2-1h0m3-1h0m3.5 0h0m4 0h0m7.5 0.5h0m-83 9h0m4-1.5h0m2 2h0m0-0.5h0m0.5-3h0m0.5 2.5h0m0-2.5h0m0.5-1h0m1 2.5h0m0 2.5h0m0.5-2h0m2 1.5h0m1.5-0.5h0m1.5-2.5h0m2 3.5h0m0.5-1.5h0m1-1h0m0 0.5h0m1.5 2h0m0.5-5h0m0.5 4h0m2-4h0m1 3h0m0.5 0h0m0.5 0.5h0m2.5-3.5h0m1.5 0h0m2 1.5h0m1-1h0m1.5 1h0m2-1.5h0m1-0.5h0m0 3.5h0m0.5-2h0m1.5-2h0m0.5 3.5h0m0.5 2h0m2.5-0.5h0m0.5-3h0m0 2h0m0.5-2h0m0-1h0m1.5 2h0m0.5 2.5h0m0.5-5.5h0m0.5 5h0m0-1.5h0m0-3h0m0.5 1.5h0m2.5 3h0m0.5-2.5h0m0-1h0m0.5-0.5h0m0 4h0m1.5-3.5h0m0 4.5h0m0.5 0h0m2-1h0m3.5-2.5h0m1-2.5h0m1 5h0m2-3.5h0m0 3.5h0m0.5-1.5h0m0 0h0m0-2h0m1-0.5h0m2.5 4h0m0.5-4h0m1.5 5h0m2-2.5h0m4-1h0m-102.5 5h0m20.5-0.5h0m4.5 2.5h0m0 0.5h0m0-2h0m1 3h0m1 0.5h0m1.5-5h0m0 1h0m1 2.5h0m0.5-2h0m0.5 3.5h0m0.5 0.5h0m0.5-1.5h0m1 1h0m0-2.5h0m0.5-2h0m0 4.5h0m1.5-0.5h0m0-1h0m0.5 0.5h0m0.5-1h0m0.5-1h0m0.5-1h0m0 2.5h0m0.5-0.5h0m0 2h0m0.5-4h0m0-1.5h0m1 5h0m0.5-3h0m0.5-1h0m0 3h0m0.5-0.5h0m0-2.5h0m0.5 1h0m1 3h0m0-4.5h0m0.5 3.5h0m0-1h0m0 2.5h0m0-2h0m0 2h0m1-1h0m0-4h0m0 5.5h0m0-1.5h0m0.5-1h0m0 0.5h0m0-0.5h0m1-0.5h0m0 3h0m0.5-5.5h0m0 1.5h0m0 2.5h0m0.5 0.5h0m0.5-1h0m0-0.5h0m0.5-2h0m0.5 3.5h0m0.5-2.5h0m0.5-0.5h0m0 2.5h0m1 1h0m0-3h0m0.5-0.5h0m0-0.5h0m1 0h0m0.5 2.5h0m0 1.5h0m0-0.5h0m1.5-0.5h0m0.5-4h0m0 5h0m1.5-4.5h0m0 3.5h0m0.5 0.5h0m0-3.5h0m1 3h0m1 1.5h0m0.5-5h0m0.5 5h0m0-2h0m0.5 0h0m2-2h0m0-1.5h0m0.5 2.5h0m1-1.5h0m0.5-0.5h0m0.5 4h0m0.5-3h0m0.5 1h0m1-1h0m0 3h0m0-1.5h0m0.5-1.5h0m0 2.5h0m0-3.5h0m1.5 2.5h0m1-2h0m0 2h0m1-2.5h0m1-0.5h0m1 1.5h0m0-0.5h0m0.5 1.5h0m0.5 1.5h0m0-4h0m2 5.5h0m1-5h0m0 2h0m0 1h0m0.5-3.5h0m5 2h0m0.5-1.5h0m2 0.5h0m1 1.5h0m0.5 1.5h0m1 1.5h0m0.5-1.5h0m0.5 0.5h0m0-3h0m2 2h0m0.5-2.5h0m1 3.5h0m0 0.5h0m0 0h0m3-1h0m1-3h0m2.5 0h0m6 4h0m3-3h0m-89.5 7.5h0m2 1h0m1-3.5h0m1.5 4.5h0m0.5-5h0m0.5 4.5h0m1-2h0m0 0h0m0 2h0m0-3.5h0m0.5 2h0m0.5 0.5h0m0.5-4h0m0 4.5h0m0 0.5h0m0.5-4.5h0m0 1h0m1 0h0m1 4h0m0.5-2h0m0.5-2h0m0 1.5h0m0.5 1h0m0.5-2h0m0.5 2h0m0-4.5h0m0.5 0.5h0m1 5h0m0-3h0m0 1h0m0-2h0m0.5 2.5h0m0 1h0m0.5-1h0m0.5 1.5h0m0-1h0m0-2h0m0.5-2h0m0 2.5h0m0.5-1.5h0m0 4h0m0-5h0m0 3.5h0m0.5 0.5h0m0.5-2h0m0-2.5h0m0 1.5h0m0-1h0m0 3.5h0m1 1h0m0-2h0m0-1.5h0m0 4.5h0m0-1.5h0m0-1h0m0.5-1.5h0m0 3.5h0m0.5-0.5h0m0-4h0m0.5 2.5h0m0-2h0m0 4h0m0-2h0m0-1.5h0m0.5 4h0m0-3.5h0m0 2.5h0m0.5-1.5h0m0 0.5h0m0.5-4h0m0 2.5h0m0 2.5h0m0-1.5h0m0 2.5h0m0.5-5h0m0 3h0m0.5-3h0m0 1h0m0 1h0m0.5-1.5h0m0 2.5h0m0 1h0m0-5h0m0.5 5.5h0m0-2h0m0-2.5h0m0 0h0m0.5 2.5h0m0.5-0.5h0m0 2h0m0 1h0m0.5-4.5h0m0.5 0h0m0-0.5h0m0 4h0m0.5-3h0m0 2.5h0m0.5-2.5h0m0-0.5h0m0.5 2.5h0m0 1.5h0m0-0.5h0m0-2.5h0m1 3h0m0-4.5h0m0 3h0m0-2h0m0 0h0m0 3h0m0.5-2h0m0.5-2h0m0 1h0m0 1h0m0 2.5h0m0.5 0h0m0-5.5h0m0.5 4h0m0-1.5h0m0 0.5h0m0-1.5h0m0.5 1.5h0m1-1.5h0m0-1h0m0 3.5h0m0-1h0m0-0.5h0m0.5 3h0m0-3.5h0m0 3h0m0-4.5h0m0.5-0.5h0m0.5 3.5h0m0-0.5h0m0-3h0m0.5 1h0m0.5 4h0m0.5 0.5h0m0-3h0m0.5 0h0m0 2.5h0m0-4h0m0.5 1.5h0m0 0.5h0m0.5 2h0m0-3.5h0m0 1h0m0.5-1h0m0 4.5h0m0.5-3.5h0m0.5 2.5h0m0-4h0m0.5 0.5h0m0-1h0m0-0.5h0m0.5 4.5h0m0.5 0h0m0-0.5h0m0.5-0.5h0m0.5-1h0m0 2h0m0-3.5h0m0.5 4h0m0.5-3.5h0m0.5 4.5h0m0-3.5h0m0 0.5h0m1 0h0m0.5 0.5h0m0-2h0m0.5 3.5h0m0-3.5h0m0 4.5h0m0.5-5h0m0 1.5h0m2-2h0m0.5 2.5h0m2 1h0m1-4h0m0 4.5h0m0.5 1.5h0m1-3.5h0m2 3h0m2-4h0m1 4h0m2.5-4h0m1.5-1h0m2.5 0h0m0.5 3.5h0m1-2.5h0m3-1h0m0 2h0m1.5 0.5h0m1.5-2h0m1 4h0m0.5-3.5h0m0.5 4.5h0m3.5-3h0m1 2h0m5.5-3h0m-91.5 7h0m4 1h0m2 1.5h0m1.5-2h0m1 1h0m0.5-1.5h0m1.5 1h0m0 0.5h0m0 1.5h0m0.5-0.5h0m0-5h0m0 2.5h0m1.5 1h0m0.5 1h0m0 0.5h0m0.5-4h0m0.5 3h0m0.5-1h0m0-1h0m0.5 2.5h0m0 1h0m0.5-2.5h0m0 1.5h0m0.5-3h0m0-0.5h0m1 3.5h0m0.5-1h0m0 1h0m0 0h0m0-2h0m0.5-1.5h0m0 0.5h0m0 0h0m0.5-1.5h0m0 2.5h0m0.5 1.5h0m0-0.5h0m0 1h0m0 0h0m0-2.5h0m0-1h0m0.5 2.5h0m0 2h0m0.5-3.5h0m0 2h0m0-3h0m0 1h0m0 1h0m0-3h0m0.5 5h0m0-3.5h0m0 2h0m0.5-1h0m0 2h0m0.5-0.5h0m0 0h0m0 1h0m0-3h0m0.5 1h0m0-2h0m0-0.5h0m0 1.5h0m0.5 3h0m0-2h0m0-3.5h0m0 2h0m0-0.5h0m0 3h0m0-1.5h0m0-3h0m1 4.5h0m0-1.5h0m0-2.5h0m0.5 4.5h0m0-4h0m0 1h0m0 2.5h0m0-4h0m0 5h0m0-2h0m0 0h0m0.5-2h0m0 1h0m0.5-0.5h0m0 0.5h0m0 1.5h0m0 1.5h0m0.5-1h0m0 0h0m0-0.5h0m0.5 1h0m0-2h0m0-2h0m0.5 0h0m0 1h0m0 3.5h0m0-4h0m0.5-0.5h0m0 2.5h0m0 0.5h0m0 0.5h0m0-2.5h0m0.5 3.5h0m0-4.5h0m0 0h0m0 2h0m0.5 1h0m0-1.5h0m0 2h0m0-2h0m0.5-2h0m0 0.5h0m0 3.5h0m0 1h0m0-3.5h0m0.5 2h0m0-1.5h0m0 3.5h0m0-5.5h0m0 1h0m0.5 3.5h0m0-3h0m0 4h0m0.5-4.5h0m0 4h0m0-1.5h0m0-2h0m0 2.5h0m0.5-4.5h0m0 3h0m0.5 3h0m0-5h0m0 5h0m0.5-2.5h0m0 2.5h0m0-1h0m0-3h0m0.5-1.5h0m0 5h0m0.5-5.5h0m0 5.5h0m0-3.5h0m0 1h0m0.5 2h0m0-1.5h0m0-2h0m0 1h0m0 2h0m0-3.5h0m0 4.5h0m0-3.5h0m0.5 2h0m0.5-2.5h0m0 4h0m0-3.5h0m0.5 3h0m0-1h0m0.5-4h0m0 6h0m0-4h0m0.5 2.5h0m0-0.5h0m0.5 2h0m0-4h0m0-1h0m0.5 3h0m0 0.5h0m0-1h0m0-1.5h0m0 1.5h0m0-2.5h0m0 0h0m0.5 5h0m0-2h0m0 1h0m0.5-2.5h0m0-2h0m0 3h0m0-2h0m0 0.5h0m0.5 3h0m0-0.5h0m0-4.5h0m0.5 5h0m0-1.5h0m0-2.5h0m0 5h0m0.5-4h0m0 3h0m0-3h0m0-1.5h0m0.5 2.5h0m0 1.5h0m0-0.5h0m0.5-3.5h0m0 5h0m0-2.5h0m0 0.5h0m0.5 1h0m0 1.5h0m0-5h0m0.5 1h0m0 4h0m0.5-5.5h0m0 2.5h0m0 1.5h0m0 1.5h0m0.5-0.5h0m0.5-3h0m0-1.5h0m0 3.5h0m0 1.5h0m0.5-2.5h0m0-1h0m0-1h0m0 2.5h0m0-0.5h0m0.5 1h0m0 0.5h0m0.5-2h0m0-0.5h0m0-1.5h0m0.5 4h0m0.5-2.5h0m0 1.5h0m0.5 1h0m0-2h0m0-0.5h0m0.5 2.5h0m0-1.5h0m0-2.5h0m0 3h0m0.5 1.5h0m0-4h0m0 3h0m0.5-4h0m0.5 2h0m0-2h0m0 4h0m0-1.5h0m0.5 2h0m0.5-2h0m2-0.5h0m0-1.5h0m0 4h0m0.5-1h0m0.5-2h0m0-2h0m0 1.5h0m0 1.5h0m2.5-2.5h0m0 2.5h0m1 3h0m0.5-6h0m0 6h0m0.5-4h0m1 0h0m0.5 3.5h0m1.5-2h0m3.5 1h0m0.5-1h0m1 0.5h0m1.5-2.5h0m0.5 0h0m2.5 3.5h0m6-1h0m1-0.5h0m2-3.5h0m5 1.5h0m-91.5 9.5h0m4.5-0.5h0m3.5-1h0m1.5-0.5h0m3 3h0m2.5-5.5h0m0.5 5h0m1-1h0m0-4h0m0 3.5h0m1 0.5h0m0.5-1.5h0m0.5 3h0m0-3.5h0m0.5 3h0m0-1.5h0m0-1h0m0.5 3h0m0.5-1.5h0m0.5 1h0m0.5 0.5h0m0-2.5h0m0.5-3h0m0 4.5h0m0-1h0m0.5 0h0m0-3h0m0 0.5h0m0.5 1.5h0m0.5 0.5h0m0.5-0.5h0m0 3h0m0-1h0m0.5-3h0m0 3.5h0m0-4.5h0m0 3h0m0.5 0.5h0m0-2h0m0-2h0m0.5 3h0m0 0.5h0m0-2.5h0m0 4h0m0.5-3h0m0 0.5h0m0.5 2.5h0m0-3h0m0.5 0.5h0m0-3h0m0 1h0m0 3h0m0.5 1.5h0m0-3.5h0m0 1h0m0-1.5h0m0-1.5h0m0.5 5h0m0-0.5h0m0-1h0m0.5-2h0m0 1.5h0m0-0.5h0m0-1h0m0.5 3.5h0m0-1.5h0m0-3h0m0 4h0m0.5 1h0m0-4.5h0m0 1.5h0m0.5 1h0m0-3.5h0m0.5 4.5h0m0-3.5h0m0 2h0m0 0.5h0m0-1h0m0.5 3h0m0 0h0m0-1.5h0m0-3h0m0 1.5h0m0.5 3.5h0m0-4h0m0 3h0m0.5-4.5h0m0 2.5h0m0-1h0m0-0.5h0m0.5 3.5h0m0-1.5h0m0-3.5h0m0 2.5h0m0.5 3.5h0m0-1h0m0-4h0m0 1h0m0.5 1.5h0m0 0h0m0 1.5h0m0-2.5h0m0.5-1.5h0m0 3h0m0-2h0m0-1.5h0m0.5 2.5h0m0-2.5h0m0 5h0m0-4.5h0m0 2.5h0m0-1.5h0m0.5 2.5h0m0 1.5h0m0-3.5h0m0-0.5h0m0.5-1h0m0 3.5h0m0-1h0m0-3h0m0.5 1.5h0m0.5-2h0m0 2.5h0m0-1.5h0m0 4.5h0m0-2h0m0 1h0m0.5 0h0m0-2h0m0.5 0.5h0m0-2.5h0m0 0.5h0m0 2.5h0m0-3.5h0m0 4h0m0.5 1.5h0m0-4h0m0 3h0m0-2.5h0m0.5 1.5h0m0 2h0m0.5-1h0m0-2.5h0m0-0.5h0m0.5-1.5h0m0 3.5h0m0 1.5h0m0-2.5h0m0 3.5h0m0.5-4.5h0m0 4h0m0-3.5h0m0.5 0.5h0m0-1.5h0m0 1h0m0 3.5h0m0-2h0m0.5 1h0m0 1h0m0-3h0m0.5 1h0m0-1.5h0m0 4h0m0-1.5h0m0-3h0m0.5-0.5h0m0 1h0m0 1.5h0m0-0.5h0m0 3h0m0.5-1.5h0m0-4.5h0m0 5.5h0m0-4.5h0m0 4h0m0.5-1.5h0m0 1h0m0-1.5h0m0.5-2.5h0m0 2h0m0 1.5h0m0-4h0m0.5 2h0m0-1h0m0 4h0m0 0h0m0.5-4h0m0-0.5h0m0 5h0m0-3.5h0m0.5 0.5h0m0 1.5h0m0.5-1.5h0m0 1.5h0m0-2.5h0m0.5-1.5h0m0 6h0m0-1.5h0m0.5-2h0m0-0.5h0m0-1h0m0-0.5h0m0 3h0m0.5-1.5h0m0-1.5h0m0 2.5h0m0 3h0m0.5-1.5h0m0 1h0m0-2h0m0-3h0m0.5 5h0m0-2h0m0 0.5h0m0.5-2h0m0-1h0m0 1h0m0.5 3.5h0m0-1.5h0m0.5-2.5h0m0 0.5h0m0.5 3h0m0-1h0m0-4h0m0 1.5h0m0.5 1h0m0 0.5h0m0 1.5h0m1-1.5h0m0 2h0m0-3.5h0m0.5-0.5h0m0-0.5h0m0.5 4h0m0-0.5h0m0 1h0m0.5 0.5h0m0-3h0m0.5 1h0m0-2h0m0 3h0m0-0.5h0m0.5-1h0m0 3h0m0-5.5h0m1 4h0m0-3h0m0 4h0m0.5-1h0m0-3h0m0-1.5h0m0.5 1.5h0m0 0h0m0 1h0m0.5 3.5h0m0.5-0.5h0m1-4.5h0m0.5 2.5h0m0.5-2h0m0 3h0m1.5-0.5h0m1-0.5h0m0.5 0h0m0.5-2h0m0.5 1.5h0m3.5-3h0m5 1.5h0m2.5 4.5h0m15.5-3h0m0.5-3h0m0.5 4.5h0m-91.5 5h0m8.5-3h0m1.5 0.5h0m2 0h0m1 4.5h0m0-4.5h0m0.5 1h0m2 1.5h0m0.5-2h0m0 3h0m0.5 0.5h0m0.5-4.5h0m0.5 5h0m0.5-3.5h0m0.5-1.5h0m0 5h0m0.5-5h0m0 1h0m0.5 2h0m0 2h0m1-2.5h0m0 1h0m1 2h0m0-2.5h0m0.5 2h0m0 0h0m0-1h0m0-1h0m0.5 2.5h0m0-4.5h0m0 1.5h0m0.5 1h0m0 2h0m0.5-3h0m0 2.5h0m0-4.5h0m0 1h0m0 2.5h0m0-4h0m0 0.5h0m0.5 4h0m0-1.5h0m0.5-0.5h0m0-2h0m0 2.5h0m0.5-0.5h0m0 1.5h0m0.5 1h0m0 0h0m0-3h0m0-1h0m0.5 3h0m0-1h0m0-3.5h0m0.5 1.5h0m0 1.5h0m0 2h0m0.5-4.5h0m0 3h0m0 0.5h0m0-1.5h0m0 2h0m0-4h0m0 1h0m0.5-1h0m0 4.5h0m0.5-1h0m0 1h0m0-1.5h0m0-1h0m0-0.5h0m0.5-1h0m0-0.5h0m0 3.5h0m0.5-4h0m0 4h0m0.5-2.5h0m0 3.5h0m0-4h0m0 3h0m0-2.5h0m0.5 2h0m0 2h0m0-4h0m0 1.5h0m0.5-1.5h0m0-1h0m0 0h0m0 2.5h0m0 0.5h0m0 0.5h0m0 2h0m0.5-1h0m0.5-1h0m0-1.5h0m0-0.5h0m0-2h0m0 0.5h0m0 3.5h0m0 1.5h0m0.5-1.5h0m0-3h0m0 4.5h0m0.5-2.5h0m0 3h0m0-3.5h0m0.5-0.5h0m0 0.5h0m0-2h0m0 3h0m0-2.5h0m0.5 3.5h0m0.5 0h0m0-2.5h0m0 4h0m0-3h0m0.5 0.5h0m0 1.5h0m0-3.5h0m0 3.5h0m0.5-1h0m0-2h0m0 0.5h0m0-2h0m0.5 0.5h0m0 1.5h0m0 2.5h0m0-3h0m0.5 2h0m0-0.5h0m0-3.5h0m0 4.5h0m0.5 0.5h0m0-2.5h0m0-1.5h0m0.5 0.5h0m0 2h0m0 2h0m0-4h0m0 0h0m0.5 1.5h0m0 0h0m0 1.5h0m0-4.5h0m0.5 5h0m0-1h0m0-4h0m0 6h0m0.5-3h0m0-0.5h0m0-0.5h0m0-1h0m0 3.5h0m0-3.5h0m0-0.5h0m0.5 5.5h0m0-4.5h0m0 4h0m0-2h0m0.5-0.5h0m0 2h0m0-2.5h0m0-1h0m0.5-0.5h0m0 3.5h0m0-4h0m0 3h0m0.5 2h0m0.5-3h0m0-1.5h0m0 3h0m0-1h0m0-2.5h0m0 3.5h0m0.5-2.5h0m0 4h0m0.5-1h0m0-3.5h0m0.5 4h0m0-4h0m0 1h0m0 2h0m0-1h0m0 3h0m0-2h0m0.5-2.5h0m0 4.5h0m0-3.5h0m0.5 1.5h0m0.5-2h0m0 3.5h0m0-5h0m0 2.5h0m0.5 1h0m0-3.5h0m0.5 4.5h0m0-4h0m0 3h0m0-1.5h0m0 1h0m0-1.5h0m0.5-1.5h0m0 2.5h0m0.5 2.5h0m0-4h0m0-1.5h0m0.5 2h0m0 2.5h0m0 0.5h0m0-4.5h0m0.5 2h0m0 0h0m0-2h0m0 3.5h0m0.5 1h0m0-4h0m0 1h0m0.5-0.5h0m0 1.5h0m0.5-1h0m0 2.5h0m0-1h0m0-1.5h0m0.5 1.5h0m0-1h0m0.5-1.5h0m0.5 0.5h0m0 2h0m0.5 0h0m0-3.5h0m0 1.5h0m0.5-1h0m0.5-0.5h0m0 5.5h0m0-4h0m0 0h0m0.5 1.5h0m0.5 0h0m0.5 2h0m0-3.5h0m0 0.5h0m0.5 0.5h0m0.5 2.5h0m0.5-1.5h0m0 2.5h0m0-4.5h0m0.5 1h0m0.5 0h0m0-2h0m1 4h0m1-2.5h0m0.5-1h0m0.5 1h0m1 0h0m1.5 3h0m0.5 0.5h0m0.5-3.5h0m4 0h0m3.5-1h0m3.5 4.5h0m3.5-5.5h0m16 4h0m-87 5.5h0m4.5-2.5h0m0 0.5h0m2 2h0m0 1h0m0 1h0m0-3.5h0m0.5-1.5h0m0.5 2h0m0 2.5h0m1.5-2.5h0m0.5 3h0m1-3.5h0m0.5 2h0m0 2h0m0-4.5h0m0 1.5h0m0.5 0h0m0.5 1.5h0m0.5-2h0m0-1.5h0m0.5 3h0m0.5-1h0m0.5-3h0m0.5 3.5h0m0-2.5h0m0.5 0.5h0m0 0.5h0m0 2h0m0 1h0m0-4h0m1 0.5h0m0-0.5h0m1 0.5h0m0-0.5h0m0.5-0.5h0m0.5 5h0m0-1.5h0m0-2h0m0 1.5h0m0.5-0.5h0m0-1h0m0.5 2h0m0-3.5h0m0.5 3h0m0 2h0m0.5-1h0m0 1h0m0.5 0h0m0-4.5h0m0.5 0.5h0m0-0.5h0m0 2h0m0 0.5h0m1 1h0m0-3h0m0 3h0m0-1h0m0-3h0m0 5h0m0-5.5h0m0.5 2.5h0m0-2h0m0 1h0m0 2.5h0m0-1h0m0.5 2h0m0.5-4.5h0m0 1.5h0m0 2h0m0.5-4h0m0 3.5h0m0.5-2.5h0m0-0.5h0m0 2h0m0 2.5h0m0.5-4h0m0 2.5h0m0 2.5h0m0-1h0m0-3h0m0.5 2h0m0-2.5h0m0 2h0m0.5-1h0m0-1h0m0-0.5h0m0-0.5h0m0 4.5h0m0.5-0.5h0m0.5 0.5h0m0-4h0m0 2.5h0m0-1.5h0m0.5-0.5h0m0-0.5h0m0 1.5h0m0-2.5h0m0.5 5h0m0-1.5h0m0 2.5h0m0-3.5h0m0.5-0.5h0m0 3h0m0.5-0.5h0m0.5-2h0m0.5 0.5h0m0-1h0m0-1.5h0m0.5 2h0m0-1.5h0m0.5 2.5h0m0.5-2.5h0m0 4h0m0-3.5h0m0-1.5h0m0 5h0m0-3h0m0 2h0m0-2h0m0-1.5h0m0.5 2.5h0m0-2.5h0m0.5 5h0m0-1.5h0m0-2.5h0m0.5 1.5h0m0-2.5h0m0 3h0m0 0h0m0-3h0m0.5 5.5h0m0-3.5h0m1-2h0m0 2h0m0.5 1h0m0.5-3h0m0 1h0m0-1.5h0m0 4.5h0m0.5-2h0m0-2h0m0.5 1h0m0 2h0m0-1h0m0.5-1.5h0m0 0.5h0m0.5 3h0m0-1.5h0m0-2.5h0m0 1h0m0 1h0m1 0h0m0 1.5h0m0-2.5h0m0-1h0m0.5 1h0m0-0.5h0m0-1h0m0.5 4.5h0m0.5-1.5h0m0-1h0m0.5-1h0m0-1h0m0 0.5h0m0 2h0m0 1h0m0.5-1.5h0m0 3h0m0-1h0m0.5-2.5h0m0.5-1.5h0m0 6h0m0.5-4h0m0-1.5h0m0.5 3.5h0m0-3h0m0.5-0.5h0m0.5 2.5h0m0 0.5h0m1-1.5h0m0-1.5h0m0.5 0h0m1.5 4.5h0m0.5-4.5h0m0 5.5h0m2.5-3.5h0m0.5-0.5h0m5.5-2h0m3 0.5h0m6.5 1.5h0m9 1.5h0m-77 4h0m6-1.5h0m3 2.5h0m2.5-0.5h0m1 0.5h0m0.5 3h0m0.5-4.5h0m1.5 1h0m0.5 1h0m1-3h0m0 5.5h0m0.5-5h0m1.5 0.5h0m0-1h0m0.5 0.5h0m0 4.5h0m0-3.5h0m0.5 2h0m0 0.5h0m0.5 1.5h0m0.5-4.5h0m0 1.5h0m0.5-2h0m0 2h0m0 3.5h0m1-5.5h0m0.5 2.5h0m0 2h0m0-3h0m0.5 3.5h0m0-3.5h0m0.5 2.5h0m0.5-4.5h0m0.5 1h0m1 0h0m0 4.5h0m1-1h0m0-0.5h0m2-3.5h0m0.5 2.5h0m0.5 1h0m0.5-1.5h0m1 3h0m0.5-4h0m0.5 0.5h0m0.5 0.5h0m0-2.5h0m0.5 5.5h0m0-4.5h0m0.5 2.5h0m0.5-1h0m0.5 0.5h0m0-2h0m0.5-1h0m0 2.5h0m1-2h0m1.5 4h0m0.5-4h0m1-0.5h0m0.5 1h0m1 4h0m0.5-4.5h0m0 4h0m1-2h0m1.5 0h0m0 0.5h0m1.5 2h0m1.5 0h0m7-0.5h0m-45.5 3h0m1-0.5h0m1 2.5h0m2-3.5h0m2.5 4h0m1.5-1.5h0m3 0h0m0 2h0m1-4.5h0m1.5 4.5h0m2.5-2h0m0.5 3.5h0m1.5-4h0m0.5-2h0m4 5h0m10-4.5h0m2.5 3h0m-27 5h0m19 0h0m10.5 0.5h0" stroke="#fb1414" stroke-width="1.55" stroke-linecap="round" fill="none"/>
<rect x="1069" y="425.4" width="154.4" height="125.8" fill="none" stroke="#111" stroke-width="1.3"/>
<line x1="1144.4" y1="425.4" x2="1144.4" y2="551.2" stroke="#111" stroke-width="1.3"/>
<line x1="1069" y1="490.3" x2="1223.4" y2="490.3" stroke="#111" stroke-width="1.3"/>
<path d="M1086.3 551.2v3.8M1069 536.2h-3.2M1090.6 551.2v3.8M1069 532.5h-3.2M1093.9 551.2v3.8M1069 529.7h-3.2M1096.6 551.2v3.8M1069 527.3h-3.2M1098.9 551.2v3.8M1069 525.4h-3.2M1100.9 551.2v3.8M1069 523.6h-3.2M1102.6 551.2v3.8M1069 522.1h-3.2M1115.8 551.2v3.8M1122.6 551.2v3.8M1069 506.2h-3.2M1127.4 551.2v3.8M1069 502.4h-3.2M1131.2 551.2v3.8M1069 499.5h-3.2M1134.2 551.2v3.8M1069 497.1h-3.2M1136.8 551.2v3.8M1069 495h-3.2M1139.1 551.2v3.8M1069 493.3h-3.2M1141 551.2v3.8M1069 491.7h-3.2M1154.2 551.2v3.8M1160.9 551.2v3.8M1069 474.4h-3.2M1165.6 551.2v3.8M1069 470.3h-3.2M1169.3 551.2v3.8M1069 467h-3.2M1172.3 551.2v3.8M1069 464.4h-3.2M1174.8 551.2v3.8M1069 462.2h-3.2M1177 551.2v3.8M1069 460.2h-3.2M1179 551.2v3.8M1069 458.5h-3.2M1192.8 551.2v3.8M1199.8 551.2v3.8M1069 442.2h-3.2M1204.8 551.2v3.8M1069 438.3h-3.2M1208.7 551.2v3.8M1069 435.3h-3.2M1211.9 551.2v3.8M1069 432.9h-3.2M1214.6 551.2v3.8M1069 430.8h-3.2M1216.9 551.2v3.8M1069 429h-3.2M1219 551.2v3.8M1069 427.4h-3.2M1070 551.2v6.2M1069 550.2h-5.2M1104.2 551.2v6.2M1069 520.8h-5.2M1142.8 551.2v6.2M1069 490.3h-5.2M1180.7 551.2v6.2M1069 457h-5.2M1220.8 551.2v6.2M1069 426h-5.2" stroke="#111" stroke-width="1.1" fill="none"/>
<text x="1063.4" y="567.8" font-size="8.0" font-weight="bold">10<tspan font-size="6.4" dy="-4.2">0</tspan></text>
<text x="1062.6" y="556.8" font-size="8.0" font-weight="bold" transform="rotate(-90 1062.6 556.8)">10<tspan font-size="6.4" dy="-4.2">0</tspan></text>
<text x="1097.6" y="567.8" font-size="8.0" font-weight="bold">10<tspan font-size="6.4" dy="-4.2">1</tspan></text>
<text x="1062.6" y="527.4" font-size="8.0" font-weight="bold" transform="rotate(-90 1062.6 527.4)">10<tspan font-size="6.4" dy="-4.2">1</tspan></text>
<text x="1136.2" y="567.8" font-size="8.0" font-weight="bold">10<tspan font-size="6.4" dy="-4.2">2</tspan></text>
<text x="1062.6" y="496.9" font-size="8.0" font-weight="bold" transform="rotate(-90 1062.6 496.9)">10<tspan font-size="6.4" dy="-4.2">2</tspan></text>
<text x="1174.1" y="567.8" font-size="8.0" font-weight="bold">10<tspan font-size="6.4" dy="-4.2">3</tspan></text>
<text x="1062.6" y="463.6" font-size="8.0" font-weight="bold" transform="rotate(-90 1062.6 463.6)">10<tspan font-size="6.4" dy="-4.2">3</tspan></text>
<text x="1214.2" y="567.8" font-size="8.0" font-weight="bold">10<tspan font-size="6.4" dy="-4.2">4</tspan></text>
<text x="1062.6" y="432.6" font-size="8.0" font-weight="bold" transform="rotate(-90 1062.6 432.6)">10<tspan font-size="6.4" dy="-4.2">4</tspan></text>
<text x="1149.1" y="580" text-anchor="middle" font-weight="bold" font-size="10.8">Annexin V-FITC</text>
<text x="1048.1" y="487" text-anchor="middle" font-weight="bold" font-size="10.8" transform="rotate(-90 1048.1 487)">PI</text>
<text x="1144.4" y="409.6" text-anchor="middle" font-size="14">JMJD2C+sh-MALAT1</text>
<path d="M1342.5 439.5h0m13.5-2h0m-11 6h0m14.5 0.5h0m3.5 2.5h0m-23.5 1h0m2.5 3h0m1.5-3.5h0m10.5 3.5h0m2 2h0m0.5-2h0m3-1.5h0m8.5 1h0m-24.5 8.5h0m3.5-2h0m0.5-1h0m2 1.5h0m1 0.5h0m1.5-1.5h0m1 1.5h0m0.5 1h0m2-1h0m0.5-1.5h0m1-0.5h0m1.5 0.5h0m0.5-1.5h0m2 3.5h0m0-3.5h0m1.5 0h0m1 4h0m1-4h0m1.5-0.5h0m1-1h0m11 2h0m-40 6h0m2 1h0m3 2.5h0m0-1h0m1 1h0m1.5-5.5h0m4.5 2.5h0m0 2.5h0m2.5 0h0m0-2.5h0m0.5-0.5h0m1 4h0m0-5.5h0m2 5h0m0.5-2.5h0m2 1.5h0m1 0h0m1 1.5h0m0-1.5h0m1-3.5h0m0.5 2h0m1-1h0m0-1.5h0m0 1.5h0m3.5 2.5h0m0 0.5h0m0-2h0m1.5 2.5h0m1.5-3h0m1-1h0m2.5 3.5h0m-42.5 3.5h0m2.5 2.5h0m2-3.5h0m0.5 4.5h0m1-4.5h0m3-0.5h0m0 1h0m2 2h0m0.5 0.5h0m1.5-1h0m0.5 0.5h0m0-0.5h0m2-0.5h0m0.5 0h0m1-1h0m0.5 1.5h0m1-0.5h0m0-1.5h0m1 0.5h0m0.5 4h0m1-4.5h0m0 1h0m1 2.5h0m1 1h0m0-4h0m0.5 2.5h0m0.5-3h0m1 1.5h0m0 2h0m0.5-2.5h0m0.5 3h0m0 0h0m0-2h0m1.5-1h0m0 2.5h0m0-3.5h0m0.5 1.5h0m0.5 2.5h0m0.5-3.5h0m0 2.5h0m0-1h0m3.5 2h0m0.5-5h0m1 5h0m0-3.5h0m2 1.5h0m1-3.5h0m0 0.5h0m1 2.5h0m0.5 0h0m0.5 2.5h0m0.5-1h0m2-1h0m0.5 1h0m0 1h0m27.5-4h0m-66 7h0m3 0.5h0m0.5-2.5h0m0.5 3h0m3 1h0m1.5-0.5h0m2-3.5h0m1.5 4.5h0m0-3h0m1.5-1h0m0.5 4h0m1-4.5h0m1 5h0m0-1.5h0m1-2.5h0m0.5 4h0m1-4.5h0m0 2.5h0m1 1.5h0m1-3.5h0m0.5 2h0m1.5-1h0m1 1h0m0-1.5h0m1 0h0m0.5 0h0m1-1.5h0m2 2.5h0m0.5 0h0m1 1.5h0m0-2.5h0m2 0h0m1 2.5h0m0-3h0m0.5 3.5h0m3.5-0.5h0m1.5-4.5h0m3 3.5h0m1.5-2.5h0m3.5 2.5h0m6.5 2h0m-65 0.5h0m4.5 0.5h0m1 4.5h0m5.5-3.5h0m2 2h0m1.5 0h0m0.5 1h0m0.5-0.5h0m2.5-3h0m0 0h0m1.5 4.5h0m1 0h0m0-2.5h0m1.5 1h0m1 0.5h0m0-4h0m0.5 1.5h0m0.5 4h0m0-5h0m1 2.5h0m0 2h0m0.5-4h0m0.5-1.5h0m0 6h0m0-1h0m0.5-4h0m0.5 4.5h0m0-5h0m0 1.5h0m0.5-1.5h0m2 1.5h0m1 1h0m0-2h0m1 2h0m1 2.5h0m0-4.5h0m1 3.5h0m0.5 1.5h0m0-1h0m1-2h0m0.5-0.5h0m0-2h0m0.5 1h0m0 0.5h0m0-1.5h0m0 2.5h0m1.5-0.5h0m0.5 0h0m0-0.5h0m0.5-1h0m0 2.5h0m0.5 2.5h0m0.5-5.5h0m0.5 0h0m1.5 3h0m0-2.5h0m1-0.5h0m0.5 3h0m0-1h0m2 3.5h0m2-2.5h0m0 2.5h0m0-1.5h0m0.5-2.5h0m0 2.5h0m1-2h0m1.5 1h0m1 0.5h0m2.5-0.5h0m0-1.5h0m1 0h0m0.5 1.5h0m-65.5 7h0m9.5-1.5h0m1.5 1.5h0m4.5-1h0m1 2h0m1.5-1.5h0m2-1h0m1 2h0m0.5-3h0m0.5 3h0m0.5-2h0m0.5 1.5h0m0-1.5h0m2 0h0m1.5 3h0m0.5-2.5h0m0-0.5h0m2 0.5h0m0.5 0.5h0m3-0.5h0m0-3.5h0m0 4.5h0m0.5-4.5h0m0.5 0.5h0m2 0.5h0m1 2.5h0m0 2h0m0-4.5h0m1 3.5h0m0.5-2h0m1 0h0m1.5-2.5h0m0 4h0m0.5 0.5h0m0.5-1.5h0m0.5-1h0m1-2h0m0.5 5.5h0m0-1h0m0-2h0m1.5 2.5h0m0.5-1.5h0m1 1.5h0m0-3.5h0m1 1h0m0-1h0m0 2h0m1-2h0m0 3.5h0m0.5-3.5h0m0 2.5h0m1-2.5h0m0 0h0m1.5 0h0m0 4.5h0m0-1h0m0-3h0m3.5 3h0m1 0.5h0m0-2h0m0.5-3h0m0.5 2.5h0m0 0.5h0m1.5 0h0m3 1h0m1-2.5h0m1.5 1h0m-74.5 8.5h0m5-3h0m1 1.5h0m0.5-1h0m1.5-3h0m2 5.5h0m2-4.5h0m1.5 3.5h0m0.5-4.5h0m2 5.5h0m3-5h0m1 3h0m2 0h0m0-2h0m1-1h0m0.5 4.5h0m0.5 0.5h0m0.5-1h0m1 1h0m0-5.5h0m0.5 6h0m0.5-4.5h0m0.5 4h0m0.5-2h0m0.5 2h0m0.5-0.5h0m2.5-1.5h0m2.5-1h0m0 3h0m4 0.5h0m1.5-2h0m0.5 0.5h0m0-1.5h0m0.5 2h0m0.5-1.5h0m0 2h0m1.5-3.5h0m1 1.5h0m1 1h0m0.5-2h0m0.5 2h0m0 0.5h0m1-2.5h0m0.5 2h0m3-4.5h0m1.5 3.5h0m0.5-1.5h0m1-0.5h0m1 0.5h0m0 3h0m0.5-2.5h0m1 2.5h0m0-0.5h0m0.5-2h0m0.5 2.5h0m0-2.5h0m1-2.5h0m0 4h0m2 0h0m0.5-2.5h0m0 4h0m0.5-5h0m1 1.5h0m0.5 3.5h0m0.5-5h0m0.5 2h0m0.5-2.5h0m0 1.5h0m1-1h0m0 3.5h0m3.5 1h0m0-1h0m1-3.5h0m3 1.5h0m0.5 3.5h0m1.5-4h0m0 4h0m4-0.5h0m10.5 0.5h0m-89 2.5h0m0.5 1.5h0m0 0.5h0m2 0h0m2.5 1h0m1-1.5h0m0.5 2.5h0m3-4.5h0m1 1h0m0 2h0m1-3.5h0m0 1h0m0 1.5h0m0.5 0h0m1-2h0m0-1h0m0.5 2h0m0.5 3h0m0-3.5h0m1 1h0m1 1h0m0 0.5h0m0 1.5h0m0.5-1h0m0.5-0.5h0m0 1h0m0.5-2h0m0-1h0m0.5 2h0m0-2.5h0m0 4h0m0.5-0.5h0m0.5-3.5h0m0 3h0m0-1h0m0-1h0m0.5 2h0m0-1.5h0m0.5 0.5h0m0.5-0.5h0m0 1.5h0m0.5-4h0m0.5 5h0m0.5-0.5h0m0-1.5h0m0.5-0.5h0m0-1h0m0.5 1h0m0 1.5h0m1-3.5h0m0 0.5h0m0.5-0.5h0m0-0.5h0m0 4h0m0.5-1.5h0m0.5-2h0m0 2.5h0m0-0.5h0m0.5-2.5h0m0 3.5h0m1 1h0m0 0h0m1-1h0m0.5-0.5h0m0-1h0m0.5-1.5h0m1 2h0m0 1.5h0m0.5 0.5h0m1-3.5h0m3.5 3.5h0m0.5-2.5h0m0 2h0m0.5 0h0m1-2h0m1 2.5h0m0.5-1.5h0m1.5-1.5h0m0.5 2.5h0m1-3h0m0 0.5h0m1-2.5h0m0.5 3.5h0m0-3h0m0.5 2.5h0m0.5 2.5h0m1.5-5h0m0.5 5h0m1-4.5h0m0.5 2h0m1.5-2.5h0m0 3.5h0m1-1.5h0m0-1.5h0m0 4.5h0m1-0.5h0m0.5-0.5h0m0.5 0.5h0m1-3.5h0m1.5 4.5h0m0-1h0m1.5-4.5h0m0 4h0m1.5 1.5h0m0-2h0m1-3.5h0m0 0.5h0m0 0.5h0m0 2.5h0m1-1.5h0m0 0.5h0m1-1.5h0m0 3h0m1.5-2h0m1 1.5h0m1-0.5h0m1.5-1.5h0m1-1.5h0m5.5 4h0m0.5-1.5h0m10 2h0m-99 1.5h0m6.5 5.5h0m2.5-0.5h0m4.5-2.5h0m1.5-1h0m1 3h0m0 1h0m1.5-4h0m0.5 3h0m0-3h0m0.5 1h0m0-0.5h0m0 2h0m0.5 0h0m0 0.5h0m0.5-3h0m0-1h0m0.5 4.5h0m0.5-4.5h0m0.5 3.5h0m0 1h0m0.5 0.5h0m0-3h0m0 1h0m0-4h0m0.5 1h0m0.5 1h0m0 3h0m0.5 0.5h0m1-2.5h0m0-2h0m0 4.5h0m0.5-4.5h0m0 2.5h0m0.5 1h0m0.5-2h0m0 2h0m0 1h0m0.5 0.5h0m0.5-3h0m0 1h0m0 2h0m0.5-1h0m0-4h0m0 3h0m0.5-1.5h0m0 2h0m0-2h0m0 0.5h0m0-3h0m0.5 1.5h0m0 2.5h0m0 1.5h0m0-5h0m0.5 0.5h0m0 0.5h0m0-1.5h0m0 5h0m0-1h0m0.5-1h0m0-0.5h0m0 2.5h0m0.5 0.5h0m0-3h0m0.5-2h0m0 3.5h0m0-1.5h0m0.5 2h0m0 1h0m0-3.5h0m0 2h0m0.5 1h0m0.5 0.5h0m0-4h0m0.5 2.5h0m0.5-1.5h0m0-1h0m0 3h0m0.5 1h0m0-3h0m0 2h0m0.5-1.5h0m0 2.5h0m0-0.5h0m0-3.5h0m0-1.5h0m0.5 2.5h0m0 2.5h0m0-2h0m0.5-2h0m0 4.5h0m0-3h0m0.5-1h0m0 3h0m0 1h0m0.5-2h0m0-1.5h0m0-1.5h0m0.5 0h0m0 1.5h0m0-2h0m0 4h0m0 1.5h0m0.5-4h0m0 1.5h0m0 2h0m0-3.5h0m0.5 1h0m0 3h0m0-5h0m0.5 4h0m0-2h0m0 2h0m0-3h0m0-0.5h0m0.5 2.5h0m0-0.5h0m0.5-2.5h0m0 3h0m0 1.5h0m0.5-1h0m0.5-2h0m0 1.5h0m0 1h0m0-1.5h0m0.5 3h0m0.5-5.5h0m0 5h0m0-5.5h0m0 4.5h0m0-2h0m0-1h0m0 3h0m0.5 0.5h0m0-1.5h0m0 2h0m0-4.5h0m0.5 2h0m0-1.5h0m0.5 2.5h0m0-1h0m0 3h0m0.5-1.5h0m0-3h0m0.5 2h0m0-2.5h0m0 2h0m0-1h0m0.5 1.5h0m0-2.5h0m0.5 0.5h0m0-0.5h0m0.5 2h0m0 3h0m0-1h0m0-0.5h0m0.5 0h0m0.5-3.5h0m0 4.5h0m0.5-3h0m0 3.5h0m0-2.5h0m0.5-2.5h0m0 0h0m0-0.5h0m0.5 3.5h0m0-1.5h0m0.5 2.5h0m0.5-3.5h0m0 0.5h0m0.5-1.5h0m0 0.5h0m0 3.5h0m0.5-2h0m0.5 1.5h0m0-1h0m0-2.5h0m0 5h0m0.5-2h0m1-0.5h0m0-2.5h0m0 1h0m0.5 3.5h0m0.5-1.5h0m0 0.5h0m0 1.5h0m0.5-1h0m0-2h0m0.5 1h0m1 1h0m0 0h0m1.5-3.5h0m1-0.5h0m0.5 4h0m0.5 1h0m1-1h0m2 0.5h0m0-2.5h0m2.5-1h0m0.5 1h0m3-2h0m4 1.5h0m5.5-1h0m0-0.5h0m10 2.5h0m2.5-2h0m3.5 1h0m1 0.5h0m-92.5 4.5h0m7 4h0m1-4.5h0m0 5h0m0.5-4.5h0m0.5 2h0m0.5 3h0m0 0h0m0.5-1h0m0-2.5h0m1 1.5h0m0-2.5h0m0 3.5h0m0.5-2h0m0.5-0.5h0m0.5 3.5h0m0.5-3.5h0m0 1.5h0m0-2.5h0m0.5 1.5h0m0-3h0m0 5.5h0m0-5.5h0m0.5 5h0m0.5-1h0m0-3h0m0 3.5h0m0-3h0m0.5 0.5h0m0 3.5h0m0.5-0.5h0m0-2.5h0m0 1h0m0-1.5h0m0 3.5h0m1-3.5h0m0-1h0m0.5-0.5h0m0 1h0m0 4h0m0-2.5h0m0.5 1.5h0m0-1h0m0-3h0m0.5 0.5h0m0 4h0m0-3h0m0.5 3.5h0m0-1.5h0m0-1h0m0-1.5h0m0.5 4h0m0-5h0m0 3h0m0-0.5h0m0-1h0m0.5 3h0m0-3.5h0m0 2h0m0-2.5h0m0.5 1h0m0 2.5h0m0 1h0m0.5 0h0m0-1h0m0-1h0m0-2h0m0.5-0.5h0m0.5 5h0m0-1h0m0-4h0m0 1h0m0.5 0.5h0m0 2.5h0m0-2.5h0m0.5-1.5h0m0-0.5h0m0 2h0m0.5 2h0m0-2h0m0 1h0m0 2h0m0.5 0.5h0m0-3.5h0m0-1h0m0-1h0m0.5 3.5h0m0-4h0m0 2h0m0 2.5h0m0.5 1h0m0-4.5h0m0 3.5h0m0-4h0m0 5.5h0m0.5-3.5h0m0 0.5h0m0-1.5h0m0 2.5h0m0.5 1h0m0 0.5h0m0-1.5h0m0.5-2h0m0-0.5h0m0 1.5h0m0-2.5h0m0 3.5h0m0.5 1.5h0m0-4.5h0m0 3.5h0m0-1.5h0m0.5-1h0m0-1h0m0 3.5h0m0-3h0m0 2h0m0-1h0m0.5 1.5h0m0 1.5h0m0.5-5h0m0 4h0m0-2h0m0 3h0m0.5-1.5h0m0-1h0m0 1.5h0m0-3.5h0m0-1h0m0 6h0m0.5-2.5h0m0-0.5h0m0-0.5h0m0.5 3.5h0m0-2.5h0m0-2.5h0m0.5 2.5h0m0 1.5h0m0-3h0m0.5 0.5h0m0 2.5h0m0-1.5h0m0-3.5h0m0.5 3h0m0-2h0m0 5h0m0-5h0m0.5 3.5h0m0-1h0m0 2h0m0.5-2.5h0m0-3h0m0 4.5h0m0.5-1h0m0-2.5h0m0 1h0m0 3.5h0m0-2.5h0m0.5 0.5h0m0-1.5h0m0 2h0m0-3h0m0 4h0m0.5 0.5h0m0-5.5h0m0.5 0.5h0m0 2.5h0m0 0.5h0m0.5-2h0m0 3.5h0m0 0h0m0 0.5h0m0.5-3.5h0m0-0.5h0m0 1.5h0m0-3h0m0 3.5h0m0.5 1.5h0m0 0.5h0m0-1.5h0m0-4h0m0 3h0m0.5-1h0m0 3h0m0.5-1h0m0 0.5h0m0.5-2.5h0m0.5-2h0m0 3.5h0m0-2.5h0m0 2h0m0 1.5h0m0 1.5h0m0.5-4.5h0m0 4h0m0-3.5h0m0 1h0m0.5 1h0m0-0.5h0m0.5-1h0m0-2h0m0 1h0m0 3.5h0m0.5 0h0m0-1.5h0m0-0.5h0m0-3h0m0.5 1.5h0m0 4h0m0-3.5h0m0 2.5h0m0.5-2h0m0 1h0m0 1.5h0m0-1.5h0m0-2.5h0m0-0.5h0m0.5 4h0m0 0.5h0m0-3h0m0 1h0m0.5 2h0m0-4.5h0m0 1h0m0.5 1h0m0 1h0m0-0.5h0m0.5-3h0m0 1.5h0m0-1h0m0 4.5h0m0.5-4h0m0 1.5h0m0 3.5h0m0-3.5h0m0.5-1h0m0-0.5h0m0 3h0m0-3.5h0m0.5 5h0m0-2.5h0m0.5 1.5h0m0-2.5h0m0 3.5h0m1 0h0m0-1h0m0.5-4h0m0 1.5h0m0.5 3.5h0m0-3h0m0 2.5h0m0.5-4h0m0.5 1h0m0 2.5h0m1 1h0m0-1h0m0-4h0m0.5 1h0m0.5 1h0m0 2h0m0.5 0h0m0.5-1.5h0m0-2.5h0m0.5 3h0m0-3h0m0.5 5.5h0m0.5-4h0m0 0.5h0m0 1.5h0m0.5 0.5h0m0.5 1h0m0.5-1h0m0.5-2h0m0-1h0m0.5 2.5h0m0-2h0m1.5 1h0m8.5-1h0m2.5-1h0m2 4.5h0m1-5.5h0m4 5.5h0m3-1h0m-77 5.5h0m2.5-2.5h0m2 1.5h0m0.5 0.5h0m0 1.5h0m0.5-0.5h0m0 1h0m1-2.5h0m0.5 0h0m1 1.5h0m0-3.5h0m0 3h0m1-3h0m0 3.5h0m1 1.5h0m0-4h0m0-1.5h0m0.5 3.5h0m0.5-2.5h0m0.5 2.5h0m0 1h0m0-0.5h0m0.5-4h0m0 5h0m0.5-1.5h0m0 0.5h0m0.5 0.5h0m0-4h0m0 1h0m0.5-2h0m0 4h0m0 0.5h0m0-1.5h0m0.5 1.5h0m0-4h0m0 5h0m0-2h0m0.5 2h0m0.5-4h0m0 2.5h0m0.5 0.5h0m0.5-0.5h0m0 1.5h0m0.5-0.5h0m0 0.5h0m0-3h0m0.5-2.5h0m0 4h0m0-3.5h0m0 4.5h0m0.5-1h0m0-1.5h0m0-1h0m0-0.5h0m0.5 3.5h0m0-1.5h0m0 2h0m0-3.5h0m0.5 2.5h0m0-3h0m0 1h0m0-0.5h0m0.5 3.5h0m0-1h0m0 1h0m0-4.5h0m0.5 0h0m0 3.5h0m0 1.5h0m0-0.5h0m0.5-3.5h0m0-0.5h0m0.5 3.5h0m0-3.5h0m0 0.5h0m0.5 1.5h0m0 2.5h0m0-1.5h0m0-1h0m0-1.5h0m0.5 0h0m0 4h0m0-1.5h0m0 0.5h0m0.5-2h0m0-2.5h0m0 5h0m0.5-3h0m0 2h0m0 1h0m0.5 0h0m0-2h0m0 1h0m0-3h0m0 1h0m0.5 1.5h0m0-3.5h0m0.5 2.5h0m0 1.5h0m0.5 1.5h0m0-1.5h0m0-3h0m0 0h0m0 5h0m0-1h0m0-0.5h0m0-0.5h0m0.5-2h0m0 0.5h0m0-2h0m0.5 3h0m0-2h0m0 3.5h0m0-4.5h0m0.5 1h0m0.5 4.5h0m0-5.5h0m0 1.5h0m0 1h0m0 2.5h0m0-2h0m0.5-2.5h0m0 4.5h0m0-1h0m0 1.5h0m0.5-4h0m0 1h0m0-2h0m0-0.5h0m0.5 4.5h0m0-4h0m0 3h0m0-2h0m0-1.5h0m0.5 2.5h0m0 2h0m0-1h0m0.5-1.5h0m0-2.5h0m0 1.5h0m0 3.5h0m0.5 0h0m0-0.5h0m0-0.5h0m0-1.5h0m0.5-1.5h0m0 1h0m0-1.5h0m0 4.5h0m0.5-1.5h0m0-2h0m0 1.5h0m0 3h0m0.5-4h0m0 3h0m0-2h0m0 2h0m0-3.5h0m0.5 3h0m0-2.5h0m0 1.5h0m0.5-3h0m0 5h0m0-4h0m0 3h0m0.5-2.5h0m0 1h0m0 0.5h0m0-3h0m0.5 0h0m0 1h0m0 1h0m0 1.5h0m0.5-2h0m0 1.5h0m0 2.5h0m0.5-4.5h0m0 3h0m0-2h0m0 1.5h0m0-4h0m0.5 5.5h0m0-1h0m0-2.5h0m0 1h0m0.5-2h0m0-0.5h0m0 3.5h0m0.5 1.5h0m0-3h0m0 1.5h0m0-4h0m0 2h0m0.5-1h0m0 3h0m0 0h0m0.5-3h0m0-0.5h0m0 4h0m0-2h0m0.5-0.5h0m0.5 2h0m0-1.5h0m0-1h0m0-1.5h0m0 2.5h0m0 1.5h0m0.5 2h0m0-5.5h0m0 1h0m0 1h0m0 3h0m0.5-4h0m0-1h0m0 4h0m0.5 1h0m0.5-2h0m0-0.5h0m0-1.5h0m0-1h0m0.5 0.5h0m0 1.5h0m0-1h0m0 2h0m0.5-1.5h0m0 0.5h0m0.5 1.5h0m0-3.5h0m0 4.5h0m0.5-4h0m0 2h0m0-2.5h0m0 3.5h0m0-2h0m0.5 0.5h0m0.5 1.5h0m0-4h0m0 5.5h0m0-4h0m0 2.5h0m0.5 1h0m0-1.5h0m0-2h0m0 0.5h0m0.5-1.5h0m0 4h0m0-2h0m0.5-1.5h0m0 3.5h0m0.5-1.5h0m0 1h0m0.5-2h0m0 1.5h0m0.5 0.5h0m0-3h0m0.5 2h0m0.5 1.5h0m0.5-4.5h0m0 2.5h0m0.5-2h0m1 1h0m2 0h0m0 1.5h0m2 0h0m0.5-2.5h0m1-0.5h0m0 1h0m0.5-0.5h0m4 2h0m1 1.5h0m6 0h0m10 0.5h0m2.5-3.5h0m-81.5 8h0m1 0h0m2-3h0m2 0h0m1.5 0.5h0m2 5h0m1-4.5h0m0.5 0h0m0.5 4h0m0.5 0.5h0m0.5-1h0m0.5 0.5h0m0.5-1h0m0.5-3h0m0 2.5h0m0.5 0.5h0m0.5-3.5h0m0 2.5h0m0.5 1h0m0 2h0m0.5-0.5h0m0-5.5h0m0.5 0.5h0m0 3h0m0 2.5h0m0.5-4h0m0-2h0m0 4.5h0m0-3.5h0m0.5-0.5h0m0 4.5h0m0-3h0m0-1h0m0.5 5h0m0-3.5h0m0.5 1.5h0m0-4h0m0 5.5h0m0.5-5h0m0 1h0m0 4h0m0.5-3.5h0m0 1.5h0m0 1h0m0.5-1.5h0m0 1.5h0m0-4h0m0.5 5h0m0-3.5h0m0-1.5h0m0.5 1.5h0m0 2h0m0 1h0m0-1.5h0m0.5-3.5h0m0 6h0m0-3h0m0.5 2.5h0m0-1.5h0m0-2.5h0m0 0h0m0 2h0m0.5 2.5h0m0-4.5h0m0 3.5h0m0-5h0m0 3h0m0.5 1.5h0m0-3.5h0m0 4.5h0m0.5-3h0m0-0.5h0m0 2.5h0m0-3h0m0-1h0m0.5 3h0m0.5 0h0m0-1h0m0-2h0m0 1.5h0m0-1h0m0.5 2h0m0-2.5h0m0 4h0m0-0.5h0m0.5-2h0m0 3.5h0m0-0.5h0m0-4.5h0m0.5 3h0m0-1.5h0m0 0.5h0m0-1.5h0m0.5 4.5h0m0-5h0m0 4h0m0.5-1h0m0-3.5h0m0 2.5h0m0-0.5h0m0 3h0m0.5-3h0m0 3h0m0-0.5h0m0-1.5h0m0.5 0.5h0m0-0.5h0m0.5 1h0m0-2h0m0 1.5h0m0-2h0m0.5 0.5h0m0-1.5h0m0 4h0m0.5-2h0m0 3.5h0m0-2.5h0m0.5 1h0m0-1.5h0m0-1.5h0m0 1.5h0m0-2.5h0m1 1.5h0m0 2h0m0-2.5h0m0 1h0m0.5-1h0m0 0.5h0m0 0.5h0m0 3h0m0.5-2h0m0 0.5h0m0.5-0.5h0m0-0.5h0m0 1.5h0m0-3h0m0 0h0m0 4.5h0m0-6h0m0 5.5h0m0.5-1.5h0m0-0.5h0m0.5-1h0m0-2h0m0 4.5h0m0-3h0m0-0.5h0m0.5 0h0m0.5 3.5h0m0-3h0m0 2.5h0m0-2h0m0 3.5h0m0-5.5h0m0.5 3.5h0m0 1.5h0m0-0.5h0m0-1.5h0m0-1h0m0.5-1h0m0-0.5h0m0 2.5h0m0-3.5h0m0.5 0.5h0m0 1h0m0 4.5h0m0-2h0m0.5 1h0m0-2h0m0-3h0m0 2h0m0.5 1h0m0-2h0m0 3.5h0m0 1h0m0-2h0m0.5 1.5h0m0-4.5h0m0 2h0m0-0.5h0m0.5-1.5h0m0 4.5h0m0.5 1h0m0-2h0m0-0.5h0m0.5-2.5h0m0 0.5h0m0 0.5h0m0-1.5h0m0.5 3.5h0m0 1h0m0.5-4h0m0 3.5h0m0-3h0m0 3.5h0m0.5-1h0m0-1.5h0m0-2h0m0 5h0m0.5-4h0m0 4h0m0-4h0m0-1.5h0m0 4.5h0m0.5-1h0m0-1h0m0-2h0m0.5 5.5h0m0-3h0m0.5 2h0m0.5-3h0m0-1h0m0 3.5h0m0-1.5h0m0.5-3h0m0 2.5h0m0-2h0m0.5 1h0m0-1h0m0 1h0m0 3h0m1-4h0m0 2.5h0m0-1.5h0m0.5-0.5h0m0 2h0m0 0.5h0m0-1h0m0.5 3.5h0m0-4.5h0m0.5-1h0m0 2h0m0.5-1h0m0-0.5h0m0.5 2h0m0-3h0m0.5 1h0m0 1h0m0-1.5h0m0.5 2h0m0 2h0m0.5-4.5h0m0 5h0m0.5-3h0m0 1h0m0.5-2.5h0m0 1.5h0m1.5-0.5h0m0.5 4h0m0-2h0m0 2h0m0.5-2h0m1-0.5h0m0.5-2h0m0 2h0m2 0.5h0m0.5 0.5h0m2.5-1.5h0m18 3h0m-79.5 1.5h0m9 3.5h0m1.5-3h0m1-1h0m1 4.5h0m1.5-3.5h0m0-0.5h0m0 3h0m1.5-3h0m0 3.5h0m0 0h0m0.5-3.5h0m1 4h0m0.5-0.5h0m0.5-3.5h0m1 1h0m0 1h0m0-1h0m0.5 0.5h0m0 1.5h0m0 1h0m0-4.5h0m0.5 0h0m0 4.5h0m0 1h0m0.5-2.5h0m0-2h0m0 2.5h0m0-3h0m0-1h0m0.5 5h0m0.5-1.5h0m0.5-3.5h0m0 1.5h0m0-0.5h0m0.5-0.5h0m0 1h0m0 3.5h0m0.5-1.5h0m0-3h0m0 4h0m0-1h0m0.5 0.5h0m0-3.5h0m0 0h0m0 2.5h0m0.5 1h0m0-0.5h0m0-1h0m0-1h0m0.5-0.5h0m0.5 3h0m0 1h0m0.5-4.5h0m0-0.5h0m0 4.5h0m0.5-3.5h0m0 2h0m0 2h0m0.5-2.5h0m0.5 3h0m0-3h0m0-1.5h0m0-1h0m0 1.5h0m0.5-0.5h0m0 2h0m0 0.5h0m0.5 1h0m0 0h0m0.5 0.5h0m0-4h0m0 1.5h0m0.5 0.5h0m0.5-1.5h0m0-1.5h0m0 2.5h0m0-1.5h0m0.5 2.5h0m0.5-2h0m0 4h0m0-4.5h0m0 2.5h0m0-0.5h0m0.5 2h0m0-3.5h0m0-0.5h0m0.5 4.5h0m0-3.5h0m0.5-1h0m0 4.5h0m0.5-5h0m0 2h0m0 0.5h0m0-3h0m1 4h0m0-1h0m0-2.5h0m1 3h0m0 0.5h0m0-4h0m0 5h0m0.5-2h0m0.5-2.5h0m0 4.5h0m0-2h0m0-3h0m0.5 4h0m0-3h0m0.5 3.5h0m0-3h0m0 2h0m1 2.5h0m0.5-4.5h0m0 1.5h0m0-1.5h0m0.5 2h0m0.5 0.5h0m0-1h0m0-2h0m0.5 0.5h0m0.5-1.5h0m0.5 5.5h0m0.5-3.5h0m0.5 0h0m1 1.5h0m0.5-1.5h0m1.5 2h0m0-3h0m0 2h0m1-3h0m0 2h0m0 1h0m0.5 3h0m0.5-0.5h0m0-1.5h0m0-1.5h0m0.5 2h0m2.5 0h0m1.5-4h0m0.5 1h0m0-0.5h0m1.5 3.5h0m-57 4.5h0m1-2.5h0m8.5 3.5h0m6-1.5h0m2.5-1.5h0m1.5 0.5h0m1 1h0m0.5 2.5h0m2-3.5h0m0.5-1h0m1 2.5h0m0.5-2.5h0m1.5 0h0m0.5 4h0m1-1.5h0m0-3h0m0 2.5h0m0.5-2h0m1.5 4h0m0.5-3h0m0-0.5h0m0 1h0m0.5 2h0m0.5-3h0m0.5 2h0m0-1h0m0.5-1.5h0m1 4h0m1-2h0m0-2.5h0m1 1h0m0 1.5h0m0.5-1h0m0 2.5h0m0.5 2h0m0.5-4.5h0m0-1h0m0 5h0m1-5.5h0m0.5 1.5h0m0.5-0.5h0m0 0.5h0m2.5 2.5h0m1-3h0m3-0.5h0m0 2h0m0.5 3h0m5.5-5h0m28.5 1.5h0m-82 5h0m12.5-0.5h0m6.5 4h0m1.5-2.5h0m2-1h0m2-1h0m3.5 0h0m0.5 1h0m0.5 1h0m1 0.5h0m1-2h0m1.5 2h0m5 2h0m9.5-3.5h0m21 5h0m-50.5 0.5h0m19.5 4h0m6.5 0.5h0" stroke="#fb1414" stroke-width="1.55" stroke-linecap="round" fill="none"/>
<rect x="1267.8" y="425.4" width="154.4" height="125.8" fill="none" stroke="#111" stroke-width="1.3"/>
<line x1="1343.2" y1="425.4" x2="1343.2" y2="551.2" stroke="#111" stroke-width="1.3"/>
<line x1="1267.8" y1="490.3" x2="1422.2" y2="490.3" stroke="#111" stroke-width="1.3"/>
<path d="M1285.1 551.2v3.8M1267.8 536.2h-3.2M1289.4 551.2v3.8M1267.8 532.5h-3.2M1292.7 551.2v3.8M1267.8 529.7h-3.2M1295.4 551.2v3.8M1267.8 527.3h-3.2M1297.7 551.2v3.8M1267.8 525.4h-3.2M1299.7 551.2v3.8M1267.8 523.6h-3.2M1301.4 551.2v3.8M1267.8 522.1h-3.2M1314.6 551.2v3.8M1321.4 551.2v3.8M1267.8 506.2h-3.2M1326.2 551.2v3.8M1267.8 502.4h-3.2M1330 551.2v3.8M1267.8 499.5h-3.2M1333 551.2v3.8M1267.8 497.1h-3.2M1335.6 551.2v3.8M1267.8 495h-3.2M1337.9 551.2v3.8M1267.8 493.3h-3.2M1339.8 551.2v3.8M1267.8 491.7h-3.2M1353 551.2v3.8M1359.7 551.2v3.8M1267.8 474.4h-3.2M1364.4 551.2v3.8M1267.8 470.3h-3.2M1368.1 551.2v3.8M1267.8 467h-3.2M1371.1 551.2v3.8M1267.8 464.4h-3.2M1373.6 551.2v3.8M1267.8 462.2h-3.2M1375.8 551.2v3.8M1267.8 460.2h-3.2M1377.8 551.2v3.8M1267.8 458.5h-3.2M1391.6 551.2v3.8M1398.6 551.2v3.8M1267.8 442.2h-3.2M1403.6 551.2v3.8M1267.8 438.3h-3.2M1407.5 551.2v3.8M1267.8 435.3h-3.2M1410.7 551.2v3.8M1267.8 432.9h-3.2M1413.4 551.2v3.8M1267.8 430.8h-3.2M1415.7 551.2v3.8M1267.8 429h-3.2M1417.8 551.2v3.8M1267.8 427.4h-3.2M1268.8 551.2v6.2M1267.8 550.2h-5.2M1303 551.2v6.2M1267.8 520.8h-5.2M1341.6 551.2v6.2M1267.8 490.3h-5.2M1379.5 551.2v6.2M1267.8 457h-5.2M1419.6 551.2v6.2M1267.8 426h-5.2" stroke="#111" stroke-width="1.1" fill="none"/>
<text x="1262.2" y="567.8" font-size="8.0" font-weight="bold">10<tspan font-size="6.4" dy="-4.2">0</tspan></text>
<text x="1261.4" y="556.8" font-size="8.0" font-weight="bold" transform="rotate(-90 1261.4 556.8)">10<tspan font-size="6.4" dy="-4.2">0</tspan></text>
<text x="1296.4" y="567.8" font-size="8.0" font-weight="bold">10<tspan font-size="6.4" dy="-4.2">1</tspan></text>
<text x="1261.4" y="527.4" font-size="8.0" font-weight="bold" transform="rotate(-90 1261.4 527.4)">10<tspan font-size="6.4" dy="-4.2">1</tspan></text>
<text x="1335" y="567.8" font-size="8.0" font-weight="bold">10<tspan font-size="6.4" dy="-4.2">2</tspan></text>
<text x="1261.4" y="496.9" font-size="8.0" font-weight="bold" transform="rotate(-90 1261.4 496.9)">10<tspan font-size="6.4" dy="-4.2">2</tspan></text>
<text x="1372.9" y="567.8" font-size="8.0" font-weight="bold">10<tspan font-size="6.4" dy="-4.2">3</tspan></text>
<text x="1261.4" y="463.6" font-size="8.0" font-weight="bold" transform="rotate(-90 1261.4 463.6)">10<tspan font-size="6.4" dy="-4.2">3</tspan></text>
<text x="1413" y="567.8" font-size="8.0" font-weight="bold">10<tspan font-size="6.4" dy="-4.2">4</tspan></text>
<text x="1261.4" y="432.6" font-size="8.0" font-weight="bold" transform="rotate(-90 1261.4 432.6)">10<tspan font-size="6.4" dy="-4.2">4</tspan></text>
<text x="1347.9" y="580" text-anchor="middle" font-weight="bold" font-size="10.8">Annexin V-FITC</text>
<text x="1246.9" y="487" text-anchor="middle" font-weight="bold" font-size="10.8" transform="rotate(-90 1246.9 487)">PI</text>
<text x="1285" y="392.2" font-size="14">JMJD2C+</text>
<text x="1285" y="409.3" font-size="14">miR-503-5p mimic</text>
<path d="M1559 432h0m-9 8.5h0m14.5-4.5h0m-37 10h0m18 0.5h0m7-2.5h0m6-1h0m4-1h0m5 3h0m5 0h0m4.5-1h0m-37 7.5h0m14-4h0m0.5 4.5h0m1-4h0m1.5 2h0m3.5-1.5h0m0 3.5h0m0.5-3h0m1.5-1.5h0m-27 6.5h0m4.5 1.5h0m5.5 0.5h0m2.5-2h0m0 3.5h0m0.5-2.5h0m0.5 2.5h0m2.5-3.5h0m0 3h0m1 2h0m2.5-3h0m1 2.5h0m3 0h0m1-5h0m0 5.5h0m0.5-5h0m0.5 2.5h0m0-1.5h0m2.5-1h0m-40.5 11h0m9-0.5h0m0 0.5h0m3-2.5h0m2.5-0.5h0m1.5 2h0m0.5 0.5h0m1-2.5h0m0 2h0m1.5 0.5h0m1-0.5h0m0-0.5h0m0.5-0.5h0m0.5-2.5h0m0.5 4h0m1.5 0h0m0.5-1h0m0.5 1h0m0.5-3.5h0m1.5 2h0m0.5 2h0m0.5-4.5h0m0 2.5h0m0.5 0.5h0m0-1.5h0m0.5-1h0m0 3.5h0m0.5-4h0m1 4.5h0m0-3.5h0m1 1.5h0m0 1h0m0.5 1h0m0.5-0.5h0m0.5-5h0m0 4h0m0-1h0m0.5 2.5h0m0-2.5h0m1.5-3h0m0 2.5h0m1-0.5h0m0 3h0m1.5-3.5h0m0 2h0m0.5-3.5h0m0.5 5.5h0m0.5-1.5h0m0.5-3.5h0m1.5 1h0m0 3h0m0.5-3h0m0.5-1.5h0m1.5 4.5h0m0.5-4h0m1 5h0m1.5-4.5h0m0.5 3.5h0m0.5-3h0m2 2h0m0 1h0m0.5-1h0m4-3h0m4.5 1.5h0m-46.5 7.5h0m0.5-3.5h0m0.5 4h0m0.5-4.5h0m0.5 1.5h0m1 1.5h0m0.5-1.5h0m0.5-1h0m1.5 2h0m3.5-2h0m1 4h0m0 1.5h0m0.5-3h0m0.5-1h0m1-1.5h0m0 2h0m0.5-1.5h0m0.5 3.5h0m0 0h0m1 0.5h0m0-1h0m0-0.5h0m0 1.5h0m0.5-2.5h0m0.5-1h0m1.5 3.5h0m0-1.5h0m0.5 1h0m1-1.5h0m1.5-1.5h0m0 1.5h0m0.5 0.5h0m0 2h0m1-3h0m0.5 2.5h0m0.5 0.5h0m0.5-2.5h0m0.5-1.5h0m1 0h0m0.5 2h0m0 2.5h0m0.5-5.5h0m0.5 4h0m0-3h0m0 1h0m1-2h0m1 4.5h0m1-0.5h0m0.5-4.5h0m0 0.5h0m0.5 4.5h0m2.5-3.5h0m3.5 3h0m0.5-4h0m2.5 4h0m-46 6.5h0m10.5-4h0m0.5-0.5h0m0.5 5h0m4-1.5h0m0.5 1.5h0m0.5-5h0m0 5h0m0.5-1h0m0.5-3.5h0m0 0h0m1 2h0m2.5 2.5h0m0-1.5h0m1 0h0m0.5-2.5h0m0 3h0m0.5-2h0m0 3h0m0.5-5.5h0m0 5h0m0.5-2h0m1.5 1.5h0m0.5 0h0m0.5-1.5h0m0 2.5h0m0.5-4.5h0m1 0.5h0m0.5 2h0m0-1.5h0m0 2h0m0.5 1h0m0.5-2.5h0m0 2h0m0.5 0.5h0m0.5-4h0m1.5 0h0m1.5 3h0m1-3h0m0-1h0m0.5 0.5h0m0 2h0m1.5 0h0m0 1.5h0m0 0.5h0m1.5-2h0m0.5 2.5h0m0-4h0m2.5 4h0m0-2.5h0m0.5-1h0m3-1h0m0-0.5h0m11.5 3.5h0m-90.5 4.5h0m15 1h0m20.5-2h0m2.5 4h0m0.5-1.5h0m2-0.5h0m3 1h0m1.5-4h0m4 4.5h0m2-2h0m0.5 3h0m1-5h0m0.5 5h0m0-3.5h0m0-0.5h0m0-1.5h0m1.5 1h0m0 3.5h0m0 1.5h0m1.5-2h0m0-3h0m0.5 1.5h0m0 0.5h0m0.5-1.5h0m0 4h0m2-5h0m0.5 3h0m0-2h0m0 3h0m1-4.5h0m0 2h0m1 3.5h0m0.5-5.5h0m0.5 3h0m0 0.5h0m1-1h0m0 2h0m0.5-2h0m0-1h0m0 1.5h0m0 2h0m0.5-3.5h0m0-1h0m0 2.5h0m0.5 2h0m0-2.5h0m1 0.5h0m0.5 2h0m0.5 0.5h0m0-4h0m1 4h0m1-1h0m0.5 1.5h0m0-1.5h0m1-2h0m0.5 3.5h0m0.5-1h0m1.5-3h0m1-0.5h0m2 2h0m0.5-3h0m-61 7h0m7-1.5h0m5 3.5h0m1 1.5h0m4-3h0m2 3h0m0.5-3h0m1 3h0m1-2h0m0.5 1h0m2-1h0m0-2h0m3 4h0m0.5-2.5h0m0-1h0m0.5 3.5h0m1.5-1h0m0.5-3h0m0-0.5h0m2 5h0m0.5-1h0m0.5 0.5h0m0-3h0m0 3.5h0m3-5.5h0m0.5 0h0m2.5 1.5h0m0.5-0.5h0m1.5 2h0m0 2h0m0.5-3h0m3 3.5h0m0-4.5h0m0.5-1h0m0 2h0m0.5-2h0m0 4.5h0m0.5-3h0m0 1.5h0m0.5 0.5h0m0 2h0m1-1.5h0m0-3.5h0m2 4h0m0.5-4h0m0.5 5.5h0m0-2.5h0m0-1.5h0m1.5 0h0m1 0h0m2-1h0m0 3h0m1.5-3h0m0 2.5h0m1 1h0m0.5 0h0m2-3h0m0.5 2.5h0m1 0.5h0m1 0h0m1-1.5h0m5-2.5h0m0.5 2h0m3 0h0m-82 4h0m4 3.5h0m2-4h0m1 5.5h0m2.5-0.5h0m2.5-2h0m1.5 3h0m1-0.5h0m5-1h0m1.5 1h0m0.5-0.5h0m2.5-2.5h0m1-2.5h0m0.5 2h0m1 3.5h0m0-0.5h0m0-3h0m1 1h0m0.5-1h0m0.5 3h0m0.5-2.5h0m1 2h0m2.5 0.5h0m2.5 1h0m2-3h0m1-2h0m2 2.5h0m3.5 1h0m0.5-1h0m1-2.5h0m0 4.5h0m0.5-4h0m1.5 0.5h0m0 0h0m0.5 1.5h0m0 1.5h0m1 0h0m0-2.5h0m0.5 1h0m0.5-2.5h0m1 4.5h0m0.5-2h0m0.5-1.5h0m1.5 1h0m0.5 2.5h0m1.5 0h0m0.5-1.5h0m1-0.5h0m0-2.5h0m2 0h0m1.5 1.5h0m0 2.5h0m0.5-2.5h0m0-2h0m0.5 4h0m1.5-2.5h0m2.5 4h0m1-4h0m4-2h0m2.5 5.5h0m6-4.5h0m-83 10h0m1.5-4.5h0m2 5.5h0m3-5.5h0m0 5h0m0.5-4h0m0.5 2.5h0m0.5 1h0m1 0.5h0m0.5-2.5h0m0.5 1h0m0.5 1h0m1-1h0m1.5-4h0m0 4.5h0m0-2h0m0-0.5h0m0.5 1.5h0m0.5 0.5h0m0-2.5h0m0.5 4.5h0m0.5-1.5h0m0.5-4.5h0m0.5 0.5h0m0 4h0m0.5 1h0m0.5-0.5h0m0.5-4h0m0 4.5h0m1 0.5h0m0-3h0m0.5 2h0m0.5 0.5h0m0 0.5h0m0-4.5h0m0.5 4h0m0.5 0.5h0m0-2.5h0m0-2h0m0.5 0.5h0m0 1h0m0.5 1h0m0 2h0m0-3.5h0m0.5 2.5h0m0-3.5h0m0 2.5h0m0.5-1h0m0-1h0m0.5-1.5h0m1 4.5h0m0-4.5h0m0 1.5h0m0 3.5h0m0-3h0m1 1h0m0.5-1.5h0m0 2h0m0.5 0h0m0.5 1.5h0m0-2h0m0.5-3.5h0m0 1h0m0 2.5h0m0 1.5h0m0 0.5h0m0.5-4h0m0.5 2.5h0m0-4h0m0.5 4h0m1-3.5h0m0.5 3h0m0 2h0m0-3.5h0m0.5 0.5h0m0.5 2h0m0.5 1h0m0-2.5h0m1-1h0m0 3h0m0.5-1.5h0m0.5 1h0m0 0h0m0 1.5h0m0.5-5.5h0m1 1h0m0.5 0h0m0.5 1h0m0-1h0m0.5 2h0m0-1h0m0.5 1.5h0m1 2h0m2.5-4h0m0 2h0m1-1h0m2.5 0h0m0 2.5h0m3.5 0h0m1.5-2h0m2-1.5h0m3 0h0m0 0.5h0m1-2.5h0m0 1h0m3 4h0m1-0.5h0m1.5-4.5h0m0.5 2.5h0m2 2h0m0.5-2h0m0.5-2h0m0.5 5h0m1.5-2h0m2.5-3.5h0m6 0.5h0m1.5-0.5h0m5.5 3h0m-90 8.5h0m4-3h0m0.5-0.5h0m2.5-1h0m0 0.5h0m1 1h0m1-0.5h0m0 3.5h0m1-2h0m0.5 0.5h0m1 0.5h0m0.5 0.5h0m0-2h0m1 1.5h0m0-3h0m1 4h0m0-3h0m0 2.5h0m0.5-1.5h0m0.5 1.5h0m0 0.5h0m0-1h0m0.5-0.5h0m0 2h0m0-3h0m1 2.5h0m0.5-1.5h0m0-0.5h0m0.5 1.5h0m0-3.5h0m0 2h0m1 1h0m0-4h0m0 1h0m0 1.5h0m0.5-0.5h0m0.5 2h0m0-2h0m1-1h0m0 2.5h0m0-1h0m0.5 3h0m0.5-5.5h0m0 4.5h0m0.5 1h0m0-5.5h0m0 3h0m0.5-1h0m0 2h0m0.5-1.5h0m0 2.5h0m0.5-3.5h0m0 0.5h0m0-2.5h0m0.5 4h0m0-0.5h0m0-3h0m0 1h0m0.5 0.5h0m0 3.5h0m0-4h0m0.5 2h0m0 0h0m0 2h0m0.5-4h0m0.5 2h0m0-1h0m0.5 1.5h0m0 1.5h0m0-4h0m0 3.5h0m0.5-4h0m0 3h0m0-2h0m0.5 3.5h0m0-1h0m0 1h0m0-2.5h0m0.5 2h0m0-2.5h0m0.5 2.5h0m0-3h0m0-1.5h0m0.5 1h0m0.5 1.5h0m0-1.5h0m0.5 0.5h0m0 4h0m0-3h0m0.5 1.5h0m0-4h0m0 1.5h0m0.5 2h0m0 0.5h0m0.5 1.5h0m0-5.5h0m0-0.5h0m0 3h0m0 1h0m0.5-0.5h0m0 2.5h0m0-2h0m0.5-3.5h0m0.5 4.5h0m0 0.5h0m0-3.5h0m0 2.5h0m1-1h0m0-2h0m0 4h0m0-0.5h0m0.5-4h0m0 0h0m0 4.5h0m0-1.5h0m0.5 0.5h0m0.5 0h0m0-3h0m0.5 4h0m0-0.5h0m0-3.5h0m0-0.5h0m0 1.5h0m0.5 1.5h0m0-1h0m0 2.5h0m0-0.5h0m0.5-4h0m0 2.5h0m0-2h0m0.5 2.5h0m0-2h0m0 2.5h0m0-1h0m0.5-2h0m0.5 2.5h0m0 0.5h0m0-1h0m0-2.5h0m0.5 0.5h0m0 1h0m0 0.5h0m0.5-1.5h0m0 4h0m0-3h0m0 0.5h0m0.5 1.5h0m0-1h0m0-1h0m0-1.5h0m0.5 2.5h0m0-0.5h0m0.5 1.5h0m0-2.5h0m0 1h0m0.5-1h0m0 2.5h0m0 0.5h0m0.5-2.5h0m0-1.5h0m0.5 2.5h0m0.5-2h0m0 2.5h0m0 1.5h0m0-0.5h0m0.5-2.5h0m0 3h0m0-1.5h0m0.5-3.5h0m0 2.5h0m0.5-0.5h0m0-0.5h0m0 1.5h0m0.5 1.5h0m0.5 0.5h0m0-5.5h0m0.5 3.5h0m0.5-3h0m0 4.5h0m0 1h0m0.5-4.5h0m1 2.5h0m0.5-1h0m0.5 0.5h0m0.5 2h0m1-2h0m0-2.5h0m0.5 2h0m1-1.5h0m1 2.5h0m0-3h0m1.5 4h0m0.5-2h0m1 1.5h0m1-3.5h0m1 0.5h0m1.5 3h0m1.5-0.5h0m1-3.5h0m0.5 3.5h0m0.5-3.5h0m1.5 3h0m1.5 0h0m0-1h0m2 3h0m0.5-5h0m1 0.5h0m0-1h0m0 2.5h0m1-1.5h0m1.5 0h0m2 0h0m3 3h0m3.5-3h0m1.5 2h0m-81 8.5h0m3-3h0m0 0h0m0-1.5h0m2.5 3h0m0.5-1h0m0.5 2.5h0m0.5-5.5h0m1 6h0m0.5-1.5h0m0-2h0m0.5-1.5h0m0 2h0m0 1h0m0.5-4h0m0 5.5h0m0.5-3.5h0m0 1h0m0-1.5h0m0-0.5h0m0.5 4.5h0m0-1h0m0.5 0.5h0m0-2.5h0m0.5-1.5h0m0 3.5h0m0-2.5h0m0.5 2h0m0-1h0m0-2.5h0m0 4.5h0m0-0.5h0m0.5-3h0m0.5 3.5h0m0-1h0m0 1.5h0m1 0h0m0.5 0.5h0m0-2.5h0m0 0.5h0m0-4h0m0 5.5h0m0-3.5h0m0.5 3h0m0-1.5h0m0.5-2h0m0 1.5h0m0.5 2.5h0m0-3.5h0m0 2.5h0m0.5-4h0m0 2.5h0m0 1h0m0 1h0m0.5 0.5h0m0-5h0m0 3h0m0.5-1h0m0 0.5h0m0 1.5h0m0-4h0m0.5 5.5h0m0-4.5h0m0 2.5h0m0.5-1.5h0m0 2.5h0m0.5-5h0m0 5.5h0m0-3h0m0-1h0m0 0h0m0-1h0m0.5 4h0m0 1h0m0.5-2h0m0.5 1h0m0-4h0m0 5h0m0-3.5h0m0 1h0m0-1.5h0m0.5 0h0m0 1.5h0m0 1h0m0 1.5h0m0-4.5h0m0 3.5h0m0.5-2h0m0 2.5h0m0-0.5h0m0-2h0m0.5-1h0m0 0.5h0m0.5 2h0m0-3.5h0m0 3h0m0 1h0m0.5-3h0m0 4h0m0-2h0m0-1.5h0m0.5-0.5h0m0-1h0m0 5h0m0.5-3.5h0m0 1.5h0m0-0.5h0m0 2h0m0-4h0m0.5 1h0m0 3.5h0m0-1h0m0.5-4h0m0 2.5h0m0-2h0m0 2.5h0m0.5-1h0m0 3h0m0-4h0m0 1.5h0m0.5-2h0m0 1.5h0m0 1.5h0m0.5-2.5h0m0 1.5h0m0 2h0m0 0.5h0m0-5h0m0 5h0m0.5-3h0m0-0.5h0m0 2h0m0.5 0.5h0m0-1h0m0-2.5h0m0 3.5h0m0-1.5h0m0.5-2.5h0m0 5.5h0m0.5-1.5h0m0-3h0m0 0.5h0m0.5 3h0m0-1.5h0m0-3h0m0-0.5h0m0.5 1.5h0m0 1.5h0m0-0.5h0m0 2.5h0m0.5-4.5h0m0 3h0m0 2h0m0-5h0m0 1h0m0 1.5h0m0.5 2.5h0m0-1h0m0-0.5h0m0-1.5h0m0.5 1h0m0-2h0m0-1h0m0 1.5h0m0.5 3h0m0-2h0m0 1h0m0.5-3.5h0m0 1h0m0 1.5h0m0-0.5h0m0 2h0m0 1h0m0.5-0.5h0m0-3h0m0 1.5h0m0.5-2.5h0m0 2.5h0m0 1.5h0m0-4.5h0m0.5 3h0m0 2h0m0-0.5h0m0-4.5h0m0.5 3.5h0m0-3h0m0-0.5h0m0.5 5h0m0-4h0m0 3.5h0m0 1h0m0.5-4h0m0-0.5h0m0 3h0m0-1h0m0-2.5h0m0.5 1.5h0m0 0h0m0.5-1h0m0 1.5h0m0 2h0m0.5-1h0m0 1.5h0m0.5-3.5h0m0-0.5h0m0-0.5h0m0 3.5h0m0.5-1h0m0-0.5h0m0 2h0m0.5-3h0m0 2h0m0 1h0m0-3.5h0m0-1h0m0.5 1.5h0m0-1.5h0m0 4h0m0-3h0m0.5 1.5h0m0 3h0m0-2h0m0.5-0.5h0m0.5 1.5h0m0-4h0m0.5 4.5h0m0-5h0m0 4.5h0m0-1h0m0.5-1.5h0m0.5 3h0m0-5h0m0.5 0h0m0 5h0m0-2h0m0.5-0.5h0m0-1.5h0m0 2h0m0 1h0m0 1h0m0-3h0m0.5-2h0m1 1h0m0 3.5h0m0.5-0.5h0m0-3.5h0m0.5 2.5h0m1-3h0m0 3h0m0.5-1h0m0 3.5h0m1.5-4h0m0.5-1.5h0m0 5h0m0 0.5h0m0.5-4.5h0m1 4h0m0.5-5.5h0m1.5 0.5h0m2.5-0.5h0m6.5 1h0m3-0.5h0m10.5 2h0m14.5-2.5h0m-90.5 9h0m0.5 1.5h0m1-1.5h0m0.5 2.5h0m0-2h0m0.5-1.5h0m0.5 3.5h0m1.5-5h0m0.5 3h0m0-1h0m0-1.5h0m0.5 1.5h0m0-1h0m1 2h0m0 0h0m0.5 1h0m0 0.5h0m0.5-3.5h0m0.5 1.5h0m0-1h0m0.5-1h0m0.5 2.5h0m0.5 2h0m0-5h0m0 1.5h0m1 3h0m0 0h0m0-1h0m0-0.5h0m0.5 0.5h0m0-2.5h0m0.5 4h0m0-4.5h0m0 5h0m0.5-1h0m0-5h0m0 4h0m0-2h0m0 1.5h0m0.5-1h0m0 2h0m0-2.5h0m0 1.5h0m0.5 2.5h0m0-6h0m0 5h0m0-4h0m0.5 0.5h0m0 1.5h0m0 2h0m0.5-3h0m0-0.5h0m0 0.5h0m0 2h0m0.5 1.5h0m0-1h0m0-1.5h0m0-2.5h0m0.5 5.5h0m0-5h0m0 2.5h0m0-1h0m0 2h0m0-4.5h0m0.5 1.5h0m0 3.5h0m0-4h0m0.5 1h0m0 1h0m0.5 2h0m0-4h0m0 1.5h0m0.5 1.5h0m0 1.5h0m0-4h0m0.5 0.5h0m0-0.5h0m0 3.5h0m0.5 0h0m0-1h0m0-3.5h0m0 4h0m0-1.5h0m0.5-3h0m0 2h0m0.5-1h0m0 2.5h0m0-1h0m0.5-0.5h0m0 3h0m0-3.5h0m0.5 2h0m0-2.5h0m0 4h0m0.5-3h0m0 1h0m0-3h0m0 0h0m0 3h0m0 2.5h0m0.5-1h0m0-3h0m0 2.5h0m0.5-1.5h0m0-0.5h0m0 2.5h0m0-0.5h0m0.5-1.5h0m0 2.5h0m0 1h0m0-6h0m0.5 5h0m0-4.5h0m0 0.5h0m0.5 3.5h0m0-1.5h0m0-2h0m0 1.5h0m0.5 3h0m0-5.5h0m0 4.5h0m0-0.5h0m0.5-2h0m0 0h0m0 3h0m0 1h0m0-0.5h0m0-4.5h0m0 2h0m0.5-2.5h0m0 3h0m0.5-0.5h0m0-2.5h0m0.5 1h0m0 0.5h0m0 3.5h0m0-3h0m0 2h0m0.5-3.5h0m0-0.5h0m0 4.5h0m0-1.5h0m0.5-2h0m0-0.5h0m0 4h0m0 1h0m0.5-6h0m0 3h0m0 1.5h0m0-1h0m0-2h0m0.5-1.5h0m0 4.5h0m0-1.5h0m0.5-1h0m0-1h0m0 4h0m0-1h0m0 2h0m0-5h0m0 2h0m0.5 2.5h0m0-0.5h0m0-1h0m0-3.5h0m0.5 5h0m0-2.5h0m0 1.5h0m0.5-3.5h0m0-0.5h0m0 1.5h0m0 2h0m0 2h0m0.5-5h0m0 2h0m0 1h0m0.5 0.5h0m0 1h0m0-5h0m0 1.5h0m0 2.5h0m0.5-4.5h0m0 1.5h0m0 0.5h0m0 1.5h0m0.5-1h0m0 3h0m0-5.5h0m0 2h0m0-1h0m0.5 2h0m0 2h0m0-0.5h0m0-1h0m0.5 2.5h0m0-4.5h0m0 3h0m0 1h0m0-4h0m0.5 1.5h0m0 1h0m0 0h0m0.5 1h0m0 0h0m0-3.5h0m0.5-1.5h0m0 2h0m0 1.5h0m0 2h0m0-5h0m0.5 4h0m0-2h0m0 3.5h0m0-4.5h0m0.5-1.5h0m0 2.5h0m0.5 2.5h0m0-1.5h0m0-1.5h0m0-1h0m0.5 3.5h0m0 1h0m0-1.5h0m0.5-1.5h0m0-1.5h0m0-0.5h0m0 1.5h0m0.5 3h0m0 1h0m0-2.5h0m0-0.5h0m0.5-0.5h0m0 2.5h0m0-4.5h0m0 2h0m0.5-1h0m0 0h0m0.5 2h0m0-3h0m0 4.5h0m0-0.5h0m0-1.5h0m0-1.5h0m0.5-0.5h0m0-0.5h0m0.5 5.5h0m0-1.5h0m0 0.5h0m0-3h0m0.5-0.5h0m0-1h0m0 1.5h0m1-1h0m0 1h0m0 3.5h0m1-5.5h0m0 1.5h0m0.5 3h0m0.5-2.5h0m0-2h0m0 4.5h0m0.5-4h0m0 1h0m0 1h0m0-1h0m0.5 0h0m0-1h0m0.5 3h0m0.5 0.5h0m0-2h0m0.5-1.5h0m0 1.5h0m1 3.5h0m0.5-1.5h0m0.5-1.5h0m0-1.5h0m0.5 4.5h0m1-3h0m0-1.5h0m1.5 1h0m0.5-2h0m1.5 2.5h0m23-2.5h0m-83.5 9h0m2 1h0m6.5-0.5h0m0-3h0m0 3.5h0m0-2.5h0m1 0h0m0.5-1h0m1.5 3.5h0m0-1h0m0.5-1h0m0 1h0m0.5 1.5h0m0.5-3.5h0m0-0.5h0m0.5 2.5h0m0 2h0m0.5-3h0m0-1.5h0m0 3h0m0.5 0.5h0m0.5-0.5h0m0 1h0m0.5-4.5h0m0.5 1h0m0 3.5h0m0.5-3.5h0m0 2h0m0 2h0m0.5-0.5h0m0 1h0m0-3h0m0 0.5h0m0-2.5h0m0.5 5.5h0m0-4.5h0m0.5 4.5h0m0-0.5h0m0-3h0m0.5-0.5h0m1 2.5h0m0 0h0m0 0.5h0m0-1.5h0m0-1.5h0m0-1h0m0.5 2h0m0.5 0h0m0-2h0m0 1h0m0.5 2.5h0m0-4.5h0m0.5 1h0m0 2.5h0m0-0.5h0m0.5 2.5h0m0-3.5h0m0 1.5h0m0 1h0m0.5-4h0m0 0.5h0m0.5 3.5h0m0-4h0m0.5 2h0m0-1h0m0 1h0m0.5 2.5h0m0-2h0m0-2.5h0m0.5-0.5h0m0 5.5h0m0-4.5h0m0 1.5h0m0.5 2h0m0-0.5h0m0-4h0m0.5 5h0m0-4.5h0m0 1h0m0 1h0m0.5 1.5h0m0 1.5h0m0-4h0m0 2h0m0.5 1h0m0 0.5h0m0-2h0m0 0h0m0-1h0m0.5 0.5h0m0-1.5h0m0.5 3h0m0 2h0m0-0.5h0m0-1h0m0-4h0m0 1.5h0m0.5 4h0m0-4h0m0 3h0m0.5-4.5h0m0 2h0m0-1.5h0m0 3.5h0m0-3.5h0m0 2.5h0m0.5 0.5h0m0 1h0m0-5h0m0 1.5h0m0.5 0.5h0m0-1h0m0 4h0m0-2.5h0m0.5 3.5h0m0-2.5h0m0 0.5h0m0.5 0h0m0-3.5h0m0 1.5h0m0.5 1.5h0m0-3h0m0 0h0m0.5 1.5h0m0 3.5h0m0-2.5h0m0.5 2h0m0-4.5h0m0 4h0m0.5-0.5h0m0 1h0m0 1h0m0-4.5h0m0 1.5h0m0-1h0m0.5 1.5h0m0-2.5h0m0 5h0m0.5-3h0m0-1.5h0m0 3h0m0 1h0m0.5-5h0m0 0.5h0m0 1.5h0m0 1h0m0 1h0m0.5-2.5h0m0 4h0m0-5h0m0 1.5h0m0 2.5h0m0.5-2h0m0 1.5h0m0-3h0m0.5 2h0m0-1h0m0-1.5h0m0 3.5h0m0 0.5h0m0-3h0m0.5 3.5h0m0-5h0m0 2h0m0.5-0.5h0m0-1h0m0 2.5h0m0 1h0m0.5-2h0m0 2.5h0m0.5-0.5h0m0 1.5h0m0-4.5h0m0 2h0m0.5-1.5h0m0 0.5h0m0-1.5h0m0 4.5h0m0.5-5h0m0 3h0m0-3h0m0 5h0m0.5-3h0m0 3h0m0.5-2h0m0-1.5h0m0-2h0m0 5h0m0 1h0m0.5-2.5h0m0-2.5h0m0 1.5h0m0.5 0.5h0m0 1h0m0.5-3.5h0m0 4h0m0-3h0m0 2.5h0m0-2.5h0m0.5-0.5h0m0 2.5h0m0.5-0.5h0m0-0.5h0m0 2.5h0m0.5-3.5h0m0 2h0m0.5-1h0m0 2.5h0m0-1.5h0m0.5-1.5h0m0.5-2h0m0 4h0m0-1h0m0.5 3h0m0.5-4h0m0-1h0m0 3.5h0m0 1.5h0m0.5 0h0m0.5-5.5h0m0 3.5h0m0-4h0m0 2h0m0 2h0m1-2.5h0m0 2h0m1-0.5h0m0.5-1h0m0.5-0.5h0m0-0.5h0m0 4.5h0m0.5-4h0m1 1.5h0m0-2h0m1 3.5h0m0-2.5h0m0-1.5h0m1 0h0m0 2h0m0.5 2.5h0m1-3h0m0.5 2.5h0m3.5-3.5h0m0.5 3h0m-58.5 7.5h0m1-2.5h0m4.5 0.5h0m5-2h0m0-0.5h0m1 4.5h0m1-5h0m0 1.5h0m0.5-1h0m0.5 1.5h0m0.5-0.5h0m0.5 2h0m1.5 1h0m0.5-4h0m0 2h0m0 0.5h0m0-3.5h0m1 3.5h0m0-2h0m0 1h0m0.5-1h0m0 2h0m0.5-3h0m0 4h0m0-2h0m0-2.5h0m0.5 2h0m0 1h0m0.5-1.5h0m0 0.5h0m0 1.5h0m0-3.5h0m0 5h0m0.5-3.5h0m0-0.5h0m0 3.5h0m0.5 0h0m0 0.5h0m0-3.5h0m0 1h0m0.5 1.5h0m0.5-2h0m0 3h0m0-5h0m0.5 5h0m0.5-3h0m0 1h0m0-0.5h0m0-2h0m0.5 5h0m0-2.5h0m0.5 0h0m0-3h0m0 4h0m0-1h0m0.5-1.5h0m0-1h0m0 0.5h0m0.5 1.5h0m0 1h0m0 2.5h0m0-4.5h0m0 4h0m0-5.5h0m0.5 4h0m0-1.5h0m0.5 1.5h0m0-2h0m0 3h0m0-4.5h0m0.5 2.5h0m0-2.5h0m0 2h0m0.5-1h0m0-1h0m0 3.5h0m0 1h0m0.5-1h0m0-2.5h0m0-0.5h0m0 1.5h0m0.5 0.5h0m0.5-1h0m0 3h0m0.5-4.5h0m0.5 1.5h0m0 1.5h0m0.5-3h0m0 2.5h0m0.5-1h0m0-1.5h0m0.5 2.5h0m0-1.5h0m0 2.5h0m0.5-3h0m0 3.5h0m0.5-4h0m0 4.5h0m0.5-2h0m0-1h0m0 3.5h0m0-3h0m0 1h0m0-3h0m0.5 4.5h0m0-3.5h0m0.5-1h0m0 2.5h0m0.5 3h0m0-4.5h0m0 1.5h0m0 1h0m0.5 1.5h0m0.5-4.5h0m0.5 0.5h0m0 1h0m0.5-0.5h0m0.5 1.5h0m0 2h0m0.5-4.5h0m0 1.5h0m0.5 2.5h0m0 0.5h0m0.5-1.5h0m0-3.5h0m0 1h0m0.5-0.5h0m0 3.5h0m0.5-4h0m0.5 1h0m1-0.5h0m1 3h0m0.5-1h0m1-1.5h0m0-1.5h0m1 0h0m0 4h0m0.5-3h0m0.5 3.5h0m0-4h0m0.5 4.5h0m1-3h0m0.5-2h0m0.5 2h0m1 1.5h0m1.5 0h0m0.5-2.5h0m1.5 1h0m-51 4h0m3 1.5h0m5.5 3.5h0m3.5-4h0m2.5 3.5h0m0-3.5h0m0.5 0h0m1.5 1h0m0.5 1h0m1-1.5h0m0.5 0h0m1-0.5h0m0.5 2h0m0.5-2.5h0m0 1.5h0m1 4h0m0-6h0m0.5 1h0m0.5-0.5h0m0.5 1h0m0-1h0m0.5 2.5h0m0.5-2h0m0 4.5h0m0-4h0m0.5 3.5h0m1-1h0m0 0h0m0.5 1.5h0m0-4h0m0.5 3h0m0.5-2.5h0m0-2h0m0.5 5h0m0.5 0.5h0m0-4.5h0m0.5 3.5h0m0.5-3h0m2 3.5h0m0-2.5h0m2-1h0m0.5 2.5h0m1 0.5h0m2.5-3.5h0m0.5 3h0m1.5-3.5h0m1 1h0m1.5 2h0m1-2h0m1.5-1h0m3.5 2.5h0m2 3h0m3.5-5.5h0m-46.5 10h0m3-3.5h0m1-0.5h0m4 1h0m1 3h0m7 0.5h0m3-4h0m6 2.5h0m2.5-3.5h0m-26.5 9h0m7 2h0m7.5-2.5h0m4 1.5h0" stroke="#fb1414" stroke-width="1.55" stroke-linecap="round" fill="none"/>
<rect x="1463.4" y="425.4" width="154.4" height="125.8" fill="none" stroke="#111" stroke-width="1.3"/>
<line x1="1538.8" y1="425.4" x2="1538.8" y2="551.2" stroke="#111" stroke-width="1.3"/>
<line x1="1463.4" y1="490.3" x2="1617.8" y2="490.3" stroke="#111" stroke-width="1.3"/>
<path d="M1480.7 551.2v3.8M1463.4 536.2h-3.2M1485 551.2v3.8M1463.4 532.5h-3.2M1488.3 551.2v3.8M1463.4 529.7h-3.2M1491 551.2v3.8M1463.4 527.3h-3.2M1493.3 551.2v3.8M1463.4 525.4h-3.2M1495.3 551.2v3.8M1463.4 523.6h-3.2M1497 551.2v3.8M1463.4 522.1h-3.2M1510.2 551.2v3.8M1517 551.2v3.8M1463.4 506.2h-3.2M1521.8 551.2v3.8M1463.4 502.4h-3.2M1525.6 551.2v3.8M1463.4 499.5h-3.2M1528.6 551.2v3.8M1463.4 497.1h-3.2M1531.2 551.2v3.8M1463.4 495h-3.2M1533.5 551.2v3.8M1463.4 493.3h-3.2M1535.4 551.2v3.8M1463.4 491.7h-3.2M1548.6 551.2v3.8M1555.3 551.2v3.8M1463.4 474.4h-3.2M1560 551.2v3.8M1463.4 470.3h-3.2M1563.7 551.2v3.8M1463.4 467h-3.2M1566.7 551.2v3.8M1463.4 464.4h-3.2M1569.2 551.2v3.8M1463.4 462.2h-3.2M1571.4 551.2v3.8M1463.4 460.2h-3.2M1573.4 551.2v3.8M1463.4 458.5h-3.2M1587.2 551.2v3.8M1594.2 551.2v3.8M1463.4 442.2h-3.2M1599.2 551.2v3.8M1463.4 438.3h-3.2M1603.1 551.2v3.8M1463.4 435.3h-3.2M1606.3 551.2v3.8M1463.4 432.9h-3.2M1609 551.2v3.8M1463.4 430.8h-3.2M1611.3 551.2v3.8M1463.4 429h-3.2M1613.4 551.2v3.8M1463.4 427.4h-3.2M1464.4 551.2v6.2M1463.4 550.2h-5.2M1498.6 551.2v6.2M1463.4 520.8h-5.2M1537.2 551.2v6.2M1463.4 490.3h-5.2M1575.1 551.2v6.2M1463.4 457h-5.2M1615.2 551.2v6.2M1463.4 426h-5.2" stroke="#111" stroke-width="1.1" fill="none"/>
<text x="1457.8" y="567.8" font-size="8.0" font-weight="bold">10<tspan font-size="6.4" dy="-4.2">0</tspan></text>
<text x="1457" y="556.8" font-size="8.0" font-weight="bold" transform="rotate(-90 1457 556.8)">10<tspan font-size="6.4" dy="-4.2">0</tspan></text>
<text x="1492" y="567.8" font-size="8.0" font-weight="bold">10<tspan font-size="6.4" dy="-4.2">1</tspan></text>
<text x="1457" y="527.4" font-size="8.0" font-weight="bold" transform="rotate(-90 1457 527.4)">10<tspan font-size="6.4" dy="-4.2">1</tspan></text>
<text x="1530.6" y="567.8" font-size="8.0" font-weight="bold">10<tspan font-size="6.4" dy="-4.2">2</tspan></text>
<text x="1457" y="496.9" font-size="8.0" font-weight="bold" transform="rotate(-90 1457 496.9)">10<tspan font-size="6.4" dy="-4.2">2</tspan></text>
<text x="1568.5" y="567.8" font-size="8.0" font-weight="bold">10<tspan font-size="6.4" dy="-4.2">3</tspan></text>
<text x="1457" y="463.6" font-size="8.0" font-weight="bold" transform="rotate(-90 1457 463.6)">10<tspan font-size="6.4" dy="-4.2">3</tspan></text>
<text x="1608.6" y="567.8" font-size="8.0" font-weight="bold">10<tspan font-size="6.4" dy="-4.2">4</tspan></text>
<text x="1457" y="432.6" font-size="8.0" font-weight="bold" transform="rotate(-90 1457 432.6)">10<tspan font-size="6.4" dy="-4.2">4</tspan></text>
<text x="1543.5" y="580" text-anchor="middle" font-weight="bold" font-size="10.8">Annexin V-FITC</text>
<text x="1442.5" y="487" text-anchor="middle" font-weight="bold" font-size="10.8" transform="rotate(-90 1442.5 487)">PI</text>
<text x="1538.8" y="409.6" text-anchor="middle" font-size="14">JMJD2C+sh-SEPT2</text>
<filter id="sf" x="0" y="0" width="1" height="1"><feGaussianBlur stdDeviation="0.6"/></filter>
<filter id="hb" x="-5%" y="-5%" width="110%" height="110%"><feGaussianBlur stdDeviation="1.4"/></filter>
<filter id="nz" x="0" y="0" width="1" height="1"><feTurbulence type="fractalNoise" baseFrequency="0.5" numOctaves="2" seed="4"/><feColorMatrix values="0 0 0 0 0.35 0 0 0 0 0.36 0 0 0 0 0.33 0.9 0 0 0 -0.33"/></filter>
<marker id="pr" markerWidth="8" markerHeight="8" refX="4" refY="4" markerUnits="userSpaceOnUse" orient="auto"><ellipse cx="4" cy="4" rx="2.5" ry="1.5" fill="#f2f2ee" fill-opacity="0.5" stroke="#74746e" stroke-width="0.75"/></marker>
<marker id="pc" markerWidth="8" markerHeight="8" refX="4" refY="4" markerUnits="userSpaceOnUse"><circle cx="4" cy="4" r="1.5" fill="none" stroke="#66665f" stroke-width="0.75"/></marker>
<text x="103.2" y="683.8" text-anchor="middle" font-size="14">JMJD2C</text>
<text x="260" y="683.8" text-anchor="middle" font-size="14">JMJD2C+sh-MALAT1</text>
<text x="355.8" y="666.5" font-size="14">JMJD2C+</text>
<text x="355.8" y="683.8" font-size="14">miR-503-5p mimic</text>
<text x="570" y="683.8" text-anchor="middle" font-size="14">JMJD2C+sh-SEPT2</text>
<text x="32.2" y="748.5" text-anchor="middle" font-size="14" transform="rotate(-90 32.2 748.5)">H1299</text>
<text x="32.2" y="867.2" text-anchor="middle" font-size="14" transform="rotate(-90 32.2 867.2)">A549</text>
<clipPath id="mc300"><rect x="37.1" y="694.5" width="138.7" height="103"/></clipPath>
<g clip-path="url(#mc300)"><g filter="url(#sf)">
<rect x="37.1" y="694.5" width="138.7" height="103" fill="#eef1da"/>
<rect x="37.1" y="694.5" width="138.7" height="103" filter="url(#nz)"/>
<path d="M120 730l-83 0l114 8l-33-27l-22 21l-40-12l-6 64l57-36l37 18l-66 20l36 7l-39-62l-29 46l78 1l-35 11l52-11l-99 1l127-9l-70-12l-24-43l86 46l-2-42l-65 60l-37-31l43-29l42 43l-49 11l80-69l2 18l-78-6l-53 37l10 3l113 22l-105-63l94 33l19-16l-58 4l-68 9l59-11l67 33l-112-72l-13 15l4-9l91 25l-58 9l12-5l10 24l-31-8l-19-30l24 13l-3 18l53 7l-79-59l9 18l84 66l-84-2l94-16l-41-32l7-7l-37 42l-14 25l9-83l40 16l-26 29l-31-37l66 75l-80-84l4 0l-10 54l64-36l-20 14l-4 35l-32-40l49-26l-4 9l36-11l-68 5l-17 46l19 25l39-84l-23 99l64-6l-90-82l-2 60l104-63l-110 43l27-12l19 59l-24-23l-7-20" fill="none" stroke="none" marker-start="url(#pr)" marker-mid="url(#pr)" marker-end="url(#pr)"/>
<path d="M103 699l65 65l-51 29l7-89l-40 13l90 72l-37-9l-31-78l67 75l-9-4l-72-17l-40 36l102-74l-34 0l-27 42l-14-17l87 43l-21-3l-71-27l48 36l-79-21l84-21l-24 5l44-16l-15-10l32 29l-6-29l2 13l10 36l-117-35l40-24l-15-19l95 10l-13 60l-82-45l75 12l-96 4l65-46l2 16l-11 65l35-55l1 17l-56 13l-5-5l80 30" fill="none" stroke="none" marker-start="url(#pc)" marker-mid="url(#pc)" marker-end="url(#pc)"/>
<defs><path id="cp300_0" d="M77 705 76 701 76 690 86 682 87 694 89 704 80 707zM53 700 58 692 61 688 67 689 69 690 63 697 60 696zM114 721 101 721 99 719 94 713 97 710 105 713 106 715zM60 711 60 705 66 705 68 707 71 709 70 714 65 714zM131 713 129 709 131 705 133 701 138 703 140 711 135 713zM166 770 159 765 162 756 163 753 167 751 169 755 171 765zM55 730 55 728 56 723 62 721 67 726 63 728 59 732zM85 758 81 763 72 763 65 756 77 754 81 752 86 755zM88 764 84 769 76 762 72 760 74 751 83 754 94 752zM139 765 137 765 130 757 137 752 140 756 148 756 146 765zM151 766 149 772 146 772 134 765 131 756 144 757 154 763zM42 723 35 722 29 723 28 718 18 709 37 710 48 712zM85 712 80 715 78 709 79 707 84 700 87 708 87 710zM182 723 178 723 177 717 179 714 183 711 185 714 184 720zM92 707 86 702 81 700 83 689 91 689 99 695 97 706zM114 787 123 778 122 773 133 769 136 775 132 783 127 785zM89 807 90 796 90 786 101 780 104 790 105 799 99 805zM66 758 71 755 75 753 80 755 84 759 79 764 72 761zM152 790 160 779 166 774 169 778 171 780 169 787 166 790zM90 769 81 771 76 770 62 756 67 749 87 749 92 757zM143 782 138 786 132 782 132 778 136 777 143 775 146 777zM41 785 37 778 36 773 40 769 45 770 46 777 50 781zM48 799 52 795 58 795 73 798 71 809 65 807 54 804zM54 708 52 696 60 698 67 699 67 702 66 707 61 706zM117 779 113 773 123 773 136 772 130 780 125 780 122 782zM94 764 87 760 90 755 89 748 95 748 99 751 97 761zM46 720 40 726 35 725 23 721 31 713 34 711 44 716zM139 736 141 731 144 725 150 721 152 725 151 735 147 734z" stroke-linejoin="round"/></defs>
<defs><path id="cp300_1" d="M91 789 89 792 86 786 85 781 88 781 93 781 96 785zM75 740 74 742 65 739 63 735 60 731 69 730 75 733zM125 764 118 769 113 767 108 767 111 758 115 758 123 758zM141 710 143 705 149 698 151 704 154 707 149 710 141 714zM103 697 98 700 93 705 86 701 87 696 95 694 98 695zM89 756 85 755 83 743 88 739 92 737 100 747 97 751zM54 807 43 804 36 801 36 795 38 788 48 793 52 797zM164 732 163 729 162 722 164 721 167 721 169 723 171 734zM157 704 160 700 170 693 171 700 171 705 165 707 161 706zM80 801 80 797 84 790 89 787 100 788 99 798 90 802zM85 707 83 703 92 697 100 691 99 700 98 705 91 709zM97 768 98 771 86 771 77 761 86 762 93 757 100 761zM43 719 44 724 37 724 35 719 33 717 36 715 44 713zM181 770 173 771 168 775 154 766 161 763 168 762 183 757zM138 746 135 751 126 750 121 746 127 742 128 732 135 740zM156 730 154 734 144 734 144 728 143 726 149 721 156 728zM60 753 53 755 51 753 48 744 50 743 55 743 65 750zM153 744 150 754 146 740 145 736 147 733 153 736 156 742zM65 777 68 773 75 772 81 775 85 780 75 781 69 780zM76 715 71 708 79 706 82 709 86 711 82 718 78 720zM120 758 113 758 107 744 114 743 122 747 126 748 124 758zM129 774 124 783 115 775 113 771 114 765 121 766 127 768z" stroke-linejoin="round"/></defs>
<defs><path id="cp300_2" d="M105 758 92 763 97 749 100 744 110 735 113 750 110 755zM174 741 168 738 162 733 164 729 171 729 174 731 175 735zM144 760 145 755 147 753 151 752 154 756 155 759 149 763zM172 792 169 802 160 795 161 790 163 782 171 783 175 787zM122 708 119 703 126 695 133 690 134 698 130 704 127 710zM37 711 35 708 35 701 39 700 42 701 45 706 44 710zM79 729 77 723 72 714 79 713 82 713 87 718 87 721zM167 791 166 789 176 783 185 783 182 791 179 796 170 801zM171 735 170 732 175 724 186 716 184 728 185 732 178 740zM61 733 60 724 68 724 73 726 75 731 72 735 62 737zM52 692 49 698 38 706 34 692 31 688 37 683 46 688zM159 783 161 777 165 773 170 774 171 777 169 784 165 781zM142 700 140 701 133 700 135 692 138 691 142 691 145 694zM172 780 164 782 162 776 158 768 162 763 165 769 168 773zM44 740 40 739 43 735 43 730 48 729 49 734 50 738zM92 760 87 758 85 754 83 751 87 740 93 747 103 760zM176 713 173 716 166 712 164 709 170 705 176 706 177 710zM109 739 119 727 124 721 128 717 131 726 125 730 126 741zM171 765 170 770 164 764 164 761 165 758 171 754 171 762zM54 726 48 725 47 720 48 717 55 708 56 716 59 722zM140 771 134 768 133 764 131 758 136 761 141 762 142 768zM24 749 31 743 35 739 41 743 44 747 36 752 29 753zM90 694 86 699 81 695 78 692 76 686 86 686 94 685zM187 777 181 778 172 778 176 773 173 767 183 767 185 773zM108 734 111 731 119 730 127 728 127 733 122 740 115 737zM45 802 47 797 49 792 53 793 57 796 55 803 53 803zM99 747 93 741 104 739 110 740 114 744 107 748 101 750zM81 738 77 737 71 734 70 729 73 729 77 730 78 731zM168 772 160 774 150 786 147 775 149 769 157 764 161 769z" stroke-linejoin="round"/></defs>
<defs><path id="cp300_3" d="M178 772 173 771 171 763 177 752 182 757 183 763 181 768zM49 797 46 792 45 787 48 781 53 779 56 786 54 795zM130 715 131 713 132 708 136 707 146 707 139 714 135 715zM126 732 126 736 120 739 117 734 117 730 122 725 125 727zM45 767 41 762 42 755 49 752 53 753 55 758 53 766zM25 728 25 720 29 708 38 700 42 711 38 717 32 723zM77 796 73 799 61 789 70 785 76 782 79 781 83 791zM138 783 140 786 130 786 125 784 127 776 134 778 137 778zM152 801 149 793 150 789 155 785 160 785 158 792 160 797zM76 730 73 731 64 728 63 722 67 720 73 720 77 726zM134 789 120 786 115 784 113 777 118 776 124 776 133 782zM145 769 142 766 145 759 147 760 153 759 152 765 149 768zM77 769 72 768 73 756 83 757 84 760 86 768 80 774zM94 764 92 765 81 762 85 757 84 750 94 754 100 762zM155 794 147 787 146 779 148 774 157 770 160 774 160 784zM86 703 83 707 77 712 73 702 77 699 83 696 84 699zM123 804 120 806 114 806 108 800 111 797 117 794 122 796zM161 783 158 771 167 764 170 766 175 767 178 773 172 775zM26 750 25 742 30 738 39 733 44 736 48 750 35 750zM72 784 71 779 77 771 83 769 86 776 84 780 78 785zM50 712 45 712 40 712 39 706 43 703 50 703 53 707z" stroke-linejoin="round"/></defs>
<g filter="url(#hb)">
<use href="#cp300_0" fill="#8a46c8" fill-opacity="0.45" stroke="#8a46c8" stroke-opacity="0.4" stroke-width="4.5"/>
<use href="#cp300_1" fill="#8a46c8" fill-opacity="0.45" stroke="#8a46c8" stroke-opacity="0.4" stroke-width="4.5"/>
<use href="#cp300_2" fill="#8a46c8" fill-opacity="0.45" stroke="#8a46c8" stroke-opacity="0.4" stroke-width="4.5"/>
<use href="#cp300_3" fill="#8a46c8" fill-opacity="0.45" stroke="#8a46c8" stroke-opacity="0.4" stroke-width="4.5"/>
</g>
<use href="#cp300_0" fill="#7a2cc2" fill-opacity="0.9" stroke="#7a2cc2" stroke-opacity="0.9" stroke-width="1.2"/>
<use href="#cp300_1" fill="#5a1aa6" fill-opacity="0.9" stroke="#5a1aa6" stroke-opacity="0.9" stroke-width="1.2"/>
<use href="#cp300_2" fill="#8a38c8" fill-opacity="0.9" stroke="#8a38c8" stroke-opacity="0.9" stroke-width="1.2"/>
<use href="#cp300_3" fill="#6a22b6" fill-opacity="0.9" stroke="#6a22b6" stroke-opacity="0.9" stroke-width="1.2"/>
<path d="M78.5 698.5h0m10.5 88.5h0m-28-94h0m109 42.5h0m-43-34h0m-27 15.5h0m79.5 47.5h0m-142.5-58.5h0m81.5 58.5h0m17-57.5h0m-56 11h0m84.5 38h0m-112 35.5h0m8.5-65h0m74.5-17h0m-55 50h0m61.5 1.5h0m-22-28h0m-70 27h0m96.5-53h0m-53.5-11h0m-60.5 22h0m13 78.5h0m-12.5-80h0m146.5 0h0m-14.5 9.5h0m-125-36h0m58 106h0m66.5-94h0m-73 63h0m-18.5-38h0m91.5 50.5h0m-14.5-15h0m-74-4.5h0m-37.5-39.5h0m6.5 17h0m122 48h0m-28-4.5h0m13-51.5h0m-112 50h0m86.5-52h0m43.5 38.5h0m-80.5-4h0m65 20.5h0m-103.5-58h0m31-21h0m56.5 61.5h0m-85-16h0m64.5 55.5h0m-83.5-57.5h0m49.5-55h0m-47 51.5h0m40.5 35.5h0m48.5 0h0m-31-23h0m-22.5 21h0m107-1.5h0m-142.5-53.5h0m45-9.5h0m25 33.5h0m-33-12.5h0m80.5 38.5h0m-31.5-19h0m-3.5 21h0" stroke="#4a2192" stroke-width="4.0" stroke-linecap="round" fill="none" stroke-opacity="0.45"/>
<path d="M172 768l-73 18l47-80l-81 79l104 1l-13 0l-52-47l59 6l-125 45l112-95l-14 5l-70 29l104 46l-92-49l-13 28l-28-28l4 46l3-61l15 50l5-57l102 16l-82 41l-2-31l-5-14l-31 4l43 64l-22-16l32-60l-60-12l70 50" fill="none" stroke="none" marker-start="url(#pc)" marker-mid="url(#pc)" marker-end="url(#pc)"/>
</g></g>
<rect x="37.1" y="694.5" width="138.7" height="103" fill="none" stroke="#111" stroke-width="1.4"/>
<text x="153.4" y="786.9" text-anchor="middle" font-weight="bold" font-size="10.6">50μm</text>
<line x1="136.2" y1="791.7" x2="169.6" y2="791.7" stroke="#111" stroke-width="1.6"/>
<clipPath id="mc310"><rect x="37.1" y="808.3" width="138.7" height="103"/></clipPath>
<g clip-path="url(#mc310)"><g filter="url(#sf)">
<rect x="37.1" y="808.3" width="138.7" height="103" fill="#d2d6c8"/>
<rect x="37.1" y="808.3" width="138.7" height="103" filter="url(#nz)"/>
<path d="M114 828l-41 10l46 60l-9-8l-29-38l59 44l-81-57l-2-9l69-5l9 69l35-18l-55-36l17 6l-55 11l-27-43l0 76l115-33l-23 26l-48 8l-18-21l30-11l-4 16l18-30l45 38l-108-3l48 28l2-90l42 65l14-19l-18 8l-57-60l-2 57l18 4l24-35l-1 56l17-1l-77-9l26-63l-26 20l77-29l-78 49l34-46l-52 82l113-17l-91 5l66-35l-56 25l10-20l-32-21l51 20l0-30l13-3l-3 16l-2 1l-66-26l93 20l-34 7l-73 47l86-69l-67 73l73 18l-31-7l-37-1l13-73l51 4l-17 76l-54-62l95-34l-75 49l-35-47l102 4l-16 44l-42-53l-8 3l83 20l-45 61l50-36l-33 46l-84-31l33 30l3-13l-8-68l-3-6l-8 75l68-56l-37 62l5-7l36 19l-37-18l28-74l6 73l5 3l-22-27l-12-2l-38 34l21-67l-16-18l18 91l83-43l-1 7" fill="none" stroke="none" marker-start="url(#pr)" marker-mid="url(#pr)" marker-end="url(#pr)"/>
<path d="M41 883l113 18l0-92l-30 6l-36 66l-12-61l34 78l35-49l-85 54l100-32l3-38l-34 20l36-40l-88 12l26 33l-47 5l117-46l1 53l-22 9l-110-56l57 21l-10-18l-4 61l27-29l7 17l-61 1l77-54l-44 7l48 15l13 7l-114-41l95 56l-17-51l51 35l-87 56l33-38l-67-47l50 22l15-10l64 34l-52-45l-2 42l1-12l25 19l-2 35l-40-64l66-16l-100 14l8-1l-14 32" fill="none" stroke="none" marker-start="url(#pc)" marker-mid="url(#pc)" marker-end="url(#pc)"/>
<defs><path id="cp310_0" d="M88 821 85 818 81 812 84 810 88 814 88 818zM135 834 130 833 124 829 124 825 130 823 133 829zM96 815 93 817 85 810 86 807 90 808 96 811zM82 863 92 860 96 859 107 858 98 865 93 865zM147 882 149 878 150 873 152 876 153 877 152 880zM75 831 75 829 83 825 85 828 81 830 77 833zM154 840 152 840 148 839 146 835 151 835 152 837zM156 910 153 910 149 906 149 903 153 904 155 906zM109 888 109 886 110 879 114 877 114 880 113 885zM31 826 30 818 31 812 35 810 36 814 35 818zM119 864 119 860 119 857 121 855 125 859 122 862zM34 837 32 835 40 831 42 834 42 836 37 839zM140 859 137 861 134 860 132 858 135 857 139 857zM49 823 48 821 52 818 55 817 55 822 51 825zM177 807 171 808 168 806 163 801 169 800 174 803zM55 870 52 870 55 865 56 862 59 863 57 871zM46 816 42 821 37 814 35 809 41 809 43 813zM169 850 164 849 160 847 158 842 163 843 167 845zM84 859 82 855 84 852 90 848 89 855 86 859zM117 878 116 876 120 875 122 874 125 876 120 879zM82 846 85 842 89 840 93 841 94 845 89 846zM53 869 48 865 46 864 46 861 47 859 55 866zM46 865 44 866 42 861 42 858 44 859 51 865zM170 910 167 909 167 906 167 904 169 904 171 909zM82 888 79 888 77 883 76 880 78 881 85 885zM171 907 171 904 175 904 180 900 179 904 174 908zM110 815 108 818 101 816 100 811 105 812 110 812zM88 845 88 840 95 836 100 837 97 841 92 844zM65 894 62 894 60 891 60 888 62 889 65 891zM37 806 34 805 40 802 44 800 42 804 39 806zM173 906 170 903 168 898 169 892 174 898 174 901zM91 854 92 853 96 849 100 849 98 854 93 856zM120 856 118 854 116 851 114 847 119 849 120 853zM41 890 43 886 46 883 50 882 46 887 44 890zM143 911 146 907 147 902 155 906 150 910 145 912zM103 828 102 830 98 829 97 827 99 826 103 826zM123 893 119 891 122 887 126 884 128 886 124 893zM118 845 114 844 112 843 109 836 115 838 118 843zM75 826 73 827 71 823 70 820 73 820 75 825zM142 908 138 910 135 907 133 906 136 901 140 903zM138 853 141 849 144 848 147 849 145 852 142 852zM150 848 148 845 149 842 150 835 152 842 151 846zM66 843 66 840 68 836 70 836 72 838 70 844zM67 880 68 878 77 878 76 879 77 881 72 882zM107 892 104 896 104 883 106 881 108 885 109 890z" stroke-linejoin="round"/></defs>
<defs><path id="cp310_1" d="M127 893 123 893 117 892 117 889 122 888 125 890zM62 871 62 872 58 869 57 866 60 866 63 868zM95 863 93 862 93 851 99 850 103 853 99 859zM140 824 137 823 134 819 133 811 138 815 140 821zM43 873 47 872 50 872 56 874 50 875 46 875zM38 853 36 849 37 844 38 842 41 840 41 848zM57 839 55 837 51 829 55 830 58 833 61 840zM113 842 112 844 109 838 108 834 110 832 117 838zM167 816 165 814 166 812 169 808 171 810 171 816zM128 879 131 876 134 874 138 874 135 879 131 879zM45 877 42 873 40 870 41 863 44 865 46 872zM159 829 157 830 156 817 159 821 163 821 162 825zM100 866 98 863 97 860 97 851 101 858 101 861zM120 902 122 897 123 894 130 892 127 896 123 901zM90 903 85 904 82 903 76 898 80 896 87 900zM174 884 175 878 182 875 183 878 182 883 178 883zM154 830 156 829 162 828 165 831 163 834 156 833zM63 830 60 825 55 819 61 820 65 821 69 827zM89 894 89 892 92 887 95 888 94 893 90 895zM80 896 73 896 74 888 75 888 79 889 81 895zM140 850 143 846 145 844 148 845 147 849 144 849zM66 824 64 822 68 817 71 818 70 820 68 824zM89 839 91 836 95 834 95 836 95 838 90 841zM33 836 33 832 36 829 38 831 39 833 33 839zM89 896 86 898 84 894 84 891 85 890 91 895zM97 808 95 811 93 809 93 807 94 805 96 807zM167 896 161 891 159 889 157 885 159 884 163 888zM151 831 145 831 137 829 135 827 137 825 149 824zM139 862 132 855 132 851 132 844 136 847 136 854zM40 893 36 892 42 888 45 888 45 890 41 894zM41 894 39 893 44 887 47 888 47 892 42 897zM124 866 122 867 119 862 120 855 123 861 124 863zM76 892 75 889 71 884 77 879 80 884 81 888zM176 873 178 870 184 866 185 869 183 871 179 873zM171 907 169 908 165 908 162 904 166 904 168 906zM35 906 32 903 28 900 29 895 34 898 37 903zM76 826 74 826 70 824 68 820 72 820 75 822zM45 840 42 839 42 835 42 828 45 834 46 838zM126 830 121 832 114 832 115 830 118 827 125 828zM122 901 129 900 136 898 138 900 135 903 129 904zM68 881 65 881 63 880 58 876 63 875 67 878z" stroke-linejoin="round"/></defs>
<defs><path id="cp310_2" d="M161 849 162 844 167 842 169 843 170 845 166 847zM185 871 178 867 176 859 175 855 180 858 183 862zM154 863 154 862 158 860 162 861 159 863 156 865zM57 840 55 840 50 838 50 836 51 834 57 837zM32 899 34 896 35 894 40 893 42 896 35 899zM163 850 162 851 158 850 155 847 159 846 162 849zM86 837 81 837 78 836 75 832 80 833 83 834zM61 909 61 906 66 904 72 904 69 908 65 910zM55 886 55 883 65 879 65 883 66 885 59 888zM125 901 121 900 118 897 119 894 122 896 127 900zM54 813 52 810 52 807 54 803 57 804 58 811zM104 814 103 811 104 802 109 802 108 808 107 811zM167 826 171 822 176 820 182 821 177 824 170 828zM33 829 37 827 41 826 45 827 42 828 36 833zM57 865 59 861 61 861 64 860 64 863 61 864zM114 893 112 897 109 890 111 889 113 889 115 891zM115 849 116 845 117 839 123 836 122 843 119 851zM111 858 115 851 118 848 126 841 121 849 118 858zM81 866 76 861 75 856 78 854 81 853 82 862zM86 892 87 889 88 885 90 884 90 887 89 890zM100 882 96 885 90 883 87 880 90 877 94 879zM64 874 67 870 70 867 74 866 72 870 70 873zM105 864 103 863 101 861 98 857 104 858 106 862zM181 875 179 878 175 870 176 865 182 869 181 874zM136 892 133 888 132 881 136 881 138 884 137 888zM97 912 102 905 106 901 107 902 107 906 101 911zM54 885 59 881 63 880 66 880 64 883 60 884zM86 875 84 880 79 869 82 869 85 870 87 874zM50 815 51 811 55 799 58 801 57 808 55 816zM120 869 118 867 119 863 120 862 123 861 122 867zM84 872 83 868 88 864 93 864 89 869 87 875zM181 820 179 815 178 812 179 805 183 811 186 816zM87 880 86 879 93 874 96 876 92 881 87 883zM148 873 145 867 142 862 145 864 147 863 148 869zM131 834 129 835 125 833 126 831 128 831 129 832zM69 916 70 911 74 906 74 907 77 907 74 911zM45 901 45 900 48 897 54 900 52 902 43 904z" stroke-linejoin="round"/></defs>
<defs><path id="cp310_3" d="M39 811 41 806 47 804 48 806 47 810 44 811zM178 898 178 897 178 892 180 892 182 894 180 899zM39 830 34 832 38 823 42 819 45 820 43 830zM60 883 62 888 54 883 53 880 53 879 59 878zM163 907 161 905 161 901 163 898 164 900 166 907zM162 895 155 894 147 892 148 889 150 887 154 890zM135 844 133 841 131 838 132 833 137 837 139 844zM81 904 81 901 87 901 88 902 87 907 78 909zM30 860 28 853 32 847 34 847 35 851 34 854zM170 877 169 868 169 866 172 862 173 866 173 870zM138 840 141 838 145 837 146 840 144 840 142 842zM104 898 101 900 96 897 90 887 100 891 102 894zM43 879 34 877 32 869 35 869 36 866 39 872zM177 862 173 863 173 859 172 854 176 857 180 859zM64 892 64 890 69 888 72 888 69 891 66 892zM48 885 45 881 40 877 42 873 45 873 49 880zM93 883 94 879 97 878 100 878 98 881 94 886zM46 886 44 888 40 889 37 887 40 883 46 885zM135 855 132 852 134 848 138 843 138 847 136 852zM179 839 173 834 171 829 170 826 175 824 175 831zM116 830 118 827 122 826 126 827 123 829 117 832zM102 831 101 830 104 826 105 826 106 828 104 831zM58 911 51 910 47 908 46 904 50 904 52 905zM133 903 131 909 126 900 124 895 128 896 131 899zM115 866 114 866 114 862 116 856 117 860 119 867zM149 897 148 898 143 894 142 893 146 893 149 894zM114 868 110 866 105 860 107 859 112 861 114 866zM160 818 159 816 161 813 164 812 163 816 161 817zM48 835 46 836 42 831 41 824 46 828 48 832zM119 904 116 901 113 894 119 891 121 896 121 901zM165 892 168 890 172 889 173 891 171 893 169 892zM68 863 61 863 56 862 56 860 56 858 62 860zM65 837 64 833 65 829 66 826 67 827 67 832zM138 885 135 885 133 883 133 881 134 880 138 884zM103 912 102 910 105 906 108 905 108 907 105 912zM131 917 132 914 134 911 138 908 138 913 134 916zM66 885 69 882 74 883 76 884 74 886 69 887z" stroke-linejoin="round"/></defs>
<g filter="url(#hb)">
<use href="#cp310_0" fill="#8a46c8" fill-opacity="0.45" stroke="#8a46c8" stroke-opacity="0.4" stroke-width="2.6"/>
<use href="#cp310_1" fill="#8a46c8" fill-opacity="0.45" stroke="#8a46c8" stroke-opacity="0.4" stroke-width="2.6"/>
<use href="#cp310_2" fill="#8a46c8" fill-opacity="0.45" stroke="#8a46c8" stroke-opacity="0.4" stroke-width="2.6"/>
<use href="#cp310_3" fill="#8a46c8" fill-opacity="0.45" stroke="#8a46c8" stroke-opacity="0.4" stroke-width="2.6"/>
</g>
<use href="#cp310_0" fill="#7430c2" fill-opacity="0.9" stroke="#7430c2" stroke-opacity="0.9" stroke-width="1.2"/>
<use href="#cp310_1" fill="#8038c6" fill-opacity="0.9" stroke="#8038c6" stroke-opacity="0.9" stroke-width="1.2"/>
<use href="#cp310_2" fill="#6424b8" fill-opacity="0.9" stroke="#6424b8" stroke-opacity="0.9" stroke-width="1.2"/>
<use href="#cp310_3" fill="#5320a6" fill-opacity="0.9" stroke="#5320a6" stroke-opacity="0.9" stroke-width="1.2"/>
<path d="M84.5 815h0m7-2h0m33 76.5h0m-62.5-22h0m33.5-10h0m42.5-36.5h0m11 55.5h0m-100-4h0m-9.5-28.5h0m-2.5 52h0m143.5-1.5h0m-125.5-62.5h0m-0.5 48h0m105.5-31.5h0m6.5-35.5h0m-5.5 89h0m-28-24h0m18 13h0m-70-54.5h0m-16.5 71.5h0m-3-25h0m21.5 19h0m36.5-4h0m50-31h0m-127 2h0m99.5-27.5h0m18.5-18.5h0m-7.5 82h0m-31-8.5h0m-87-26.5h0m48 33h0m94-43h0m-64.5 22h0m-45 7h0m-35.5-71.5h0m14.5 61.5h0m132.5 0h0m-135.5 8h0m116-57h0m-98.5-8h0m75.5 25h0m38-16h0m-125-9.5h0m119-17h0m-55.5 86h0m-73-78h0m79.5 37h0m-38.5 7.5h0m82.5-11.5h0m-76 43h0m58.5-40.5h0m-59 9h0m42.5 44.5h0m-39.5-57h0m-45 19.5h0m64.5-1.5h0m51.5-45h0m-69 63.5h0m-20.5-13h0m99.5 21.5h0m4.5 14.5h0m-140.5-71h0m24 29h0m77 24.5h0m-2-1.5h0m-27.5 24.5h0m-50.5-99h0m80 103h0m-18-49.5h0m-75.5 25h0m53-80h0m50 101h0m17.5-21.5h0m-76.5-20h0m53.5-42h0m-5 28h0m-33-27.5h0m21 63.5h0m59.5-75.5h0m-141 78h0m74.5-51.5h0m-26 38.5h0m-47 10.5h0m31.5-3.5h0m-1.5-62.5h0m108 44.5h0m-13 37h0m-32.5 0.5h0m13-60h0m-79-5h0m-27-6.5h0m28.5 49h0m1-5h0m36.5 10h0" stroke="#4a2192" stroke-width="2.4" stroke-linecap="round" fill="none" stroke-opacity="0.45"/>
<path d="M59 875l107-22l-43 33l-30-49l40 40l-82-19l63-36l-18 40l2-39l1 44l75 26l-2-84l-96 88l3-38l75 42l-7-74l-13-12l-87 24l74 39l2-12l-1 2l17 2l14 19l-26-50l-1 32l2-35l40 47l-68-68l-22 23l10 52l-36-36l23-35l24 79" fill="none" stroke="none" marker-start="url(#pc)" marker-mid="url(#pc)" marker-end="url(#pc)"/>
</g></g>
<rect x="37.1" y="808.3" width="138.7" height="103" fill="none" stroke="#111" stroke-width="1.4"/>
<text x="153.4" y="900.7" text-anchor="middle" font-weight="bold" font-size="10.6">50μm</text>
<line x1="136.2" y1="905.5" x2="169.6" y2="905.5" stroke="#111" stroke-width="1.6"/>
<clipPath id="mc301"><rect x="190.2" y="694.5" width="138.7" height="103"/></clipPath>
<g clip-path="url(#mc301)"><g filter="url(#sf)">
<rect x="190.2" y="694.5" width="138.7" height="103" fill="#e2e4e0"/>
<rect x="190.2" y="694.5" width="138.7" height="103" filter="url(#nz)"/>
<path d="M246 777l13-35l-36 21l3 32l-2-1l-21-54l64 52l40-66l-29 57l-64-4l89 15l-82-23l33 22l43-97l24 83l-91 15l-17-3l60-94l30 30l-103-16l2 30l28 48l13-84l-52 62l14 26l89-40l-24-30l46 3l-106 28l100 40l-67-75l11-13l19 11l-42 59l90-18l-92 34l44-41l-27 29l-11-69l5 16l-27-19l74 12l23 41l-3 2l-109 15l-4-41l112 14l10-4l-19-12l-59 25l19-29l43 4l21 12l-73 46l16-58l11 11l-80-27l36 39l23-21l-16 39l2-62l-21 62l15-47l-25-30l114-2l-98 22l2 64l-29 10l59-49l5 41l-49-41l3 23l6 17l47 12l49-34l-125-29l91 17l-10-41l-68 35l82-47l12 29l-65 27l39-40l7 67l-46 10l68-9l-36-26l-75-10l137 50l-132 0" fill="none" stroke="none" marker-start="url(#pr)" marker-mid="url(#pr)" marker-end="url(#pr)"/>
<path d="M214 738l0-22l62 65l-35-9l20-59l-57 65l49 16l-21-89l81 70l14-48l-16-12l0 47l-82-51l36 52l-6 26l-41-56l-19-26l104 69l-10-40l-29-23l-66 57l16 2l101-72l-83 8l-16 84l65-32l-38-1l17-43l-37 2l10 28l41-36l-43 59l40-65l-20 55l60-43l-100 39l92-57l-71 63l5-62l78 66l-92-62l5 52l61 42l-97-42l111-46" fill="none" stroke="none" marker-start="url(#pc)" marker-mid="url(#pc)" marker-end="url(#pc)"/>
<defs><path id="cp301_0" d="M230 802 227 803 216 796 219 793 219 786 224 786 233 796zM318 742 326 732 331 728 336 732 342 733 335 740 330 743zM203 772 206 764 210 757 218 757 220 762 222 772 211 774zM320 734 320 730 326 729 327 731 329 733 325 736 321 738zM290 804 291 797 298 791 303 793 310 800 305 806 297 804zM235 718 240 714 243 713 247 714 254 720 248 722 237 721zM217 766 215 759 220 755 223 750 231 746 230 759 229 764zM277 781 275 783 272 778 267 771 270 771 277 774 281 777zM263 730 254 737 260 724 264 714 269 719 277 729 269 731zM282 717 273 716 282 705 283 704 288 701 293 706 287 715zM207 760 210 757 216 747 221 741 221 755 218 762 213 767zM223 758 216 761 206 756 210 749 215 750 219 747 226 755zM237 780 230 778 236 770 241 769 245 774 242 778 242 786zM226 736 219 725 232 722 244 722 244 730 240 734 227 742zM291 748 287 744 281 737 285 726 293 728 294 733 297 742zM224 765 233 756 238 753 250 748 248 752 248 768 240 760zM330 772 327 770 328 764 336 757 335 766 339 768 334 772z" stroke-linejoin="round"/></defs>
<defs><path id="cp301_1" d="M242 741 244 734 247 727 254 730 254 736 254 741 245 740zM207 692 209 688 222 679 223 686 226 693 215 698 209 695zM235 758 234 762 226 763 218 759 222 752 226 751 238 753zM328 767 327 760 324 757 330 752 337 754 340 761 330 765zM185 722 187 716 187 711 191 710 195 712 197 717 191 732zM226 731 230 738 215 732 205 736 210 724 219 725 226 726zM253 731 246 735 237 727 235 721 238 720 248 721 249 724zM248 764 246 762 242 756 242 745 249 750 251 755 252 757zM244 783 244 789 237 782 237 781 238 779 241 776 249 778zM257 759 254 759 254 753 253 742 261 745 263 753 263 760zM316 733 315 729 310 719 319 718 328 716 327 725 323 731zM288 772 285 773 285 762 291 762 294 764 302 772 292 774zM209 716 203 718 197 709 198 704 205 701 208 701 212 711zM326 738 320 735 311 724 307 716 324 717 326 724 328 730zM245 745 237 734 246 735 255 738 256 740 256 748 247 747zM246 787 239 783 238 780 240 775 244 773 247 776 251 785zM200 725 205 718 208 718 211 719 214 723 208 724 205 726zM215 701 211 703 207 704 198 700 206 691 214 693 214 698z" stroke-linejoin="round"/></defs>
<defs><path id="cp301_2" d="M261 761 250 751 255 745 262 738 266 744 276 750 266 755zM245 757 241 753 246 746 257 747 256 750 258 757 252 757zM212 779 215 774 218 770 223 771 226 775 226 778 219 783zM182 732 185 729 189 724 199 724 201 731 197 743 186 739zM327 792 318 790 316 789 314 782 316 776 321 780 331 785zM290 747 283 749 275 742 277 736 284 738 289 739 291 745zM293 717 296 702 298 694 303 692 305 697 309 701 306 710zM258 703 255 717 248 707 246 695 250 692 255 695 258 702zM194 801 192 801 185 801 182 795 184 792 191 792 196 793zM213 806 214 802 217 795 226 793 228 799 226 809 220 811zM279 710 283 705 291 705 294 705 298 710 294 719 286 713z" stroke-linejoin="round"/></defs>
<defs><path id="cp301_3" d="M329 727 323 729 314 725 312 717 316 714 319 714 330 719zM265 768 260 767 261 760 265 757 273 754 270 765 267 769zM279 772 277 768 274 761 283 761 285 764 287 768 284 777zM208 795 204 794 209 787 216 787 218 789 214 795 209 801zM261 759 265 754 269 748 278 746 277 754 271 762 265 764zM333 732 330 729 330 726 335 724 336 726 339 728 334 733zM314 774 309 778 304 775 299 768 309 761 316 763 317 773zM275 704 266 700 270 693 270 684 275 680 283 687 283 695z" stroke-linejoin="round"/></defs>
<g filter="url(#hb)">
<use href="#cp301_0" fill="#8a46c8" fill-opacity="0.45" stroke="#8a46c8" stroke-opacity="0.4" stroke-width="4.5"/>
<use href="#cp301_1" fill="#8a46c8" fill-opacity="0.45" stroke="#8a46c8" stroke-opacity="0.4" stroke-width="4.5"/>
<use href="#cp301_2" fill="#8a46c8" fill-opacity="0.45" stroke="#8a46c8" stroke-opacity="0.4" stroke-width="4.5"/>
<use href="#cp301_3" fill="#8a46c8" fill-opacity="0.45" stroke="#8a46c8" stroke-opacity="0.4" stroke-width="4.5"/>
</g>
<use href="#cp301_0" fill="#6a22b6" fill-opacity="0.9" stroke="#6a22b6" stroke-opacity="0.9" stroke-width="1.2"/>
<use href="#cp301_1" fill="#5a1aa6" fill-opacity="0.9" stroke="#5a1aa6" stroke-opacity="0.9" stroke-width="1.2"/>
<use href="#cp301_2" fill="#8a38c8" fill-opacity="0.9" stroke="#8a38c8" stroke-opacity="0.9" stroke-width="1.2"/>
<use href="#cp301_3" fill="#7a2cc2" fill-opacity="0.9" stroke="#7a2cc2" stroke-opacity="0.9" stroke-width="1.2"/>
<path d="M221.5 795h0m111.5-61h0m-86.5 1h0m-32-45h0m16 67.5h0m101.5 2h0m-9-28h0m-131.5 0h0m108.5 66.5h0m-33.5-36h0m54.5 23h0m-131.5-68h0m92.5 51.5h0m-40-41.5h0m32.5 49h0m10.5-35h0m-18-17h0m66.5 3.5h0m-86.5 28h0m37-46h0m-68.5 46.5h0m25.5 25h0m0-6h0m-5.5-46.5h0m54.5 10.5h0m-33 16h0m53.5 15h0m-37.5-79h0m18 78.5h0m-49 9.5h0m90-12.5h0m-115 37h0m71-93.5h0m-79.5-9.5h0" stroke="#4a2192" stroke-width="4.0" stroke-linecap="round" fill="none" stroke-opacity="0.45"/>
<path d="M224 722l-8 51l65-67l-88-8l121 78l-95-51l75 26l-11 46l-64-32l2 16l57-67l19 54l-46 24l-41-52l21 23l70-53l-43 41l22-14l-34 51l-52-48l109 26l-101-2l94-52l-60 58l78 11l10 0l-93 7l-40-27l72 33l-32-84" fill="none" stroke="none" marker-start="url(#pc)" marker-mid="url(#pc)" marker-end="url(#pc)"/>
</g></g>
<rect x="190.2" y="694.5" width="138.7" height="103" fill="none" stroke="#111" stroke-width="1.4"/>
<text x="306.5" y="786.9" text-anchor="middle" font-weight="bold" font-size="10.6">50μm</text>
<line x1="289.3" y1="791.7" x2="322.7" y2="791.7" stroke="#111" stroke-width="1.6"/>
<clipPath id="mc311"><rect x="190.2" y="808.3" width="138.7" height="103"/></clipPath>
<g clip-path="url(#mc311)"><g filter="url(#sf)">
<rect x="190.2" y="808.3" width="138.7" height="103" fill="#d6d8cc"/>
<rect x="190.2" y="808.3" width="138.7" height="103" filter="url(#nz)"/>
<path d="M304 835l-104 18l125-29l-58 39l-45-22l11 44l43-1l11-46l21 29l-34-32l-41 68l65 0l-72-82l92 90l-19-48l-29-44l-50 71l-22-37l94 18l-99-54l77 12l15 28l-9-19l-42 65l82-4l-78-60l63 50l-32 9l-63-37l8 6l-13-27l76 24l52 14l-51 7l41 11l-30-55l-15 25l36-22l-92 9l42-5l-31 6l-5 16l-7-57l110 70l-78 3l30-65l-57 35l42-12l-20-7l-29 39l-16-27l6 36l56-68l7 73l42 10l-92 4l109-63l-124-26l111 27l-48 29l-42-12l-2 17l56-37l-22 58l5-23l-68-22l58 17l36 26l-13-47l-27 31l-50 2l116-46l-102 23l-7-32l87 25l-9-33l-73 59l74 31l-91 3l120-100l-18 4l7 38l-7-32l-67 33l34 41l42-15l-42-4l16-14l-32-19l3 43l-44 22l40-56l40-23l-9 41l-70-13l8 6l112 35l-31-36l11-32l-110-19" fill="none" stroke="none" marker-start="url(#pr)" marker-mid="url(#pr)" marker-end="url(#pr)"/>
<path d="M252 823l13 15l-31 35l58 7l5-41l-17 65l27-45l-43-36l-70 51l31-44l75 2l-105 76l78-3l-21-8l63-6l-1-42l14 12l-12 3l-84-51l14 94l-2-38l-44-19l-1 52l96-42l1-46l24 5l-47 21l42 21l-6 47l-39-59l-41-28l0 84l-1-72l64 76l-74-30l32-15l78 33l-114 12l82-7l-36-63l5 21l0 49l-2-97l-8 56l-6-34l-24 68l94-55l-82 59l36 4l21-41" fill="none" stroke="none" marker-start="url(#pc)" marker-mid="url(#pc)" marker-end="url(#pc)"/>
<defs><path id="cp311_0" d="M332 876 329 877 324 878 324 875 326 872 331 872zM228 813 232 807 234 804 235 805 236 808 235 810zM335 857 332 859 326 854 325 850 330 849 336 853zM326 876 324 874 329 873 334 874 331 877 328 878zM262 914 257 910 257 905 260 896 262 903 263 911zM290 843 288 844 282 843 279 839 284 840 289 841zM267 856 266 854 270 849 273 850 271 856 269 857zM248 856 244 850 243 843 244 837 247 845 248 848zM192 807 191 812 179 811 179 805 185 804 190 802zM224 908 220 907 219 906 217 902 219 903 224 906zM323 894 322 891 322 889 324 887 326 887 326 891zM283 834 285 831 289 828 291 830 291 831 286 836zM282 849 284 855 275 846 275 841 277 840 283 845zM308 833 304 834 300 831 301 828 303 826 307 830zM254 824 252 822 252 819 253 817 254 819 257 825zM240 908 236 906 241 899 245 897 246 901 245 907zM263 892 261 886 266 876 271 872 271 881 266 889zM264 906 258 907 251 907 251 905 253 903 258 904zM303 914 303 911 305 909 308 910 310 911 305 915zM283 862 282 858 287 855 289 857 289 859 284 864zM280 886 282 880 284 877 287 876 287 879 285 883zM334 894 329 891 329 884 331 883 333 884 336 888zM276 832 279 824 280 821 284 820 283 824 282 828zM197 907 195 902 194 896 195 892 199 894 198 899zM194 815 195 812 202 811 205 812 204 814 197 816zM202 825 200 826 192 823 195 821 199 821 201 822zM300 810 298 807 300 802 302 802 303 805 302 807zM292 885 290 884 290 880 294 877 295 878 294 884zM295 912 290 906 290 901 292 898 294 902 294 905zM301 881 301 877 305 873 307 875 307 877 304 880z" stroke-linejoin="round"/></defs>
<defs><path id="cp311_1" d="M189 879 187 880 182 879 182 877 184 877 188 877zM199 844 197 841 198 835 202 832 204 836 201 848zM245 913 246 910 253 908 255 910 253 912 247 914zM207 840 198 840 190 832 191 830 197 831 200 832zM205 854 203 855 200 853 201 850 201 847 208 853zM316 895 316 890 325 889 329 888 327 893 324 893zM238 820 240 814 249 805 250 810 250 815 245 817zM286 900 288 896 292 892 295 894 297 896 291 901zM308 848 306 849 302 846 300 843 305 844 309 847zM226 892 221 896 217 894 216 892 216 888 226 887zM315 903 312 902 314 896 317 896 319 897 318 903zM306 891 304 889 303 882 304 877 309 881 311 886zM256 917 256 911 257 908 263 905 263 908 262 915zM227 819 226 816 229 811 232 811 235 810 230 818zM242 814 239 811 236 806 239 803 243 806 245 812zM208 890 204 888 203 885 200 881 204 879 209 884zM289 841 285 844 282 843 280 840 282 837 287 838zM254 823 256 820 261 817 264 817 260 821 259 822zM187 888 183 888 180 881 182 880 187 882 189 884zM236 909 234 904 237 900 239 900 240 903 238 906zM223 903 223 898 225 895 227 895 230 897 226 901zM204 838 201 840 196 838 195 836 195 832 204 836zM227 870 228 868 234 863 238 864 236 866 231 869zM247 856 248 856 253 855 252 856 252 859 246 858zM248 889 244 888 240 884 238 877 244 880 247 883zM324 825 319 825 315 824 313 824 311 817 320 821zM198 805 199 802 205 803 207 804 205 806 202 806zM312 869 309 872 306 869 305 865 309 865 314 868z" stroke-linejoin="round"/></defs>
<defs><path id="cp311_2" d="M333 875 329 871 329 867 332 861 335 865 334 870zM220 912 218 916 216 909 216 907 220 908 221 911zM327 828 326 830 320 828 320 826 321 826 323 825zM218 916 214 918 212 916 210 912 214 913 219 915zM318 890 315 890 312 887 315 884 315 882 318 887zM327 904 328 900 333 893 334 897 338 897 330 903zM275 911 270 911 268 909 268 906 268 904 273 906zM209 871 211 868 217 867 218 869 215 871 212 872zM224 830 221 829 216 822 217 819 221 822 223 824zM216 849 213 849 211 849 204 844 209 844 214 847zM215 852 211 852 207 849 207 847 212 847 213 849zM316 821 314 826 305 820 303 818 307 813 312 818zM259 837 254 832 253 830 255 826 257 826 262 833zM301 914 299 913 301 908 304 908 306 910 302 917zM269 824 267 825 263 823 262 818 266 819 268 821zM201 888 206 887 213 885 211 889 211 892 206 892zM183 853 186 851 188 850 193 852 189 853 185 854zM294 893 292 891 291 883 293 882 295 886 296 891zM239 908 236 906 242 905 244 904 244 907 241 909zM319 858 312 859 309 856 309 855 311 854 313 854zM255 873 254 869 261 870 265 872 262 875 257 877zM319 884 317 878 324 874 326 873 326 876 324 881zM265 872 263 869 263 860 266 862 267 864 267 870zM257 812 257 810 260 805 261 805 261 808 258 816z" stroke-linejoin="round"/></defs>
<defs><path id="cp311_3" d="M275 826 272 828 268 823 265 820 270 820 277 823zM319 840 318 838 321 837 324 836 325 837 322 841zM268 870 261 870 259 866 255 861 260 862 269 866zM298 883 299 882 301 881 304 881 303 883 298 886zM258 851 258 849 260 843 263 842 264 847 263 849zM303 815 298 813 294 809 294 806 297 805 302 810zM323 838 320 838 320 833 321 828 324 831 324 835zM324 825 324 822 329 820 333 817 332 822 328 825zM317 894 320 890 328 884 330 890 329 895 323 896zM264 837 260 832 271 834 281 833 273 838 265 840zM204 911 201 911 200 908 201 906 202 906 203 909zM334 810 330 808 328 801 330 801 334 802 338 811zM239 843 242 838 245 836 249 838 246 841 243 842zM321 821 316 820 321 812 324 812 326 816 325 822zM184 825 181 821 185 819 188 815 190 820 187 825zM195 841 196 840 203 838 205 839 200 842 195 845zM329 897 325 898 321 897 321 895 323 893 326 895zM282 864 281 861 279 855 288 854 286 858 285 865zM247 817 251 813 255 810 258 811 257 813 254 816zM216 845 212 848 202 841 198 833 205 836 210 839zM205 838 199 835 196 831 198 829 200 829 203 833zM223 899 220 899 218 899 215 896 220 895 223 896zM229 894 227 894 225 888 228 885 230 888 232 891zM223 837 224 841 216 839 215 835 215 833 221 835zM260 877 262 873 265 871 269 869 269 873 262 879zM313 813 317 811 319 811 320 812 320 813 317 814zM257 880 254 880 252 874 253 868 255 870 256 876zM236 827 235 824 236 820 241 819 241 821 240 824z" stroke-linejoin="round"/></defs>
<g filter="url(#hb)">
<use href="#cp311_0" fill="#8a46c8" fill-opacity="0.45" stroke="#8a46c8" stroke-opacity="0.4" stroke-width="2.6"/>
<use href="#cp311_1" fill="#8a46c8" fill-opacity="0.45" stroke="#8a46c8" stroke-opacity="0.4" stroke-width="2.6"/>
<use href="#cp311_2" fill="#8a46c8" fill-opacity="0.45" stroke="#8a46c8" stroke-opacity="0.4" stroke-width="2.6"/>
<use href="#cp311_3" fill="#8a46c8" fill-opacity="0.45" stroke="#8a46c8" stroke-opacity="0.4" stroke-width="2.6"/>
</g>
<use href="#cp311_0" fill="#5320a6" fill-opacity="0.9" stroke="#5320a6" stroke-opacity="0.9" stroke-width="1.2"/>
<use href="#cp311_1" fill="#6424b8" fill-opacity="0.9" stroke="#6424b8" stroke-opacity="0.9" stroke-width="1.2"/>
<use href="#cp311_2" fill="#8038c6" fill-opacity="0.9" stroke="#8038c6" stroke-opacity="0.9" stroke-width="1.2"/>
<use href="#cp311_3" fill="#7430c2" fill-opacity="0.9" stroke="#7430c2" stroke-opacity="0.9" stroke-width="1.2"/>
<path d="M329.5 874.5h0m-143.5 2.5h0m144.5-6.5h0m-58.5-45.5h0m-69.5 14.5h0m49 70.5h0m-47-56.5h0m119.5 37h0m-2.5-65h0m-107 89h0m100-28.5h0m-71.5-73h0m90 85.5h0m-40.5-2.5h0m13-49.5h0m-37 60.5h0m-48.5-16h0m13.5-83h0m-14.5 15.5h0m9.5-9.5h0m12-7.5h0m56.5 2.5h0m23.5 25h0m7.5-12.5h0m-4 70.5h0m-55.5-57h0m40-14.5h0m-52 10h0m-11.5 17h0m-59.5-40h0m35.5 96h0m80 10.5h0m20.5-99h0m-63 5.5h0m63 70h0m-33-60.5h0m-7 17h0m22-18.5h0m-119-5.5h0m68.5-3.5h0m-10.5 84h0m-57-53h0m52.5 54h0m-11-5h0m-25.5-64h0m53-21.5h0m2 91h0m56.5-48h0m-53 14h0m-54-30.5h0m118.5 35.5h0m-103 19.5h0m95.5-82.5h0m-33.5 66.5h0m-3.5-56h0m-14 44h0m-66-45.5h0m45 60h0m75-59h0m-26.5 57.5h0m-88.5-74.5h0m87.5 96.5h0m-31.5-94.5h0m50.5 58.5h0" stroke="#4a2192" stroke-width="2.4" stroke-linecap="round" fill="none" stroke-opacity="0.45"/>
<path d="M247 871l-23-36l68 47l18-18l-41 42l-16-32l45-16l-90 35l116-1l-16 1l0-59l-64 5l39 57l-59-50l64 40l-34 24l65-47l-18-48l-92-6l-8 74l102-15l-112 3l8 40l106-74l-12 72l28-85l-130 25l74-19l29 80l-30-92l52 81l-99-66l29 73" fill="none" stroke="none" marker-start="url(#pc)" marker-mid="url(#pc)" marker-end="url(#pc)"/>
</g></g>
<rect x="190.2" y="808.3" width="138.7" height="103" fill="none" stroke="#111" stroke-width="1.4"/>
<text x="306.5" y="900.7" text-anchor="middle" font-weight="bold" font-size="10.6">50μm</text>
<line x1="289.3" y1="905.5" x2="322.7" y2="905.5" stroke="#111" stroke-width="1.6"/>
<clipPath id="mc302"><rect x="343.7" y="694.5" width="138.7" height="103"/></clipPath>
<g clip-path="url(#mc302)"><g filter="url(#sf)">
<rect x="343.7" y="694.5" width="138.7" height="103" fill="#e6e8e4"/>
<rect x="343.7" y="694.5" width="138.7" height="103" filter="url(#nz)"/>
<path d="M478 750l-58-7l-50-45l29 48l52-17l27-23l-43-9l-61 11l105 56l-58 19l55-50l-13-9l-22 56l-45-18l49-58l4 11l-65 4l-1 73l21-9l-41-63l-18 23l131 5l-33-37l-91 6l124 49l-3 8l-93-60l49-5l-18 41l-32 45l-27-5l-3 4l52-84l29 57l-31-23l37-21l-49 43l20 14l-1-11l13-50l-25 33l15 15l28-1l-59 18l93-53l-2 13l-88-43l58 64l-4-27l-78-43l73 67l46 16l-56 17l-74-4l69-48l14-12l-16 54l27 4l-28-76l-1 59l-24-13l50-27l-93 36l41 28l-40-29l80 19l36-1l-17-23l1 8l-35-37l-43 2l49 52l-39-1l75-55l-15 64l29-22l-76-39l8-11l9 57l39-56l-11 31l-78-36l22-16l60 57l-45 31l6-77l3 23l-35-6l73 28l-84 4" fill="none" stroke="none" marker-start="url(#pr)" marker-mid="url(#pr)" marker-end="url(#pr)"/>
<path d="M426 705l-43 63l70 7l-63 10l28-23l-34-34l-21-20l79-4l-7 34l-47 3l74 16l-57-2l19-57l-49 88l81-20l21 0l-43 18l-66-44l82-28l-16-10l-81 28l89 46l-36-12l-8-35l-28 6l104 24l-69-6l23 18l-13-21l-30 22l86-16l-114-24l78-19l31-5l4 63l-46-18l44-8l2 51l-110-7l55-7l-51-3l47-13l-13-61l25 84l-28-60" fill="none" stroke="none" marker-start="url(#pc)" marker-mid="url(#pc)" marker-end="url(#pc)"/>
<defs><path id="cp302_0" d="M450 746 445 746 443 742 442 739 443 734 447 739 449 741zM473 720 476 714 480 708 492 710 492 716 491 721 480 723zM415 705 410 701 409 698 407 694 411 691 419 692 415 701zM449 719 449 714 452 703 457 699 463 699 460 712 457 716zM461 774 457 779 452 778 439 773 444 768 456 757 465 770zM448 736 442 735 437 732 438 728 441 722 443 724 448 728zM456 706 452 713 441 702 436 699 444 690 450 691 456 695zM409 776 403 774 408 766 412 765 418 766 424 777 410 780zM395 769 386 760 379 758 391 745 394 752 398 757 401 770zM387 799 374 796 373 792 375 783 377 777 387 774 394 791zM448 696 443 701 443 692 441 685 448 687 450 689 452 693zM377 766 369 762 367 761 361 745 372 750 376 754 378 760zM368 716 361 723 354 710 349 701 349 698 365 700 365 710zM447 749 443 750 438 744 439 737 444 731 446 741 451 747zM413 697 414 695 417 691 422 695 423 699 420 700 412 699zM337 741 323 740 331 733 341 727 348 732 347 740 342 745zM442 727 438 726 433 724 426 722 430 715 440 718 449 722zM395 753 395 766 381 759 371 758 374 749 383 745 387 748zM400 729 400 736 392 728 386 724 392 719 396 720 400 726zM413 799 411 805 407 800 402 799 406 794 408 792 416 795zM477 748 476 754 467 751 463 747 466 745 473 741 478 743z" stroke-linejoin="round"/></defs>
<defs><path id="cp302_1" d="M354 785 347 778 345 775 347 764 352 768 356 772 354 779zM344 816 336 813 335 798 338 796 343 792 344 797 353 809zM405 711 410 704 414 701 423 702 421 709 417 711 412 711zM434 791 428 795 424 793 417 789 422 785 423 778 432 783zM347 737 340 739 334 732 336 723 342 724 348 724 352 731zM379 792 372 794 368 786 366 783 371 779 376 782 379 784zM481 722 480 711 482 705 485 702 494 694 495 708 491 713zM418 727 417 732 413 732 399 733 406 721 412 722 417 724zM462 801 455 795 448 788 455 783 459 785 463 788 464 794zM400 773 398 761 404 760 409 752 414 755 415 765 407 767zM432 796 436 786 442 780 454 782 452 789 445 793 442 806zM387 808 383 805 383 794 389 790 391 790 395 796 392 808z" stroke-linejoin="round"/></defs>
<defs><path id="cp302_2" d="M333 771 336 766 341 764 348 764 349 769 343 775 339 777zM389 784 389 779 398 773 409 770 406 778 400 782 393 784zM465 775 458 767 456 762 462 756 466 757 471 761 466 767zM379 787 378 783 387 781 394 784 395 794 390 796 378 792zM438 787 439 781 443 775 446 774 447 779 448 787 444 788zM411 797 414 793 420 789 432 785 427 798 424 801 419 801zM450 702 442 696 432 687 440 687 443 681 453 685 452 692zM407 714 402 713 401 707 404 694 410 702 413 703 416 717zM457 710 453 712 444 712 440 702 440 698 447 697 454 700zM395 709 393 703 394 694 401 690 402 700 408 709 404 714zM445 794 445 788 450 787 457 789 457 790 453 800 450 799zM482 789 479 782 478 776 484 773 490 771 490 780 484 789zM437 747 444 737 449 736 453 739 456 743 454 747 447 745z" stroke-linejoin="round"/></defs>
<defs><path id="cp302_3" d="M402 748 407 739 410 737 414 737 417 742 413 743 409 744zM460 701 452 700 444 698 436 694 439 692 446 689 451 693zM389 703 380 703 383 697 383 694 386 688 392 692 394 700zM399 711 403 702 401 695 408 695 411 698 412 704 407 707zM343 804 342 800 340 790 346 788 351 786 354 795 351 802zM426 792 423 790 423 786 424 780 426 779 432 782 430 788zM473 780 473 767 475 762 480 757 484 760 481 767 477 772zM462 699 458 695 457 691 462 686 468 690 471 695 467 702zM363 737 360 737 352 733 352 730 355 725 360 726 370 730zM455 796 451 787 451 782 453 780 458 773 460 782 459 792z" stroke-linejoin="round"/></defs>
<g filter="url(#hb)">
<use href="#cp302_0" fill="#8a46c8" fill-opacity="0.45" stroke="#8a46c8" stroke-opacity="0.4" stroke-width="4.5"/>
<use href="#cp302_1" fill="#8a46c8" fill-opacity="0.45" stroke="#8a46c8" stroke-opacity="0.4" stroke-width="4.5"/>
<use href="#cp302_2" fill="#8a46c8" fill-opacity="0.45" stroke="#8a46c8" stroke-opacity="0.4" stroke-width="4.5"/>
<use href="#cp302_3" fill="#8a46c8" fill-opacity="0.45" stroke="#8a46c8" stroke-opacity="0.4" stroke-width="4.5"/>
</g>
<use href="#cp302_0" fill="#5a1aa6" fill-opacity="0.9" stroke="#5a1aa6" stroke-opacity="0.9" stroke-width="1.2"/>
<use href="#cp302_1" fill="#8a38c8" fill-opacity="0.9" stroke="#8a38c8" stroke-opacity="0.9" stroke-width="1.2"/>
<use href="#cp302_2" fill="#7a2cc2" fill-opacity="0.9" stroke="#7a2cc2" stroke-opacity="0.9" stroke-width="1.2"/>
<use href="#cp302_3" fill="#6a22b6" fill-opacity="0.9" stroke="#6a22b6" stroke-opacity="0.9" stroke-width="1.2"/>
<path d="M411 698h0m44.5 13.5h0m-2.5 62.5h0m-112 25h0m72-29h0m51-6h0m-18-68h0m-62 92h0m41-0.5h0m-35-29h0m-9 28h0m63.5-5h0m1-90h0m-71 93h0m46.5 13h0m25-91.5h0m-74 53.5h0m-16-50.5h0m89.5 36h0m-105-8h0m83.5 47h0m55-19.5h0m-28 27.5h0m-13.5-70.5h0m46.5 59.5h0m-36-41.5h0m-39 24h0m56.5-71.5h0m-84.5 62h0m14.5-28.5h0m46 62.5h0m-85-55.5h0m54.5 64h0m61.5-50.5h0" stroke="#4a2192" stroke-width="4.0" stroke-linecap="round" fill="none" stroke-opacity="0.45"/>
<path d="M402 739l34 5l18-26l-15 47l-64-48l-11 2l42 33l52-5l-14 7l16 36l11-37l-113-37l-7-15l50 35l2 61l31-32l-76 19l21-89l5 88l-11-44l1-4l24 62l-31-97l95 72l-32-11l-14 10l-25-6l79-33l-74-3l31 59" fill="none" stroke="none" marker-start="url(#pc)" marker-mid="url(#pc)" marker-end="url(#pc)"/>
</g></g>
<rect x="343.7" y="694.5" width="138.7" height="103" fill="none" stroke="#111" stroke-width="1.4"/>
<text x="460" y="786.9" text-anchor="middle" font-weight="bold" font-size="10.6">50μm</text>
<line x1="442.8" y1="791.7" x2="476.2" y2="791.7" stroke="#111" stroke-width="1.6"/>
<clipPath id="mc312"><rect x="343.7" y="808.3" width="138.7" height="103"/></clipPath>
<g clip-path="url(#mc312)"><g filter="url(#sf)">
<rect x="343.7" y="808.3" width="138.7" height="103" fill="#dcded2"/>
<rect x="343.7" y="808.3" width="138.7" height="103" filter="url(#nz)"/>
<path d="M434 876l-86-52l130 4l-39 26l39 25l-88-55l-2 72l94-9l-116-5l13 9l3-62l-13 73l8-81l-14 19l42-12l27 83l26-32l-91-4l60-47l35 1l-16 51l-8 23l-64-63l68 47l-28-14l-21 21l59-86l19 92l-117-14l118-47l-82 64l48-2l11-63l-7 67l-85-64l14-12l87-5l8 27l-16-29l-27 32l-73 13l129-32l-14 49l-84 16l-7-63l57 26l-15 4l1 33l17 5l-51-72l32-3l66 13l-23 0l-18 15l-34-14l68-21l-81 22l53 13l22-9l-88 1l59-39l43 88l-136-78l109 61l-72-40l24 4l46 1l-28 24l-24-34l-54 30l71-24l-8 11l-23-26l5 67l47 3l28-27l-2-38l-95 68l59-29l18-51l14 58l-50-31l-9 36l-8-19l-12 13l17 20l49-68l-42-2l16 63l-24-40l68-24l16 62l-31-28l0-21l-36 38l-15 2l2-63l19 91l7-34l-53-14" fill="none" stroke="none" marker-start="url(#pr)" marker-mid="url(#pr)" marker-end="url(#pr)"/>
<path d="M430 901l-32-22l-5 0l-40 20l14-89l80 28l-32 8l-36 8l59 15l-51-14l-26-10l-14 60l-1-25l10-33l-7 38l126 20l-11 2l11-42l-75 44l77-1l-93-39l42 21l-15 19l-65-13l71-50l16-23l-26 84l-20-1l92-32l-16 1l-9 2l-72-40l41 8l25-6l-87 46l101-44l-12-6l0 22l-103 42l67-51l28-30l-23 89l6-53l37-19l-66-13l-5 14l33-1l-11 49l27-33l2-11" fill="none" stroke="none" marker-start="url(#pc)" marker-mid="url(#pc)" marker-end="url(#pc)"/>
<defs><path id="cp312_0" d="M483 918 478 914 475 910 477 909 479 909 484 915zM474 894 471 891 466 889 467 882 471 887 474 892zM431 900 434 898 436 894 440 898 437 900 434 901zM477 844 474 844 470 843 469 839 472 839 477 841zM344 909 343 905 341 897 344 898 347 899 349 905zM445 827 443 823 452 820 457 819 453 824 449 829zM432 806 429 808 424 805 421 801 425 799 431 803zM393 912 393 910 396 908 399 908 400 911 395 913zM367 892 369 890 374 890 375 891 372 893 369 893zM405 911 403 910 408 906 412 903 410 908 406 912zM471 849 471 846 472 843 473 843 474 844 473 850zM445 860 448 857 455 853 454 856 456 858 450 861zM454 891 461 885 467 881 467 884 466 888 463 890zM365 900 363 898 365 892 367 889 367 895 366 902zM470 897 469 895 470 890 471 891 472 893 471 895zM470 830 476 824 481 824 485 825 482 828 478 830zM342 807 341 805 345 800 349 799 347 805 345 806zM454 878 453 876 458 870 461 874 460 877 457 879zM415 820 414 819 417 814 419 812 419 817 417 821zM370 854 369 855 365 853 365 851 367 850 372 850zM470 893 470 890 473 889 477 887 476 891 472 894zM417 905 414 903 413 900 415 895 418 899 418 903zM450 899 443 899 439 899 439 897 439 895 444 895zM361 816 352 821 346 817 344 815 346 813 350 815zM423 880 423 877 425 873 427 873 429 873 426 879z" stroke-linejoin="round"/></defs>
<defs><path id="cp312_1" d="M449 908 448 906 452 899 454 901 455 904 452 906zM473 883 470 881 468 877 471 876 472 876 476 883zM405 900 402 900 398 899 397 894 400 894 404 897zM429 905 430 902 433 901 437 900 440 903 431 907zM409 866 409 861 409 858 412 857 417 856 411 864zM364 905 362 903 360 900 361 899 363 899 365 902zM380 895 379 893 382 891 385 890 384 892 381 895zM483 912 479 911 480 905 482 900 484 904 484 908zM364 858 367 855 374 853 377 854 374 858 367 859zM463 895 467 893 472 895 475 897 472 901 467 898zM476 886 473 883 472 880 473 879 475 878 475 882zM435 848 435 844 437 841 441 838 440 843 438 847zM400 814 399 810 397 807 399 807 400 807 401 809zM395 808 392 809 387 808 385 806 389 805 393 806zM480 894 475 889 473 885 471 882 473 882 477 884zM388 914 385 912 384 908 388 904 391 908 390 913zM455 811 454 811 451 808 451 807 452 806 456 810zM354 808 349 809 342 803 341 799 348 801 351 803zM358 821 356 818 358 814 359 810 364 814 361 820zM452 814 448 811 447 808 446 804 448 806 451 810zM399 864 397 861 396 859 395 854 399 858 401 861zM421 819 420 816 425 812 429 812 428 816 421 823zM435 863 429 861 428 857 429 852 432 854 434 858zM427 898 424 899 420 899 415 896 417 891 426 893z" stroke-linejoin="round"/></defs>
<defs><path id="cp312_2" d="M379 864 380 861 386 856 392 857 391 861 381 869zM410 919 410 915 411 912 413 912 413 915 412 918zM427 852 422 854 418 851 417 849 421 847 423 848zM357 840 353 839 352 835 353 832 356 832 361 837zM362 909 359 907 361 902 365 900 367 901 365 910zM391 835 393 833 395 832 402 831 399 835 393 836zM347 914 346 913 354 912 353 914 352 919 348 916zM478 871 478 867 484 869 487 870 484 872 476 873zM380 826 374 828 372 827 366 823 372 822 375 824zM409 915 408 914 408 910 411 909 411 912 411 914zM452 875 452 871 453 866 456 867 457 870 454 874zM346 888 341 888 339 888 337 886 339 885 345 886zM445 910 439 911 435 905 435 903 439 901 444 907zM387 912 381 911 377 907 372 902 376 901 383 906zM382 917 387 909 392 900 394 902 396 906 390 911zM484 878 477 876 475 874 472 871 476 870 480 873zM413 869 411 865 415 858 417 854 419 862 417 868zM377 816 374 813 374 808 375 807 378 808 378 812zM425 895 423 896 420 890 418 885 422 888 426 890z" stroke-linejoin="round"/></defs>
<defs><path id="cp312_3" d="M400 829 395 832 390 827 390 823 395 823 400 826zM490 832 487 832 484 829 479 822 484 824 488 827zM355 898 347 893 345 889 346 885 351 888 352 890zM359 886 358 885 364 880 367 880 368 884 362 889zM392 870 391 871 386 868 386 867 388 866 393 867zM421 814 420 815 415 814 409 810 414 809 420 812zM403 855 401 856 400 854 397 851 400 852 404 854zM463 845 465 842 470 841 476 840 472 844 468 845zM459 897 458 895 462 893 465 894 465 898 461 898zM364 909 361 908 361 900 363 901 365 904 365 907zM445 813 440 812 438 810 434 806 439 808 443 810zM408 832 406 829 414 830 418 829 418 832 413 833zM335 891 335 889 341 886 344 887 342 890 338 891zM456 891 450 888 446 885 444 878 450 881 455 884zM440 917 436 911 428 906 432 904 435 905 438 909zM401 810 396 808 394 804 393 799 397 801 400 803zM448 877 452 875 460 873 461 875 461 880 455 880zM374 865 370 867 364 865 364 864 366 862 369 863z" stroke-linejoin="round"/></defs>
<g filter="url(#hb)">
<use href="#cp312_0" fill="#8a46c8" fill-opacity="0.45" stroke="#8a46c8" stroke-opacity="0.4" stroke-width="2.6"/>
<use href="#cp312_1" fill="#8a46c8" fill-opacity="0.45" stroke="#8a46c8" stroke-opacity="0.4" stroke-width="2.6"/>
<use href="#cp312_2" fill="#8a46c8" fill-opacity="0.45" stroke="#8a46c8" stroke-opacity="0.4" stroke-width="2.6"/>
<use href="#cp312_3" fill="#8a46c8" fill-opacity="0.45" stroke="#8a46c8" stroke-opacity="0.4" stroke-width="2.6"/>
</g>
<use href="#cp312_0" fill="#6424b8" fill-opacity="0.9" stroke="#6424b8" stroke-opacity="0.9" stroke-width="1.2"/>
<use href="#cp312_1" fill="#8038c6" fill-opacity="0.9" stroke="#8038c6" stroke-opacity="0.9" stroke-width="1.2"/>
<use href="#cp312_2" fill="#5320a6" fill-opacity="0.9" stroke="#5320a6" stroke-opacity="0.9" stroke-width="1.2"/>
<use href="#cp312_3" fill="#7430c2" fill-opacity="0.9" stroke="#7430c2" stroke-opacity="0.9" stroke-width="1.2"/>
<path d="M472.5 888.5h0m-86-27.5h0m86 17.5h0m-35.5 20h0m-86-7h0m-5 12.5h0m102-80h0m-23-21h0m-15.5 57.5h0m-47 40.5h0m18-7.5h0m-16.5-9h0m118 21h0m-63-56.5h0m-65.5-15h0m17 56.5h0m47-78h0m-46 46h0m108.5 12.5h0m-81-19h0m75.5 27.5h0m-21-24.5h0m14-11h0m-93-18.5h0m-10.5 71h0m72.5-52.5h0m23.5 51.5h0m-21 12h0m31-14.5h0m9.5-66.5h0m-21 50.5h0m-80.5 31.5h0m14-3h0m-3 6h0m86-38h0m-39.5 35.5h0m17-99.5h0m-38 90.5h0m-17.5-96.5h0m19.5 59h0m-69-59h0m10.5 14.5h0m68-4h0m0 63h0m5-21h0m-56.5-44.5h0m49.5 80h0" stroke="#4a2192" stroke-width="2.4" stroke-linecap="round" fill="none" stroke-opacity="0.45"/>
<path d="M367 838l33 70l66-70l-19 66l-86-66l91 10l-54 23l-53 37l121-11l8-18l0 16l7-73l-55 50l22 32l33-41l-2-9l-79 19l49 17l-48 12l-55-25l98-13l-89 4l126 41l-82 2l24-52l-31 19l13 23l-11 0l67-54l-99 30l9 5l13-54l-14 35" fill="none" stroke="none" marker-start="url(#pc)" marker-mid="url(#pc)" marker-end="url(#pc)"/>
</g></g>
<rect x="343.7" y="808.3" width="138.7" height="103" fill="none" stroke="#111" stroke-width="1.4"/>
<text x="460" y="900.7" text-anchor="middle" font-weight="bold" font-size="10.6">50μm</text>
<line x1="442.8" y1="905.5" x2="476.2" y2="905.5" stroke="#111" stroke-width="1.6"/>
<clipPath id="mc303"><rect x="497.9" y="694.5" width="138.7" height="103"/></clipPath>
<g clip-path="url(#mc303)"><g filter="url(#sf)">
<rect x="497.9" y="694.5" width="138.7" height="103" fill="#e6e8e6"/>
<rect x="497.9" y="694.5" width="138.7" height="103" filter="url(#nz)"/>
<path d="M502 794l23 3l104-76l-59 15l-15 40l58-55l-40 44l7-58l-28 38l74 34l-35-56l37-5l-83-7l35 65l15 4l0-18l-62 31l102-23l1 16l-16-14l-10-6l-94 15l31-20l76-16l-88 6l84 30l17 7l-26-44l-87 47l-20 1l84-73l-66 49l-13-29l5-31l20 54l-31 20l83-61l12-20l-64 45l83 18l-113 29l16-79l59-12l-23 14l5 14l-4 0l8 32l-8-13l-17-14l-30 7l59-31l-26 41l23 8l-32 19l-14 10l26-67l-1 70l50 0l41-50l-26-43l2 22l-67 43l24-13l-26-16l83-38l-124 64l8-40l27-24l16 98l65-96l18 88l-18-74l-75-2l58 57l-64 25l63-25l-42 15l17-8l51-73l-121 17l122 9l-76 24l24-11l37 1l-7-34l-2 34l-34-34l51 1l-15 39l-105 45" fill="none" stroke="none" marker-start="url(#pr)" marker-mid="url(#pr)" marker-end="url(#pr)"/>
<path d="M602 705l-79 86l38-38l-5-58l-48 27l7 14l37 37l-50-10l31-4l12-57l53 0l13 26l-97 27l77 41l-63-91l98 17l-41 31l49 3l-24-42l-2 30l-4 16l-87-24l66-22l-40 10l19 61l67-24l-38 30l26-37l-114-24l32 28l18-50l36 30l-25 47l47-77l-43 57l-41-36l81 64l-12-55l-5 49l-81-85l72 89l44-73l-79 54l7-60l11 44" fill="none" stroke="none" marker-start="url(#pc)" marker-mid="url(#pc)" marker-end="url(#pc)"/>
<defs><path id="cp303_0" d="M530 774 532 770 534 766 543 760 544 772 541 778 533 776zM498 796 501 792 508 782 512 788 517 792 510 800 497 805zM528 733 517 734 511 732 502 727 512 723 519 724 528 728zM623 740 619 733 627 723 637 718 644 721 634 731 630 735zM582 763 578 768 566 763 571 760 573 754 579 753 581 760zM579 789 577 784 579 777 589 767 588 776 589 779 589 787zM488 756 491 753 495 753 503 750 498 757 495 759 492 762zM492 700 494 691 498 684 502 683 511 681 504 693 501 705zM603 776 603 765 603 759 607 754 613 749 617 761 616 770zM507 763 507 768 503 769 498 764 499 761 503 760 505 762zM512 789 510 783 522 780 528 781 524 789 521 792 517 793zM569 705 564 707 551 707 547 702 545 690 555 693 562 696zM542 755 538 755 541 748 545 743 549 750 550 754 546 755zM622 780 617 782 616 779 613 773 620 771 623 772 623 777zM503 716 502 707 502 702 505 697 512 692 510 708 507 709zM621 709 618 705 618 700 622 695 625 696 633 699 625 708zM605 703 600 701 597 694 601 690 603 690 608 693 609 698zM552 796 557 792 571 784 580 794 589 807 572 807 568 802z" stroke-linejoin="round"/></defs>
<defs><path id="cp303_1" d="M528 767 522 759 517 752 520 747 524 748 527 750 528 757zM505 731 502 725 494 720 501 716 504 713 509 719 509 726zM537 735 542 720 546 715 553 717 557 723 555 726 542 736zM615 786 610 781 615 775 620 768 626 770 624 778 618 784zM563 706 557 707 562 697 563 693 569 696 569 701 567 707zM592 738 591 730 595 723 599 720 607 727 608 732 601 734zM530 739 528 742 516 742 515 736 516 734 523 729 525 731zM575 706 573 706 567 702 565 700 566 694 570 695 575 701zM614 805 612 805 609 799 611 796 615 793 619 795 617 803zM513 701 508 704 499 704 497 700 501 695 506 694 514 698zM610 741 611 734 617 728 624 732 628 736 628 740 618 744zM626 738 625 735 626 731 630 720 633 730 634 733 632 737zM503 795 506 788 511 787 518 787 519 793 515 798 512 798zM618 781 620 775 623 771 625 765 633 772 629 775 627 782z" stroke-linejoin="round"/></defs>
<defs><path id="cp303_2" d="M561 705 557 701 555 695 561 694 564 696 569 698 566 703zM526 805 528 798 531 794 535 795 544 792 543 803 531 807zM494 713 487 713 493 705 497 694 513 697 503 708 500 717zM584 742 578 739 574 733 578 726 584 728 586 735 587 742zM545 764 547 760 550 758 555 760 560 766 552 767 540 769zM614 724 610 721 604 714 606 711 609 706 613 710 615 715zM611 799 603 801 613 788 617 784 625 782 627 795 621 797zM637 772 634 773 630 771 623 761 630 761 637 761 639 765zM576 707 575 701 581 694 586 696 586 701 583 705 582 709zM570 706 569 703 570 698 575 698 581 700 577 706 571 708zM540 730 541 738 526 736 513 722 523 719 531 715 538 725zM494 804 490 798 487 788 493 782 502 786 507 798 496 800zM600 769 595 768 588 763 574 756 582 745 598 754 603 761zM508 757 513 750 518 749 522 753 524 755 522 760 514 758zM529 766 525 762 523 757 526 756 532 751 532 760 533 766zM519 725 516 728 505 728 507 723 505 720 513 718 514 720zM567 693 574 686 579 682 589 687 589 693 580 694 575 696zM538 803 534 800 535 795 536 790 541 787 545 795 540 801zM590 741 596 739 603 736 606 736 615 743 603 749 599 748z" stroke-linejoin="round"/></defs>
<defs><path id="cp303_3" d="M618 737 617 740 607 737 600 732 598 727 613 720 613 729zM505 725 502 722 502 714 511 709 513 717 516 721 510 728zM588 717 585 717 588 713 589 708 596 708 599 717 591 718zM508 759 503 764 500 764 495 763 496 759 499 758 504 755zM583 714 575 712 571 708 575 700 581 689 585 702 584 707zM577 804 570 809 559 808 556 804 564 800 565 796 576 797zM582 739 584 735 591 735 602 734 595 740 593 743 585 741zM642 697 638 699 635 698 627 696 628 690 636 687 643 692zM554 798 550 796 545 793 544 785 549 786 553 786 554 794zM631 697 630 691 635 689 637 688 641 688 639 692 634 698zM647 723 641 723 638 722 637 714 640 713 642 714 651 720z" stroke-linejoin="round"/></defs>
<g filter="url(#hb)">
<use href="#cp303_0" fill="#8a46c8" fill-opacity="0.45" stroke="#8a46c8" stroke-opacity="0.4" stroke-width="4.5"/>
<use href="#cp303_1" fill="#8a46c8" fill-opacity="0.45" stroke="#8a46c8" stroke-opacity="0.4" stroke-width="4.5"/>
<use href="#cp303_2" fill="#8a46c8" fill-opacity="0.45" stroke="#8a46c8" stroke-opacity="0.4" stroke-width="4.5"/>
<use href="#cp303_3" fill="#8a46c8" fill-opacity="0.45" stroke="#8a46c8" stroke-opacity="0.4" stroke-width="4.5"/>
</g>
<use href="#cp303_0" fill="#5a1aa6" fill-opacity="0.9" stroke="#5a1aa6" stroke-opacity="0.9" stroke-width="1.2"/>
<use href="#cp303_1" fill="#6a22b6" fill-opacity="0.9" stroke="#6a22b6" stroke-opacity="0.9" stroke-width="1.2"/>
<use href="#cp303_2" fill="#7a2cc2" fill-opacity="0.9" stroke="#7a2cc2" stroke-opacity="0.9" stroke-width="1.2"/>
<use href="#cp303_3" fill="#8a38c8" fill-opacity="0.9" stroke="#8a38c8" stroke-opacity="0.9" stroke-width="1.2"/>
<path d="M534.5 770.5h0m-10.5-20h0m37.5-52.5h0m-28.5 102.5h0m-27.5-5h0m-0.5-73.5h0m11 7.5h0m66 7h0m27-23h0m22 54.5h0m-135 25.5h0m96.5-30.5h0m8-34h0m-77 6h0m-8.5 19.5h0m12.5 3.5h0m47.5 4h0m8 17.5h0m-88.5-25h0m3.5-65h0m14 33.5h0m67-31h0m-59 97.5h0m-13.5-90.5h0m113 38.5h0m-62-36h0m-12.5 49.5h0m22 51.5h0m63-69.5h0m7.5-40h0m-17 8.5h0m-110 89.5h0m93.5-94h0m-53.5 94.5h0m86.5-98h0m-65.5 106.5h0m69.5-81h0" stroke="#4a2192" stroke-width="4.0" stroke-linecap="round" fill="none" stroke-opacity="0.45"/>
<path d="M543 737l62 54l-11-32l-2-13l15-45l-46 64l-8 27l74-68l9 25l-121 19l117-48l-43 74l3-15l-15-33l57-9l-43 34l15 2l-29 2l-42-29l-5 14l-25-32l116 46l-113-25l113 37l-101-86l20 27l-23 42l2-14l101-30l8 18" fill="none" stroke="none" marker-start="url(#pc)" marker-mid="url(#pc)" marker-end="url(#pc)"/>
</g></g>
<rect x="497.9" y="694.5" width="138.7" height="103" fill="none" stroke="#111" stroke-width="1.4"/>
<text x="614.2" y="786.9" text-anchor="middle" font-weight="bold" font-size="10.6">50μm</text>
<line x1="597" y1="791.7" x2="630.4" y2="791.7" stroke="#111" stroke-width="1.6"/>
<clipPath id="mc313"><rect x="497.9" y="808.3" width="138.7" height="103"/></clipPath>
<g clip-path="url(#mc313)"><g filter="url(#sf)">
<rect x="497.9" y="808.3" width="138.7" height="103" fill="#dcdedc"/>
<rect x="497.9" y="808.3" width="138.7" height="103" filter="url(#nz)"/>
<path d="M576 908l-19-10l-32-75l21-13l14 40l18 51l-62-70l52 42l-43-11l3-19l-4-5l42 48l36 14l-104-84l68 16l70 29l-7 33l-10-81l-1 74l-113 2l-2 3l79-24l-74 27l58 8l-44-51l42 8l-55-49l15 76l107-74l-47 53l0 11l12 20l-15-43l-4 19l-63 37l63-48l47 21l-76-13l-22-36l23 30l16 22l-26 16l14-85l-20 90l95-70l-9 73l-73-101l-6 50l1 34l-24 18l87-77l-106-20l66 29l1 13l-55-1l34 0l71-24l-104 61l122 0l-6 12l-17-88l-99 26l58 69l17-85l-45 43l-9 33l64-32l-1-4l-26 7l0-10l-4 4l-29-9l-1 16l60 23l-29-43l59 31l-84-69l26 42l0 2l-9 32l-17-76l35 78l-4-49l48-11l-14 75l-5-33l-81-14l116 14l-100-40l99 51l-132-43l126-21l0 13l-96 1l24-13l75 73l-87-35l-16 42l90-81l5 61" fill="none" stroke="none" marker-start="url(#pr)" marker-mid="url(#pr)" marker-end="url(#pr)"/>
<path d="M535 888l2-4l-25-54l112 66l3-45l-102-4l101 14l-49-46l28 77l-61-53l-34 4l27 5l79-16l-85 47l-25 13l0-14l83 8l33-26l-26-18l-77 5l61 19l-29 19l62-19l2-21l-8 3l-42 38l18 6l-77-76l2 27l-6 24l87-24l13-15l-39 38l9-15l-63 4l52 47l57-51l-35-28l-55 78l-11 10l93-37l-80 28l-30-87l111 67l18-70l-125-3l86 16l-10 18l-57 18l-18-48" fill="none" stroke="none" marker-start="url(#pc)" marker-mid="url(#pc)" marker-end="url(#pc)"/>
<defs><path id="cp313_0" d="M542 863 540 864 534 860 533 858 538 857 543 861zM577 910 575 908 574 904 574 901 575 902 578 906zM586 920 585 915 586 911 589 908 590 910 589 915zM563 822 565 820 569 818 569 820 569 823 565 824zM515 869 514 870 513 865 516 861 517 863 517 868zM535 892 533 890 538 887 545 885 543 889 538 893zM515 821 514 818 514 814 519 808 520 814 518 818zM584 829 580 828 575 824 579 822 582 821 584 824zM493 859 492 854 491 849 495 846 496 850 496 855zM492 912 494 908 500 908 509 906 503 912 493 916zM598 829 597 824 597 821 600 812 601 820 601 825zM580 816 579 811 581 808 584 807 585 809 584 814zM601 883 596 877 595 874 594 867 598 872 600 876zM567 869 567 867 573 861 578 860 580 862 572 873zM549 854 545 853 542 850 542 847 545 848 551 850zM638 881 639 875 640 871 645 861 646 874 643 877zM556 834 553 834 548 830 549 826 551 827 554 830zM606 866 602 866 606 859 608 854 610 860 608 865z" stroke-linejoin="round"/></defs>
<defs><path id="cp313_1" d="M534 874 533 876 529 874 524 872 526 871 533 872zM622 855 621 854 622 852 623 848 625 851 625 853zM624 888 622 884 625 877 627 878 628 879 628 885zM621 880 619 882 617 881 614 880 615 877 620 879zM583 847 582 844 582 840 583 839 585 838 586 844zM615 896 615 893 618 889 619 888 621 890 618 896zM583 889 581 889 578 881 580 878 585 875 586 885zM552 874 548 875 545 874 543 873 544 868 552 871zM564 869 562 868 559 865 559 862 561 862 563 864zM599 892 596 896 586 891 589 887 593 888 597 889zM628 905 628 902 629 901 631 899 633 901 631 904zM552 837 549 835 545 829 548 825 553 827 554 833zM623 873 620 873 617 869 618 867 620 866 622 869zM592 900 590 898 590 892 595 893 595 895 594 899zM623 812 622 807 623 801 626 797 631 803 627 809zM499 889 494 884 491 880 489 873 494 878 497 880zM648 819 640 818 636 818 637 813 635 809 642 814zM548 823 546 818 553 818 559 816 560 822 551 823zM588 884 593 882 597 880 601 881 597 885 592 886zM519 813 519 812 525 809 532 812 525 815 520 816zM595 849 593 848 592 839 595 841 597 843 598 848zM535 867 532 862 532 859 532 855 537 856 535 862zM590 828 589 825 591 822 594 820 594 825 592 827zM625 863 623 861 624 857 628 856 628 860 626 865zM645 814 640 811 636 809 636 801 641 806 643 810z" stroke-linejoin="round"/></defs>
<defs><path id="cp313_2" d="M502 836 496 837 494 836 487 832 494 832 499 832zM519 853 517 851 517 845 521 845 521 847 522 850zM499 898 501 895 505 893 505 896 505 897 502 899zM639 900 634 900 629 900 630 897 633 895 635 897zM615 845 610 847 610 842 609 838 611 836 614 842zM541 842 540 844 538 835 540 831 543 838 544 841zM579 827 574 827 573 820 573 818 576 818 583 826zM559 871 556 871 557 867 558 865 561 867 560 869zM627 900 627 895 627 893 630 892 634 894 629 897zM555 877 555 871 556 864 559 862 562 864 559 872zM571 901 568 897 571 893 574 890 574 894 575 899zM595 832 592 831 596 825 598 827 599 828 597 832zM614 911 613 905 615 902 616 902 618 902 616 906zM523 813 519 812 521 807 523 806 525 807 525 810zM559 918 558 916 559 908 562 909 564 910 561 915zM530 886 522 884 518 877 521 874 524 874 529 878zM621 845 618 842 627 837 630 840 630 843 623 847zM633 905 628 905 623 905 618 901 623 901 627 901zM634 851 629 849 629 844 634 840 635 844 637 849zM522 910 524 905 528 902 530 902 530 905 527 907zM498 817 494 815 494 811 495 810 497 811 500 814zM578 813 578 809 579 803 583 800 582 807 581 809z" stroke-linejoin="round"/></defs>
<defs><path id="cp313_3" d="M514 899 510 896 506 890 508 888 510 887 513 894zM635 832 634 830 632 824 634 824 636 827 637 831zM519 835 522 831 529 830 530 832 533 837 525 836zM591 905 588 900 588 894 591 893 595 889 594 898zM622 905 621 906 614 902 616 899 620 899 621 902zM602 815 600 814 602 808 610 802 608 809 604 814zM622 881 621 882 618 881 614 878 618 876 622 878zM542 899 540 902 535 899 532 894 538 895 541 896zM617 898 613 898 616 891 618 887 619 892 620 901zM553 855 551 854 549 850 549 844 553 845 556 852zM612 840 608 837 605 828 610 830 612 830 612 835zM628 905 624 896 628 892 630 888 631 892 633 901zM546 831 544 831 541 827 536 821 541 819 547 828zM616 829 615 827 620 827 624 829 621 830 618 830zM550 819 550 818 554 816 557 817 556 819 552 821zM611 851 609 847 612 839 614 839 619 840 614 845zM570 879 567 880 565 881 563 878 562 875 567 877zM599 913 597 912 602 905 606 906 606 908 600 914zM608 824 605 827 605 818 606 817 608 819 609 823zM526 812 528 809 532 807 533 809 532 812 529 812zM584 834 580 831 581 824 584 822 586 825 586 831z" stroke-linejoin="round"/></defs>
<g filter="url(#hb)">
<use href="#cp313_0" fill="#8a46c8" fill-opacity="0.45" stroke="#8a46c8" stroke-opacity="0.4" stroke-width="2.6"/>
<use href="#cp313_1" fill="#8a46c8" fill-opacity="0.45" stroke="#8a46c8" stroke-opacity="0.4" stroke-width="2.6"/>
<use href="#cp313_2" fill="#8a46c8" fill-opacity="0.45" stroke="#8a46c8" stroke-opacity="0.4" stroke-width="2.6"/>
<use href="#cp313_3" fill="#8a46c8" fill-opacity="0.45" stroke="#8a46c8" stroke-opacity="0.4" stroke-width="2.6"/>
</g>
<use href="#cp313_0" fill="#8038c6" fill-opacity="0.9" stroke="#8038c6" stroke-opacity="0.9" stroke-width="1.2"/>
<use href="#cp313_1" fill="#7430c2" fill-opacity="0.9" stroke="#7430c2" stroke-opacity="0.9" stroke-width="1.2"/>
<use href="#cp313_2" fill="#6424b8" fill-opacity="0.9" stroke="#6424b8" stroke-opacity="0.9" stroke-width="1.2"/>
<use href="#cp313_3" fill="#5320a6" fill-opacity="0.9" stroke="#5320a6" stroke-opacity="0.9" stroke-width="1.2"/>
<path d="M511 892h0m111.5-41.5h0m2 30h0m9.5-51h0m-129.5 66.5h0m63.5-75.5h0m-51.5 46h0m103.5 14.5h0m-96.5-49.5h0m15 59h0m74-50h0m-23.5 57h0m-47.5-58h0m-27.5-23h0m106.5 86h0m-17-92h0m-22.5 15h0m-3-4h0m-83.5 32.5h0m6 56.5h0m62-46h0m36-42h0m-18-12h0m49.5 86.5h0m0 6h0m-71.5-36.5h0m15 28.5h0m40 9h0m-20.5-9.5h0m18-61h0m-65 18h0m78.5-45h0m3 87.5h0m-132.5-14h0m145-64h0m-88 2.5h0m-10 7h0m18 86.5h0m35.5-29.5h0m22.5-55h0m-22 17.5h0m-41.5-26.5h0m73 22h0m-2.5 61.5h0m8-55h0m7 27.5h0m-142.5-63h0m108 11h0m-53 10h0m37.5-7h0m-10-18h0m4 20h0" stroke="#4a2192" stroke-width="2.4" stroke-linecap="round" fill="none" stroke-opacity="0.45"/>
<path d="M573 885l-1-61l-66-2l19 88l66-58l-82 55l75-49l51 34l-105 4l10-26l9 31l31-31l23 3l-18-42l12 49l31-2l-115-28l121 46l-9-14l-112-52l122 72l-12-90l-77 25l60-24l3 28l24 68l-79-84l57-16l-103 9l21 26l17-35l57 18l-38 13" fill="none" stroke="none" marker-start="url(#pc)" marker-mid="url(#pc)" marker-end="url(#pc)"/>
</g></g>
<rect x="497.9" y="808.3" width="138.7" height="103" fill="none" stroke="#111" stroke-width="1.4"/>
<text x="614.2" y="900.7" text-anchor="middle" font-weight="bold" font-size="10.6">50μm</text>
<line x1="597" y1="905.5" x2="630.4" y2="905.5" stroke="#111" stroke-width="1.6"/>
<text x="1092" y="683.8" text-anchor="middle" font-size="14">JMJD2C</text>
<text x="1248" y="683.8" text-anchor="middle" font-size="14">JMJD2C+sh-MALAT1</text>
<text x="1344.8" y="666.5" font-size="14">JMJD2C+</text>
<text x="1344.8" y="683.8" font-size="14">miR-503-5p mimic</text>
<text x="1559.4" y="683.8" text-anchor="middle" font-size="14">JMJD2C+sh-SEPT2</text>
<text x="1024.1" y="748.5" text-anchor="middle" font-size="14" transform="rotate(-90 1024.1 748.5)">H1299</text>
<text x="1024.1" y="867.2" text-anchor="middle" font-size="14" transform="rotate(-90 1024.1 867.2)">A549</text>
<clipPath id="mc400"><rect x="1027.4" y="694.5" width="138.7" height="103"/></clipPath>
<g clip-path="url(#mc400)"><g filter="url(#sf)">
<rect x="1027.4" y="694.5" width="138.7" height="103" fill="#eef1da"/>
<rect x="1027.4" y="694.5" width="138.7" height="103" filter="url(#nz)"/>
<path d="M1070 721l70 32l-4-11l21 40l-54 10l-36-76l86 76l-16-23l-103-49l101-25l-65 23l87-1l-116 11l114 28l-7 18l0 23l-32-96l-75 86l63 10l9 0l-30-11l64 1l-61-63l37 40l-57 6l83 11l-98-31l74 8l-65-48l52 79l-74-13l28-41l92 36l-114-36l44 29l40 13l-56-12l31-33l-12 18l54 34l-75-41l58-7l-97 37l1 0l12-72l28 29l-10 42l74-56l1 48l-29 5l33-15l-106 1l3 42l60-41l17-13l-6-12l-51 0l63 1l-18 54l-16-76l-25 42l88 43l-116-22l100-11l16-57l-26 48l-86 29l10-31l13-8l100-21l-24 69l-1-66l-45 0l-44 68l74-17l-53-10l18-5l75 25l-19-86l-55 23l-33 61l60-12l40-63l-18-10l-5 36l-92-38l22-2l-12 31l112 46l-71-56" fill="none" stroke="none" marker-start="url(#pr)" marker-mid="url(#pr)" marker-end="url(#pr)"/>
<path d="M1163 786l-22-43l-57-29l0 75l20-52l-35 3l-26 29l60-48l-49 21l87-32l21 23l-59-38l-29 51l-14 0l-29 36l49-36l29 3l-19 43l-13-77l-46 2l93 34l-67-43l15 61l-15-48l27 29l66 29l-119-64l109 20l-55 11l39 36l27-85l-10 72l4 23l-93-70l76 47l-47 14l51-14l-1-24l-22-14l-40 42l40-58l29 49l15-22l10-20l-89-8" fill="none" stroke="none" marker-start="url(#pc)" marker-mid="url(#pc)" marker-end="url(#pc)"/>
<defs><path id="cp400_0" d="M1128 744 1122 743 1123 736 1126 732 1130 728 1130 735 1130 744zM1160 710 1152 705 1148 700 1146 694 1150 690 1156 690 1162 700zM1102 722 1098 724 1093 720 1092 715 1095 709 1103 708 1107 716zM1031 713 1026 715 1019 711 1017 704 1025 703 1026 703 1032 710zM1040 779 1035 781 1032 780 1020 773 1029 770 1035 771 1039 772zM1063 777 1059 772 1057 769 1056 763 1061 757 1065 764 1067 772zM1098 710 1093 708 1085 706 1090 698 1094 688 1101 700 1104 710zM1127 724 1124 717 1127 714 1135 713 1134 717 1134 723 1129 724zM1034 703 1027 705 1026 698 1033 690 1038 689 1041 699 1040 708zM1043 764 1038 763 1035 759 1031 757 1038 752 1041 750 1043 759zM1050 721 1044 730 1032 733 1031 720 1029 714 1039 712 1054 712zM1151 714 1152 707 1155 700 1160 697 1162 701 1164 703 1158 707zM1045 739 1038 735 1036 734 1036 730 1037 725 1041 728 1043 732zM1123 715 1119 710 1117 704 1117 699 1121 697 1126 702 1126 707zM1065 774 1062 775 1051 771 1052 768 1056 764 1063 758 1065 768zM1158 802 1154 795 1149 792 1154 788 1162 784 1165 794 1162 795zM1039 733 1033 734 1025 733 1017 719 1031 718 1035 720 1040 725zM1166 797 1157 799 1150 800 1144 795 1148 792 1152 792 1157 792zM1113 695 1116 691 1121 686 1125 693 1124 695 1121 698 1115 698zM1149 759 1146 758 1147 751 1150 745 1156 745 1155 752 1153 755zM1020 732 1019 721 1023 718 1031 712 1034 718 1033 727 1029 731zM1131 706 1134 703 1138 699 1149 700 1144 705 1137 709 1135 708zM1081 732 1078 730 1074 725 1077 717 1082 717 1084 722 1086 727z" stroke-linejoin="round"/></defs>
<defs><path id="cp400_1" d="M1113 700 1109 700 1105 693 1103 687 1107 685 1110 688 1112 695zM1114 701 1112 700 1112 694 1114 687 1120 690 1126 695 1119 702zM1134 780 1124 789 1116 785 1109 775 1112 771 1122 769 1131 778zM1055 731 1048 726 1046 725 1046 719 1051 718 1058 721 1056 726zM1128 766 1123 767 1117 766 1109 762 1119 760 1121 759 1129 761zM1158 747 1163 744 1172 739 1177 742 1181 747 1185 756 1169 753zM1139 693 1133 693 1130 690 1130 689 1133 686 1136 688 1140 689zM1017 737 1012 735 1017 722 1030 725 1034 728 1032 733 1024 736zM1088 747 1083 752 1073 751 1067 747 1068 741 1079 734 1083 741zM1134 702 1122 703 1110 700 1112 690 1116 690 1121 688 1127 692zM1113 697 1108 703 1099 700 1087 701 1095 693 1100 691 1106 692zM1081 732 1077 729 1075 725 1075 716 1081 718 1084 720 1086 728zM1046 700 1044 704 1031 702 1031 696 1032 694 1033 689 1044 696zM1070 720 1061 716 1056 710 1063 709 1066 701 1072 710 1076 720zM1088 738 1083 738 1080 735 1078 732 1078 729 1084 729 1088 733zM1053 715 1048 711 1051 709 1053 702 1057 704 1059 711 1058 714zM1072 717 1067 723 1067 708 1065 696 1073 697 1077 703 1078 710zM1157 769 1150 766 1147 764 1140 758 1151 757 1155 756 1159 765zM1178 703 1163 706 1155 705 1154 699 1153 687 1165 693 1168 699zM1081 763 1077 760 1079 743 1086 750 1095 752 1088 759 1081 776zM1077 706 1082 702 1091 691 1091 699 1094 702 1091 706 1086 708zM1094 708 1087 704 1105 702 1112 701 1110 706 1107 712 1096 720zM1094 803 1095 797 1099 798 1105 799 1105 802 1107 810 1095 808zM1040 739 1042 746 1030 747 1026 742 1023 738 1026 733 1034 737z" stroke-linejoin="round"/></defs>
<defs><path id="cp400_2" d="M1129 800 1125 801 1122 794 1121 791 1128 784 1134 791 1135 800zM1068 764 1067 757 1078 751 1083 753 1092 753 1084 765 1070 776zM1049 713 1051 709 1056 705 1060 710 1066 714 1058 718 1055 715zM1131 728 1126 723 1136 716 1140 716 1143 724 1137 730 1134 730zM1108 750 1101 755 1094 750 1099 743 1101 738 1104 737 1107 743zM1150 783 1145 778 1143 771 1150 763 1157 764 1156 771 1157 777zM1107 773 1102 769 1099 765 1098 758 1104 760 1109 763 1107 767zM1136 726 1130 728 1128 725 1125 722 1127 719 1132 718 1138 724zM1095 735 1090 739 1084 733 1084 726 1081 719 1091 725 1098 733zM1032 725 1034 720 1030 712 1041 700 1050 703 1045 714 1044 729zM1039 779 1039 776 1045 774 1047 774 1049 777 1046 787 1042 781zM1138 740 1136 736 1142 731 1147 732 1151 734 1152 744 1145 743zM1045 727 1037 734 1026 725 1013 717 1026 717 1031 710 1038 722zM1180 691 1174 697 1166 696 1165 693 1163 685 1168 687 1174 688zM1153 709 1159 706 1163 705 1167 707 1169 711 1162 715 1158 716zM1040 800 1037 796 1035 792 1038 783 1042 785 1043 790 1042 795zM1032 752 1025 753 1028 747 1027 740 1030 739 1035 745 1034 748zM1100 733 1096 741 1082 732 1086 723 1090 723 1105 722 1103 727zM1140 757 1131 754 1141 749 1149 748 1149 752 1148 758 1143 759zM1154 720 1152 719 1148 712 1154 711 1157 712 1158 714 1161 722zM1083 751 1079 750 1078 746 1076 742 1080 739 1083 742 1086 748zM1088 767 1079 772 1080 762 1078 755 1088 752 1092 752 1091 762zM1019 802 1014 796 1022 793 1027 789 1029 792 1034 798 1027 803zM1154 703 1149 702 1145 695 1147 694 1151 693 1156 692 1155 698zM1074 763 1069 764 1065 760 1062 759 1062 755 1070 755 1075 758zM1145 754 1139 753 1136 751 1133 749 1134 741 1136 744 1145 748zM1139 737 1135 738 1129 737 1119 733 1125 727 1132 725 1138 728zM1014 742 1016 734 1026 731 1033 732 1036 737 1034 740 1026 745zM1103 710 1111 699 1121 697 1127 700 1133 703 1119 709 1111 709zM1157 695 1152 698 1150 698 1143 695 1146 693 1149 691 1154 692zM1151 728 1149 730 1139 731 1138 728 1138 723 1144 722 1149 723zM1049 720 1041 718 1044 714 1045 706 1051 704 1054 712 1054 725z" stroke-linejoin="round"/></defs>
<defs><path id="cp400_3" d="M1110 704 1107 696 1123 696 1132 700 1131 705 1124 709 1116 709zM1109 787 1104 781 1108 772 1110 771 1116 770 1117 780 1115 786zM1065 798 1062 812 1051 802 1046 799 1048 793 1053 793 1059 796zM1099 722 1100 715 1106 710 1112 716 1112 719 1108 723 1097 728zM1095 697 1092 693 1094 687 1102 683 1102 690 1103 693 1100 698zM1094 698 1085 696 1088 691 1087 680 1094 683 1100 687 1103 704zM1166 756 1159 757 1152 750 1143 745 1155 742 1161 739 1167 750zM1072 772 1067 767 1073 761 1078 754 1081 760 1079 767 1076 779zM1039 807 1034 802 1029 798 1032 794 1034 794 1037 797 1041 801zM1112 707 1108 700 1112 695 1117 694 1118 699 1122 702 1117 703zM1139 810 1133 804 1138 799 1143 796 1148 795 1145 804 1144 808zM1041 797 1040 791 1035 789 1039 781 1043 779 1048 785 1048 794zM1167 754 1164 753 1167 745 1171 744 1174 743 1172 750 1173 757zM1067 715 1066 712 1063 702 1071 704 1076 707 1075 713 1070 718zM1103 767 1096 763 1100 754 1103 752 1110 743 1109 754 1106 760zM1098 739 1100 732 1109 732 1116 737 1117 744 1112 745 1101 746zM1115 791 1111 788 1107 783 1112 778 1116 774 1123 778 1124 793zM1084 744 1083 737 1087 728 1091 725 1095 728 1096 735 1091 744zM1149 785 1151 780 1160 776 1163 774 1167 781 1166 787 1158 789z" stroke-linejoin="round"/></defs>
<g filter="url(#hb)">
<use href="#cp400_0" fill="#8a46c8" fill-opacity="0.45" stroke="#8a46c8" stroke-opacity="0.4" stroke-width="4.5"/>
<use href="#cp400_1" fill="#8a46c8" fill-opacity="0.45" stroke="#8a46c8" stroke-opacity="0.4" stroke-width="4.5"/>
<use href="#cp400_2" fill="#8a46c8" fill-opacity="0.45" stroke="#8a46c8" stroke-opacity="0.4" stroke-width="4.5"/>
<use href="#cp400_3" fill="#8a46c8" fill-opacity="0.45" stroke="#8a46c8" stroke-opacity="0.4" stroke-width="4.5"/>
</g>
<use href="#cp400_0" fill="#8a38c8" fill-opacity="0.9" stroke="#8a38c8" stroke-opacity="0.9" stroke-width="1.2"/>
<use href="#cp400_1" fill="#5a1aa6" fill-opacity="0.9" stroke="#5a1aa6" stroke-opacity="0.9" stroke-width="1.2"/>
<use href="#cp400_2" fill="#6a22b6" fill-opacity="0.9" stroke="#6a22b6" stroke-opacity="0.9" stroke-width="1.2"/>
<use href="#cp400_3" fill="#7a2cc2" fill-opacity="0.9" stroke="#7a2cc2" stroke-opacity="0.9" stroke-width="1.2"/>
<path d="M1153 695.5h0m-46-3h0m18 102.5h0m-46.5-36.5h0m19.5-41.5h0m-46.5 5.5h0m-25.5-15h0m125 64.5h0m-27.5-8h0m-67 33h0m116.5-50h0m-69 20h0m54-18h0m-134-18.5h0m66.5-1h0m-28 36.5h0m79-29h0m-67 29.5h0m97.5-76.5h0m-41 27.5h0m32-9.5h0m-126.5 90.5h0m77.5-98.5h0m-81.5 45.5h0m10 41h0m-6-68h0m2-21h0m55.5 29.5h0m74 20.5h0m-98-37.5h0m75 46h0m-106.5-26.5h0m66 25.5h0m-31-49h0m78.5 57.5h0m-62.5-58.5h0m-20.5 52.5h0m35.5-50.5h0m1.5 33h0m-48 28.5h0m-23.5-43.5h0m118.5 69.5h0m-25-63.5h0m-99 4h0m91-39.5h0m31 56.5h0m-7.5-28h0m-52.5 7.5h0m-67-8h0m111.5-19.5h0m-87 11h0m111.5 67.5h0" stroke="#4a2192" stroke-width="4.0" stroke-linecap="round" fill="none" stroke-opacity="0.45"/>
<path d="M1071 725l74 20l12 20l0-29l6-21l-95 39l36 37l-10-78l8 51l53-54l-39-9l4 73l6-44l-33 56l25-74l-1 24l-50 22l73-58l-36 56l24 23l-41-54l75 28l-19-39l3 43l-20-59l6 47l-22-2l19-9l27 6l-76 1" fill="none" stroke="none" marker-start="url(#pc)" marker-mid="url(#pc)" marker-end="url(#pc)"/>
</g></g>
<rect x="1027.4" y="694.5" width="138.7" height="103" fill="none" stroke="#111" stroke-width="1.4"/>
<text x="1143.7" y="786.9" text-anchor="middle" font-weight="bold" font-size="10.6">50μm</text>
<line x1="1126.5" y1="791.7" x2="1159.9" y2="791.7" stroke="#111" stroke-width="1.6"/>
<clipPath id="mc410"><rect x="1027.4" y="808.3" width="138.7" height="103"/></clipPath>
<g clip-path="url(#mc410)"><g filter="url(#sf)">
<rect x="1027.4" y="808.3" width="138.7" height="103" fill="#d6d8c8"/>
<rect x="1027.4" y="808.3" width="138.7" height="103" filter="url(#nz)"/>
<path d="M1048 907l-18-65l135 35l-73-49l-42-15l101 81l-29-75l-73 47l43 16l66 11l-75-84l72 9l-86 55l16-55l75 20l-15 20l-43-24l-32-11l-30 43l124-17l-125 42l104-59l20 50l-113-62l101-5l-120 0l72 42l57-42l6 86l-107-66l40-7l18 74l20-65l-42 1l14-30l-39 12l64 31l16-18l-118 12l7-17l58-17l64 79l-41-9l-69 10l25-75l-42 21l96-6l-96 26l86 10l-6-40l30 33l-6 34l-67-56l-19 47l-12-17l31 26l11 11l-13-2l66-49l-7 51l-46-26l40-19l10 35l-6-31l21-30l14-21l-58 73l3-42l-75-1l23 22l30-15l-8-41l64 64l-27 36l-71-55l-13 12l132-37l-60 62l18-5l-63 21l-3-85l81 52l-10-34l-57-20l23 70l47-24l27 3l-64-23l14 54l6-40l16-5l-35 50l53-5l2-77l-108 48l18 35l-12-14l88-35l-108-48l125 14" fill="none" stroke="none" marker-start="url(#pr)" marker-mid="url(#pr)" marker-end="url(#pr)"/>
<path d="M1151 907l-18-83l-17 11l-48-1l9 47l8-22l-26 16l75 28l14-78l-58 26l66-25l-15 51l-65-59l78 82l-126-60l71 0l35 9l-35-37l-38 78l23 19l-49-87l12-13l101 36l-88 45l48-17l-48 28l71-60l-34-11l60 49l-82 27l41-90l-20 26l-49 37l63-62l-47 80l-15-42l78 5l-83-9l49 39l-62-26l90-36l-81-13l66 61l45-34l16-6l-49-1l20 32l-37 38l12-48l47 3" fill="none" stroke="none" marker-start="url(#pc)" marker-mid="url(#pc)" marker-end="url(#pc)"/>
<defs><path id="cp410_0" d="M1134 905 1131 906 1127 900 1127 898 1133 899 1139 905zM1158 874 1159 868 1161 861 1166 864 1167 869 1162 872zM1116 883 1114 882 1115 878 1117 871 1119 878 1119 882zM1133 839 1128 840 1123 840 1122 836 1124 835 1128 836zM1101 886 1099 886 1095 884 1095 882 1098 881 1100 883zM1129 854 1127 856 1125 851 1126 850 1128 850 1129 852zM1147 809 1148 807 1155 804 1155 807 1155 809 1151 810zM1122 864 1120 866 1114 869 1113 864 1113 861 1118 862zM1049 885 1047 883 1050 879 1052 878 1052 881 1050 885zM1146 829 1150 825 1154 822 1156 823 1154 826 1151 828zM1148 889 1146 890 1146 883 1148 882 1149 884 1150 886zM1126 824 1123 827 1122 822 1121 819 1123 820 1126 821zM1173 857 1173 858 1165 860 1157 852 1166 853 1176 853zM1116 828 1115 827 1120 821 1120 823 1120 825 1118 832zM1024 826 1026 821 1028 819 1033 818 1033 821 1028 826zM1085 827 1086 823 1091 822 1097 821 1096 824 1088 828zM1165 885 1166 881 1167 879 1170 879 1170 881 1169 883zM1048 827 1040 829 1036 828 1033 825 1039 821 1042 825zM1125 846 1121 843 1121 835 1123 833 1127 835 1128 839zM1087 841 1093 833 1098 831 1102 830 1100 836 1098 837zM1135 905 1130 906 1128 907 1120 903 1127 900 1132 902zM1027 886 1030 884 1036 883 1033 886 1036 888 1028 887zM1114 827 1109 825 1105 820 1108 815 1113 817 1115 821zM1089 904 1086 904 1082 902 1078 898 1083 899 1086 900zM1022 854 1020 850 1022 845 1027 843 1031 846 1026 852zM1146 836 1144 831 1145 826 1148 822 1149 826 1148 831zM1118 807 1117 804 1123 803 1126 802 1124 806 1122 807zM1115 805 1117 802 1123 802 1127 803 1126 807 1121 808zM1102 845 1100 848 1092 846 1086 842 1095 843 1097 843zM1077 890 1084 886 1089 886 1092 888 1090 891 1085 891zM1030 819 1029 817 1029 812 1032 814 1033 815 1032 817zM1049 851 1048 851 1047 846 1051 843 1052 847 1051 849zM1115 911 1112 911 1110 911 1109 908 1108 905 1115 909zM1146 915 1140 912 1140 904 1143 898 1147 901 1147 907zM1151 836 1149 836 1149 832 1150 829 1152 832 1154 837zM1121 852 1121 847 1123 838 1126 841 1126 844 1127 848zM1155 837 1152 836 1150 831 1152 829 1153 828 1157 834zM1094 858 1091 854 1094 851 1097 846 1100 849 1096 858z" stroke-linejoin="round"/></defs>
<defs><path id="cp410_1" d="M1121 864 1118 864 1112 862 1108 857 1115 859 1119 861zM1044 897 1043 896 1045 890 1049 890 1050 893 1047 897zM1088 818 1092 816 1097 814 1098 817 1097 819 1093 821zM1153 883 1157 879 1161 878 1166 880 1162 883 1158 883zM1030 871 1028 868 1024 863 1025 860 1030 864 1031 868zM1048 821 1042 820 1041 816 1037 809 1043 810 1050 818zM1104 826 1097 826 1093 824 1091 822 1096 822 1100 823zM1110 832 1108 831 1112 824 1118 823 1119 828 1113 833zM1031 870 1030 868 1032 865 1035 865 1035 867 1032 873zM1029 918 1025 920 1021 917 1020 916 1021 914 1026 915zM1090 813 1094 806 1097 802 1100 803 1099 806 1098 808zM1063 906 1058 908 1056 904 1054 899 1057 900 1061 902zM1145 864 1142 865 1138 858 1139 854 1143 857 1146 863zM1071 868 1068 866 1067 865 1063 858 1068 862 1072 864zM1128 907 1123 908 1121 906 1119 903 1121 903 1126 904zM1041 862 1041 859 1041 856 1044 852 1046 858 1044 862zM1087 868 1083 870 1081 868 1080 867 1080 865 1085 867zM1106 850 1103 848 1099 845 1099 841 1103 841 1106 846zM1072 825 1069 823 1067 815 1071 815 1073 816 1075 821zM1134 832 1131 831 1131 825 1135 825 1136 828 1136 834zM1153 836 1155 832 1159 830 1161 830 1160 833 1156 836zM1101 872 1100 871 1105 867 1106 868 1106 870 1103 872zM1145 816 1145 812 1149 809 1155 809 1152 815 1145 818zM1098 869 1095 866 1096 863 1098 858 1100 861 1099 866zM1143 911 1148 904 1153 895 1160 895 1153 904 1149 909zM1095 871 1088 872 1083 872 1083 869 1087 867 1091 868zM1092 817 1090 815 1095 807 1097 808 1099 811 1096 817zM1090 877 1090 875 1098 874 1098 877 1097 879 1093 878zM1173 879 1171 878 1167 874 1168 873 1171 874 1172 875zM1128 807 1129 805 1133 802 1136 804 1133 807 1130 808zM1151 890 1150 887 1150 885 1151 882 1152 883 1153 886zM1174 862 1171 863 1166 862 1163 859 1169 855 1175 859zM1165 868 1161 867 1156 864 1155 861 1159 862 1162 864zM1124 896 1115 894 1112 890 1111 886 1113 884 1119 890zM1059 916 1061 914 1064 912 1068 911 1066 914 1062 916zM1165 911 1163 910 1166 907 1169 906 1170 907 1168 911zM1053 823 1048 820 1039 815 1045 813 1048 814 1054 819zM1041 894 1037 894 1033 892 1033 890 1036 889 1038 891zM1147 869 1143 867 1142 862 1146 860 1147 861 1148 866zM1159 806 1155 809 1147 810 1151 806 1150 803 1156 802zM1170 838 1168 843 1162 839 1158 836 1161 835 1168 832zM1083 874 1083 870 1085 868 1090 866 1093 867 1086 873zM1131 902 1127 901 1122 899 1118 894 1123 892 1130 896z" stroke-linejoin="round"/></defs>
<defs><path id="cp410_2" d="M1054 915 1053 908 1055 903 1057 902 1058 905 1057 910zM1123 917 1122 919 1118 913 1118 909 1121 913 1124 915zM1125 906 1123 908 1117 905 1115 900 1119 900 1124 904zM1165 911 1162 912 1153 910 1151 906 1157 906 1166 907zM1126 866 1122 860 1122 856 1125 854 1127 852 1129 861zM1170 861 1165 858 1162 854 1163 850 1166 852 1168 856zM1073 815 1073 813 1076 808 1081 806 1077 812 1075 815zM1078 842 1078 837 1082 833 1087 831 1085 835 1080 844zM1056 905 1053 905 1048 897 1049 894 1054 897 1056 900zM1094 880 1089 882 1086 883 1083 880 1087 878 1092 876zM1160 882 1155 881 1153 876 1154 875 1157 873 1161 876zM1139 897 1139 895 1144 890 1146 889 1145 893 1144 895zM1157 895 1159 893 1162 892 1167 892 1164 896 1160 899zM1054 824 1053 820 1054 815 1059 816 1061 820 1056 824zM1134 836 1136 832 1138 831 1142 829 1140 833 1139 836zM1038 828 1039 831 1030 831 1022 827 1026 825 1037 827zM1047 893 1044 893 1044 887 1046 887 1049 886 1049 891zM1107 863 1105 862 1099 856 1101 852 1104 853 1107 856zM1035 814 1036 811 1036 806 1041 803 1040 809 1039 813zM1134 877 1137 875 1139 873 1142 875 1141 878 1136 878zM1151 838 1149 836 1148 834 1149 827 1151 834 1153 837zM1075 885 1073 880 1073 876 1075 877 1076 878 1076 882zM1036 813 1034 811 1037 806 1039 807 1044 806 1039 814zM1161 917 1156 917 1150 913 1150 910 1155 910 1157 912zM1154 837 1159 835 1161 835 1166 835 1161 838 1158 839zM1136 885 1134 887 1132 886 1131 884 1132 883 1135 884z" stroke-linejoin="round"/></defs>
<defs><path id="cp410_3" d="M1119 829 1121 826 1128 822 1127 826 1127 828 1123 830zM1053 876 1048 873 1050 864 1053 862 1057 867 1056 875zM1127 872 1125 871 1129 868 1132 868 1131 870 1126 875zM1128 852 1125 849 1125 845 1128 843 1130 847 1130 850zM1119 842 1115 841 1112 836 1110 833 1115 835 1119 839zM1137 888 1134 888 1131 887 1131 885 1133 884 1135 885zM1150 877 1147 878 1143 877 1142 875 1145 875 1148 874zM1063 917 1058 919 1053 917 1052 916 1057 915 1059 915zM1084 831 1079 835 1072 833 1073 831 1071 827 1079 829zM1038 898 1035 897 1032 898 1033 896 1033 894 1038 896zM1140 841 1139 839 1144 836 1145 838 1145 840 1141 844zM1021 859 1022 854 1024 851 1027 852 1029 855 1025 857zM1093 815 1093 818 1085 814 1086 812 1087 811 1091 813zM1100 843 1100 840 1103 836 1106 835 1108 837 1103 840zM1153 891 1149 889 1147 883 1147 877 1149 877 1152 886zM1131 841 1135 838 1140 838 1142 839 1140 840 1132 843zM1087 832 1082 834 1077 830 1075 828 1078 827 1085 830zM1104 828 1104 822 1108 820 1111 819 1113 823 1108 830zM1081 805 1081 807 1077 806 1076 803 1079 802 1081 804zM1104 876 1103 879 1102 870 1101 867 1105 867 1107 874zM1049 840 1044 837 1043 832 1045 826 1048 829 1053 838zM1168 868 1167 872 1162 866 1162 864 1164 864 1166 866zM1133 918 1127 914 1121 911 1116 903 1124 906 1129 910zM1114 851 1116 849 1120 847 1122 848 1121 850 1117 852zM1099 840 1099 836 1103 836 1107 835 1104 840 1100 841zM1064 876 1062 875 1062 868 1064 864 1066 869 1066 873zM1036 822 1035 818 1040 810 1045 811 1044 817 1039 821zM1067 816 1064 813 1063 808 1064 806 1067 808 1068 811zM1117 840 1122 837 1128 833 1128 838 1130 840 1120 843zM1091 898 1092 894 1093 889 1095 889 1099 892 1094 897zM1122 831 1120 828 1117 825 1120 820 1121 823 1123 828z" stroke-linejoin="round"/></defs>
<g filter="url(#hb)">
<use href="#cp410_0" fill="#8a46c8" fill-opacity="0.45" stroke="#8a46c8" stroke-opacity="0.4" stroke-width="2.6"/>
<use href="#cp410_1" fill="#8a46c8" fill-opacity="0.45" stroke="#8a46c8" stroke-opacity="0.4" stroke-width="2.6"/>
<use href="#cp410_2" fill="#8a46c8" fill-opacity="0.45" stroke="#8a46c8" stroke-opacity="0.4" stroke-width="2.6"/>
<use href="#cp410_3" fill="#8a46c8" fill-opacity="0.45" stroke="#8a46c8" stroke-opacity="0.4" stroke-width="2.6"/>
</g>
<use href="#cp410_0" fill="#7430c2" fill-opacity="0.9" stroke="#7430c2" stroke-opacity="0.9" stroke-width="1.2"/>
<use href="#cp410_1" fill="#6424b8" fill-opacity="0.9" stroke="#6424b8" stroke-opacity="0.9" stroke-width="1.2"/>
<use href="#cp410_2" fill="#8038c6" fill-opacity="0.9" stroke="#8038c6" stroke-opacity="0.9" stroke-width="1.2"/>
<use href="#cp410_3" fill="#5320a6" fill-opacity="0.9" stroke="#5320a6" stroke-opacity="0.9" stroke-width="1.2"/>
<path d="M1132 902.5h0m-15-42h0m-1.5 18.5h0m-71 17h0m49.5-78h0m64 64h0m-104 25h0m70-80h0m-8.5 37.5h0m36.5-37h0m-109.5-10h0m53 6h0m62 85.5h0m-46-81.5h0m57 27h0m-117 14.5h0m114-14.5h0m-66.5-50h0m-7 20.5h0m-18.5-14h0m7 27h0m49 33.5h0m38.5 11.5h0m-108 18.5h0m69-54.5h0m-14.5-8.5h0m-74.5-10.5h0m27.5 35h0m55.5 43.5h0m-71.5-5h0m38-23.5h0m55 17h0m-70-65h0m23.5 5h0m-14 33h0m19.5-22.5h0m-30.5-26h0m88.5 74.5h0m-107-75.5h0m83.5 14h0m-114 21.5h0m8.5 30h0m80-62h0m-30 78.5h0m20.5-63h0m47.5 45.5h0m-68-55h0m76.5 6.5h0m-53.5 34.5h0m3.5-46h0m-6.5 47h0m-68-42.5h0m12.5 8h0m42 34h0m35.5 42h0m-30.5-100.5h0m0.5 67.5h0m74.5-1.5h0m-51-27h0m3.5-46.5h0m-19 34h0m0 19.5h0m49.5 28h0m19.5-24.5h0m-13 3.5h0m-83.5 14.5h0m-23.5-29.5h0m-10.5-32.5h0m70.5 92.5h0m-45.5-98.5h0m-17.5 5h0m103.5 19.5h0m-29.5 3h0m-28.5 55.5h0m31-50h0m28.5-36h0m12.5 30h0m-39 61h0m5.5-14.5h0m-36.5-29.5h0" stroke="#4a2192" stroke-width="2.4" stroke-linecap="round" fill="none" stroke-opacity="0.45"/>
<path d="M1047 900l15-18l56 28l-64-92l83 63l10-71l-38 35l-42-4l88 22l-102-48l4 45l5-36l3 75l9-46l86 53l-34-38l-84-48l95 39l-99 30l43-4l1 0l-38 9l109-71l-87-10l38 5l1-1l-74 83l8 5l49-57l2 62l-46-66l10-9l101-13" fill="none" stroke="none" marker-start="url(#pc)" marker-mid="url(#pc)" marker-end="url(#pc)"/>
</g></g>
<rect x="1027.4" y="808.3" width="138.7" height="103" fill="none" stroke="#111" stroke-width="1.4"/>
<text x="1143.7" y="900.7" text-anchor="middle" font-weight="bold" font-size="10.6">50μm</text>
<line x1="1126.5" y1="905.5" x2="1159.9" y2="905.5" stroke="#111" stroke-width="1.6"/>
<clipPath id="mc401"><rect x="1180.9" y="694.5" width="138.7" height="103"/></clipPath>
<g clip-path="url(#mc401)"><g filter="url(#sf)">
<rect x="1180.9" y="694.5" width="138.7" height="103" fill="#e6e8ec"/>
<rect x="1180.9" y="694.5" width="138.7" height="103" filter="url(#nz)"/>
<path d="M1250 739l45 37l-4-41l22-21l-22 49l-84 29l68-90l11 62l-32-68l18 98l36-69l-35-14l-20 7l1-6l-8 23l-28 50l92-29l-20 2l-4-38l-67 6l32 22l57 30l-81-45l51 38l-90-33l-6 28l135-53l-57 78l-36-91l38 56l10 28l-38-26l76-45l-121 41l15 25l100-17l-31 2l-91-67l8 71l111-44l-92 21l80 19l-105-56l12 87l122-95l-24 96l20-76l-6-7l-127-11l6 91l60-21l-20-19l67-32l21-26l-22 12l-32 16l32-10l-59 55l34-39l-61 57l66-90l-45 33l86-25l-22 15l-60-4l74 75l-70-68l5 69l-45-76l8 69l-1-38l93 44l-57 7l77-4l-95-79l60 18l34-3l-26 41l19 15l-33-35l8-5l-6 45l-30-19l-11 12l37-74l-34 43l-8 18l18 25l26-84l37 34" fill="none" stroke="none" marker-start="url(#pr)" marker-mid="url(#pr)" marker-end="url(#pr)"/>
<path d="M1256 779l-23-44l81-10l-6 23l-65-43l-61 25l72 19l-6 19l-42 3l6-61l77 9l-63 22l32-19l-61-5l73 51l-15-54l10 57l-62-38l112 33l-96-45l53 27l-36-29l71-7l-44 15l-3-3l-60 28l5 23l110-57l-70 24l7 52l-51-82l113 75l-112-57l83 67l-101-72l118 11l-68 59l61-81l-34 37l-50-5l-13 26l72-45l-42 63l14-65l48-23" fill="none" stroke="none" marker-start="url(#pc)" marker-mid="url(#pc)" marker-end="url(#pc)"/>
<defs><path id="cp401_0" d="M1293 760 1287 769 1277 755 1271 749 1278 745 1281 744 1290 753zM1264 742 1260 742 1258 742 1257 736 1259 733 1263 735 1268 742zM1288 709 1289 706 1293 705 1296 705 1299 708 1295 711 1288 716zM1289 746 1287 742 1285 737 1291 733 1297 735 1297 742 1294 744zM1275 771 1271 770 1275 760 1283 756 1290 765 1286 772 1281 778zM1260 748 1260 741 1265 731 1273 740 1273 745 1268 750 1263 751zM1257 767 1251 766 1253 756 1256 751 1261 747 1268 756 1260 760zM1299 756 1294 756 1292 757 1290 755 1291 750 1292 750 1300 752zM1280 737 1275 733 1272 731 1279 719 1284 723 1283 729 1283 735z" stroke-linejoin="round"/></defs>
<defs><path id="cp401_1" d="M1252 797 1237 794 1228 797 1229 783 1233 770 1240 780 1248 787zM1311 709 1303 707 1296 706 1298 702 1293 691 1304 697 1312 702zM1260 797 1255 798 1254 790 1254 784 1257 786 1262 785 1264 794zM1294 726 1287 728 1291 718 1294 714 1297 718 1299 721 1298 723zM1257 751 1260 748 1264 745 1271 746 1271 751 1264 755 1261 753zM1309 795 1301 798 1300 793 1289 782 1299 783 1308 784 1312 790zM1248 741 1243 741 1233 736 1235 731 1238 729 1247 732 1250 739zM1333 729 1324 728 1317 727 1308 721 1317 717 1322 717 1326 721zM1274 766 1275 759 1279 756 1284 753 1287 761 1286 764 1280 766zM1249 757 1237 752 1239 742 1245 742 1249 738 1256 742 1252 756zM1298 789 1296 784 1299 779 1299 769 1306 777 1310 781 1302 787zM1215 740 1225 737 1234 733 1239 735 1244 743 1240 745 1231 743z" stroke-linejoin="round"/></defs>
<defs><path id="cp401_2" d="M1226 742 1222 744 1224 735 1228 732 1230 733 1231 737 1230 747zM1183 801 1181 799 1177 795 1183 789 1185 788 1188 794 1186 798zM1223 704 1219 704 1221 696 1225 692 1231 693 1233 702 1226 708zM1313 797 1308 798 1306 791 1303 786 1306 784 1313 785 1315 791z" stroke-linejoin="round"/></defs>
<defs><path id="cp401_3" d="M1203 778 1195 782 1192 781 1186 776 1187 772 1196 773 1201 773zM1181 794 1174 793 1176 787 1180 785 1185 782 1190 788 1183 793zM1239 717 1241 705 1245 694 1255 696 1263 698 1257 705 1252 711zM1305 800 1301 799 1296 795 1300 782 1306 790 1313 795 1309 797zM1296 773 1296 767 1307 762 1314 764 1310 774 1308 778 1302 777zM1184 783 1175 788 1175 777 1175 767 1182 767 1189 773 1185 779zM1313 790 1309 786 1310 779 1314 778 1319 779 1320 782 1317 794zM1271 793 1270 791 1270 784 1275 785 1285 782 1278 790 1275 795zM1171 726 1172 719 1174 710 1181 712 1186 716 1184 722 1178 725zM1303 759 1295 754 1291 747 1294 747 1298 745 1300 747 1301 751zM1291 704 1305 700 1317 696 1321 702 1330 707 1315 709 1306 712zM1279 714 1278 708 1274 699 1283 700 1286 697 1289 704 1288 713zM1216 758 1212 763 1205 759 1194 753 1201 752 1208 752 1212 755zM1245 705 1237 710 1240 697 1242 681 1249 685 1251 696 1251 714zM1225 715 1221 716 1217 712 1213 708 1217 706 1220 701 1225 708z" stroke-linejoin="round"/></defs>
<g filter="url(#hb)">
<use href="#cp401_0" fill="#8a46c8" fill-opacity="0.45" stroke="#8a46c8" stroke-opacity="0.4" stroke-width="4.5"/>
<use href="#cp401_1" fill="#8a46c8" fill-opacity="0.45" stroke="#8a46c8" stroke-opacity="0.4" stroke-width="4.5"/>
<use href="#cp401_2" fill="#8a46c8" fill-opacity="0.45" stroke="#8a46c8" stroke-opacity="0.4" stroke-width="4.5"/>
<use href="#cp401_3" fill="#8a46c8" fill-opacity="0.45" stroke="#8a46c8" stroke-opacity="0.4" stroke-width="4.5"/>
</g>
<use href="#cp401_0" fill="#5a1aa6" fill-opacity="0.9" stroke="#5a1aa6" stroke-opacity="0.9" stroke-width="1.2"/>
<use href="#cp401_1" fill="#8a38c8" fill-opacity="0.9" stroke="#8a38c8" stroke-opacity="0.9" stroke-width="1.2"/>
<use href="#cp401_2" fill="#7a2cc2" fill-opacity="0.9" stroke="#7a2cc2" stroke-opacity="0.9" stroke-width="1.2"/>
<use href="#cp401_3" fill="#6a22b6" fill-opacity="0.9" stroke="#6a22b6" stroke-opacity="0.9" stroke-width="1.2"/>
<path d="M1282 752.5h0m-44 35.5h0m24.5-50.5h0m39.5-34h0m-9 4h0m-68 32h0m68 2h0m-110.5 52.5h0m12.5-17.5h0m72-32h0m-19-39h0m46.5 48h0m7 18h0m11.5 11h0m-70-47.5h0m66.5 55.5h0m12.5-66.5h0m-43 36h0m-30.5-14h0m50 4h0m-67-11.5h0m53-35h0m-78 52h0m14-47h0" stroke="#4a2192" stroke-width="4.0" stroke-linecap="round" fill="none" stroke-opacity="0.45"/>
<path d="M1193 767l92-58l20 30l-28 40l24-41l-99 29l107-59l-115 83l92-35l-18-41l-65 9l24-7l64 23l-62-43l90 85l-88-43l-27 13l80-12l-8 11l9-4l29-42l-126 86l94-46l-80 34l35 18l68-49l-60-43l49 31l-42-40l19 85" fill="none" stroke="none" marker-start="url(#pc)" marker-mid="url(#pc)" marker-end="url(#pc)"/>
</g></g>
<rect x="1180.9" y="694.5" width="138.7" height="103" fill="none" stroke="#111" stroke-width="1.4"/>
<text x="1297.2" y="786.9" text-anchor="middle" font-weight="bold" font-size="10.6">50μm</text>
<line x1="1280" y1="791.7" x2="1313.4" y2="791.7" stroke="#111" stroke-width="1.6"/>
<clipPath id="mc411"><rect x="1180.9" y="808.3" width="138.7" height="103"/></clipPath>
<g clip-path="url(#mc411)"><g filter="url(#sf)">
<rect x="1180.9" y="808.3" width="138.7" height="103" fill="#dedce6"/>
<rect x="1180.9" y="808.3" width="138.7" height="103" filter="url(#nz)"/>
<path d="M1211 842l54-10l40 18l-95-41l99 69l-19 9l-8-56l22 40l-26 10l6-12l-96 22l75-27l-6-55l-62 69l58 2l-37-65l11 21l42 3l31 18l-72 43l48-7l-78-62l55 3l4 63l-22-41l51-25l-100 22l3 50l4-73l70 37l-2-43l-5-1l41 85l-33-74l-6 11l-8-24l-53 34l36 32l-32 5l86-38l31-39l-65 79l23-60l-23-25l-30 81l12-39l70 32l-35-52l17 32l-47 30l-36-44l54 13l-5 22l21-56l-48 73l11-78l4 73l-39-71l13 28l-16-18l45-14l1 57l11-20l31-7l-101 35l83-39l14 45l-29-52l-1 37l-45 15l15-54l-32 36l124-43l-83-21l33 86l44-31l-121-26l98-3l23 26l-10 3l20-43l-62 37l-14 36l62-81l-27 65l-25-9l34-18l-39 26l-65 20l125-23l-100-61l35 48l-8-22l77 16l-31-21l-26-25l-38 52l19 24l-11-10l-32-5" fill="none" stroke="none" marker-start="url(#pr)" marker-mid="url(#pr)" marker-end="url(#pr)"/>
<path d="M1205 906l93-91l-61 80l-1-56l70 26l-92 14l13-57l-24-7l49 32l-48-17l28 64l46-24l36-42l-64 11l-30 39l76 7l-14-41l-63 64l48-16l27-37l-62-36l2-2l25-4l-68 26l114 67l-83-29l-3-7l95-14l-113 40l109-29l-25-8l-60-44l-10-5l6 11l49 21l13 34l-28 34l4-83l0 2l-75-5l103 23l-28 15l-62 31l44-28l54 14l-19 15l-70-53l48 53l50 0l-15-9" fill="none" stroke="none" marker-start="url(#pc)" marker-mid="url(#pc)" marker-end="url(#pc)"/>
<defs><path id="cp411_0" d="M1242 895 1243 893 1246 891 1251 892 1248 896 1244 895zM1239 891 1237 892 1237 886 1239 885 1241 887 1241 890zM1202 874 1202 872 1203 868 1207 864 1205 869 1204 873zM1312 827 1309 825 1304 823 1304 815 1310 817 1313 822zM1204 853 1202 850 1210 848 1215 847 1214 850 1208 853zM1278 855 1280 851 1288 849 1289 851 1288 853 1285 856zM1232 806 1228 807 1221 807 1221 804 1224 802 1227 803zM1236 897 1236 899 1229 899 1230 897 1231 895 1234 895zM1176 817 1180 813 1185 814 1187 815 1187 818 1180 820zM1222 818 1219 813 1220 810 1220 807 1223 810 1222 814zM1295 891 1292 892 1288 889 1286 886 1289 883 1292 888zM1211 900 1205 900 1197 902 1192 897 1201 895 1209 897zM1210 875 1207 877 1202 867 1207 867 1210 869 1212 875zM1259 912 1254 913 1253 911 1252 909 1254 908 1256 909z" stroke-linejoin="round"/></defs>
<defs><path id="cp411_1" d="M1308 906 1305 905 1302 902 1304 901 1305 901 1309 905zM1174 901 1175 899 1178 899 1181 899 1178 901 1176 902zM1270 914 1265 916 1260 916 1259 913 1260 910 1265 910zM1299 854 1301 853 1306 851 1312 852 1312 856 1303 857zM1230 850 1235 847 1239 847 1241 848 1237 851 1234 850zM1266 873 1267 869 1270 867 1274 866 1274 869 1271 870zM1254 911 1252 909 1252 902 1254 904 1256 905 1257 909zM1270 856 1269 851 1271 844 1274 842 1275 846 1275 852zM1203 890 1198 886 1195 883 1196 878 1199 879 1203 884zM1300 824 1302 817 1304 815 1307 814 1307 818 1302 824zM1297 854 1297 852 1297 847 1301 847 1301 850 1299 852zM1187 832 1184 833 1182 830 1178 825 1184 827 1192 832zM1283 842 1282 846 1280 842 1277 840 1278 839 1282 840zM1198 921 1190 916 1184 915 1179 907 1184 908 1194 913zM1235 887 1231 884 1232 880 1233 877 1237 879 1237 886zM1276 849 1274 850 1268 851 1267 849 1271 848 1273 847zM1203 845 1202 841 1204 837 1210 835 1208 838 1205 845zM1307 811 1311 808 1314 806 1320 806 1317 810 1310 814z" stroke-linejoin="round"/></defs>
<defs><path id="cp411_2" d="M1187 831 1184 827 1180 817 1184 817 1186 815 1190 823zM1187 821 1183 818 1186 814 1188 810 1190 813 1189 817zM1178 848 1180 845 1186 845 1188 847 1188 850 1179 849zM1278 835 1277 833 1278 826 1280 822 1285 826 1281 831zM1321 918 1317 915 1321 911 1324 909 1326 913 1324 916zM1184 886 1185 885 1191 884 1190 885 1188 888 1185 888zM1186 860 1188 858 1192 858 1196 859 1194 862 1186 864zM1223 808 1223 804 1225 804 1230 803 1228 806 1225 807zM1279 905 1281 900 1285 897 1290 896 1289 900 1283 904zM1308 855 1308 851 1309 848 1312 845 1312 848 1313 853zM1234 863 1228 861 1224 860 1224 854 1227 856 1231 857zM1180 880 1183 883 1172 883 1173 879 1174 877 1179 876zM1236 823 1235 821 1235 820 1235 816 1238 819 1240 825zM1215 885 1213 884 1215 879 1218 878 1219 879 1218 883zM1316 813 1314 813 1312 811 1311 808 1314 809 1318 812zM1306 909 1306 907 1309 901 1310 902 1310 905 1309 909zM1219 906 1227 902 1235 902 1237 904 1236 907 1231 907zM1217 907 1212 906 1220 898 1225 898 1228 899 1223 905zM1242 891 1240 889 1246 885 1253 888 1250 892 1245 892zM1265 894 1263 892 1261 889 1262 888 1264 888 1267 892zM1271 874 1265 878 1259 876 1252 872 1259 867 1267 871zM1319 827 1316 825 1314 822 1315 818 1317 819 1319 822zM1220 834 1219 829 1219 827 1222 819 1225 825 1222 832z" stroke-linejoin="round"/></defs>
<defs><path id="cp411_3" d="M1287 913 1292 905 1296 901 1298 902 1298 905 1295 908zM1241 840 1236 839 1241 833 1242 830 1245 835 1246 838zM1224 855 1221 853 1222 847 1224 848 1225 849 1224 853zM1175 826 1176 821 1181 818 1184 818 1181 822 1178 824zM1213 884 1211 880 1215 879 1219 880 1222 882 1214 886zM1251 827 1249 830 1246 826 1245 821 1249 822 1256 828zM1280 853 1275 857 1269 855 1267 852 1267 847 1277 852zM1295 825 1292 827 1284 823 1283 820 1286 817 1291 821zM1238 835 1240 833 1242 830 1246 830 1245 832 1242 835zM1275 875 1274 876 1267 875 1267 871 1268 869 1274 871zM1268 909 1272 907 1277 906 1279 908 1277 911 1271 913zM1281 825 1286 820 1291 818 1298 819 1292 825 1284 829zM1220 888 1219 890 1213 886 1211 883 1216 884 1218 885zM1307 845 1305 849 1303 841 1303 837 1306 839 1308 844zM1180 838 1176 836 1174 834 1172 830 1176 831 1179 833zM1200 806 1199 808 1194 808 1194 806 1195 805 1201 804zM1206 850 1203 850 1202 842 1204 839 1209 845 1208 848zM1176 886 1177 882 1179 881 1182 881 1183 884 1178 887zM1313 812 1315 809 1317 808 1322 806 1320 809 1316 812zM1248 918 1246 914 1250 908 1252 910 1258 911 1250 919zM1305 839 1301 840 1298 837 1298 835 1300 835 1302 836z" stroke-linejoin="round"/></defs>
<g filter="url(#hb)">
<use href="#cp411_0" fill="#8a46c8" fill-opacity="0.45" stroke="#8a46c8" stroke-opacity="0.4" stroke-width="2.6"/>
<use href="#cp411_1" fill="#8a46c8" fill-opacity="0.45" stroke="#8a46c8" stroke-opacity="0.4" stroke-width="2.6"/>
<use href="#cp411_2" fill="#8a46c8" fill-opacity="0.45" stroke="#8a46c8" stroke-opacity="0.4" stroke-width="2.6"/>
<use href="#cp411_3" fill="#8a46c8" fill-opacity="0.45" stroke="#8a46c8" stroke-opacity="0.4" stroke-width="2.6"/>
</g>
<use href="#cp411_0" fill="#5320a6" fill-opacity="0.9" stroke="#5320a6" stroke-opacity="0.9" stroke-width="1.2"/>
<use href="#cp411_1" fill="#6424b8" fill-opacity="0.9" stroke="#6424b8" stroke-opacity="0.9" stroke-width="1.2"/>
<use href="#cp411_2" fill="#7430c2" fill-opacity="0.9" stroke="#7430c2" stroke-opacity="0.9" stroke-width="1.2"/>
<use href="#cp411_3" fill="#8038c6" fill-opacity="0.9" stroke="#8038c6" stroke-opacity="0.9" stroke-width="1.2"/>
<path d="M1246 892h0m-7.5-2h0m69 14h0m-129.5-2.5h0m117.5 3h0m-107-89.5h0m-4.5 31h0m56.5-9.5h0m-60.5-14.5h0m101.5 7h0m-80 43.5h0m120.5 42.5h0m-72-91h0m56.5 27.5h0m-34-0.5h0m-81 10.5h0m94.5-9h0m-61-47h0m11 43h0m33 19h0m-43.5-64h0m61 96.5h0m21.5-49.5h0m-73.5-31h0m-53.5-3.5h0m88 58h0m6.5 33h0m-57-26.5h0m4-67.5h0m-5.5 74.5h0m88.5-46.5h0m-108 41.5h0m8.5-36h0m106.5-35.5h0m-7 5.5h0m-73 86.5h0m-47.5-73.5h0m96.5 13h0m-35 48.5h0m-66.5-9h0m8 32.5h0m45.5-34h0m-30.5 18.5h0m68.5-49.5h0m-10 24.5h0m-55.5-33h0m108-31h0m-61 98h0" stroke="#4a2192" stroke-width="2.4" stroke-linecap="round" fill="none" stroke-opacity="0.45"/>
<path d="M1268 833l1 42l15 24l-87-63l10 9l-25 60l42-64l17 29l0 31l23-24l26 28l-53-36l-28 18l71 13l-66-41l91 48l-41-87l14 40l-71 41l92-41l-73 22l17-57l20 31l23 47l32-28l-52-37l-53 11l-7-37l-23 75l57-66l-27-4l86 35l11-19" fill="none" stroke="none" marker-start="url(#pc)" marker-mid="url(#pc)" marker-end="url(#pc)"/>
</g></g>
<rect x="1180.9" y="808.3" width="138.7" height="103" fill="none" stroke="#111" stroke-width="1.4"/>
<text x="1297.2" y="900.7" text-anchor="middle" font-weight="bold" font-size="10.6">50μm</text>
<line x1="1280" y1="905.5" x2="1313.4" y2="905.5" stroke="#111" stroke-width="1.6"/>
<clipPath id="mc402"><rect x="1334.7" y="694.5" width="138.7" height="103"/></clipPath>
<g clip-path="url(#mc402)"><g filter="url(#sf)">
<rect x="1334.7" y="694.5" width="138.7" height="103" fill="#e8eaf0"/>
<rect x="1334.7" y="694.5" width="138.7" height="103" filter="url(#nz)"/>
<path d="M1449 705l-25 31l-13 1l-20 28l60-53l-10 47l-40 7l39 0l-38 13l40-35l-86-19l15 8l91-26l-23 46l-65 12l12-47l39 45l18-25l-30 41l35-61l-50-3l-56-7l95 26l-57 47l72 11l-91-87l-15 31l99 46l-22-2l-5-71l-75-2l12 54l56-6l-13 13l19-1l-29-17l-53 41l57-78l45-2l-68 3l-30 21l50 7l37 39l-49-71l83 38l-8 2l3-50l-96 82l-20-30l59 23l24-20l2-60l-19 36l11-18l-50 11l104 27l-110 24l107-38l-98-25l-1 54l22 31l36-79l-7 14l-63 5l64 60l-15-21l66-33l-89 23l63-62l-23 15l-24 50l-19 5l32-32l-8 44l-36-80l10 39l45-18l0 59l12-42l-61-5l88-5l-59 27l-27-28l27 42l18-48l50 46l-60-48l-33 3l-19 13l59 11" fill="none" stroke="none" marker-start="url(#pr)" marker-mid="url(#pr)" marker-end="url(#pr)"/>
<path d="M1403 791l-32-59l-27 41l23-48l11 48l7 12l-41-26l106-12l-20 45l-17-70l37 0l-44 55l-5-21l-10 29l34-74l27 14l14 37l-5 5l-4-45l-14 45l-2 13l-94-62l125 51l-120-43l66 34l46-64l-103 26l58 72l53-55l-22-12l-24-22l-11 65l-17 17l59-30l-94-21l72-8l-32 37l-60 4l31-22l-37-35l39 54l24-57l3 68l-61-64l60 11" fill="none" stroke="none" marker-start="url(#pc)" marker-mid="url(#pc)" marker-end="url(#pc)"/>
<defs><path id="cp402_0" d="M1381 799 1384 795 1389 794 1398 793 1392 803 1388 804 1384 806zM1398 760 1390 758 1392 748 1403 736 1409 741 1417 748 1405 753zM1432 738 1421 739 1409 745 1411 738 1414 736 1419 733 1429 734zM1382 752 1379 755 1377 753 1374 749 1371 742 1380 744 1388 745zM1390 726 1387 727 1381 727 1379 723 1381 722 1384 719 1387 722zM1404 737 1404 734 1405 727 1410 728 1412 732 1411 738 1405 740zM1406 728 1404 720 1404 713 1410 713 1413 712 1414 718 1409 728zM1371 715 1371 718 1359 717 1351 714 1352 708 1357 703 1368 708zM1368 777 1367 776 1363 773 1367 769 1371 769 1376 771 1372 777z" stroke-linejoin="round"/></defs>
<defs><path id="cp402_1" d="M1381 706 1379 702 1388 696 1394 702 1395 707 1393 712 1381 712zM1336 726 1338 729 1330 728 1326 722 1330 719 1336 718 1341 722zM1401 748 1399 744 1404 740 1409 737 1410 741 1409 748 1406 748zM1405 725 1404 719 1403 714 1411 710 1413 713 1413 722 1408 725zM1436 705 1431 709 1429 706 1427 701 1423 694 1431 697 1436 702zM1350 705 1341 705 1338 705 1332 700 1339 695 1345 695 1352 700zM1335 793 1342 781 1344 773 1353 773 1353 776 1355 786 1348 787zM1394 728 1394 723 1397 719 1403 717 1407 723 1402 727 1399 729zM1403 722 1395 708 1393 701 1401 692 1406 695 1411 699 1407 706zM1467 803 1461 801 1463 792 1468 787 1476 789 1475 798 1473 799zM1384 770 1382 765 1375 755 1385 752 1389 756 1392 761 1392 770zM1447 798 1450 793 1455 787 1460 794 1457 799 1452 802 1450 800zM1463 725 1459 728 1453 722 1453 718 1455 715 1462 715 1463 722zM1432 710 1426 712 1423 708 1427 704 1429 701 1432 702 1434 708zM1379 744 1376 746 1365 740 1365 738 1370 732 1377 733 1384 732z" stroke-linejoin="round"/></defs>
<defs><path id="cp402_2" d="M1431 788 1425 787 1422 788 1419 787 1419 782 1421 782 1427 782zM1374 772 1368 766 1377 763 1384 759 1388 765 1384 770 1380 770zM1457 788 1459 787 1461 784 1464 786 1466 791 1463 796 1461 791zM1402 782 1400 776 1406 769 1410 769 1414 774 1413 780 1409 779zM1379 761 1370 756 1383 752 1392 753 1395 759 1388 762 1378 769zM1373 712 1363 709 1372 699 1383 685 1382 697 1387 705 1381 708zM1368 738 1361 734 1357 730 1352 718 1359 719 1367 725 1366 729z" stroke-linejoin="round"/></defs>
<defs><path id="cp402_3" d="M1424 806 1423 803 1427 799 1431 798 1432 800 1430 805 1428 808zM1401 791 1398 793 1395 789 1394 784 1391 779 1398 785 1403 787zM1438 805 1428 806 1424 802 1418 799 1421 788 1428 791 1438 796zM1442 716 1434 715 1439 704 1444 701 1446 705 1454 707 1444 714zM1440 780 1435 781 1429 782 1424 778 1429 773 1431 774 1438 777zM1355 728 1354 726 1351 715 1354 717 1358 713 1363 718 1366 731z" stroke-linejoin="round"/></defs>
<g filter="url(#hb)">
<use href="#cp402_0" fill="#8a46c8" fill-opacity="0.45" stroke="#8a46c8" stroke-opacity="0.4" stroke-width="4.5"/>
<use href="#cp402_1" fill="#8a46c8" fill-opacity="0.45" stroke="#8a46c8" stroke-opacity="0.4" stroke-width="4.5"/>
<use href="#cp402_2" fill="#8a46c8" fill-opacity="0.45" stroke="#8a46c8" stroke-opacity="0.4" stroke-width="4.5"/>
<use href="#cp402_3" fill="#8a46c8" fill-opacity="0.45" stroke="#8a46c8" stroke-opacity="0.4" stroke-width="4.5"/>
</g>
<use href="#cp402_0" fill="#6a22b6" fill-opacity="0.9" stroke="#6a22b6" stroke-opacity="0.9" stroke-width="1.2"/>
<use href="#cp402_1" fill="#8a38c8" fill-opacity="0.9" stroke="#8a38c8" stroke-opacity="0.9" stroke-width="1.2"/>
<use href="#cp402_2" fill="#5a1aa6" fill-opacity="0.9" stroke="#5a1aa6" stroke-opacity="0.9" stroke-width="1.2"/>
<use href="#cp402_3" fill="#7a2cc2" fill-opacity="0.9" stroke="#7a2cc2" stroke-opacity="0.9" stroke-width="1.2"/>
<path d="M1389 798h0m10.5-49h0m18.5-10h0m-30.5-34h0m9.5 84.5h0m-64-65h0m47 40h0m29-45.5h0m-68.5-21h0m66.5 37h0m-60 45h0m52-55.5h0m2-21.5h0m28.5 97h0m14.5-89.5h0m-59 50h0m68 36h0m6.5-77h0m-89.5 54h0m13-15h0m-10.5-22.5h0m61.5 43h0m-73.5-51.5h0" stroke="#4a2192" stroke-width="4.0" stroke-linecap="round" fill="none" stroke-opacity="0.45"/>
<path d="M1468 740l-111 56l80-80l-71 67l94-41l-93 20l67-39l-28 58l16-75l-20 35l3 10l32 31l-31-84l19 99l-6-30l22-27l-31-17l-10-5l56 8l-41 12l5 10l-23-19l-52 58l26-17l70 19l-65-13l12-18l-39-29l23 0l76 43" fill="none" stroke="none" marker-start="url(#pc)" marker-mid="url(#pc)" marker-end="url(#pc)"/>
</g></g>
<rect x="1334.7" y="694.5" width="138.7" height="103" fill="none" stroke="#111" stroke-width="1.4"/>
<text x="1451" y="786.9" text-anchor="middle" font-weight="bold" font-size="10.6">50μm</text>
<line x1="1433.8" y1="791.7" x2="1467.2" y2="791.7" stroke="#111" stroke-width="1.6"/>
<clipPath id="mc412"><rect x="1334.7" y="808.3" width="138.7" height="103"/></clipPath>
<g clip-path="url(#mc412)"><g filter="url(#sf)">
<rect x="1334.7" y="808.3" width="138.7" height="103" fill="#dadcca"/>
<rect x="1334.7" y="808.3" width="138.7" height="103" filter="url(#nz)"/>
<path d="M1375 881l-32 30l8-83l11 29l-17 23l39 24l22-29l-31 13l15 14l-9-28l-16 33l68-54l33 45l-125-61l15-9l31-18l37 64l1 6l-15-26l-59 23l80-18l-94 5l65-29l27 56l-28-39l-37-41l-19 36l63-32l-52 74l69-27l-8-3l-29-36l39 45l-53 32l31-75l29 9l1-14l-35 8l-17 42l14-11l-4 27l-56-8l12-46l19 27l46-31l-21 31l74 51l-24-56l-105 35l123-18l-81-57l28-2l44 28l-69 68l44-97l36 38l-50 36l41-71l-79 0l-4 69l6-60l40-5l22 13l25 5l-114 58l11-74l1 8l3 40l26-41l22 61l2-56l-13 64l-46-36l34 20l74-40l-2 41l-84 26l2-17l-4-53l47 36l49-58l-89 83l4-12l-50-41l111-13l-32 51l40-6l5-33l3 13l-13-24l-13 41l2-64l18 51l-85 41l57-58l-30 46l-51-66l43-7l75 48l1 10" fill="none" stroke="none" marker-start="url(#pr)" marker-mid="url(#pr)" marker-end="url(#pr)"/>
<path d="M1435 856l-100-35l11 8l2 56l31-68l-20 35l97-30l-93 37l-4 5l18 38l11-65l37 39l-29 33l-33-46l-2-18l-13 3l7-1l-17 33l91-12l-27-45l61 2l-120 78l92-8l-81-68l50 52l-45-12l17 22l59 19l-46-29l-5-14l-12-27l-11 9l-21-31l112 79l-61-27l-8 27l-3-24l4 15l-1-1l-31-4l67 24l50-89l-104 45l79-21l8-21l-93 27l113 19l-39 36l-14-6l6-65" fill="none" stroke="none" marker-start="url(#pc)" marker-mid="url(#pc)" marker-end="url(#pc)"/>
<defs><path id="cp412_0" d="M1423 819 1420 816 1420 813 1421 812 1423 809 1423 816zM1374 838 1374 833 1377 829 1384 821 1382 831 1381 840zM1451 838 1444 832 1439 828 1440 826 1446 825 1452 831zM1461 811 1465 809 1468 806 1471 809 1470 811 1465 812zM1445 887 1448 885 1450 885 1456 884 1455 888 1448 889zM1355 876 1361 871 1364 866 1368 871 1366 874 1363 876zM1451 858 1452 848 1457 844 1459 844 1459 848 1458 852zM1356 855 1355 852 1361 849 1365 847 1365 850 1360 855zM1325 855 1328 851 1333 848 1337 847 1336 850 1333 854zM1440 884 1437 885 1433 879 1433 876 1437 875 1440 882zM1366 918 1366 917 1367 915 1373 911 1372 917 1366 920zM1371 883 1368 881 1368 874 1370 874 1372 877 1372 882zM1464 855 1465 852 1467 850 1469 849 1470 851 1467 853zM1484 861 1480 862 1473 863 1472 860 1477 858 1479 858zM1346 808 1343 807 1346 801 1347 800 1350 802 1347 807zM1466 858 1459 856 1458 852 1459 848 1463 848 1468 857zM1475 876 1469 876 1466 876 1466 874 1465 870 1470 873zM1453 918 1450 916 1454 910 1461 912 1459 915 1455 918zM1467 839 1467 842 1460 838 1459 837 1463 835 1468 838zM1400 819 1404 812 1410 810 1411 812 1411 816 1406 817zM1334 880 1336 878 1343 875 1348 879 1345 881 1339 883zM1389 875 1386 875 1381 875 1380 869 1386 869 1389 872zM1432 878 1429 873 1432 871 1433 866 1438 870 1434 875zM1342 904 1342 902 1341 898 1343 897 1344 899 1345 903z" stroke-linejoin="round"/></defs>
<defs><path id="cp412_1" d="M1390 841 1390 833 1393 827 1396 829 1399 830 1395 836zM1422 889 1423 886 1433 886 1436 888 1433 891 1427 892zM1368 816 1366 819 1356 819 1353 815 1358 814 1363 814zM1442 831 1442 822 1443 818 1446 815 1448 816 1448 823zM1339 894 1342 890 1348 887 1348 890 1349 892 1344 896zM1378 908 1377 909 1372 908 1372 905 1373 903 1377 906zM1424 904 1426 895 1427 894 1430 893 1430 895 1428 899zM1378 868 1377 864 1378 863 1380 862 1381 863 1380 866zM1402 912 1402 908 1408 905 1411 906 1409 909 1405 912zM1393 906 1389 902 1391 899 1394 895 1396 897 1395 903zM1425 826 1423 822 1423 817 1425 816 1428 816 1427 821zM1344 912 1348 908 1351 907 1353 909 1351 911 1347 912zM1331 892 1328 888 1327 885 1330 882 1332 883 1334 892zM1385 857 1386 851 1388 849 1396 846 1395 851 1390 854zM1414 913 1412 909 1412 906 1415 902 1418 906 1416 909zM1372 908 1371 910 1365 911 1364 905 1367 904 1371 905zM1452 877 1453 876 1456 876 1458 877 1458 878 1453 880zM1411 823 1410 820 1412 815 1414 814 1416 817 1414 821zM1458 885 1456 885 1456 879 1458 876 1460 877 1461 883zM1343 903 1339 899 1337 894 1337 891 1341 893 1344 898zM1400 885 1400 887 1394 885 1393 883 1397 883 1400 884z" stroke-linejoin="round"/></defs>
<defs><path id="cp412_2" d="M1365 911 1368 909 1374 904 1376 909 1379 911 1371 913zM1357 851 1358 846 1363 846 1364 851 1361 852 1355 854zM1385 894 1389 886 1392 876 1393 883 1396 886 1392 891zM1424 906 1422 904 1425 901 1432 897 1431 906 1426 908zM1473 811 1474 808 1477 803 1481 800 1484 804 1479 812zM1363 893 1362 892 1362 888 1367 881 1366 888 1366 894zM1466 818 1460 816 1457 815 1456 814 1458 811 1461 814zM1358 864 1354 863 1360 856 1368 848 1364 857 1362 864zM1443 908 1444 903 1449 905 1451 905 1449 909 1445 912zM1420 841 1416 840 1420 835 1423 833 1424 835 1422 840zM1484 868 1478 867 1475 863 1472 858 1478 859 1479 862zM1448 896 1447 895 1449 891 1451 890 1452 894 1450 895zM1439 813 1440 816 1431 814 1430 811 1434 810 1436 810zM1415 862 1414 864 1409 856 1412 854 1414 854 1418 859zM1425 846 1422 845 1421 840 1421 833 1424 836 1429 844zM1362 842 1367 839 1370 835 1375 838 1374 843 1368 844zM1454 853 1455 850 1453 841 1457 838 1461 844 1458 851zM1469 904 1470 901 1474 896 1477 898 1476 901 1474 903zM1380 883 1375 883 1370 880 1371 878 1374 878 1383 880zM1337 811 1338 809 1342 806 1345 807 1344 811 1341 811zM1382 840 1384 837 1388 835 1392 833 1390 837 1387 839zM1388 840 1390 837 1392 837 1396 838 1394 840 1391 841zM1475 841 1472 838 1473 831 1475 828 1478 829 1478 836zM1364 915 1364 912 1367 909 1368 910 1368 913 1366 916zM1452 824 1452 821 1451 813 1457 813 1457 818 1455 823z" stroke-linejoin="round"/></defs>
<defs><path id="cp412_3" d="M1356 885 1351 883 1360 880 1360 881 1363 882 1358 887zM1448 862 1445 863 1438 859 1438 856 1444 856 1449 860zM1368 833 1365 833 1369 829 1375 823 1374 828 1369 835zM1465 832 1462 834 1457 832 1453 829 1459 829 1462 830zM1476 810 1472 806 1471 801 1472 797 1476 797 1477 808zM1343 871 1343 870 1342 866 1345 863 1345 867 1346 871zM1395 873 1393 876 1388 875 1387 872 1390 870 1393 871zM1389 916 1389 911 1389 906 1392 902 1395 906 1392 911zM1444 844 1443 842 1448 838 1450 838 1449 842 1448 845zM1405 838 1405 835 1407 827 1412 824 1414 828 1411 835zM1413 909 1411 904 1412 901 1415 897 1415 900 1415 907zM1416 865 1405 865 1400 862 1400 861 1403 859 1408 862zM1378 845 1374 848 1371 847 1372 846 1372 844 1374 845zM1344 847 1341 845 1338 840 1337 833 1345 834 1349 843zM1428 808 1429 805 1432 805 1438 806 1433 809 1427 810zM1407 865 1409 861 1415 861 1418 862 1416 865 1411 865zM1399 895 1393 892 1389 890 1387 887 1390 887 1398 890zM1347 837 1344 834 1350 827 1352 830 1354 832 1351 836zM1374 859 1372 859 1370 854 1373 852 1377 852 1376 857zM1417 811 1414 809 1412 807 1416 805 1418 805 1418 810zM1368 911 1365 910 1362 907 1361 903 1365 905 1367 908zM1366 836 1365 834 1364 829 1367 826 1367 830 1368 834zM1414 862 1414 859 1415 856 1418 853 1419 858 1417 862zM1474 888 1474 885 1480 885 1482 887 1480 891 1475 889z" stroke-linejoin="round"/></defs>
<g filter="url(#hb)">
<use href="#cp412_0" fill="#8a46c8" fill-opacity="0.45" stroke="#8a46c8" stroke-opacity="0.4" stroke-width="2.6"/>
<use href="#cp412_1" fill="#8a46c8" fill-opacity="0.45" stroke="#8a46c8" stroke-opacity="0.4" stroke-width="2.6"/>
<use href="#cp412_2" fill="#8a46c8" fill-opacity="0.45" stroke="#8a46c8" stroke-opacity="0.4" stroke-width="2.6"/>
<use href="#cp412_3" fill="#8a46c8" fill-opacity="0.45" stroke="#8a46c8" stroke-opacity="0.4" stroke-width="2.6"/>
</g>
<use href="#cp412_0" fill="#6424b8" fill-opacity="0.9" stroke="#6424b8" stroke-opacity="0.9" stroke-width="1.2"/>
<use href="#cp412_1" fill="#7430c2" fill-opacity="0.9" stroke="#7430c2" stroke-opacity="0.9" stroke-width="1.2"/>
<use href="#cp412_2" fill="#8038c6" fill-opacity="0.9" stroke="#8038c6" stroke-opacity="0.9" stroke-width="1.2"/>
<use href="#cp412_3" fill="#5320a6" fill-opacity="0.9" stroke="#5320a6" stroke-opacity="0.9" stroke-width="1.2"/>
<path d="M1421 816h0m-25 15h0m49-2.5h0m-85 54.5h0m88 4h0m-88-72h0m83.5 43.5h0m-69 50h0m16-23h0m37 17h0m35-71h0m-36 64h0m49.5-89h0m-111.5 81h0m-6.5-35h0m99-39.5h0m-51 95.5h0m-44-51h0m75.5 23h0m-14.5-43h0m-15-5h0m18-14.5h0m-13 38h0m-42 22.5h0m52.5-37.5h0m-49 5.5h0m-27.5-44h0m85 3h0m29 44.5h0m-90.5-10h0m43 23.5h0m-84 23.5h0m125-41.5h0m-62 44h0m79 12h0m-65-87h0m-66.5 64h0m76 27.5h0m-76.5-96h0m48 27h0m3.5 2h0m-16.5 16h0m78 24h0m24-48h0m-110 79.5h0m47-92.5h0m46 61h0m-45-71.5h0m-76 87h0m59-8.5h0m-33-56.5h0" stroke="#4a2192" stroke-width="2.4" stroke-linecap="round" fill="none" stroke-opacity="0.45"/>
<path d="M1434 899l-53-9l80 8l-47-15l42 16l-28-29l-50 11l-33 7l0-49l42 13l-39-26l96 56l-54 1l9 9l-8-45l81 54l-60-79l-77 72l43 14l64-46l-87-25l46 35l52-1l-8 36l-39-63l55 11l-51 40l-52-55l89-5l21 31l-53-19l-59 25l74 2" fill="none" stroke="none" marker-start="url(#pc)" marker-mid="url(#pc)" marker-end="url(#pc)"/>
</g></g>
<rect x="1334.7" y="808.3" width="138.7" height="103" fill="none" stroke="#111" stroke-width="1.4"/>
<text x="1451" y="900.7" text-anchor="middle" font-weight="bold" font-size="10.6">50μm</text>
<line x1="1433.8" y1="905.5" x2="1467.2" y2="905.5" stroke="#111" stroke-width="1.6"/>
<clipPath id="mc403"><rect x="1488.2" y="694.5" width="138.7" height="103"/></clipPath>
<g clip-path="url(#mc403)"><g filter="url(#sf)">
<rect x="1488.2" y="694.5" width="138.7" height="103" fill="#e6e8ee"/>
<rect x="1488.2" y="694.5" width="138.7" height="103" filter="url(#nz)"/>
<path d="M1523 730l74 57l29-17l-72 26l56-15l-19 6l-48-21l79-4l-12 27l-101-78l84 83l-24-17l21-35l11 31l22-2l-134-7l109 6l-69-39l10 54l41 10l-75-48l102-10l12 15l-56 14l-8 7l11-2l-63-59l-4 54l117 4l-28-22l-2-14l-34 57l26-59l-44-4l21-19l3-7l-48 29l80 2l-19 25l-68-53l34 80l-13 6l2-23l-4-11l-9-23l71 56l-34-73l66-18l-90 85l54 1l25-51l3-3l-74 39l79-36l-71 18l-2-8l56-19l22 18l4 20l-79-47l-41-14l65 44l-9-6l64 24l-49 15l-61 14l61-50l-69 39l99-79l-112 78l86-67l-29 44l60 7l-87-48l43-22l7 100l-67-17l68 7l-4-16l-3-61l35 52l-26-19l-21-29l-64-2l39 45l33 26l-12-36l-13 6l86 32l-3-47" fill="none" stroke="none" marker-start="url(#pr)" marker-mid="url(#pr)" marker-end="url(#pr)"/>
<path d="M1593 753l-72-37l36 52l7-55l12 36l36 40l-114-94l57 0l72 95l-72-29l-13-48l29 8l27 46l-36 12l-12-62l22 79l6-55l-23-2l-35 44l70-36l34 1l-79 14l-13-66l-5 75l-25-8l89 27l-67-30l89-37l6 44l-129 25l99-32l-91 20l54 13l58-17l-22-81l-32 67l50-11l-113 9l9-2l-8-11l106-21l-66-23l6 49l40 7l-74 22" fill="none" stroke="none" marker-start="url(#pc)" marker-mid="url(#pc)" marker-end="url(#pc)"/>
<defs><path id="cp403_0" d="M1545 781 1542 772 1541 764 1544 758 1548 762 1560 766 1552 772zM1545 755 1546 750 1549 745 1553 746 1556 750 1554 755 1550 762zM1494 763 1489 762 1483 758 1484 754 1485 751 1494 752 1493 759zM1603 798 1608 794 1610 789 1614 790 1615 795 1613 799 1610 802zM1607 749 1605 744 1605 732 1614 739 1614 741 1618 747 1609 749zM1503 704 1493 710 1486 709 1482 701 1482 693 1493 693 1500 700zM1510 804 1503 805 1500 805 1502 795 1504 792 1513 792 1517 804zM1558 750 1548 755 1541 756 1536 752 1537 743 1545 744 1550 746zM1589 787 1597 781 1603 777 1610 780 1610 785 1604 790 1595 789z" stroke-linejoin="round"/></defs>
<defs><path id="cp403_1" d="M1500 796 1495 789 1496 785 1499 781 1505 778 1507 786 1504 790zM1583 716 1586 713 1590 710 1596 709 1595 715 1595 718 1584 721zM1485 731 1487 728 1494 726 1499 728 1500 733 1493 733 1490 732zM1581 720 1581 715 1579 706 1583 702 1592 705 1593 712 1592 721zM1531 800 1530 803 1522 801 1522 792 1521 788 1530 785 1534 795zM1585 699 1580 697 1581 689 1586 682 1591 682 1596 694 1592 696zM1614 794 1608 790 1601 786 1603 782 1610 779 1612 783 1616 790zM1577 712 1574 706 1572 700 1577 694 1589 686 1585 700 1587 714zM1558 714 1555 716 1551 712 1552 705 1559 701 1562 709 1561 712zM1512 799 1513 796 1518 792 1524 794 1522 797 1521 800 1513 803zM1547 791 1542 796 1540 785 1540 778 1545 774 1553 782 1554 789z" stroke-linejoin="round"/></defs>
<defs><path id="cp403_2" d="M1512 705 1507 705 1501 701 1508 696 1511 697 1513 698 1516 703zM1495 774 1495 763 1512 759 1516 763 1528 763 1516 770 1510 776zM1612 715 1609 710 1613 706 1616 702 1619 705 1619 712 1618 717zM1537 744 1531 737 1543 735 1548 740 1551 742 1543 746 1540 747zM1531 759 1532 754 1535 751 1541 752 1544 755 1541 764 1533 764zM1503 695 1500 695 1496 693 1495 687 1500 686 1507 688 1504 695zM1577 764 1572 763 1577 755 1581 754 1589 751 1584 760 1579 764zM1534 796 1529 786 1538 784 1557 774 1556 786 1552 793 1545 800zM1558 774 1560 767 1567 762 1586 759 1575 769 1569 777 1561 776zM1540 716 1541 723 1531 725 1529 717 1526 711 1531 711 1539 713zM1608 713 1610 707 1614 701 1617 703 1621 703 1623 709 1615 712zM1563 712 1566 710 1570 708 1577 708 1578 716 1572 718 1564 716zM1503 734 1497 740 1486 731 1480 727 1485 724 1490 723 1498 724z" stroke-linejoin="round"/></defs>
<defs><path id="cp403_3" d="M1602 780 1596 769 1601 759 1608 755 1608 762 1615 768 1606 779zM1504 738 1509 733 1512 728 1519 729 1523 736 1515 738 1507 742zM1541 769 1546 760 1546 753 1551 752 1554 758 1552 760 1550 763zM1547 773 1541 779 1536 774 1539 763 1541 761 1547 766 1550 768zM1550 751 1553 749 1556 746 1562 749 1562 755 1556 757 1553 756zM1617 793 1615 785 1621 779 1626 778 1632 783 1630 789 1623 797zM1588 745 1583 742 1578 737 1580 727 1586 731 1589 736 1590 739zM1568 748 1561 743 1564 737 1567 729 1568 731 1575 730 1570 741zM1535 763 1527 758 1534 750 1537 739 1542 747 1546 751 1542 762z" stroke-linejoin="round"/></defs>
<g filter="url(#hb)">
<use href="#cp403_0" fill="#8a46c8" fill-opacity="0.45" stroke="#8a46c8" stroke-opacity="0.4" stroke-width="4.5"/>
<use href="#cp403_1" fill="#8a46c8" fill-opacity="0.45" stroke="#8a46c8" stroke-opacity="0.4" stroke-width="4.5"/>
<use href="#cp403_2" fill="#8a46c8" fill-opacity="0.45" stroke="#8a46c8" stroke-opacity="0.4" stroke-width="4.5"/>
<use href="#cp403_3" fill="#8a46c8" fill-opacity="0.45" stroke="#8a46c8" stroke-opacity="0.4" stroke-width="4.5"/>
</g>
<use href="#cp403_0" fill="#8a38c8" fill-opacity="0.9" stroke="#8a38c8" stroke-opacity="0.9" stroke-width="1.2"/>
<use href="#cp403_1" fill="#5a1aa6" fill-opacity="0.9" stroke="#5a1aa6" stroke-opacity="0.9" stroke-width="1.2"/>
<use href="#cp403_2" fill="#7a2cc2" fill-opacity="0.9" stroke="#7a2cc2" stroke-opacity="0.9" stroke-width="1.2"/>
<use href="#cp403_3" fill="#6a22b6" fill-opacity="0.9" stroke="#6a22b6" stroke-opacity="0.9" stroke-width="1.2"/>
<path d="M1546.5 769h0m-45.5 17.5h0m8-84.5h0m0.5 67h0m32.5-27h0m64.5 25h0m-71-7.5h0m14-8.5h0m-61.5 8h0m121.5 39h0m-66-9h0m-49.5-60h0m92-17h0m-72 21h0m14 60.5h0m40-23.5h0m-32.5-55.5h0m52.5-21.5h0m-96 10h0m14 97.5h0m40-52.5h0m67-42.5h0m-64.5 53h0m21.5-45h0m-13 38h0m19.5-50h0m-86.5 25h0m47.5 24h0" stroke="#4a2192" stroke-width="4.0" stroke-linecap="round" fill="none" stroke-opacity="0.45"/>
<path d="M1561 781l-37-82l9 16l44-10l-53 31l69-2l-82-29l35 13l-48 28l78-11l48 2l-61-31l1 58l-75-35l26 43l2-34l53 21l-71 6l110 14l-39-4l-11-15l36-46l-107 45l64-36l19 70l37-2l-8 1l-1-84l13 58l-55 29" fill="none" stroke="none" marker-start="url(#pc)" marker-mid="url(#pc)" marker-end="url(#pc)"/>
</g></g>
<rect x="1488.2" y="694.5" width="138.7" height="103" fill="none" stroke="#111" stroke-width="1.4"/>
<text x="1604.5" y="786.9" text-anchor="middle" font-weight="bold" font-size="10.6">50μm</text>
<line x1="1587.3" y1="791.7" x2="1620.7" y2="791.7" stroke="#111" stroke-width="1.6"/>
<clipPath id="mc413"><rect x="1488.2" y="808.3" width="138.7" height="103"/></clipPath>
<g clip-path="url(#mc413)"><g filter="url(#sf)">
<rect x="1488.2" y="808.3" width="138.7" height="103" fill="#dedee8"/>
<rect x="1488.2" y="808.3" width="138.7" height="103" filter="url(#nz)"/>
<path d="M1602 874l-49-57l33 21l-7-15l19 14l-36-3l37 33l-44 39l-40-69l15-14l2 18l-32 2l34 67l74-76l-12 23l-100 33l38 14l83-30l-60 23l25-35l-32-43l16 34l42-40l-78 87l52-42l-48-11l56 48l-19-41l-44-8l60 45l5-66l-51 24l72 50l13-18l-11 8l-96-34l69 41l-64-15l-29-38l20-27l75 60l32 1l-42-34l36 43l-32 15l-76-1l95-81l-1 23l23 66l-48-70l-26 57l70-37l-77 14l-30-49l106 43l-58 26l55 12l-100-73l59-23l-41 8l14 18l-8 44l-9-65l7 21l58-21l1 87l7-50l-9-24l-100 77l35-66l5-29l26 47l35 22l-6-59l-70 83l-16-46l15 28l76 6l9 1l17 16l-33-53l21-21l-105-14l11 47l-26 24l53-7l65 15l-62-66l-41 54l87-72l-50 57l42-7l4-35l4-11l-14-2l-2 65l27-13l-90-23l-4-6l34 8" fill="none" stroke="none" marker-start="url(#pr)" marker-mid="url(#pr)" marker-end="url(#pr)"/>
<path d="M1609 903l-109-17l121-70l-84 84l77-82l-35 15l-27 2l55 37l-64-50l-16 15l63 30l-66-36l84-12l-104 59l51 15l-6-12l-20 27l25-16l34-25l-75 34l67-61l-1 12l31-4l-71 7l71 48l-8-6l-43-85l-51 82l27-28l64-51l5 86l-9-58l-18 67l-19-12l-51-30l47-30l-28 41l-30-25l27-20l-34 50l82 24l44-43l-36 33l-22 10l-48-91l25 77l-42-14l92-14l-64-23l98 32" fill="none" stroke="none" marker-start="url(#pc)" marker-mid="url(#pc)" marker-end="url(#pc)"/>
<defs><path id="cp413_0" d="M1565 811 1560 809 1564 802 1566 800 1568 803 1567 807zM1528 823 1535 820 1538 820 1541 822 1538 823 1534 824zM1560 868 1552 867 1547 866 1547 862 1553 861 1561 865zM1520 828 1522 824 1523 822 1529 817 1527 824 1523 828zM1635 827 1630 828 1627 828 1626 825 1628 825 1631 826zM1558 867 1554 867 1550 867 1550 864 1551 860 1555 865zM1499 882 1495 881 1492 876 1492 874 1494 872 1499 878zM1527 852 1523 852 1517 850 1519 847 1521 845 1527 850zM1547 847 1552 844 1556 843 1559 845 1557 846 1554 848zM1633 884 1630 883 1630 878 1630 875 1633 873 1633 881zM1578 871 1575 866 1572 859 1573 854 1576 856 1579 863zM1557 842 1554 833 1557 827 1562 821 1562 825 1561 834zM1543 838 1541 837 1542 834 1544 829 1545 834 1544 837zM1596 867 1597 862 1599 861 1602 859 1603 861 1600 865zM1501 874 1496 874 1492 871 1491 868 1495 869 1498 870zM1590 899 1592 896 1594 892 1596 889 1596 894 1595 899z" stroke-linejoin="round"/></defs>
<defs><path id="cp413_1" d="M1582 844 1579 841 1579 837 1579 835 1582 836 1584 841zM1556 903 1549 902 1542 898 1542 895 1541 891 1548 895zM1496 823 1493 820 1492 818 1490 811 1495 812 1497 820zM1529 892 1527 888 1528 887 1530 885 1534 883 1530 889zM1568 858 1565 859 1569 854 1572 852 1571 855 1571 859zM1542 890 1544 887 1547 884 1552 880 1550 885 1547 888zM1494 869 1491 868 1488 864 1486 859 1490 860 1496 866zM1537 873 1531 875 1522 869 1523 863 1527 863 1533 869zM1579 852 1579 849 1582 844 1583 845 1584 847 1584 851zM1603 880 1607 878 1610 878 1612 879 1611 881 1604 882zM1505 827 1502 825 1507 823 1511 821 1511 823 1509 826zM1504 844 1508 839 1513 840 1520 841 1512 845 1508 847zM1575 921 1572 919 1570 913 1571 912 1573 913 1575 915zM1535 849 1531 849 1526 850 1524 846 1528 845 1532 844zM1598 876 1597 873 1602 872 1607 869 1603 875 1599 880z" stroke-linejoin="round"/></defs>
<defs><path id="cp413_2" d="M1627 810 1624 808 1635 806 1636 807 1633 811 1629 813zM1627 844 1628 840 1633 833 1637 834 1634 841 1631 844zM1490 893 1486 891 1483 888 1483 882 1488 886 1493 888zM1551 876 1553 869 1555 861 1558 860 1561 863 1558 869zM1577 866 1576 860 1579 854 1584 852 1584 860 1581 866zM1537 899 1535 897 1535 891 1541 890 1545 894 1541 903zM1614 816 1610 814 1608 811 1609 809 1612 808 1615 814zM1563 807 1562 809 1556 809 1553 805 1555 804 1559 805zM1565 841 1561 841 1559 837 1559 834 1561 834 1564 836zM1543 841 1540 839 1541 834 1544 833 1545 834 1544 842zM1486 884 1482 881 1480 874 1481 871 1485 874 1486 879zM1576 882 1580 876 1580 872 1584 870 1584 875 1582 878zM1498 867 1502 861 1503 858 1505 859 1505 861 1503 864zM1517 877 1513 878 1513 872 1515 866 1519 871 1520 876zM1614 822 1613 820 1619 818 1623 818 1622 821 1614 826zM1547 878 1547 879 1541 877 1539 873 1542 872 1551 874zM1524 907 1521 910 1517 907 1515 905 1518 903 1521 903z" stroke-linejoin="round"/></defs>
<defs><path id="cp413_3" d="M1566 834 1564 835 1556 836 1555 831 1557 829 1568 832zM1558 841 1562 839 1565 836 1567 840 1565 843 1562 843zM1571 838 1566 836 1563 835 1562 831 1566 833 1569 833zM1603 889 1599 885 1598 879 1599 876 1602 878 1602 882zM1547 849 1548 846 1550 844 1552 844 1553 846 1549 848zM1512 832 1512 830 1516 828 1519 829 1517 830 1514 833zM1538 860 1536 859 1535 856 1537 855 1538 855 1539 857zM1611 917 1607 915 1602 910 1603 909 1606 909 1607 911zM1511 826 1505 823 1502 821 1502 818 1505 818 1510 821zM1512 846 1509 847 1509 837 1512 833 1513 838 1515 845zM1526 923 1524 922 1518 911 1518 908 1525 910 1527 915zM1556 855 1556 851 1556 848 1559 847 1560 847 1559 850zM1605 887 1600 890 1587 891 1590 886 1591 883 1597 884zM1549 828 1552 827 1555 826 1558 828 1557 830 1552 830zM1600 866 1602 862 1604 861 1607 859 1605 863 1603 865zM1532 910 1528 911 1524 910 1524 908 1525 907 1530 908zM1621 861 1622 859 1627 858 1629 859 1626 861 1621 863zM1491 819 1490 824 1482 821 1482 816 1487 812 1489 817z" stroke-linejoin="round"/></defs>
<g filter="url(#hb)">
<use href="#cp413_0" fill="#8a46c8" fill-opacity="0.45" stroke="#8a46c8" stroke-opacity="0.4" stroke-width="2.6"/>
<use href="#cp413_1" fill="#8a46c8" fill-opacity="0.45" stroke="#8a46c8" stroke-opacity="0.4" stroke-width="2.6"/>
<use href="#cp413_2" fill="#8a46c8" fill-opacity="0.45" stroke="#8a46c8" stroke-opacity="0.4" stroke-width="2.6"/>
<use href="#cp413_3" fill="#8a46c8" fill-opacity="0.45" stroke="#8a46c8" stroke-opacity="0.4" stroke-width="2.6"/>
</g>
<use href="#cp413_0" fill="#7430c2" fill-opacity="0.9" stroke="#7430c2" stroke-opacity="0.9" stroke-width="1.2"/>
<use href="#cp413_1" fill="#5320a6" fill-opacity="0.9" stroke="#5320a6" stroke-opacity="0.9" stroke-width="1.2"/>
<use href="#cp413_2" fill="#8038c6" fill-opacity="0.9" stroke="#8038c6" stroke-opacity="0.9" stroke-width="1.2"/>
<use href="#cp413_3" fill="#6424b8" fill-opacity="0.9" stroke="#6424b8" stroke-opacity="0.9" stroke-width="1.2"/>
<path d="M1565 807h0m67 1.5h0m-71.5 24.5h0m3 6h0m-12.5 27h0m-27-41h0m28 42h0m-57.5-47.5h0m33.5 70h0m42-35.5h0m-49-5h0m60 11.5h0m-32 26h0m1-38.5h0m-58 17h0m37 1.5h0m7-10.5h0m94.5 25h0m-53.5-20h0m28 50.5h0m-45-82.5h0m49.5-16h0m-28.5 34h0m-23.5-40.5h0m52 74h0m-66.5-46.5h0m-36.5-10.5h0m36 12.5h0m-61 42h0m118-14h0m-90.5-19h0m63.5 69.5h0m-62-73h0m11.5 73.5h0m-17.5-54.5h0m89 27h0m-38.5-59.5h0m-26.5 21h0m90-29.5h0m-16 41.5h0m-75.5 48.5h0m95.5-48.5h0m-20 12.5h0m-115-57.5h0" stroke="#4a2192" stroke-width="2.4" stroke-linecap="round" fill="none" stroke-opacity="0.45"/>
<path d="M1492 843l112-34l-42 15l-69-8l16 18l11 2l107 18l-90-34l-20-9l58 84l17-85l28 64l-109-25l65 34l25 7l14-24l7-16l-66 18l-66-33l120 47l-34-51l28-13l-10 46l11-28l-102 23l112-46l9 5l-18 74l-42-60l-27-8l6 74l-20-19l99 3" fill="none" stroke="none" marker-start="url(#pc)" marker-mid="url(#pc)" marker-end="url(#pc)"/>
</g></g>
<rect x="1488.2" y="808.3" width="138.7" height="103" fill="none" stroke="#111" stroke-width="1.4"/>
<text x="1604.5" y="900.7" text-anchor="middle" font-weight="bold" font-size="10.6">50μm</text>
<line x1="1587.3" y1="905.5" x2="1620.7" y2="905.5" stroke="#111" stroke-width="1.6"/>
</svg></body></html>
